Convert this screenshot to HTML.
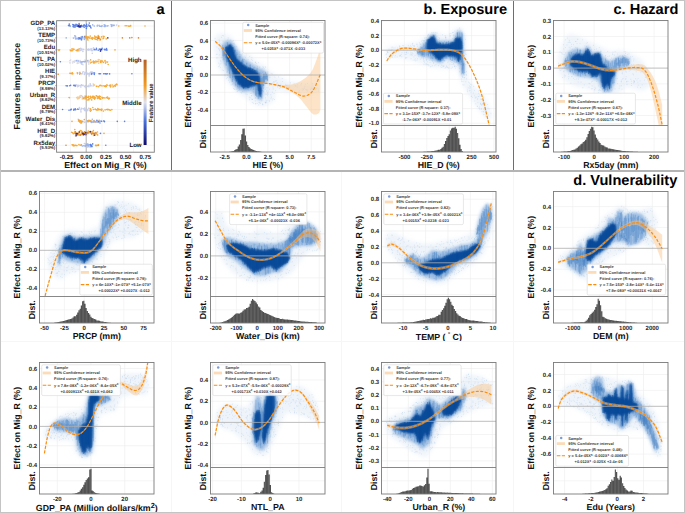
<!DOCTYPE html>
<html><head><meta charset="utf-8"><style>
html,body{margin:0;padding:0;background:#fff;width:685px;height:513px;overflow:hidden}
svg{display:block;font-family:"Liberation Sans", sans-serif;text-rendering:geometricPrecision}
</style></head><body>
<svg width="685" height="513" viewBox="0 0 685 513">
<defs>
<pattern id="hpat" patternUnits="userSpaceOnUse" width="1.4" height="10"><rect width="1.4" height="10" fill="#646464"/><rect width="0.45" height="10" fill="#404040"/></pattern>
<filter id="bl0" x="-20%" y="-20%" width="140%" height="140%"><feGaussianBlur stdDeviation="1.0"/></filter>
<filter id="bl1" x="-20%" y="-20%" width="140%" height="140%"><feGaussianBlur stdDeviation="1.6"/></filter>
<filter id="bl2" x="-20%" y="-20%" width="140%" height="140%"><feGaussianBlur stdDeviation="2.5"/></filter>
<clipPath id="c_HIE"><rect x="210.5" y="20.5" width="114.5" height="105"/></clipPath>
<clipPath id="c_HIE_D"><rect x="381.5" y="20.5" width="114.5" height="105"/></clipPath>
<clipPath id="c_Rx5day"><rect x="553.5" y="20.5" width="114.5" height="105"/></clipPath>
<clipPath id="c_PRCP"><rect x="39.5" y="191.5" width="114.5" height="105"/></clipPath>
<clipPath id="c_Water_Dis"><rect x="210.5" y="191.5" width="114.5" height="105"/></clipPath>
<clipPath id="c_TEMP"><rect x="381.5" y="191.5" width="114.5" height="105"/></clipPath>
<clipPath id="c_DEM"><rect x="553.5" y="191.5" width="114.5" height="105"/></clipPath>
<clipPath id="c_GDP_PA"><rect x="39.5" y="362.5" width="114.5" height="105"/></clipPath>
<clipPath id="c_NTL_PA"><rect x="210.5" y="362.5" width="114.5" height="105"/></clipPath>
<clipPath id="c_Urban_R"><rect x="381.5" y="362.5" width="114.5" height="105"/></clipPath>
<clipPath id="c_Edu"><rect x="553.5" y="362.5" width="114.5" height="105"/></clipPath>
</defs>
<rect x="0" y="0" width="685" height="513" fill="#fff"/>
<path d="M224.7 20.5V152M246.3 20.5V152M267.9 20.5V152M289.6 20.5V152M311.2 20.5V152M210.5 23.1H325M210.5 40.4H325M210.5 57.7H325M210.5 92.3H325M210.5 109.6H325M210.5 138.8H325" stroke="#ececec" stroke-width="0.6" fill="none"/>
<g clip-path="url(#c_HIE)">
<path d="M214.3 36.2 L221.4 33.1 L230.7 36.2 L238.5 48.7 L247.9 53.3 L255.7 61.2 L265.0 66.0 L272.8 74.0 L290.0 82.0 L318.0 84.0 L320.0 92.0 L290.0 93.0 L275.9 89.3 L274.4 100.2 L265.0 106.4 L255.7 104.9 L244.7 97.1 L235.4 90.8 L226.0 79.9 L218.2 65.9 L214.3 50.3Z" fill="#dde9f6" fill-opacity="0.5" filter="url(#bl2)"/>
<path d="M245.9 72.7h0M218.8 48.4h0M272.4 92.2h0M220.5 43.9h0M281.0 84.2h0M259.7 102.8h0M222.3 70.0h0M236.8 63.0h0M259.8 96.0h0M220.3 60.8h0M307.7 83.4h0M229.0 59.4h0M274.1 93.5h0M263.6 91.7h0M305.3 84.2h0M242.5 78.5h0M220.9 63.7h0M230.5 74.9h0M259.8 66.3h0M269.5 101.3h0M219.6 65.9h0M239.4 52.1h0M261.2 73.6h0M265.4 97.9h0M233.5 88.5h0M243.6 51.9h0M294.1 83.7h0M267.5 93.3h0M273.1 98.7h0M259.1 85.5h0M252.3 74.5h0M246.0 94.0h0M257.5 96.2h0M274.4 99.5h0M269.9 77.3h0M226.3 78.6h0M256.1 75.4h0M258.0 66.2h0M252.3 66.3h0M266.2 93.9h0M312.9 88.3h0M237.2 50.3h0M253.6 103.3h0M264.9 87.2h0M218.7 49.0h0M242.4 53.7h0M269.3 89.2h0M243.1 76.5h0M255.7 68.0h0M267.7 79.5h0M219.4 50.6h0M261.1 99.1h0M232.2 45.6h0M243.7 88.6h0M255.8 103.7h0M227.4 72.1h0M297.3 87.1h0M229.4 65.5h0M219.9 64.2h0M301.0 84.8h0M238.6 73.1h0M312.9 86.0h0M234.7 68.4h0M261.3 74.0h0M267.4 95.6h0M235.7 84.5h0M316.4 88.8h0M243.1 80.5h0M299.8 92.5h0M257.3 87.1h0M244.0 71.0h0M262.4 103.8h0M248.2 79.9h0M236.8 46.7h0M246.2 81.6h0M258.0 73.9h0M221.4 37.3h0M260.8 94.0h0M302.2 90.1h0M258.9 93.2h0M230.5 69.3h0M221.0 61.8h0M318.5 91.0h0M227.6 51.6h0M241.5 74.8h0M259.7 67.5h0M256.8 89.7h0M219.7 54.9h0M246.6 63.3h0M230.5 40.1h0M261.1 75.1h0M234.6 89.2h0M268.0 90.3h0M286.1 85.8h0M238.1 80.6h0M263.6 77.0h0M219.4 44.4h0M223.6 48.5h0M247.4 79.7h0M252.3 102.5h0M224.3 63.1h0M244.9 56.3h0M232.4 79.7h0M252.2 63.1h0M271.2 73.6h0M295.2 85.8h0M217.8 57.9h0M245.4 76.3h0M272.3 100.0h0M248.1 85.9h0M250.4 85.4h0M220.6 67.3h0M261.7 78.4h0M254.4 80.4h0M237.2 54.2h0M251.1 77.5h0M229.1 71.1h0M267.6 92.4h0M310.4 89.4h0M224.3 51.0h0M306.9 90.2h0M249.7 56.4h0M217.0 47.0h0M239.4 89.4h0M253.8 92.2h0M231.3 62.4h0M275.7 90.7h0M312.3 91.2h0M241.6 66.7h0M266.5 87.9h0M229.1 76.3h0M248.0 73.9h0M231.6 58.2h0M217.2 54.4h0M234.5 80.6h0M250.6 65.8h0M234.9 71.9h0M274.8 77.1h0M243.0 75.0h0M258.2 93.6h0M260.6 94.9h0M235.5 68.4h0M261.8 100.7h0M246.4 63.8h0M273.8 81.9h0M264.3 68.8h0M251.5 93.3h0M229.3 72.6h0M226.1 56.9h0M276.1 80.5h0M234.7 46.6h0M256.7 63.5h0M269.7 85.6h0M260.3 103.4h0M222.0 47.5h0M266.0 102.8h0M255.7 95.5h0M280.5 87.5h0M266.7 76.2h0M245.8 68.3h0M224.6 61.6h0M222.3 35.5h0M254.4 67.8h0M260.4 88.3h0M227.8 39.9h0M274.0 82.8h0M239.2 67.0h0M261.9 87.2h0M244.0 79.7h0M265.8 75.1h0M279.8 88.4h0M237.5 87.2h0M228.2 38.0h0M287.1 85.1h0M245.3 65.3h0M255.7 62.3h0M265.9 100.1h0M257.2 103.5h0M224.0 48.3h0M252.8 84.5h0M240.9 92.4h0M228.2 43.2h0M226.7 42.3h0M237.8 91.0h0M226.0 74.2h0M282.5 81.5h0M269.2 100.4h0M245.2 67.4h0M250.0 97.9h0M262.0 86.3h0M241.5 67.1h0M245.4 57.5h0M242.4 91.6h0M252.7 60.4h0M216.5 54.3h0M252.4 99.5h0M226.4 43.6h0M296.0 86.0h0M255.1 64.8h0M227.4 60.0h0M237.8 74.9h0M299.6 90.8h0M257.1 98.1h0M228.4 80.2h0M235.0 89.3h0M270.8 94.7h0M263.9 85.2h0M224.1 46.2h0M305.8 89.3h0M244.2 68.4h0M288.4 87.6h0M266.3 102.0h0M219.1 40.1h0M301.6 83.4h0M271.0 98.7h0M241.1 55.0h0M258.8 104.9h0M222.4 57.2h0M280.9 86.4h0M273.2 88.9h0M218.7 66.7h0M265.4 102.9h0M267.8 72.1h0M233.7 55.6h0M233.9 71.8h0M257.2 66.6h0M255.2 80.2h0M237.7 60.3h0M223.0 41.3h0M261.4 77.0h0M236.3 89.3h0M298.8 92.2h0M227.3 77.5h0M225.2 46.0h0M236.0 46.2h0M250.7 89.2h0M267.0 79.2h0M248.8 90.4h0M266.5 90.3h0M266.3 75.0h0M222.0 44.7h0M223.7 61.0h0M225.2 47.0h0M245.1 82.1h0M225.5 52.8h0M256.9 65.3h0M253.4 80.6h0M279.8 86.2h0M258.5 62.7h0M286.0 85.1h0M223.4 35.8h0M224.3 49.2h0M243.3 79.4h0M255.3 62.9h0M237.4 73.0h0M272.3 74.0h0M317.1 88.1h0M219.1 42.9h0M253.5 83.0h0M236.5 77.2h0M272.6 83.1h0M231.7 46.9h0M258.6 88.4h0M261.0 76.3h0M271.5 97.2h0M221.2 57.4h0M282.3 78.6h0M267.5 83.5h0M294.3 92.0h0M248.6 79.1h0M230.4 77.3h0M252.2 86.0h0M231.1 84.9h0M232.0 41.1h0M223.5 70.5h0M256.5 85.0h0M257.4 67.3h0M232.4 71.0h0M259.0 102.4h0M251.6 95.6h0M250.6 74.4h0M256.2 72.5h0M219.4 49.4h0M236.2 56.0h0M250.3 93.5h0M260.0 82.8h0M227.6 75.1h0M242.8 69.3h0M268.5 92.0h0M227.3 58.6h0M215.1 38.4h0M263.4 67.3h0M304.9 86.2h0M255.2 98.2h0M260.0 83.8h0M232.6 84.2h0M261.0 96.4h0M307.0 89.7h0M233.8 63.8h0M244.1 59.5h0M243.6 72.0h0M245.4 67.7h0M252.9 74.3h0M236.1 64.4h0M262.0 76.3h0M312.5 89.4h0M255.6 100.9h0M262.9 66.4h0M268.0 93.9h0M251.8 95.8h0M239.6 56.8h0M277.4 86.9h0M249.7 97.1h0M252.0 86.4h0M262.9 90.8h0M225.7 75.8h0M250.1 62.9h0M253.1 91.8h0M261.4 87.7h0M287.7 88.3h0M278.6 76.9h0M304.6 88.1h0M241.7 93.0h0M238.5 76.2h0M227.8 51.3h0M255.1 89.1h0M247.7 73.1h0M264.0 71.7h0M303.5 89.6h0M236.7 67.7h0M228.1 53.3h0M273.0 86.9h0M259.8 76.8h0M237.2 91.6h0M265.1 67.1h0M255.4 97.6h0M257.7 80.6h0M231.3 73.7h0M265.1 93.9h0M297.7 84.8h0M241.6 65.8h0M230.3 44.4h0M229.0 63.7h0M251.9 98.9h0M266.2 74.2h0M245.0 81.4h0M252.0 77.0h0M229.3 55.7h0M255.3 62.2h0M226.5 64.3h0M225.1 63.5h0M262.3 72.5h0M236.6 63.3h0M265.4 102.4h0M224.8 75.6h0M277.7 83.0h0M311.2 88.3h0M233.1 73.7h0M303.0 88.6h0M256.8 83.1h0M292.9 89.9h0M233.5 78.3h0M252.1 78.0h0M233.7 43.4h0M234.6 44.1h0M256.3 72.3h0M241.1 84.3h0M268.0 94.5h0M242.6 60.1h0M285.4 84.3h0M232.1 73.2h0M237.0 79.1h0M232.4 64.7h0M276.8 83.2h0M239.3 69.2h0M265.1 102.4h0M258.8 99.0h0M307.8 91.2h0M235.9 50.9h0M219.5 41.1h0M232.0 73.2h0M263.0 104.6h0M242.7 82.9h0M262.5 104.7h0M247.5 66.8h0M229.9 73.2h0M256.8 89.0h0M232.8 49.0h0M232.4 61.6h0M236.6 66.4h0M234.9 57.3h0M256.6 95.7h0M248.1 59.7h0M239.8 54.5h0M265.3 89.1h0M247.5 80.3h0M257.6 71.6h0M249.8 79.2h0M251.7 59.6h0M237.9 88.8h0M242.9 85.1h0M265.7 67.0h0M225.0 64.7h0M297.8 92.6h0M266.8 91.6h0M237.8 54.2h0M267.2 76.3h0M263.0 91.0h0M235.9 66.4h0M228.2 56.5h0M257.2 89.1h0M226.6 72.2h0M229.4 82.1h0M312.6 83.8h0M244.0 73.6h0M252.1 99.5h0M249.3 81.9h0M229.4 57.7h0M262.9 68.3h0M267.9 87.8h0M234.9 51.0h0M274.0 81.7h0M227.3 71.4h0M262.7 90.5h0M262.0 98.4h0M286.3 88.0h0M255.4 103.7h0M290.5 82.8h0M233.4 40.7h0M229.2 51.3h0M244.6 59.5h0M280.1 85.1h0M225.3 45.3h0M256.1 69.8h0M233.3 59.0h0M246.6 74.9h0M248.1 89.4h0M247.7 74.4h0M249.2 68.4h0M217.3 44.0h0M216.6 57.9h0M265.9 102.0h0M289.7 87.2h0M249.7 99.7h0M238.9 90.4h0M266.9 100.5h0M248.4 77.2h0M313.3 89.8h0M232.2 46.8h0M261.1 96.9h0M240.7 66.0h0M243.4 61.6h0M251.9 57.8h0M224.9 74.5h0M254.2 66.9h0M235.2 71.6h0M230.7 56.3h0M256.2 77.2h0M247.2 94.4h0M318.5 89.0h0M275.8 81.3h0M270.4 83.9h0M266.2 94.6h0M218.7 63.1h0" stroke="#a3c2e6" stroke-opacity="0.35" stroke-width="1" stroke-linecap="round"/>
<path d="M221.5 46.0 L225.0 41.0 L231.0 40.5 L236.0 47.0 L243.0 58.0 L252.0 64.0 L259.0 68.0 L264.0 70.0 L268.0 74.0 L267.5 82.0 L264.0 84.0 L263.0 95.0 L261.0 101.0 L257.0 98.0 L252.0 91.0 L244.0 92.0 L238.0 90.0 L233.0 84.0 L228.0 74.0 L223.0 60.0Z" fill="#4d8acb" fill-opacity="0.5" filter="url(#bl1)"/>
<path d="M221.6 46.0V46.6M222.0 47.3V48.4M222.7 45.0V56.2M223.3 47.6V60.2M223.7 47.0V56.3M224.5 49.1V55.9M224.8 50.1V60.4M225.5 51.2V58.0M226.2 49.9V65.9M226.6 51.7V62.6M227.1 49.8V62.0M227.5 42.1V59.2M228.2 48.2V70.8M229.0 52.4V61.0M229.5 45.1V74.4M230.1 53.9V78.1M230.7 43.4V67.4M231.2 44.2V65.0M231.8 59.4V65.2M232.3 52.0V82.0M232.7 61.0V77.9M233.3 54.7V76.5M234.0 56.6V80.1M234.6 62.4V77.5M235.3 49.5V80.9M235.9 54.2V86.1M236.2 63.6V82.2M236.8 51.9V72.0M237.6 64.9V87.1M238.1 56.2V77.7M238.5 60.4V74.9M239.1 59.9V88.4M239.9 55.9V77.7M240.6 63.8V81.0M241.2 70.6V79.6M241.6 59.8V80.7M242.2 70.9V81.0M242.6 58.7V76.5M243.0 59.4V82.7M243.7 65.1V85.8M244.2 69.9V82.8M244.9 72.8V78.9M245.7 69.9V79.1M246.3 66.0V81.4M246.8 62.7V78.9M247.5 69.9V87.7M248.0 67.8V89.3M248.3 74.9V80.8M248.9 73.1V86.2M249.3 64.7V79.8M249.8 68.5V80.0M250.5 64.4V81.5M251.0 71.5V84.2M251.6 69.4V88.4M252.3 68.9V87.4M252.8 69.2V87.1M253.3 77.3V83.6M253.8 67.3V89.9M254.2 74.0V86.6M254.8 74.5V87.2M255.6 75.6V95.6M256.0 69.6V94.9M256.7 70.0V96.8M257.1 68.1V87.4M257.8 79.5V89.9M258.3 76.8V98.9M259.1 76.9V86.4M259.8 72.5V96.2M260.3 77.8V90.1M261.0 74.9V91.2M261.7 78.5V97.8M262.1 77.4V87.4M262.8 76.5V85.9M263.2 74.0V89.1M263.7 73.9V86.0M264.1 73.7V83.8M264.6 74.2V82.7M265.1 75.9V79.4M265.6 71.8V80.0M266.1 74.2V78.9M266.5 74.0V79.7M267.2 73.6V81.2M267.6 75.2V80.6" stroke="#2f71bb" stroke-opacity="0.3" stroke-width="0.9" fill="none"/>
<path d="M225.5 47.0 L230.5 44.5 L233.5 48.0 L236.0 58.0 L242.7 64.0 L247.0 67.0 L252.3 69.5 L257.7 72.2 L259.5 75.0 L260.0 84.0 L261.5 90.0 L260.5 98.0 L258.5 93.0 L257.7 84.5 L252.3 86.0 L245.0 88.5 L240.0 86.0 L237.0 81.5 L233.0 73.0 L228.0 61.0 L225.5 52.0Z" fill="#0b4e9d" filter="url(#bl0)"/>
<path d="M225.6 47.1V52.0M226.0 46.7V52.9M226.5 46.9V56.2M227.1 46.4V58.4M227.8 47.9V59.1M228.2 47.8V62.0M228.8 45.3V61.5M229.2 44.2V61.8M229.8 45.0V64.1M230.4 44.8V66.4M231.2 46.3V68.9M231.6 47.3V66.6M232.2 47.3V70.6M232.9 47.0V72.1M233.6 51.9V74.8M234.1 49.9V72.2M234.7 55.1V75.3M235.2 57.5V77.3M235.7 56.7V79.1M236.1 58.8V79.0M236.6 60.8V81.4M237.2 59.2V80.5M237.9 60.5V84.4M238.5 62.3V83.4M239.0 61.1V85.0M239.4 62.8V84.3M240.0 62.7V84.8M240.4 61.9V83.3M241.2 62.7V83.0M241.8 61.7V86.7M242.4 65.0V86.7M243.0 65.6V87.9M243.4 65.9V88.9M244.1 64.4V88.1M244.6 66.9V86.1M245.2 65.3V86.9M245.7 66.4V86.0M246.2 67.4V87.1M246.9 66.8V87.1M247.4 69.4V87.7M248.0 68.4V87.9M248.7 67.4V88.1M249.0 67.6V87.4M249.8 68.1V87.6M250.3 67.5V85.0M250.9 67.8V86.9M251.4 70.9V85.5M251.9 68.4V83.8M252.3 68.7V85.2M252.7 72.1V84.6M253.1 68.8V85.3M253.9 70.4V86.2M254.3 69.7V83.3M254.8 69.9V85.4M255.5 70.4V85.0M256.3 72.7V83.2M256.9 73.2V84.1M257.7 72.7V83.5M258.3 75.3V90.9M259.0 74.5V91.4M259.6 77.3V94.7M260.3 84.8V96.7M260.9 87.7V94.2" stroke="#0a4a98" stroke-opacity="0.55" stroke-width="0.8" fill="none"/>
<path d="M215.2 40.7 L215.7 41.2 L216.2 41.8 L216.7 42.3 L217.2 42.8 L217.7 43.3 L218.2 43.8 L218.7 44.4 L219.2 44.9 L219.7 45.4 L220.2 45.9 L220.7 46.4 L221.2 47 L221.7 47.5 L222.2 48 L222.7 48.6 L223.2 49.2 L223.7 49.8 L224.2 50.4 L224.7 51 L225.2 51.6 L225.7 52.3 L226.2 52.9 L226.7 53.6 L227.2 54.4 L227.7 55.1 L228.2 55.8 L228.7 56.6 L229.2 57.3 L229.7 58.1 L230.2 58.8 L230.7 59.6 L231.2 60.3 L231.7 61 L232.2 61.7 L232.7 62.4 L233.1 63.1 L233.6 63.8 L234.1 64.4 L234.6 65 L235.1 65.7 L235.6 66.3 L236.1 66.9 L236.6 67.6 L237.1 68.2 L237.6 68.8 L238.1 69.4 L238.6 69.9 L239.1 70.5 L239.6 71.1 L240.1 71.6 L240.6 72.1 L241.1 72.6 L241.6 73.1 L242.1 73.6 L242.6 74.1 L243.1 74.5 L243.6 75 L244.1 75.4 L244.6 75.8 L245.1 76.2 L245.6 76.6 L246.1 76.9 L246.6 77.3 L247.1 77.7 L247.6 78 L248.1 78.3 L248.6 78.6 L249.1 78.9 L249.6 79.2 L250.1 79.4 L250.6 79.7 L251.1 79.9 L251.6 80.2 L252.1 80.4 L252.6 80.5 L253.1 80.7 L253.6 80.9 L254.1 81 L254.6 81.2 L255.1 81.3 L255.6 81.4 L256.1 81.5 L256.6 81.6 L257.1 81.7 L257.6 81.8 L258.1 81.9 L258.6 82 L259.1 82.1 L259.6 82.1 L260.1 82.2 L260.6 82.3 L261.1 82.3 L261.6 82.4 L262.1 82.4 L262.6 82.5 L263.1 82.5 L263.6 82.5 L264.1 82.6 L264.6 82.6 L265.1 82.6 L265.6 82.6 L266.1 82.7 L266.6 82.7 L267.1 82.7 L267.6 82.8 L268 82.8 L268.5 82.9 L269 82.9 L269.5 83 L270 83.1 L270.5 83.1 L271 83.2 L271.5 83.3 L272 83.4 L272.5 83.5 L273 83.6 L273.5 83.7 L274 83.8 L274.5 83.9 L275 84 L275.5 84.1 L276 84.2 L276.5 84.4 L277 84.5 L277.5 84.6 L278 84.7 L278.5 84.8 L279 84.9 L279.5 84.9 L280 85 L280.5 85.1 L281 85.1 L281.5 85.1 L282 85.1 L282.5 85.1 L283 85.1 L283.5 85.1 L284 85.1 L284.5 85 L285 85 L285.5 85 L286 84.9 L286.5 84.9 L287 84.9 L287.5 84.8 L288 84.8 L288.5 84.8 L289 84.7 L289.5 84.7 L290 84.6 L290.5 84.6 L291 84.5 L291.5 84.5 L292 84.4 L292.5 84.3 L293 84.2 L293.5 84.1 L294 83.9 L294.5 83.8 L295 83.6 L295.5 83.4 L296 83.3 L296.5 83.1 L297 82.9 L297.5 82.6 L298 82.4 L298.5 82.2 L299 81.9 L299.5 81.7 L300 81.4 L300.5 81.2 L301 80.9 L301.5 80.6 L302 80.3 L302.5 79.9 L302.9 79.6 L303.4 79.3 L303.9 78.9 L304.4 78.5 L304.9 78.2 L305.4 77.8 L305.9 77.4 L306.4 77 L306.9 76.6 L307.4 76.1 L307.9 75.7 L308.4 75.2 L308.9 74.7 L309.4 74.1 L309.9 73.5 L310.4 72.9 L310.9 72.3 L311.4 71.6 L311.9 70.8 L312.4 69.9 L312.9 68.9 L313.4 67.8 L313.9 66.6 L314.4 65.3 L314.9 64 L315.4 62.7 L315.9 61.3 L316.4 60 L316.9 58.6 L317.4 57.2 L317.9 55.7 L318.4 54.2 L318.9 52.6 L319.4 51.1 L319.9 49.5 L320.4 48 L320.4 110 L319.9 111.1 L319.4 112.2 L318.9 113.1 L318.4 113.5 L317.9 113.8 L317.4 114 L316.9 114.2 L316.4 114.4 L315.9 114.5 L315.4 114.6 L314.9 114.7 L314.4 114.6 L313.9 114.5 L313.4 114.4 L312.9 114.1 L312.4 113.8 L311.9 113.3 L311.4 112.9 L310.9 112.3 L310.4 111.7 L309.9 111.1 L309.4 110.5 L308.9 109.8 L308.4 109.2 L307.9 108.5 L307.4 107.9 L306.9 107.2 L306.4 106.6 L305.9 106 L305.4 105.4 L304.9 104.8 L304.4 104.1 L303.9 103.5 L303.4 102.8 L302.9 102.2 L302.5 101.5 L302 100.9 L301.5 100.3 L301 99.8 L300.5 99.2 L300 98.7 L299.5 98.2 L299 97.8 L298.5 97.3 L298 96.8 L297.5 96.4 L297 96 L296.5 95.6 L296 95.2 L295.5 94.8 L295 94.4 L294.5 94.1 L294 93.7 L293.5 93.4 L293 93 L292.5 92.7 L292 92.4 L291.5 92.1 L291 91.8 L290.5 91.5 L290 91.2 L289.5 90.9 L289 90.6 L288.5 90.3 L288 90 L287.5 89.8 L287 89.5 L286.5 89.2 L286 89 L285.5 88.7 L285 88.5 L284.5 88.3 L284 88.1 L283.5 87.9 L283 87.8 L282.5 87.6 L282 87.5 L281.5 87.4 L281 87.3 L280.5 87.1 L280 87 L279.5 86.9 L279 86.7 L278.5 86.6 L278 86.5 L277.5 86.3 L277 86.2 L276.5 86.1 L276 85.9 L275.5 85.8 L275 85.7 L274.5 85.6 L274 85.4 L273.5 85.3 L273 85.2 L272.5 85.1 L272 85 L271.5 84.8 L271 84.7 L270.5 84.6 L270 84.5 L269.5 84.4 L269 84.4 L268.5 84.3 L268 84.2 L267.6 84.2 L267.1 84.1 L266.6 84.1 L266.1 84 L265.6 84 L265.1 84 L264.6 84 L264.1 83.9 L263.6 83.9 L263.1 83.9 L262.6 83.9 L262.1 83.8 L261.6 83.8 L261.1 83.7 L260.6 83.7 L260.1 83.6 L259.6 83.5 L259.1 83.5 L258.6 83.4 L258.1 83.3 L257.6 83.2 L257.1 83.1 L256.6 83 L256.1 82.9 L255.6 82.8 L255.1 82.7 L254.6 82.6 L254.1 82.4 L253.6 82.3 L253.1 82.1 L252.6 81.9 L252.1 81.8 L251.6 81.6 L251.1 81.3 L250.6 81.1 L250.1 80.8 L249.6 80.6 L249.1 80.3 L248.6 80 L248.1 79.7 L247.6 79.4 L247.1 79.1 L246.6 78.7 L246.1 78.3 L245.6 78 L245.1 77.6 L244.6 77.2 L244.1 76.8 L243.6 76.4 L243.1 75.9 L242.6 75.5 L242.1 75 L241.6 74.5 L241.1 74 L240.6 73.5 L240.1 73 L239.6 72.5 L239.1 71.9 L238.6 71.3 L238.1 70.8 L237.6 70.2 L237.1 69.6 L236.6 69 L236.1 68.3 L235.6 67.7 L235.1 67.1 L234.6 66.4 L234.1 65.8 L233.6 65.2 L233.1 64.5 L232.7 63.8 L232.2 63.1 L231.7 62.4 L231.2 61.7 L230.7 61 L230.2 60.2 L229.7 59.5 L229.2 58.7 L228.7 58 L228.2 57.2 L227.7 56.5 L227.2 55.8 L226.7 55 L226.2 54.3 L225.7 53.7 L225.2 53 L224.7 52.4 L224.2 51.8 L223.7 51.2 L223.2 50.6 L222.7 50 L222.2 49.4 L221.7 48.9 L221.2 48.4 L220.7 47.8 L220.2 47.3 L219.7 46.8 L219.2 46.3 L218.7 45.8 L218.2 45.2 L217.7 44.7 L217.2 44.2 L216.7 43.7 L216.2 43.2 L215.7 42.6 L215.2 42.1 Z" fill="#fbc386" fill-opacity="0.45"/>
<path d="M210.5 75H325" stroke="#adadad" stroke-width="0.8"/>
<path d="M215.2 41.4 L215.7 41.8 L216.2 42.3 L216.7 42.7 L217.2 43.1 L217.7 43.5 L218.2 44 L218.7 44.4 L219.2 44.9 L219.7 45.4 L220.2 45.9 L220.7 46.4 L221.2 47 L221.7 47.6 L222.2 48.3 L222.7 48.9 L223.2 49.6 L223.7 50.3 L224.2 51 L224.7 51.7 L225.2 52.4 L225.7 53.1 L226.2 53.8 L226.7 54.5 L227.2 55.2 L227.7 56 L228.2 56.7 L228.7 57.4 L229.2 58.1 L229.7 58.8 L230.2 59.6 L230.7 60.3 L231.2 61 L231.7 61.7 L232.2 62.4 L232.7 63.1 L233.1 63.8 L233.6 64.5 L234.1 65.1 L234.6 65.8 L235.1 66.4 L235.6 67.1 L236.1 67.7 L236.6 68.3 L237.1 68.9 L237.6 69.5 L238.1 70.1 L238.6 70.7 L239.1 71.2 L239.6 71.8 L240.1 72.3 L240.6 72.8 L241.1 73.3 L241.6 73.8 L242.1 74.3 L242.6 74.8 L243.1 75.3 L243.6 75.7 L244.1 76.2 L244.6 76.6 L245.1 77 L245.6 77.4 L246.1 77.8 L246.6 78.1 L247.1 78.5 L247.6 78.8 L248.1 79.1 L248.6 79.4 L249.1 79.6 L249.6 79.9 L250.1 80.2 L250.6 80.4 L251.1 80.6 L251.6 80.8 L252.1 81 L252.6 81.2 L253.1 81.4 L253.6 81.6 L254.1 81.7 L254.6 81.9 L255.1 82 L255.6 82.2 L256.1 82.3 L256.6 82.4 L257.1 82.5 L257.6 82.5 L258.1 82.6 L258.6 82.7 L259.1 82.8 L259.6 82.8 L260.1 82.9 L260.6 83 L261.1 83 L261.6 83 L262.1 83.1 L262.6 83.1 L263.1 83.2 L263.6 83.2 L264.1 83.2 L264.6 83.3 L265.1 83.3 L265.6 83.3 L266.1 83.3 L266.6 83.4 L267.1 83.4 L267.6 83.5 L268 83.5 L268.5 83.6 L269 83.6 L269.5 83.7 L270 83.8 L270.5 83.9 L271 84 L271.5 84.1 L272 84.2 L272.5 84.3 L273 84.4 L273.5 84.5 L274 84.6 L274.5 84.6 L275 84.7 L275.5 84.8 L276 84.9 L276.5 85 L277 85.1 L277.5 85.2 L278 85.3 L278.5 85.4 L279 85.5 L279.5 85.6 L280 85.7 L280.5 85.8 L281 86 L281.5 86.1 L282 86.2 L282.5 86.4 L283 86.6 L283.5 86.7 L284 86.9 L284.5 87.1 L285 87.3 L285.5 87.6 L286 87.8 L286.5 88 L287 88.3 L287.5 88.6 L288 88.8 L288.5 89.1 L289 89.3 L289.5 89.6 L290 89.9 L290.5 90.2 L291 90.4 L291.5 90.7 L292 91 L292.5 91.2 L293 91.5 L293.5 91.8 L294 92 L294.5 92.2 L295 92.5 L295.5 92.7 L296 93 L296.5 93.3 L297 93.6 L297.5 93.9 L298 94.2 L298.5 94.4 L299 94.7 L299.5 95 L300 95.2 L300.5 95.4 L301 95.6 L301.5 95.8 L302 95.9 L302.5 96 L302.9 96.1 L303.4 96.1 L303.9 96.1 L304.4 96 L304.9 96 L305.4 95.9 L305.9 95.8 L306.4 95.6 L306.9 95.5 L307.4 95.3 L307.9 95.1 L308.4 94.8 L308.9 94.5 L309.4 94.2 L309.9 93.8 L310.4 93.4 L310.9 93 L311.4 92.5 L311.9 91.9 L312.4 91.3 L312.9 90.6 L313.4 89.8 L313.9 89 L314.4 88 L314.9 87 L315.4 86 L315.9 84.9 L316.4 83.7 L316.9 82.5 L317.4 81.3 L317.9 80.2 L318.4 79 L318.9 77.8 L319.4 76.6 L319.9 75.5 L320.4 74.4" fill="none" stroke="#fb8c0c" stroke-width="1.2" stroke-dasharray="3 1.5"/>
</g>
<rect x="242.8" y="22.3" width="80.7" height="30.8" rx="1.5" fill="#fff" fill-opacity="0.85" stroke="#d6d6d6" stroke-width="0.6"/>
<circle cx="248.2" cy="25" r="1.25" fill="#7b9bd8"/>
<rect x="243.8" y="29.1" width="8.2" height="2.8" fill="#fcdcb8"/>
<path d="M243.8 42.7h8.2" stroke="#fb8c0c" stroke-width="1.1" stroke-dasharray="3.6 1.4"/>
<text transform="translate(255.2 26.5) scale(0.1)" font-size="39.5" font-weight="bold" fill="#3a3a3a">Sample</text>
<text transform="translate(255.2 31.9) scale(0.1)" font-size="39.5" font-weight="bold" fill="#3a3a3a">95% Confidence interval</text>
<text transform="translate(255.2 37.7) scale(0.1)" font-size="39.5" font-weight="bold" fill="#3a3a3a">Fitted curve (R-square: 0.74):</text>
<text transform="translate(255.2 44.1) scale(0.1)" font-size="39.5" font-weight="bold" fill="#3a3a3a">y = 5.0e-05X<tspan dy="-14" font-size="27.7">5</tspan><tspan dy="14"> </tspan> -0.00096X<tspan dy="-14" font-size="27.7">4</tspan><tspan dy="14"> </tspan> -0.00072X<tspan dy="-14" font-size="27.7">3</tspan><tspan dy="14"> </tspan></text>
<text transform="translate(261.6 50.2) scale(0.1)" font-size="39.5" font-weight="bold" fill="#3a3a3a">+0.025X<tspan dy="-14" font-size="27.7">2</tspan><tspan dy="14"> </tspan> -0.071X -0.033</text>
<path d="M228 152 L228 151.9 L229.2 151.9 L229.2 151.7 L230.4 151.7 L230.4 151.5 L231.6 151.5 L231.6 151.3 L232.8 151.3 L232.8 151 L234 151 L234 150.3 L235.2 150.3 L235.2 149.5 L236.4 149.5 L236.4 149.1 L237.6 149.1 L237.6 146.6 L238.8 146.6 L238.8 144.6 L240 144.6 L240 140.1 L241.2 140.1 L241.2 134.2 L242.4 134.2 L242.4 128.7 L243.6 128.7 L243.6 128.4 L244.8 128.4 L244.8 135.4 L246 135.4 L246 141.6 L247.2 141.6 L247.2 144.9 L248.4 144.9 L248.4 147 L249.6 147 L249.6 148.3 L250.8 148.3 L250.8 149 L252 149 L252 149.5 L253.2 149.5 L253.2 150.1 L254.4 150.1 L254.4 150.6 L255.6 150.6 L255.6 151 L256.8 151 L256.8 151.2 L258 151.2 L258 151.3 L259.2 151.3 L259.2 151.5 L260.4 151.5 L260.4 151.7 L261.6 151.7 L261.6 151.9 L262.8 151.9 L262.8 152 L264 152 L263 152 Z" fill="url(#hpat)"/>
<rect x="210.5" y="20.5" width="114.5" height="131.5" fill="none" stroke="#7a7a7a" stroke-width="0.9"/>
<path d="M210.5 125.5H325" stroke="#7a7a7a" stroke-width="0.9"/>
<text x="208.2" y="25.2" font-size="6" text-anchor="end" font-weight="bold" fill="#2a2a2a">0.6</text>
<text x="208.2" y="42.5" font-size="6" text-anchor="end" font-weight="bold" fill="#2a2a2a">0.4</text>
<text x="208.2" y="59.8" font-size="6" text-anchor="end" font-weight="bold" fill="#2a2a2a">0.2</text>
<text x="208.2" y="77.1" font-size="6" text-anchor="end" font-weight="bold" fill="#2a2a2a">0.0</text>
<text x="208.2" y="94.4" font-size="6" text-anchor="end" font-weight="bold" fill="#2a2a2a">-0.2</text>
<text x="208.2" y="111.7" font-size="6" text-anchor="end" font-weight="bold" fill="#2a2a2a">-0.4</text>
<text x="224.7" y="159" font-size="6" text-anchor="middle" font-weight="bold" fill="#2a2a2a">-2.5</text>
<text x="246.3" y="159" font-size="6" text-anchor="middle" font-weight="bold" fill="#2a2a2a">0.0</text>
<text x="267.9" y="159" font-size="6" text-anchor="middle" font-weight="bold" fill="#2a2a2a">2.5</text>
<text x="289.6" y="159" font-size="6" text-anchor="middle" font-weight="bold" fill="#2a2a2a">5.0</text>
<text x="311.2" y="159" font-size="6" text-anchor="middle" font-weight="bold" fill="#2a2a2a">7.5</text>
<text x="267.8" y="168.2" font-size="8.8" text-anchor="middle" font-weight="bold" fill="#111">HIE (%)</text>
<text x="191" y="86.2" font-size="8.8" text-anchor="middle" font-weight="bold" fill="#111" transform="rotate(-90 191 86.2)">Effect on Mig_R (%)</text>
<text x="206.3" y="138.8" font-size="8.8" text-anchor="middle" font-weight="bold" fill="#111" transform="rotate(-90 206.3 138.8)">Dist.</text>
<path d="M404.4 20.5V152M426.8 20.5V152M449.2 20.5V152M471.6 20.5V152M494 20.5V152M381.5 21H496M381.5 35.6H496M381.5 64.8H496M381.5 79.4H496M381.5 94H496M381.5 108.6H496M381.5 123.2H496M381.5 138.8H496" stroke="#ececec" stroke-width="0.6" fill="none"/>
<g clip-path="url(#c_HIE_D)">
<path d="M386.0 48.0 L400.0 45.4 L409.4 43.8 L418.7 42.3 L426.5 34.5 L434.3 31.4 L446.8 36.0 L456.1 28.2 L461.6 27.5 L465.5 36.0 L467.1 62.5 L468.6 81.3 L476.0 88.0 L486.0 100.0 L493.0 118.0 L487.0 120.0 L473.3 101.5 L462.4 84.4 L457.7 68.8 L446.8 68.8 L431.2 67.2 L415.6 61.0 L400.0 58.0 L386.0 58.0Z" fill="#dde9f6" fill-opacity="0.5" filter="url(#bl2)"/>
<path d="M475.3 97.2h0M437.3 58.9h0M420.1 44.4h0M461.5 81.2h0M392.0 54.8h0M396.3 51.0h0M443.6 66.7h0M443.9 57.8h0M470.7 87.0h0M441.0 56.7h0M421.9 58.0h0M462.1 68.7h0M466.4 74.9h0M444.8 60.6h0M457.3 36.5h0M439.5 38.4h0M453.9 47.4h0M438.9 45.0h0M483.7 102.8h0M462.5 32.3h0M429.1 35.3h0M390.7 50.3h0M457.9 65.1h0M456.9 33.0h0M392.2 47.0h0M415.3 50.5h0M485.1 107.2h0M454.7 61.9h0M435.3 37.7h0M464.3 57.3h0M445.8 37.3h0M449.4 57.1h0M432.7 58.5h0M435.7 52.8h0M462.9 81.5h0M453.5 57.1h0M485.7 116.2h0M430.4 66.8h0M478.1 96.4h0M400.6 55.8h0M427.7 52.2h0M456.4 50.8h0M455.4 51.7h0M410.3 54.1h0M412.3 55.2h0M468.5 82.1h0M483.4 114.6h0M450.2 56.2h0M470.9 92.2h0M486.2 115.1h0M432.5 49.6h0M443.3 43.0h0M457.7 63.0h0M413.9 57.0h0M432.8 35.1h0M444.9 58.2h0M444.0 61.1h0M465.2 53.8h0M477.7 98.4h0M427.3 36.3h0M438.4 65.7h0M483.2 97.3h0M392.2 56.0h0M473.7 86.3h0M448.9 67.9h0M470.2 90.4h0M434.0 56.3h0M387.5 52.6h0M435.1 52.5h0M455.4 36.1h0M481.3 99.5h0M477.9 102.7h0M393.8 48.0h0M424.9 53.5h0M438.5 59.3h0M481.8 105.1h0M428.2 64.6h0M455.9 48.4h0M461.0 36.2h0M399.4 47.0h0M454.0 61.8h0M420.0 51.0h0M461.7 43.9h0M437.7 48.6h0M431.8 57.3h0M432.5 51.4h0M489.1 108.9h0M427.5 35.4h0M485.0 114.6h0M447.9 62.7h0M435.4 32.7h0M392.2 49.5h0M482.5 103.4h0M449.7 34.0h0M457.9 50.0h0M457.1 33.2h0M467.4 91.7h0M416.4 51.2h0M460.0 46.4h0M434.5 48.4h0M432.4 61.1h0M423.1 56.7h0M426.2 59.3h0M391.3 50.1h0M482.9 98.4h0M432.8 36.0h0M459.8 62.3h0M428.4 46.6h0M433.4 62.8h0M443.0 65.8h0M448.3 53.1h0M465.4 39.3h0M478.3 91.1h0M478.4 96.6h0M455.6 36.7h0M411.1 46.8h0M431.1 66.3h0M430.0 37.0h0M406.2 58.0h0M461.7 39.8h0M422.9 54.9h0M442.2 54.2h0M452.9 44.4h0M419.2 49.1h0M481.0 96.4h0M484.8 110.2h0M460.7 42.2h0M461.6 64.6h0M450.0 64.2h0M463.8 60.9h0M396.3 52.3h0M462.1 70.6h0M446.8 49.9h0M433.4 45.7h0M393.7 55.0h0M428.9 65.7h0M450.2 36.7h0M405.4 58.6h0M441.9 67.5h0M481.6 108.6h0M402.0 52.7h0M450.8 52.2h0M420.8 59.1h0M412.4 52.9h0M418.4 54.8h0M471.8 84.9h0M461.1 61.6h0M435.3 35.1h0M425.6 47.1h0M423.0 40.7h0M424.6 38.0h0M458.8 46.2h0M462.0 59.1h0M455.6 42.4h0M421.7 51.1h0M483.6 111.5h0M423.5 59.2h0M461.1 37.4h0M427.7 61.8h0M451.4 60.6h0M441.3 61.0h0M481.7 104.8h0M462.9 43.6h0M447.6 50.0h0M474.5 90.5h0M433.1 38.4h0M462.3 56.0h0M459.6 28.0h0M438.3 51.2h0M424.3 61.0h0M417.6 58.7h0M451.9 62.5h0M470.0 87.2h0M457.1 31.2h0M403.8 49.0h0M424.7 52.1h0M451.7 60.5h0M476.6 97.2h0M459.7 48.9h0M406.3 52.5h0M417.4 46.2h0M445.1 68.1h0M470.4 84.4h0M462.2 45.7h0M452.4 32.6h0M459.4 68.3h0M406.8 57.5h0M480.5 103.7h0M453.8 35.6h0M454.5 48.6h0M414.0 45.8h0M434.8 65.7h0M438.9 58.3h0M457.0 40.5h0M450.8 33.5h0M428.6 45.9h0M428.3 54.6h0M466.6 71.5h0M424.0 41.2h0M438.9 39.6h0M424.5 47.7h0M432.0 57.3h0M487.7 104.5h0M415.3 58.9h0M441.1 41.4h0M436.2 39.3h0M424.7 62.3h0M415.7 60.9h0M460.2 56.9h0M436.1 58.4h0M417.0 60.2h0M387.4 52.7h0M477.5 99.5h0M462.5 45.9h0M458.1 60.4h0M437.0 33.0h0M424.6 40.5h0M428.6 34.4h0M429.3 39.7h0M439.7 40.5h0M461.4 79.0h0M483.8 112.0h0M450.6 52.9h0M434.3 57.5h0M430.3 51.9h0M490.9 113.2h0M442.3 42.7h0M426.5 48.5h0M422.8 43.0h0M441.5 65.2h0M433.2 46.8h0M428.2 55.0h0M485.6 108.7h0M426.1 53.8h0M428.0 55.9h0M456.8 59.9h0M444.5 41.9h0M455.8 62.6h0M453.8 64.4h0M428.8 42.8h0M401.2 54.5h0M428.2 45.3h0M431.0 60.0h0M430.1 62.6h0M453.7 58.8h0M428.4 39.3h0M454.9 31.0h0M399.9 46.5h0M455.0 65.8h0M445.8 67.3h0M480.0 109.3h0M450.1 42.6h0M436.1 54.5h0M423.9 64.2h0M485.0 108.3h0M387.1 51.5h0M464.0 52.7h0M429.2 60.3h0M463.7 64.3h0M425.9 53.7h0M431.0 36.4h0M386.3 53.8h0M393.8 52.9h0M462.5 76.9h0M463.9 58.4h0M391.9 47.9h0M453.7 34.8h0M401.6 47.7h0M460.7 62.4h0M457.6 50.3h0M484.2 102.8h0M440.8 50.9h0M411.1 55.3h0M451.3 49.9h0M460.1 50.7h0M437.0 36.3h0M464.3 55.6h0M457.2 37.5h0M427.6 64.7h0M461.3 37.7h0M459.9 51.5h0M477.3 106.2h0M419.4 42.9h0M433.3 43.9h0M461.4 51.5h0M462.8 47.5h0M465.5 64.8h0M391.3 50.3h0M405.4 57.4h0M440.6 46.6h0M426.9 52.3h0M465.6 60.0h0M475.8 103.8h0M432.9 57.0h0M458.9 60.3h0M418.4 54.0h0M423.6 61.1h0M463.1 54.1h0M415.0 55.4h0M463.9 70.2h0M431.4 48.3h0M426.3 63.8h0M461.4 54.9h0M430.9 47.5h0M414.2 51.3h0M469.7 85.9h0M455.3 68.1h0M481.6 98.9h0M437.8 51.1h0M395.1 47.8h0M474.8 101.0h0M445.6 38.0h0M423.5 58.2h0M457.8 34.6h0M444.4 41.2h0M456.1 66.6h0M428.0 53.8h0M454.5 56.9h0M410.8 52.1h0M450.6 52.2h0M408.3 45.4h0M465.1 58.3h0M457.1 57.9h0M442.9 62.9h0M412.4 49.3h0M421.6 50.9h0M463.1 43.1h0M453.2 32.5h0M411.5 54.5h0M466.5 78.8h0M461.4 69.1h0M386.1 54.7h0M440.6 55.6h0M386.6 57.4h0M477.3 106.4h0M455.9 56.3h0M455.3 52.2h0M453.9 52.9h0M456.5 59.0h0M464.6 72.3h0M395.3 55.6h0M463.3 51.7h0M419.7 54.1h0M387.4 51.3h0M436.0 38.2h0M391.4 55.2h0M459.1 48.2h0M479.6 108.8h0M420.6 54.3h0M440.4 60.0h0M474.3 95.8h0M483.9 102.4h0M426.3 39.9h0M400.2 47.8h0M436.0 39.6h0M469.4 83.0h0M420.4 46.9h0M472.7 97.6h0M478.7 93.2h0M448.2 68.0h0M485.0 103.4h0M437.8 44.8h0M463.5 52.2h0M399.7 55.9h0M406.2 52.2h0M399.7 55.9h0M431.5 50.0h0M444.6 60.5h0M446.0 39.1h0M430.3 35.0h0M446.6 58.1h0M469.5 90.9h0M479.5 107.0h0M479.7 96.0h0M425.2 64.0h0M434.3 36.9h0M422.9 46.6h0M454.4 66.4h0M449.2 49.5h0M464.1 74.9h0M431.9 32.6h0M426.3 55.2h0M428.0 54.0h0M418.9 54.3h0M437.8 61.4h0M402.8 45.5h0M448.1 61.6h0M427.6 54.9h0M446.9 52.0h0M466.2 74.9h0M458.6 58.7h0M468.2 87.9h0M432.4 53.4h0M436.3 53.8h0M447.6 58.2h0M454.0 50.3h0M392.7 57.5h0M435.8 51.3h0M442.9 66.3h0M464.6 55.6h0M459.2 45.7h0M461.6 39.2h0M446.6 65.8h0M449.7 56.9h0M467.4 90.0h0M458.3 35.7h0M439.8 53.7h0M418.6 48.9h0M394.9 57.0h0M465.3 51.9h0M486.6 110.8h0M451.0 57.9h0M432.0 60.2h0M390.6 56.0h0M445.8 37.5h0M391.9 56.2h0M461.7 74.2h0M412.3 43.9h0M438.1 41.6h0M480.6 99.1h0M390.0 57.9h0M466.7 61.0h0M442.6 57.8h0M460.3 44.0h0M464.3 77.6h0M404.8 52.7h0M403.7 50.0h0M456.8 46.6h0M431.8 50.0h0M422.9 51.6h0M423.2 40.6h0M462.9 84.8h0M450.7 50.8h0M465.9 81.7h0M413.1 60.1h0M433.8 32.5h0M456.1 38.6h0M453.5 43.7h0M480.9 104.5h0M440.6 48.2h0M464.3 44.9h0M482.0 111.7h0M454.3 45.0h0M400.4 55.7h0M470.0 88.5h0M454.7 46.7h0M416.8 51.1h0M390.9 57.1h0M413.0 53.8h0M454.3 66.3h0M388.1 52.3h0M452.0 48.3h0M397.2 56.9h0M430.7 41.0h0M412.7 43.4h0M443.2 43.8h0M459.6 71.7h0M447.6 67.0h0M443.0 52.7h0M444.2 66.0h0M395.9 52.7h0M456.1 50.1h0M447.7 46.5h0M478.8 108.1h0M440.9 48.7h0M439.6 55.1h0M458.5 50.7h0M449.4 35.9h0M408.1 53.0h0M398.8 51.4h0M488.5 115.1h0M434.8 53.9h0M452.2 41.4h0M411.3 49.9h0M464.3 77.8h0M449.3 48.0h0M452.3 38.7h0M438.0 54.5h0M428.2 35.1h0M459.5 55.0h0M450.6 35.5h0M483.6 97.2h0M450.4 61.2h0M432.6 58.7h0M427.3 50.8h0M452.0 64.4h0M418.7 56.3h0M422.1 47.6h0M453.4 63.5h0M445.7 36.9h0M434.9 52.4h0M471.8 96.4h0M462.1 76.2h0M480.8 95.1h0M451.8 47.9h0M406.7 52.9h0M446.4 66.7h0M452.6 67.1h0M452.2 42.5h0M407.0 50.9h0M397.4 48.1h0M389.0 49.3h0M403.3 45.8h0M447.1 48.4h0M401.8 56.7h0M480.7 103.3h0M426.3 64.7h0M461.5 52.0h0M433.5 55.1h0M421.8 56.7h0M426.3 60.6h0M445.2 35.7h0M434.4 54.0h0M449.6 53.2h0M475.2 98.1h0M426.9 42.5h0M429.2 53.7h0M462.4 53.5h0M430.6 42.7h0M436.8 44.2h0M413.9 46.1h0M420.7 44.1h0M461.6 40.8h0M389.1 50.8h0M429.5 45.1h0M410.7 45.7h0M456.4 62.4h0M442.0 50.6h0M414.5 46.2h0M483.6 109.2h0M434.4 54.7h0M451.4 59.6h0M447.7 49.2h0M462.8 77.6h0M432.4 65.8h0M464.6 51.1h0M416.9 44.1h0M443.7 46.1h0M459.5 35.6h0M439.0 37.6h0M399.4 45.8h0M479.2 94.2h0M447.1 67.4h0M426.8 59.6h0M436.0 47.8h0M487.9 108.3h0M440.9 66.8h0M433.7 63.2h0M451.1 39.9h0M464.0 84.9h0M458.6 60.8h0M407.3 48.3h0M460.7 51.0h0M464.1 43.1h0M436.5 42.9h0M433.8 41.6h0M421.6 41.0h0M411.5 53.0h0M458.1 45.5h0M457.3 30.3h0M408.9 47.1h0M458.4 42.9h0M485.5 107.8h0M441.3 43.8h0M451.1 68.3h0M459.9 48.1h0M430.1 49.0h0M446.9 57.9h0M412.4 45.0h0M426.1 37.5h0M464.9 48.2h0M463.0 35.9h0M432.9 60.8h0M465.9 72.3h0M442.6 34.8h0M440.0 53.0h0M435.9 64.7h0M430.3 41.0h0M481.4 109.3h0M473.5 93.1h0M406.1 54.5h0M405.2 54.6h0M414.7 60.0h0M430.8 50.0h0M411.1 58.7h0M482.4 104.3h0M455.4 42.8h0M433.5 41.8h0M423.5 57.0h0M417.0 44.4h0M466.0 54.4h0M471.2 96.3h0M434.1 43.8h0" stroke="#a3c2e6" stroke-opacity="0.35" stroke-width="1" stroke-linecap="round"/>
<path d="M417.2 50.8 L421.8 45.4 L427.3 38.4 L431.2 34.5 L435.1 33.7 L437.4 40.7 L453.0 40.7 L456.1 32.9 L460.0 29.8 L463.2 34.5 L463.2 53.2 L464.7 67.2 L463.9 75.0 L461.6 75.8 L460.0 67.2 L458.5 63.3 L446.8 58.6 L440.5 63.3 L434.3 61.0 L428.1 57.9 L420.3 56.3 L417.2 54.0Z" fill="#4d8acb" fill-opacity="0.5" filter="url(#bl1)"/>
<path d="M417.5 51.3V54.2M417.9 50.0V52.9M418.4 51.8V53.3M419.1 51.0V54.3M419.5 49.1V52.9M420.1 48.2V53.0M420.7 49.0V53.9M421.2 46.9V56.1M421.8 49.5V55.2M422.3 47.2V54.7M422.7 49.0V56.4M423.1 48.6V55.4M423.8 43.6V54.7M424.3 48.0V56.9M425.0 44.8V52.4M425.4 42.4V51.5M425.8 46.7V50.4M426.3 42.3V55.4M426.7 39.6V51.4M427.4 44.0V49.7M427.9 39.1V54.8M428.5 41.8V56.4M429.2 39.7V52.0M429.6 43.5V54.0M430.0 39.5V53.0M430.5 44.7V56.2M431.0 36.7V59.0M431.4 37.4V50.6M432.0 40.0V53.3M432.4 44.4V52.5M432.9 38.5V59.2M433.5 42.3V53.5M434.2 40.0V49.6M434.6 42.4V57.0M435.2 44.4V54.1M435.6 38.4V53.3M436.0 43.3V58.3M436.6 43.4V53.7M437.0 39.6V54.1M437.4 49.3V57.5M438.2 49.9V58.3M438.6 49.5V55.6M439.0 49.8V56.0M439.4 41.5V53.6M440.0 42.0V62.0M440.6 49.1V61.3M441.3 44.0V57.8M441.8 46.6V60.9M442.5 46.2V56.7M443.1 42.1V60.7M443.7 47.0V55.0M444.2 46.1V53.5M444.6 44.7V52.3M445.1 48.4V57.1M445.6 46.6V54.8M446.0 41.9V58.7M446.7 41.7V53.8M447.0 42.2V57.2M447.6 44.6V51.5M448.0 44.2V52.9M448.5 40.9V57.0M449.2 48.5V52.7M449.7 48.1V54.7M450.4 45.4V60.0M451.1 41.3V56.6M451.7 49.6V56.8M452.1 46.2V57.3M452.6 42.8V60.9M453.1 47.3V54.0M453.4 47.7V51.7M454.1 41.5V58.7M454.7 39.1V60.1M455.2 46.0V60.3M455.6 45.7V59.2M456.3 39.9V58.8M456.7 45.2V61.8M457.3 32.6V51.2M457.7 32.0V55.4M458.4 43.3V53.2M459.1 39.4V64.3M459.8 32.4V51.8M460.4 39.5V56.5M461.0 36.6V65.1M461.6 32.3V62.5M462.0 47.3V73.8M462.5 33.4V73.1M462.9 44.7V69.6M463.2 63.3V65.9M463.7 61.3V74.3M464.1 62.8V73.1" stroke="#2f71bb" stroke-opacity="0.3" stroke-width="0.9" fill="none"/>
<path d="M427.3 40.7 L431.2 36.8 L434.3 36.0 L435.9 42.3 L440.5 43.8 L446.8 44.6 L453.8 42.3 L455.4 38.4 L459.3 36.8 L461.6 39.2 L462.1 47.0 L461.1 53.2 L460.0 61.0 L458.5 61.8 L456.9 57.1 L451.5 56.3 L446.8 55.5 L442.1 57.9 L439.0 61.0 L435.9 57.9 L433.5 54.7 L429.6 52.4 L426.5 48.5Z" fill="#0b4e9d" filter="url(#bl0)"/>
<path d="M426.5 48.4V48.5M427.2 43.2V49.2M427.9 39.5V49.6M428.3 39.3V50.8M428.9 39.5V51.4M429.4 38.9V51.1M429.8 39.0V52.1M430.4 38.1V51.0M431.3 38.5V52.0M431.7 37.4V51.6M432.4 36.8V53.5M433.2 38.5V55.8M433.8 34.8V53.2M434.4 39.2V55.1M434.7 38.1V54.8M435.6 40.4V56.4M435.9 43.8V58.7M436.3 43.8V56.4M437.0 44.6V58.0M437.4 44.9V57.5M437.8 43.6V57.8M438.5 44.8V59.6M438.9 43.5V59.5M439.7 46.0V59.7M440.5 42.8V60.1M441.0 45.3V57.2M441.8 46.0V58.6M442.2 44.4V58.4M442.8 45.2V56.5M443.2 43.6V55.6M443.6 44.9V57.1M444.4 44.3V56.7M444.8 45.8V56.1M445.5 43.8V54.9M445.9 45.6V55.2M446.4 43.9V54.9M447.1 45.9V54.7M447.6 43.9V55.3M448.4 43.9V54.8M448.9 43.4V56.1M449.3 45.4V56.2M449.8 45.3V56.4M450.2 42.7V55.5M450.8 43.5V55.4M451.4 42.4V54.7M452.2 42.3V54.8M452.6 41.9V55.9M453.5 42.2V54.6M454.2 42.3V56.3M454.8 42.2V56.7M455.6 38.0V54.8M456.4 37.7V57.6M456.9 38.9V54.4M457.7 38.5V60.5M458.2 40.6V61.7M458.6 39.0V61.8M459.4 37.9V58.5M460.2 37.5V59.8M460.7 40.8V56.0M461.3 40.8V52.0M461.8 41.7V48.7" stroke="#0a4a98" stroke-opacity="0.55" stroke-width="0.8" fill="none"/>
<path d="M386.8 59.9 L387.2 59.2 L387.7 58.5 L388.2 57.7 L388.7 57 L389.2 56.3 L389.7 55.6 L390.2 54.9 L390.7 54.2 L391.2 53.7 L391.7 53.1 L392.2 52.7 L392.7 52.3 L393.2 51.8 L393.7 51.5 L394.2 51.1 L394.7 50.8 L395.2 50.5 L395.7 50.2 L396.2 49.9 L396.7 49.6 L397.2 49.3 L397.7 49 L398.2 48.8 L398.7 48.5 L399.2 48.3 L399.7 48 L400.2 47.8 L400.7 47.6 L401.2 47.5 L401.7 47.4 L402.2 47.3 L402.7 47.2 L403.2 47.1 L403.7 47.1 L404.2 47.1 L404.7 47.1 L405.2 47.1 L405.7 47.1 L406.2 47.1 L406.7 47.1 L407.2 47.2 L407.7 47.2 L408.2 47.2 L408.7 47.3 L409.2 47.3 L409.7 47.3 L410.2 47.4 L410.7 47.4 L411.2 47.5 L411.7 47.5 L412.2 47.6 L412.7 47.6 L413.2 47.7 L413.7 47.8 L414.2 47.8 L414.7 47.9 L415.2 48 L415.7 48.1 L416.2 48.1 L416.7 48.2 L417.2 48.3 L417.7 48.4 L418.2 48.5 L418.7 48.6 L419.2 48.6 L419.7 48.7 L420.2 48.8 L420.7 48.9 L421.2 48.9 L421.7 49 L422.2 49.1 L422.7 49.1 L423.2 49.2 L423.7 49.2 L424.2 49.3 L424.7 49.3 L425.2 49.3 L425.7 49.3 L426.2 49.3 L426.7 49.3 L427.2 49.3 L427.7 49.3 L428.2 49.3 L428.7 49.3 L429.2 49.3 L429.7 49.3 L430.2 49.2 L430.7 49.2 L431.2 49.1 L431.7 49.1 L432.2 49.1 L432.7 49 L433.2 49 L433.7 48.9 L434.2 48.9 L434.7 48.9 L435.2 48.8 L435.7 48.8 L436.2 48.7 L436.7 48.7 L437.2 48.7 L437.7 48.6 L438.2 48.6 L438.7 48.6 L439.2 48.6 L439.7 48.6 L440.2 48.5 L440.7 48.5 L441.2 48.5 L441.7 48.5 L442.2 48.5 L442.7 48.5 L443.2 48.4 L443.7 48.4 L444.2 48.4 L444.7 48.4 L445.2 48.4 L445.7 48.5 L446.2 48.5 L446.7 48.5 L447.2 48.5 L447.7 48.6 L448.2 48.6 L448.7 48.7 L449.2 48.7 L449.7 48.8 L450.2 48.8 L450.7 48.9 L451.2 49 L451.7 49 L452.2 49.1 L452.7 49.2 L453.2 49.3 L453.7 49.4 L454.2 49.5 L454.7 49.7 L455.1 49.8 L455.6 50 L456.1 50.2 L456.6 50.4 L457.1 50.6 L457.6 50.8 L458.1 51.1 L458.6 51.3 L459.1 51.6 L459.6 51.9 L460.1 52.2 L460.6 52.6 L461.1 53 L461.6 53.4 L462.1 53.9 L462.6 54.4 L463.1 54.9 L463.6 55.5 L464.1 56.2 L464.6 56.8 L465.1 57.5 L465.6 58.2 L466.1 59 L466.6 59.7 L467.1 60.5 L467.6 61.3 L468.1 62.1 L468.6 62.9 L469.1 63.8 L469.6 64.7 L470.1 65.6 L470.6 66.5 L471.1 67.5 L471.6 68.5 L472.1 69.5 L472.6 70.5 L473.1 71.5 L473.6 72.6 L474.1 73.7 L474.6 74.7 L475.1 75.9 L475.6 77 L476.1 78.1 L476.6 79.3 L477.1 80.5 L477.6 81.8 L478.1 83 L478.6 84.4 L479.1 85.7 L479.6 87.1 L480.1 88.6 L480.6 90.1 L481.1 91.6 L481.6 93.2 L482.1 94.9 L482.6 96.7 L483.1 98.6 L483.6 100.6 L484.1 102.6 L484.6 104.6 L485.1 106.7 L485.6 108.8 L486.1 111 L486.6 113.1 L487.1 115.3 L487.6 117.4 L488.1 119.5 L488.6 121.6 L489.1 123.6 L489.1 126 L488.6 124 L488.1 121.9 L487.6 119.8 L487.1 117.6 L486.6 115.5 L486.1 113.4 L485.6 111.2 L485.1 109.1 L484.6 107 L484.1 104.9 L483.6 102.9 L483.1 101 L482.6 99.1 L482.1 97.3 L481.6 95.6 L481.1 94 L480.6 92.4 L480.1 90.9 L479.6 89.5 L479.1 88.1 L478.6 86.7 L478.1 85.4 L477.6 84.1 L477.1 82.9 L476.6 81.7 L476.1 80.5 L475.6 79.3 L475.1 78.2 L474.6 77.1 L474.1 76 L473.6 74.9 L473.1 73.9 L472.6 72.8 L472.1 71.8 L471.6 70.8 L471.1 69.8 L470.6 68.8 L470.1 67.9 L469.6 67 L469.1 66.1 L468.6 65.2 L468.1 64.4 L467.6 63.6 L467.1 62.8 L466.6 62 L466.1 61.3 L465.6 60.5 L465.1 59.8 L464.6 59.2 L464.1 58.5 L463.6 57.8 L463.1 57.2 L462.6 56.7 L462.1 56.1 L461.6 55.7 L461.1 55.2 L460.6 54.9 L460.1 54.5 L459.6 54.2 L459.1 53.9 L458.6 53.6 L458.1 53.3 L457.6 53.1 L457.1 52.9 L456.6 52.7 L456.1 52.5 L455.6 52.3 L455.1 52.1 L454.7 51.9 L454.2 51.8 L453.7 51.7 L453.2 51.6 L452.7 51.5 L452.2 51.4 L451.7 51.3 L451.2 51.2 L450.7 51.1 L450.2 51.1 L449.7 51 L449.2 51 L448.7 50.9 L448.2 50.9 L447.7 50.8 L447.2 50.8 L446.7 50.7 L446.2 50.7 L445.7 50.7 L445.2 50.7 L444.7 50.7 L444.2 50.7 L443.7 50.7 L443.2 50.7 L442.7 50.7 L442.2 50.7 L441.7 50.7 L441.2 50.7 L440.7 50.7 L440.2 50.8 L439.7 50.8 L439.2 50.8 L438.7 50.8 L438.2 50.8 L437.7 50.8 L437.2 50.9 L436.7 50.9 L436.2 50.9 L435.7 51 L435.2 51 L434.7 51 L434.2 51.1 L433.7 51.1 L433.2 51.2 L432.7 51.2 L432.2 51.2 L431.7 51.3 L431.2 51.3 L430.7 51.4 L430.2 51.4 L429.7 51.4 L429.2 51.4 L428.7 51.5 L428.2 51.5 L427.7 51.5 L427.2 51.5 L426.7 51.5 L426.2 51.5 L425.7 51.5 L425.2 51.5 L424.7 51.4 L424.2 51.4 L423.7 51.4 L423.2 51.3 L422.7 51.3 L422.2 51.2 L421.7 51.1 L421.2 51.1 L420.7 51 L420.2 50.9 L419.7 50.8 L419.2 50.8 L418.7 50.7 L418.2 50.6 L417.7 50.5 L417.2 50.4 L416.7 50.3 L416.2 50.3 L415.7 50.2 L415.2 50.1 L414.7 50 L414.2 50 L413.7 49.9 L413.2 49.8 L412.7 49.8 L412.2 49.7 L411.7 49.6 L411.2 49.6 L410.7 49.5 L410.2 49.5 L409.7 49.4 L409.2 49.4 L408.7 49.3 L408.2 49.3 L407.7 49.3 L407.2 49.2 L406.7 49.2 L406.2 49.2 L405.7 49.2 L405.2 49.2 L404.7 49.2 L404.2 49.2 L403.7 49.2 L403.2 49.2 L402.7 49.2 L402.2 49.3 L401.7 49.4 L401.2 49.5 L400.7 49.7 L400.2 49.9 L399.7 50.1 L399.2 50.3 L398.7 50.6 L398.2 50.8 L397.7 51.1 L397.2 51.3 L396.7 51.6 L396.2 51.9 L395.7 52.2 L395.2 52.5 L394.7 52.8 L394.2 53.1 L393.7 53.5 L393.2 53.9 L392.7 54.3 L392.2 54.7 L391.7 55.2 L391.2 55.7 L390.7 56.3 L390.2 56.9 L389.7 57.6 L389.2 58.3 L388.7 59 L388.2 59.8 L387.7 60.5 L387.2 61.2 L386.8 61.9 Z" fill="#fbc386" fill-opacity="0.45"/>
<path d="M381.5 50.2H496" stroke="#adadad" stroke-width="0.8"/>
<path d="M386.8 60.9 L387.2 60.2 L387.7 59.5 L388.2 58.7 L388.7 58 L389.2 57.3 L389.7 56.6 L390.2 55.9 L390.7 55.2 L391.2 54.7 L391.7 54.2 L392.2 53.7 L392.7 53.3 L393.2 52.9 L393.7 52.5 L394.2 52.1 L394.7 51.8 L395.2 51.5 L395.7 51.2 L396.2 50.9 L396.7 50.6 L397.2 50.3 L397.7 50.1 L398.2 49.8 L398.7 49.5 L399.2 49.3 L399.7 49.1 L400.2 48.8 L400.7 48.7 L401.2 48.5 L401.7 48.4 L402.2 48.3 L402.7 48.2 L403.2 48.2 L403.7 48.1 L404.2 48.1 L404.7 48.1 L405.2 48.1 L405.7 48.1 L406.2 48.1 L406.7 48.2 L407.2 48.2 L407.7 48.2 L408.2 48.3 L408.7 48.3 L409.2 48.3 L409.7 48.4 L410.2 48.4 L410.7 48.5 L411.2 48.5 L411.7 48.6 L412.2 48.6 L412.7 48.7 L413.2 48.8 L413.7 48.8 L414.2 48.9 L414.7 49 L415.2 49 L415.7 49.1 L416.2 49.2 L416.7 49.3 L417.2 49.4 L417.7 49.5 L418.2 49.5 L418.7 49.6 L419.2 49.7 L419.7 49.8 L420.2 49.9 L420.7 49.9 L421.2 50 L421.7 50.1 L422.2 50.1 L422.7 50.2 L423.2 50.2 L423.7 50.3 L424.2 50.3 L424.7 50.4 L425.2 50.4 L425.7 50.4 L426.2 50.4 L426.7 50.4 L427.2 50.4 L427.7 50.4 L428.2 50.4 L428.7 50.4 L429.2 50.4 L429.7 50.3 L430.2 50.3 L430.7 50.3 L431.2 50.2 L431.7 50.2 L432.2 50.2 L432.7 50.1 L433.2 50.1 L433.7 50 L434.2 50 L434.7 49.9 L435.2 49.9 L435.7 49.9 L436.2 49.8 L436.7 49.8 L437.2 49.8 L437.7 49.7 L438.2 49.7 L438.7 49.7 L439.2 49.7 L439.7 49.7 L440.2 49.6 L440.7 49.6 L441.2 49.6 L441.7 49.6 L442.2 49.6 L442.7 49.6 L443.2 49.6 L443.7 49.5 L444.2 49.5 L444.7 49.5 L445.2 49.6 L445.7 49.6 L446.2 49.6 L446.7 49.6 L447.2 49.7 L447.7 49.7 L448.2 49.7 L448.7 49.8 L449.2 49.8 L449.7 49.9 L450.2 50 L450.7 50 L451.2 50.1 L451.7 50.2 L452.2 50.2 L452.7 50.3 L453.2 50.4 L453.7 50.5 L454.2 50.7 L454.7 50.8 L455.1 51 L455.6 51.1 L456.1 51.3 L456.6 51.5 L457.1 51.7 L457.6 52 L458.1 52.2 L458.6 52.5 L459.1 52.7 L459.6 53 L460.1 53.4 L460.6 53.7 L461.1 54.1 L461.6 54.5 L462.1 55 L462.6 55.5 L463.1 56.1 L463.6 56.7 L464.1 57.3 L464.6 58 L465.1 58.7 L465.6 59.4 L466.1 60.1 L466.6 60.9 L467.1 61.6 L467.6 62.4 L468.1 63.2 L468.6 64.1 L469.1 64.9 L469.6 65.8 L470.1 66.7 L470.6 67.7 L471.1 68.6 L471.6 69.6 L472.1 70.6 L472.6 71.7 L473.1 72.7 L473.6 73.8 L474.1 74.8 L474.6 75.9 L475.1 77 L475.6 78.2 L476.1 79.3 L476.6 80.5 L477.1 81.7 L477.6 82.9 L478.1 84.2 L478.6 85.5 L479.1 86.9 L479.6 88.3 L480.1 89.8 L480.6 91.2 L481.1 92.8 L481.6 94.4 L482.1 96.1 L482.6 97.9 L483.1 99.8 L483.6 101.7 L484.1 103.8 L484.6 105.8 L485.1 107.9 L485.6 110 L486.1 112.2 L486.6 114.3 L487.1 116.4 L487.6 118.6 L488.1 120.7 L488.6 122.8 L489.1 124.8" fill="none" stroke="#fb8c0c" stroke-width="1.2" stroke-dasharray="3 1.5"/>
</g>
<rect x="383.4" y="93.2" width="79.2" height="30.8" rx="1.5" fill="#fff" fill-opacity="0.85" stroke="#d6d6d6" stroke-width="0.6"/>
<circle cx="388.8" cy="95.9" r="1.25" fill="#7b9bd8"/>
<rect x="384.4" y="100" width="8.2" height="2.8" fill="#fcdcb8"/>
<path d="M384.4 113.6h8.2" stroke="#fb8c0c" stroke-width="1.1" stroke-dasharray="3.6 1.4"/>
<text transform="translate(395.8 97.4) scale(0.1)" font-size="39.5" font-weight="bold" fill="#3a3a3a">Sample</text>
<text transform="translate(395.8 102.8) scale(0.1)" font-size="39.5" font-weight="bold" fill="#3a3a3a">95% Confidence interval</text>
<text transform="translate(395.8 108.6) scale(0.1)" font-size="39.5" font-weight="bold" fill="#3a3a3a">Fitted curve (R-square: 0.37):</text>
<text transform="translate(395.8 115) scale(0.1)" font-size="39.5" font-weight="bold" fill="#3a3a3a">y = 3.1e-15X<tspan dy="-14" font-size="27.7">5</tspan><tspan dy="14"> </tspan> -3.7e-12X<tspan dy="-14" font-size="27.7">4</tspan><tspan dy="14"> </tspan> -5.9e-09X<tspan dy="-14" font-size="27.7">3</tspan><tspan dy="14"> </tspan></text>
<text transform="translate(402.2 121.1) scale(0.1)" font-size="39.5" font-weight="bold" fill="#3a3a3a">-1.7e-06X<tspan dy="-14" font-size="27.7">2</tspan><tspan dy="14"> </tspan> -0.00091X +0.01</text>
<path d="M421 152 L421 152 L422.2 152 L422.2 151.9 L423.4 151.9 L423.4 151.8 L424.6 151.8 L424.6 151.8 L425.8 151.8 L425.8 151.7 L427 151.7 L427 151.6 L428.2 151.6 L428.2 151.6 L429.4 151.6 L429.4 151.5 L430.6 151.5 L430.6 151.3 L431.8 151.3 L431.8 151.1 L433 151.1 L433 150.9 L434.2 150.9 L434.2 150.8 L435.4 150.8 L435.4 150.4 L436.6 150.4 L436.6 150.2 L437.8 150.2 L437.8 149.8 L439 149.8 L439 149.7 L440.2 149.7 L440.2 148.9 L441.4 148.9 L441.4 147.8 L442.6 147.8 L442.6 146.7 L443.8 146.7 L443.8 144.1 L445 144.1 L445 141 L446.2 141 L446.2 138.1 L447.4 138.1 L447.4 136 L448.6 136 L448.6 134.3 L449.8 134.3 L449.8 130.6 L451 130.6 L451 128.6 L452.2 128.6 L452.2 127.8 L453.4 127.8 L453.4 127.7 L454.6 127.7 L454.6 126.8 L455.8 126.8 L455.8 128.8 L457 128.8 L457 133.1 L458.2 133.1 L458.2 138.2 L459.4 138.2 L459.4 144.7 L460.6 144.7 L460.6 149 L461.8 149 L461.8 151.2 L463 151.2 L463 152 L464.2 152 L463 152 Z" fill="url(#hpat)"/>
<rect x="381.5" y="20.5" width="114.5" height="131.5" fill="none" stroke="#7a7a7a" stroke-width="0.9"/>
<path d="M381.5 125.5H496" stroke="#7a7a7a" stroke-width="0.9"/>
<text x="379.2" y="23.1" font-size="6" text-anchor="end" font-weight="bold" fill="#2a2a2a">0.4</text>
<text x="379.2" y="37.7" font-size="6" text-anchor="end" font-weight="bold" fill="#2a2a2a">0.2</text>
<text x="379.2" y="52.3" font-size="6" text-anchor="end" font-weight="bold" fill="#2a2a2a">0.0</text>
<text x="379.2" y="66.9" font-size="6" text-anchor="end" font-weight="bold" fill="#2a2a2a">-0.2</text>
<text x="379.2" y="81.5" font-size="6" text-anchor="end" font-weight="bold" fill="#2a2a2a">-0.4</text>
<text x="379.2" y="96.1" font-size="6" text-anchor="end" font-weight="bold" fill="#2a2a2a">-0.6</text>
<text x="379.2" y="110.7" font-size="6" text-anchor="end" font-weight="bold" fill="#2a2a2a">-0.8</text>
<text x="379.2" y="125.3" font-size="6" text-anchor="end" font-weight="bold" fill="#2a2a2a">-1.0</text>
<text x="404.4" y="159" font-size="6" text-anchor="middle" font-weight="bold" fill="#2a2a2a">-500</text>
<text x="426.8" y="159" font-size="6" text-anchor="middle" font-weight="bold" fill="#2a2a2a">-250</text>
<text x="449.2" y="159" font-size="6" text-anchor="middle" font-weight="bold" fill="#2a2a2a">0</text>
<text x="471.6" y="159" font-size="6" text-anchor="middle" font-weight="bold" fill="#2a2a2a">250</text>
<text x="494" y="159" font-size="6" text-anchor="middle" font-weight="bold" fill="#2a2a2a">500</text>
<text x="438.8" y="168.2" font-size="8.8" text-anchor="middle" font-weight="bold" fill="#111">HIE_D (%)</text>
<text x="362" y="86.2" font-size="8.8" text-anchor="middle" font-weight="bold" fill="#111" transform="rotate(-90 362 86.2)">Effect on Mig_R (%)</text>
<text x="377.3" y="138.8" font-size="8.8" text-anchor="middle" font-weight="bold" fill="#111" transform="rotate(-90 377.3 138.8)">Dist.</text>
<path d="M564.1 20.5V152M594.1 20.5V152M624.1 20.5V152M654.1 20.5V152M553.5 20.7H668M553.5 36.5H668M553.5 52.3H668M553.5 83.9H668M553.5 99.7H668M553.5 115.5H668M553.5 138.8H668" stroke="#ececec" stroke-width="0.6" fill="none"/>
<g clip-path="url(#c_Rx5day)">
<path d="M558.4 57.2 L562.8 42.6 L568.6 34.0 L577.4 36.0 L587.6 41.1 L597.8 45.5 L609.5 51.4 L619.7 49.9 L629.9 52.8 L641.6 60.1 L648.9 71.8 L650.4 86.4 L641.6 90.8 L627.0 86.4 L615.3 95.2 L602.2 95.2 L590.5 89.3 L575.9 86.4 L562.8 79.1 L558.4 71.8Z" fill="#dde9f6" fill-opacity="0.5" filter="url(#bl2)"/>
<path d="M622.4 73.8h0M564.4 67.6h0M604.7 91.9h0M601.8 78.4h0M593.9 56.5h0M622.4 55.5h0M615.0 61.2h0M600.1 55.0h0M628.0 81.3h0M622.0 89.2h0M621.4 85.7h0M606.8 80.2h0M581.0 56.1h0M629.9 69.6h0M601.0 51.5h0M572.5 60.5h0M587.6 42.6h0M575.4 47.3h0M609.9 73.0h0M601.0 54.0h0M575.4 71.2h0M619.1 56.5h0M621.3 81.9h0M615.1 51.7h0M591.6 81.9h0M612.9 54.6h0M600.3 87.6h0M568.2 42.5h0M612.1 84.1h0M570.5 67.4h0M563.6 71.6h0M569.2 47.2h0M569.5 42.1h0M610.3 59.4h0M602.1 82.4h0M603.0 92.7h0M622.4 72.2h0M618.8 62.7h0M609.5 61.4h0M629.2 71.1h0M623.1 78.6h0M589.1 61.0h0M609.2 67.1h0M568.9 76.6h0M631.3 81.2h0M630.8 70.2h0M624.6 67.3h0M589.9 83.7h0M612.6 53.9h0M615.9 78.5h0M604.9 62.2h0M575.4 41.5h0M563.7 49.0h0M571.9 76.5h0M615.9 72.9h0M603.5 73.6h0M613.6 67.5h0M584.4 55.1h0M607.7 51.4h0M599.3 89.8h0M577.8 39.1h0M602.6 54.8h0M631.6 85.5h0M632.3 56.6h0M600.6 70.3h0M603.5 80.0h0M596.7 54.7h0M609.3 56.1h0M584.8 46.0h0M614.9 60.5h0M565.5 65.8h0M581.0 76.5h0M634.0 82.1h0M587.7 67.6h0M590.3 77.6h0M606.7 61.8h0M578.2 82.0h0M646.1 77.0h0M582.6 64.2h0M597.0 60.2h0M570.2 42.6h0M591.6 49.3h0M596.4 78.0h0M574.4 65.3h0M617.4 62.7h0M637.9 82.2h0M589.2 59.9h0M637.2 64.6h0M625.0 55.5h0M617.7 54.0h0M563.5 44.7h0M592.7 88.7h0M601.1 56.5h0M597.9 74.6h0M577.1 47.8h0M597.3 63.7h0M607.8 56.5h0M626.3 72.1h0M622.0 73.2h0M572.5 55.1h0M637.0 80.2h0M619.8 65.6h0M561.2 69.8h0M621.0 61.8h0M617.4 83.6h0M581.4 60.3h0M572.3 49.2h0M629.0 53.9h0M631.6 83.5h0M575.4 62.0h0M580.0 43.7h0M640.1 80.9h0M582.6 69.8h0M617.6 58.4h0M605.5 89.3h0M624.2 51.7h0M559.8 69.8h0M638.1 78.6h0M599.4 72.4h0M608.5 77.7h0M573.4 73.4h0M595.6 65.5h0M570.0 62.2h0M581.2 50.8h0M577.0 43.7h0M625.8 71.4h0M605.6 55.4h0M611.0 87.7h0M623.2 63.1h0M612.8 73.8h0M580.2 49.3h0M633.7 60.9h0M575.4 73.3h0M608.8 92.2h0M596.7 81.5h0M605.9 67.8h0M632.9 73.9h0M570.8 83.2h0M598.1 76.5h0M644.4 80.1h0M626.0 78.9h0M630.8 79.3h0M602.7 88.7h0M600.2 78.5h0M573.5 44.7h0M591.1 72.8h0M564.8 54.6h0M638.5 64.7h0M613.7 77.5h0M585.1 51.5h0M620.0 60.6h0M613.9 85.1h0M560.0 51.9h0M642.2 84.8h0M585.1 68.2h0M615.0 63.7h0M586.0 69.0h0M601.0 86.3h0M605.8 94.2h0M594.7 89.8h0M561.2 52.6h0M626.8 81.9h0M582.7 62.9h0M564.1 71.0h0M600.9 50.2h0M602.7 89.3h0M627.0 84.4h0M576.8 79.0h0M599.5 75.3h0M602.7 94.1h0M584.6 77.8h0M602.7 69.8h0M569.1 61.1h0M575.2 67.2h0M587.6 48.5h0M625.6 79.0h0M591.3 51.3h0M595.8 70.0h0M582.9 87.7h0M602.8 75.6h0M565.4 75.9h0M571.3 46.4h0M594.8 89.8h0M568.5 78.7h0M607.1 62.3h0M604.8 89.1h0M623.5 69.8h0M634.4 81.3h0M612.2 89.9h0M565.4 53.0h0M617.5 78.6h0M611.6 58.0h0M612.9 82.7h0M606.6 91.8h0M562.8 68.9h0M564.3 77.0h0M622.6 79.0h0M626.7 81.5h0M607.6 84.4h0M625.5 53.5h0M570.2 47.9h0M569.3 40.4h0M611.5 66.0h0M611.9 80.4h0M578.6 79.1h0M579.8 68.1h0M598.5 92.7h0M567.4 38.0h0M621.2 81.6h0M633.9 59.1h0M598.6 85.9h0M589.2 68.0h0M618.3 59.3h0M591.5 88.8h0M620.4 59.2h0M589.0 57.2h0M565.5 47.5h0M625.4 64.6h0M602.1 84.0h0M568.2 67.2h0M638.2 85.2h0M573.5 78.4h0M637.7 87.2h0M572.8 56.4h0M615.2 70.4h0M626.4 65.0h0M598.7 90.4h0M600.7 82.1h0M610.7 80.2h0M628.3 64.0h0M564.4 75.1h0M601.1 80.6h0M602.4 80.9h0M580.9 63.4h0M589.0 83.4h0M608.9 71.1h0M603.3 82.4h0M571.8 76.7h0M573.6 74.4h0M586.4 46.6h0M611.4 90.8h0M573.3 66.2h0M568.6 74.1h0M600.2 90.4h0M581.0 82.1h0M598.1 53.4h0M640.9 72.7h0M627.4 54.3h0M625.1 69.9h0M615.0 88.9h0M576.8 67.8h0M558.6 63.3h0M605.6 56.1h0M634.6 81.9h0M587.5 60.6h0M603.5 93.5h0M642.3 71.4h0M590.7 50.5h0M614.2 76.8h0M620.0 85.9h0M586.3 43.2h0M589.0 87.3h0M605.2 63.6h0M642.7 66.6h0M595.1 87.3h0M585.5 56.7h0M621.3 80.1h0M594.7 49.5h0M568.0 67.5h0M582.6 39.8h0M618.8 69.2h0M604.5 78.2h0M570.4 72.0h0M586.6 63.1h0M645.3 77.5h0M583.4 63.4h0M585.9 51.3h0M596.5 49.0h0M619.9 61.9h0M562.1 53.7h0M633.7 83.0h0M567.0 45.0h0M575.1 62.5h0M563.1 54.4h0M631.5 64.7h0M605.0 77.7h0M587.8 63.7h0M576.0 41.5h0M566.4 58.0h0M636.2 71.8h0M584.3 84.9h0M593.5 45.4h0M614.6 55.0h0M565.5 39.9h0M605.4 92.9h0M562.5 77.6h0M626.1 76.7h0M609.2 62.9h0M595.7 88.6h0M614.7 82.6h0M636.4 69.1h0M633.2 64.3h0M625.7 51.7h0M605.8 57.9h0M566.3 67.2h0M599.3 47.6h0M590.2 47.3h0M639.2 64.9h0M571.7 61.9h0M635.4 78.7h0M613.0 52.2h0M577.8 39.4h0M640.5 87.6h0M634.3 81.1h0M607.4 61.3h0M600.4 51.9h0M597.0 79.0h0M633.5 74.9h0M612.1 70.2h0M586.9 64.3h0M574.7 62.4h0M619.3 88.1h0M603.1 84.1h0M571.4 44.3h0M592.7 81.3h0M630.5 56.9h0M567.2 69.4h0M576.9 48.0h0M620.0 55.4h0M571.0 69.0h0M633.6 80.8h0M592.2 85.9h0M560.3 70.6h0M585.7 62.4h0M582.0 62.3h0M574.9 79.4h0M608.0 75.8h0" stroke="#a3c2e6" stroke-opacity="0.35" stroke-width="1" stroke-linecap="round"/>
<path d="M564.2 60.1 L568.6 51.4 L575.9 48.4 L583.2 49.9 L587.6 45.5 L592.7 52.8 L597.8 51.4 L602.2 55.7 L609.5 61.6 L616.8 57.2 L624.1 55.7 L629.9 58.7 L629.2 66.0 L616.8 70.3 L615.3 80.6 L610.9 92.2 L603.6 92.2 L597.8 80.6 L589.0 77.6 L577.4 76.2 L568.6 71.8 L564.2 67.4Z" fill="#4d8acb" fill-opacity="0.5" filter="url(#bl1)"/>
<path d="M564.2 61.7V64.8M564.8 59.8V65.1M565.5 58.1V64.3M565.8 60.4V66.9M566.4 60.4V64.7M566.8 59.8V66.0M567.6 56.5V63.2M568.3 60.0V63.1M569.0 52.2V68.1M569.3 60.2V63.8M569.9 54.0V72.0M570.4 54.9V72.1M570.9 59.9V65.9M571.3 52.0V69.2M571.9 60.2V70.7M572.4 53.5V72.5M573.1 55.6V70.1M573.5 53.1V66.9M574.0 60.2V69.0M574.4 53.3V73.1M574.8 59.2V70.4M575.3 53.2V69.9M576.0 52.5V73.6M576.6 52.2V66.8M577.0 60.5V64.2M577.5 48.7V67.0M578.0 58.8V76.1M578.4 53.4V73.5M578.7 59.7V71.3M579.2 52.7V71.8M579.8 49.8V72.7M580.4 49.7V76.5M580.8 56.2V65.6M581.3 54.3V66.9M581.7 53.2V73.9M582.2 57.1V67.4M582.7 54.4V74.7M583.1 53.5V65.6M583.7 54.9V68.8M584.5 53.4V74.3M584.9 55.5V74.0M585.4 51.7V75.9M585.9 48.4V70.2M586.4 59.3V66.8M586.8 54.7V66.2M587.1 57.5V72.5M587.6 51.1V66.9M588.1 54.1V69.9M588.8 59.5V74.2M589.1 51.0V68.8M589.9 51.3V66.9M590.6 60.6V71.4M591.4 55.2V77.9M591.9 62.2V67.0M592.6 56.2V75.2M593.0 59.9V71.6M593.7 57.6V69.2M594.1 61.1V71.4M594.5 58.7V69.6M594.8 53.1V67.4M595.4 60.1V71.2M596.1 55.6V68.3M596.8 60.4V72.0M597.2 56.9V70.1M597.7 61.0V76.8M598.1 57.2V74.8M598.7 57.1V74.5M599.1 61.2V71.5M599.5 63.9V76.4M599.9 59.0V78.1M600.7 59.1V81.5M601.1 61.8V74.5M601.7 62.9V73.5M602.1 62.5V82.6M602.8 63.4V76.9M603.5 68.8V87.9M604.0 69.6V76.6M604.4 61.7V92.2M604.9 65.4V90.8M605.5 58.6V80.5M605.9 64.5V89.9M606.4 64.2V87.3M606.8 59.9V88.2M607.3 65.8V90.2M607.9 62.5V91.2M608.4 60.7V79.2M608.9 64.7V88.2M609.5 66.9V88.5M610.3 62.8V82.9M611.0 72.3V87.8M611.5 67.0V79.3M612.2 60.6V83.5M613.0 71.5V84.1M613.5 65.5V73.9M614.0 68.6V83.3M614.6 61.6V73.5M615.0 59.9V76.4M615.8 57.8V73.5M616.4 58.4V70.1M616.8 63.0V65.4M617.6 62.6V65.8M618.3 56.9V64.6M618.6 58.0V66.1M619.0 60.2V68.2M619.7 60.2V69.2M620.3 58.3V66.0M620.9 61.5V63.9M621.6 58.7V63.3M622.1 58.8V63.0M622.5 58.0V63.3M623.0 56.0V65.8M623.7 57.4V62.7M624.2 57.3V67.2M625.0 57.2V64.5M625.3 58.8V63.2M626.1 58.4V62.9M626.8 58.3V66.7M627.4 58.9V63.7M628.0 61.2V65.7M628.6 58.9V65.3M629.3 61.1V64.1M629.9 58.7V59.1" stroke="#2f71bb" stroke-opacity="0.3" stroke-width="0.9" fill="none"/>
<path d="M571.5 57.2 L577.4 53.5 L583.2 55.0 L587.6 48.4 L591.2 55.7 L596.3 53.5 L600.0 52.8 L602.2 63.0 L608.0 68.9 L613.9 70.3 L614.6 74.7 L610.9 79.1 L609.5 89.3 L607.3 83.5 L604.4 89.3 L602.2 84.9 L600.7 73.3 L596.3 76.2 L592.0 76.2 L587.6 71.8 L580.3 71.8 L574.4 68.9 L570.1 64.5Z" fill="#0b4e9d" filter="url(#bl0)"/>
<path d="M570.6 61.8V65.2M571.4 58.1V66.0M572.1 57.6V66.6M572.6 56.8V66.5M573.2 57.8V67.9M573.7 56.1V68.3M574.4 54.7V68.6M575.1 56.1V67.9M575.7 54.0V68.1M576.4 55.7V67.9M577.0 55.9V68.3M577.5 54.4V70.2M577.9 55.9V68.6M578.4 53.8V70.4M579.0 54.0V72.1M579.7 53.5V69.6M580.3 56.3V70.2M581.1 56.0V70.9M581.9 56.5V72.0M582.6 56.2V72.6M583.4 54.9V71.4M583.9 53.7V70.5M584.7 52.9V71.6M585.5 50.8V70.7M586.2 50.6V72.9M587.0 50.3V70.5M587.5 48.6V68.8M588.1 52.0V70.4M588.6 49.0V74.0M589.4 50.7V72.6M589.8 52.2V71.8M590.2 53.2V72.8M591.0 55.6V72.5M591.6 55.7V73.8M592.1 55.8V76.6M592.6 54.7V77.3M593.1 58.0V74.9M593.6 56.9V76.8M594.3 53.9V74.7M594.8 56.9V75.9M595.3 53.0V77.2M596.0 53.9V74.2M596.6 54.8V77.3M597.2 52.9V76.7M598.1 55.2V75.6M598.6 52.9V73.5M599.3 55.2V72.8M599.9 54.2V71.0M600.7 56.8V71.9M601.1 58.2V75.3M601.9 61.2V82.8M602.6 65.0V87.0M603.2 64.3V83.9M604.0 63.7V89.0M604.7 64.3V87.6M605.4 66.4V85.7M606.0 66.0V85.0M606.6 67.3V84.0M607.3 68.4V82.2M607.9 67.9V83.2M608.4 70.6V86.0M608.9 69.8V84.9M609.5 69.8V89.3M609.9 69.8V85.4M610.7 69.2V81.3M611.1 69.6V78.5M612.0 69.5V76.8M612.5 70.0V77.0M613.1 70.9V75.8M613.9 70.8V75.7M614.3 72.7V74.8" stroke="#0a4a98" stroke-opacity="0.55" stroke-width="0.8" fill="none"/>
<path d="M558.1 64.6 L558.6 64.4 L559.1 64.2 L559.6 64 L560.1 63.8 L560.6 63.6 L561.1 63.5 L561.6 63.3 L562.1 63.1 L562.6 62.9 L563.1 62.7 L563.6 62.5 L564.1 62.3 L564.6 62.1 L565.1 62 L565.6 61.8 L566.1 61.6 L566.6 61.5 L567.1 61.3 L567.6 61.1 L568.1 61 L568.6 60.8 L569.1 60.6 L569.6 60.5 L570.1 60.3 L570.6 60.2 L571.1 60.1 L571.5 60 L572 59.9 L572.5 59.9 L573 59.9 L573.5 59.9 L574 59.9 L574.5 59.9 L575 59.9 L575.5 60 L576 60 L576.5 60.1 L577 60.1 L577.5 60.2 L578 60.3 L578.5 60.4 L579 60.5 L579.5 60.5 L580 60.6 L580.5 60.8 L581 60.9 L581.5 61 L582 61.1 L582.5 61.2 L583 61.4 L583.5 61.5 L584 61.6 L584.5 61.8 L585 61.9 L585.5 62.1 L586 62.3 L586.5 62.4 L587 62.6 L587.5 62.8 L588 62.9 L588.5 63.1 L589 63.3 L589.5 63.5 L590 63.6 L590.5 63.8 L591 64 L591.5 64.2 L592 64.3 L592.5 64.5 L593 64.7 L593.5 64.8 L594 65 L594.5 65.2 L595 65.4 L595.5 65.6 L596 65.7 L596.5 65.9 L597 66.1 L597.4 66.3 L597.9 66.5 L598.4 66.7 L598.9 66.9 L599.4 67 L599.9 67.2 L600.4 67.3 L600.9 67.5 L601.4 67.6 L601.9 67.7 L602.4 67.8 L602.9 67.9 L603.4 68 L603.9 68.1 L604.4 68.2 L604.9 68.3 L605.4 68.4 L605.9 68.5 L606.4 68.5 L606.9 68.6 L607.4 68.6 L607.9 68.7 L608.4 68.7 L608.9 68.7 L609.4 68.8 L609.9 68.8 L610.4 68.8 L610.9 68.8 L611.4 68.8 L611.9 68.8 L612.4 68.8 L612.9 68.7 L613.4 68.7 L613.9 68.7 L614.4 68.6 L614.9 68.6 L615.4 68.5 L615.9 68.4 L616.4 68.4 L616.9 68.3 L617.4 68.2 L617.9 68.2 L618.4 68.1 L618.9 68 L619.4 67.9 L619.9 67.9 L620.4 67.8 L620.9 67.7 L621.4 67.6 L621.9 67.6 L622.4 67.5 L622.9 67.4 L623.3 67.3 L623.8 67.2 L624.3 67.1 L624.8 67 L625.3 66.8 L625.8 66.7 L626.3 66.5 L626.8 66.4 L627.3 66.2 L627.8 66.1 L628.3 65.9 L628.8 65.8 L629.3 65.7 L629.8 65.6 L630.3 65.4 L630.8 65.3 L631.3 65.2 L631.8 65.1 L632.3 64.9 L632.8 64.8 L633.3 64.7 L633.8 64.6 L634.3 64.5 L634.8 64.5 L635.3 64.4 L635.8 64.4 L636.3 64.3 L636.8 64.3 L637.3 64.3 L637.8 64.3 L638.3 64.3 L638.8 64.3 L639.3 64.2 L639.8 64.2 L640.3 64.2 L640.8 64.2 L641.3 64.3 L641.8 64.4 L642.3 64.5 L642.8 64.6 L643.3 64.7 L643.8 64.9 L644.3 65.2 L644.8 65.6 L645.3 66.1 L645.8 66.6 L646.3 67.1 L646.8 67.7 L647.3 68.4 L647.8 69.1 L648.3 69.7 L648.8 70.2 L649.2 70.8 L649.7 71.4 L650.2 72.1 L650.7 72.8 L651.2 73.6 L651.7 74.4 L652.2 75.3 L652.7 76.1 L653.2 77 L653.7 78 L654.2 79 L654.7 80.1 L655.2 81.1 L655.7 82.3 L656.2 83.5 L656.7 85 L657.2 86.4 L657.7 87.9 L658.2 89.5 L658.7 91.2 L659.2 93 L659.7 94.9 L660.2 96.9 L660.7 98.9 L661.2 100.9 L661.7 102.9 L662.2 104.8 L662.2 144.8 L661.7 142.1 L661.2 139.3 L660.7 136.5 L660.2 133.7 L659.7 130.9 L659.2 128.2 L658.7 125.5 L658.2 123 L657.7 120.7 L657.2 118.4 L656.7 116.1 L656.2 113.9 L655.7 111.6 L655.2 109.2 L654.7 106.9 L654.2 104.6 L653.7 102.3 L653.2 100.1 L652.7 98 L652.2 95.9 L651.7 93.9 L651.2 92.1 L650.7 90.3 L650.2 88.6 L649.7 86.9 L649.2 85.3 L648.8 83.7 L648.3 82.2 L647.8 80.9 L647.3 79.8 L646.8 78.8 L646.3 77.8 L645.8 76.9 L645.3 76.1 L644.8 75.2 L644.3 74.5 L643.8 73.8 L643.3 73.2 L642.8 72.7 L642.3 72.3 L641.8 71.9 L641.3 71.7 L640.8 71.6 L640.3 71.4 L639.8 71.3 L639.3 71.2 L638.8 71.1 L638.3 71 L637.8 70.9 L637.3 70.8 L636.8 70.7 L636.3 70.6 L635.8 70.5 L635.3 70.5 L634.8 70.4 L634.3 70.3 L633.8 70.3 L633.3 70.2 L632.8 70.2 L632.3 70.1 L631.8 70.1 L631.3 70.1 L630.8 70 L630.3 70 L629.8 70 L629.3 70 L628.8 70 L628.3 69.9 L627.8 69.9 L627.3 69.9 L626.8 69.9 L626.3 69.9 L625.8 69.9 L625.3 69.9 L624.8 70 L624.3 70.1 L623.8 70.2 L623.3 70.3 L622.9 70.4 L622.4 70.5 L621.9 70.6 L621.4 70.6 L620.9 70.7 L620.4 70.8 L619.9 70.9 L619.4 70.9 L618.9 71 L618.4 71.1 L617.9 71.2 L617.4 71.2 L616.9 71.3 L616.4 71.4 L615.9 71.4 L615.4 71.5 L614.9 71.6 L614.4 71.6 L613.9 71.7 L613.4 71.7 L612.9 71.7 L612.4 71.8 L611.9 71.8 L611.4 71.8 L610.9 71.8 L610.4 71.8 L609.9 71.8 L609.4 71.8 L608.9 71.7 L608.4 71.7 L607.9 71.7 L607.4 71.6 L606.9 71.6 L606.4 71.5 L605.9 71.5 L605.4 71.4 L604.9 71.3 L604.4 71.2 L603.9 71.1 L603.4 71 L602.9 70.9 L602.4 70.8 L601.9 70.7 L601.4 70.6 L600.9 70.5 L600.4 70.3 L599.9 70.2 L599.4 70 L598.9 69.9 L598.4 69.7 L597.9 69.5 L597.4 69.3 L597 69.1 L596.5 68.9 L596 68.7 L595.5 68.6 L595 68.4 L594.5 68.2 L594 68 L593.5 67.8 L593 67.7 L592.5 67.5 L592 67.3 L591.5 67.2 L591 67 L590.5 66.8 L590 66.6 L589.5 66.5 L589 66.3 L588.5 66.1 L588 65.9 L587.5 65.8 L587 65.6 L586.5 65.4 L586 65.3 L585.5 65.1 L585 64.9 L584.5 64.8 L584 64.6 L583.5 64.5 L583 64.4 L582.5 64.2 L582 64.1 L581.5 64 L581 63.9 L580.5 63.8 L580 63.6 L579.5 63.5 L579 63.5 L578.5 63.4 L578 63.3 L577.5 63.2 L577 63.1 L576.5 63.1 L576 63 L575.5 63 L575 62.9 L574.5 62.9 L574 62.9 L573.5 62.9 L573 62.9 L572.5 62.9 L572 62.9 L571.5 63 L571.1 63.1 L570.6 63.2 L570.1 63.3 L569.6 63.5 L569.1 63.6 L568.6 63.8 L568.1 64 L567.6 64.1 L567.1 64.3 L566.6 64.5 L566.1 64.6 L565.6 64.8 L565.1 65 L564.6 65.1 L564.1 65.3 L563.6 65.5 L563.1 65.7 L562.6 65.9 L562.1 66.1 L561.6 66.3 L561.1 66.5 L560.6 66.6 L560.1 66.8 L559.6 67 L559.1 67.2 L558.6 67.4 L558.1 67.6 Z" fill="#fbc386" fill-opacity="0.45"/>
<path d="M553.5 68.1H668" stroke="#adadad" stroke-width="0.8"/>
<path d="M558.1 66.1 L558.6 65.9 L559.1 65.7 L559.6 65.5 L560.1 65.3 L560.6 65.1 L561.1 65 L561.6 64.8 L562.1 64.6 L562.6 64.4 L563.1 64.2 L563.6 64 L564.1 63.8 L564.6 63.6 L565.1 63.5 L565.6 63.3 L566.1 63.1 L566.6 63 L567.1 62.8 L567.6 62.6 L568.1 62.5 L568.6 62.3 L569.1 62.1 L569.6 62 L570.1 61.8 L570.6 61.7 L571.1 61.6 L571.5 61.5 L572 61.4 L572.5 61.4 L573 61.4 L573.5 61.4 L574 61.4 L574.5 61.4 L575 61.4 L575.5 61.5 L576 61.5 L576.5 61.6 L577 61.6 L577.5 61.7 L578 61.8 L578.5 61.9 L579 62 L579.5 62 L580 62.1 L580.5 62.3 L581 62.4 L581.5 62.5 L582 62.6 L582.5 62.7 L583 62.9 L583.5 63 L584 63.1 L584.5 63.3 L585 63.4 L585.5 63.6 L586 63.8 L586.5 63.9 L587 64.1 L587.5 64.3 L588 64.4 L588.5 64.6 L589 64.8 L589.5 65 L590 65.1 L590.5 65.3 L591 65.5 L591.5 65.7 L592 65.8 L592.5 66 L593 66.2 L593.5 66.3 L594 66.5 L594.5 66.7 L595 66.9 L595.5 67.1 L596 67.2 L596.5 67.4 L597 67.6 L597.4 67.8 L597.9 68 L598.4 68.2 L598.9 68.4 L599.4 68.5 L599.9 68.7 L600.4 68.8 L600.9 69 L601.4 69.1 L601.9 69.2 L602.4 69.3 L602.9 69.4 L603.4 69.5 L603.9 69.6 L604.4 69.7 L604.9 69.8 L605.4 69.9 L605.9 70 L606.4 70 L606.9 70.1 L607.4 70.1 L607.9 70.2 L608.4 70.2 L608.9 70.2 L609.4 70.3 L609.9 70.3 L610.4 70.3 L610.9 70.3 L611.4 70.3 L611.9 70.3 L612.4 70.3 L612.9 70.2 L613.4 70.2 L613.9 70.2 L614.4 70.1 L614.9 70.1 L615.4 70 L615.9 69.9 L616.4 69.9 L616.9 69.8 L617.4 69.7 L617.9 69.7 L618.4 69.6 L618.9 69.5 L619.4 69.4 L619.9 69.4 L620.4 69.3 L620.9 69.2 L621.4 69.1 L621.9 69.1 L622.4 69 L622.9 68.9 L623.3 68.8 L623.8 68.7 L624.3 68.6 L624.8 68.5 L625.3 68.4 L625.8 68.3 L626.3 68.2 L626.8 68.1 L627.3 68.1 L627.8 68 L628.3 67.9 L628.8 67.9 L629.3 67.8 L629.8 67.8 L630.3 67.7 L630.8 67.7 L631.3 67.6 L631.8 67.6 L632.3 67.5 L632.8 67.5 L633.3 67.5 L633.8 67.5 L634.3 67.4 L634.8 67.4 L635.3 67.4 L635.8 67.5 L636.3 67.5 L636.8 67.5 L637.3 67.6 L637.8 67.6 L638.3 67.7 L638.8 67.7 L639.3 67.7 L639.8 67.8 L640.3 67.8 L640.8 67.9 L641.3 68 L641.8 68.2 L642.3 68.4 L642.8 68.6 L643.3 69 L643.8 69.4 L644.3 69.9 L644.8 70.4 L645.3 71.1 L645.8 71.7 L646.3 72.5 L646.8 73.3 L647.3 74.1 L647.8 75 L648.3 76 L648.8 77 L649.2 78 L649.7 79.2 L650.2 80.3 L650.7 81.5 L651.2 82.8 L651.7 84.2 L652.2 85.6 L652.7 87.1 L653.2 88.6 L653.7 90.2 L654.2 91.8 L654.7 93.5 L655.2 95.2 L655.7 96.9 L656.2 98.7 L656.7 100.6 L657.2 102.4 L657.7 104.3 L658.2 106.2 L658.7 108.3 L659.2 110.6 L659.7 112.9 L660.2 115.3 L660.7 117.7 L661.2 120.1 L661.7 122.5 L662.2 124.8" fill="none" stroke="#fb8c0c" stroke-width="1.2" stroke-dasharray="3 1.5"/>
</g>
<rect x="555.8" y="93.2" width="79.6" height="30.8" rx="1.5" fill="#fff" fill-opacity="0.85" stroke="#d6d6d6" stroke-width="0.6"/>
<circle cx="561.2" cy="95.9" r="1.25" fill="#7b9bd8"/>
<rect x="556.8" y="100" width="8.2" height="2.8" fill="#fcdcb8"/>
<path d="M556.8 113.6h8.2" stroke="#fb8c0c" stroke-width="1.1" stroke-dasharray="3.6 1.4"/>
<text transform="translate(568.2 97.4) scale(0.1)" font-size="39.5" font-weight="bold" fill="#3a3a3a">Sample</text>
<text transform="translate(568.2 102.8) scale(0.1)" font-size="39.5" font-weight="bold" fill="#3a3a3a">95% Confidence interval</text>
<text transform="translate(568.2 108.6) scale(0.1)" font-size="39.5" font-weight="bold" fill="#3a3a3a">Fitted curve (R-square: 0.67):</text>
<text transform="translate(568.2 115) scale(0.1)" font-size="39.5" font-weight="bold" fill="#3a3a3a">y = -1.3e-12X<tspan dy="-14" font-size="27.7">5</tspan><tspan dy="14"> </tspan> -9.2e-11X<tspan dy="-14" font-size="27.7">4</tspan><tspan dy="14"> </tspan> +6.5e-08X<tspan dy="-14" font-size="27.7">3</tspan><tspan dy="14"> </tspan></text>
<text transform="translate(574.6 121.1) scale(0.1)" font-size="39.5" font-weight="bold" fill="#3a3a3a">+9.3e-07X<tspan dy="-14" font-size="27.7">2</tspan><tspan dy="14"> </tspan> -0.00017X +0.012</text>
<path d="M559.9 152 L559.9 151.9 L561.1 151.9 L561.1 151.8 L562.3 151.8 L562.3 151.7 L563.5 151.7 L563.5 151.6 L564.7 151.6 L564.7 151.5 L565.9 151.5 L565.9 151.4 L567.1 151.4 L567.1 151.2 L568.3 151.2 L568.3 151.1 L569.5 151.1 L569.5 151 L570.7 151 L570.7 150.6 L571.9 150.6 L571.9 150.1 L573.1 150.1 L573.1 149.8 L574.3 149.8 L574.3 149.4 L575.5 149.4 L575.5 148.4 L576.7 148.4 L576.7 147.8 L577.9 147.8 L577.9 146.6 L579.1 146.6 L579.1 145.4 L580.3 145.4 L580.3 144.2 L581.5 144.2 L581.5 143.5 L582.7 143.5 L582.7 142.1 L583.9 142.1 L583.9 141.2 L585.1 141.2 L585.1 139.7 L586.3 139.7 L586.3 137.2 L587.5 137.2 L587.5 134.1 L588.7 134.1 L588.7 130.9 L589.9 130.9 L589.9 128.7 L591.1 128.7 L591.1 126.8 L592.3 126.8 L592.3 127.2 L593.5 127.2 L593.5 130.6 L594.7 130.6 L594.7 134.6 L595.9 134.6 L595.9 137.7 L597.1 137.7 L597.1 139.6 L598.3 139.6 L598.3 141.6 L599.5 141.6 L599.5 142.9 L600.7 142.9 L600.7 144.8 L601.9 144.8 L601.9 145.3 L603.1 145.3 L603.1 145.6 L604.3 145.6 L604.3 146.6 L605.5 146.6 L605.5 147.2 L606.7 147.2 L606.7 147.6 L607.9 147.6 L607.9 148.4 L609.1 148.4 L609.1 148.4 L610.3 148.4 L610.3 148.8 L611.5 148.8 L611.5 148.9 L612.7 148.9 L612.7 149.3 L613.9 149.3 L613.9 149.6 L615.1 149.6 L615.1 149.8 L616.3 149.8 L616.3 150.1 L617.5 150.1 L617.5 150.1 L618.7 150.1 L618.7 150.3 L619.9 150.3 L619.9 150.6 L621.1 150.6 L621.1 150.7 L622.3 150.7 L622.3 150.9 L623.5 150.9 L623.5 150.9 L624.7 150.9 L624.7 151.1 L625.9 151.1 L625.9 151.2 L627.1 151.2 L627.1 151.2 L628.3 151.2 L628.3 151.3 L629.5 151.3 L629.5 151.4 L630.7 151.4 L630.7 151.5 L631.9 151.5 L631.9 151.6 L633.1 151.6 L633.1 151.7 L634.3 151.7 L634.3 151.8 L635.5 151.8 L635.5 151.8 L636.7 151.8 L636.7 151.8 L637.9 151.8 L637.9 151.9 L639.1 151.9 L639.1 151.9 L640.3 151.9 L640.3 151.9 L641.5 151.9 L641.5 152 L642.7 152 L642.7 152 L643.9 152 L642.9 152 Z" fill="url(#hpat)"/>
<rect x="553.5" y="20.5" width="114.5" height="131.5" fill="none" stroke="#7a7a7a" stroke-width="0.9"/>
<path d="M553.5 125.5H668" stroke="#7a7a7a" stroke-width="0.9"/>
<text x="551.2" y="22.8" font-size="6" text-anchor="end" font-weight="bold" fill="#2a2a2a">0.3</text>
<text x="551.2" y="38.6" font-size="6" text-anchor="end" font-weight="bold" fill="#2a2a2a">0.2</text>
<text x="551.2" y="54.4" font-size="6" text-anchor="end" font-weight="bold" fill="#2a2a2a">0.1</text>
<text x="551.2" y="70.2" font-size="6" text-anchor="end" font-weight="bold" fill="#2a2a2a">0.0</text>
<text x="551.2" y="86" font-size="6" text-anchor="end" font-weight="bold" fill="#2a2a2a">-0.1</text>
<text x="551.2" y="101.8" font-size="6" text-anchor="end" font-weight="bold" fill="#2a2a2a">-0.2</text>
<text x="551.2" y="117.6" font-size="6" text-anchor="end" font-weight="bold" fill="#2a2a2a">-0.3</text>
<text x="564.1" y="159" font-size="6" text-anchor="middle" font-weight="bold" fill="#2a2a2a">-100</text>
<text x="594.1" y="159" font-size="6" text-anchor="middle" font-weight="bold" fill="#2a2a2a">0</text>
<text x="624.1" y="159" font-size="6" text-anchor="middle" font-weight="bold" fill="#2a2a2a">100</text>
<text x="654.1" y="159" font-size="6" text-anchor="middle" font-weight="bold" fill="#2a2a2a">200</text>
<text x="610.8" y="168.2" font-size="8.8" text-anchor="middle" font-weight="bold" fill="#111">Rx5day (mm)</text>
<text x="534" y="86.2" font-size="8.8" text-anchor="middle" font-weight="bold" fill="#111" transform="rotate(-90 534 86.2)">Effect on Mig_R (%)</text>
<text x="549.3" y="138.8" font-size="8.8" text-anchor="middle" font-weight="bold" fill="#111" transform="rotate(-90 549.3 138.8)">Dist.</text>
<path d="M44.6 191.5V323M64.4 191.5V323M84.2 191.5V323M104 191.5V323M123.8 191.5V323M143.6 191.5V323M39.5 193.3H154M39.5 212.3H154M39.5 231.3H154M39.5 269.3H154M39.5 288.3H154M39.5 309.8H154" stroke="#ececec" stroke-width="0.6" fill="none"/>
<g clip-path="url(#c_PRCP)">
<path d="M47.3 257.9 L52.5 249.1 L59.5 235.1 L68.3 229.8 L85.9 231.6 L99.9 226.3 L101.6 210.5 L108.0 203.0 L118.0 200.5 L130.0 202.0 L140.0 207.0 L146.0 216.0 L144.0 230.0 L134.0 238.0 L126.2 238.0 L112.2 240.4 L105.2 252.6 L94.6 264.9 L82.4 270.2 L68.3 273.7 L61.3 279.0 L54.3 277.2 L49.0 270.2Z" fill="#dde9f6" fill-opacity="0.5" filter="url(#bl2)"/>
<path d="M66.8 270.8h0M67.4 257.7h0M65.2 263.8h0M49.7 260.8h0M106.3 207.3h0M92.7 262.1h0M90.6 241.9h0M139.0 215.1h0M124.2 215.1h0M95.9 243.8h0M103.2 244.2h0M112.4 224.7h0M73.3 246.3h0M128.3 225.1h0M81.6 263.0h0M105.2 239.3h0M125.4 210.7h0M109.1 239.7h0M91.5 256.1h0M55.5 251.4h0M71.3 257.9h0M66.3 253.0h0M137.5 215.5h0M53.0 253.9h0M131.7 220.7h0M95.2 248.9h0M56.8 260.8h0M94.8 231.8h0M58.4 261.6h0M107.9 234.7h0M67.0 270.7h0M130.8 219.4h0M118.6 224.2h0M89.4 253.9h0M96.9 249.4h0M98.9 248.5h0M85.1 251.5h0M56.1 273.4h0M129.1 215.4h0M109.5 209.6h0M64.0 236.3h0M81.6 238.0h0M145.5 215.7h0M122.9 238.3h0M136.1 227.4h0M84.2 238.0h0M64.1 261.4h0M81.2 231.8h0M121.4 238.6h0M129.0 219.4h0M115.2 221.8h0M70.2 239.8h0M71.8 245.8h0M56.8 273.4h0M139.8 210.3h0M70.2 251.4h0M124.6 208.8h0M75.3 251.4h0M53.7 267.5h0M109.9 216.2h0M78.8 248.4h0M107.7 234.7h0M120.1 217.2h0M138.0 209.4h0M84.4 245.3h0M104.0 227.8h0M134.7 222.8h0M76.2 242.2h0M104.1 241.6h0M112.8 217.9h0M102.1 243.8h0M135.9 221.5h0M51.1 256.7h0M93.2 251.0h0M114.7 209.7h0M62.2 277.4h0M136.0 208.6h0M117.2 220.9h0M133.1 206.4h0M54.9 260.7h0M95.9 246.5h0M125.5 210.1h0M127.8 228.0h0M71.6 267.4h0M77.1 265.3h0M124.0 228.9h0M125.7 225.1h0M111.8 232.9h0M131.6 207.7h0M102.0 245.0h0M71.4 238.1h0M68.4 247.9h0M114.5 209.8h0M67.9 267.2h0M81.8 259.3h0M52.4 267.3h0M110.9 232.5h0M130.6 219.7h0M119.9 231.0h0M89.4 233.4h0M117.3 203.9h0M81.5 241.0h0M69.3 244.2h0M137.4 231.4h0M79.6 247.0h0M108.9 241.4h0M102.5 231.8h0M129.4 233.8h0M53.4 256.7h0M78.5 243.0h0M72.4 242.9h0M119.3 205.7h0M92.0 261.7h0M125.0 230.6h0M79.2 265.7h0M83.5 250.6h0M141.9 223.4h0M95.1 230.5h0M58.0 262.3h0M111.6 215.6h0M130.7 234.4h0M48.4 259.8h0M51.3 266.5h0M62.0 274.1h0M107.0 244.4h0M124.2 236.1h0M120.7 213.5h0M53.1 261.5h0M129.0 225.4h0M75.9 239.6h0M132.1 216.4h0M70.7 233.7h0M135.8 224.9h0M128.4 203.7h0M116.0 225.7h0M59.2 271.5h0M90.1 249.4h0M118.7 224.7h0M105.9 249.7h0M109.9 239.8h0M134.0 235.2h0M141.2 214.2h0M71.8 238.8h0M124.3 206.1h0M102.0 248.9h0M81.7 254.1h0M60.7 276.6h0M127.0 209.3h0M136.4 206.9h0M129.0 212.9h0M70.6 232.8h0M124.3 212.0h0M82.1 239.9h0M93.5 248.1h0M113.4 232.2h0M115.6 207.9h0M79.0 245.3h0M124.4 223.0h0M139.7 209.1h0M73.9 268.6h0M72.5 245.5h0M68.0 245.2h0M119.6 225.1h0M65.3 235.4h0M141.2 225.6h0M68.1 247.4h0M71.6 255.9h0M75.6 238.9h0M111.5 210.8h0M112.1 225.0h0M57.2 275.8h0M135.1 230.0h0M68.7 250.8h0M112.5 228.2h0M67.2 267.8h0M89.2 231.9h0M116.3 237.1h0M59.5 248.2h0M105.1 235.9h0M145.4 216.9h0M111.4 206.9h0M124.8 237.4h0M135.4 206.3h0M87.8 245.2h0M73.8 267.0h0M86.9 260.6h0M125.5 222.7h0M54.5 255.6h0M133.9 217.4h0M105.7 242.0h0M107.4 223.2h0M57.2 272.6h0M96.9 237.6h0M117.1 221.7h0M85.0 242.7h0M82.3 269.3h0M72.0 251.2h0M55.9 244.9h0M60.1 245.4h0M80.1 238.1h0M69.7 272.9h0M57.4 273.3h0M60.6 262.4h0M97.0 259.1h0M49.9 263.3h0M111.1 213.2h0M66.8 263.1h0M74.1 243.3h0M82.9 244.7h0M107.9 246.9h0M118.3 217.4h0M108.4 237.9h0M48.1 262.8h0M55.1 244.1h0M63.4 262.9h0M51.6 262.7h0M98.8 237.1h0M101.0 223.1h0M52.0 264.6h0M126.6 211.9h0M125.0 222.5h0M107.4 230.5h0M137.7 224.9h0M60.1 268.0h0M100.6 245.9h0M67.9 248.9h0M112.8 228.0h0M76.5 244.3h0M87.0 260.4h0M122.8 217.4h0M143.1 225.3h0M62.1 245.4h0M95.1 252.3h0M91.6 248.2h0M115.4 234.8h0M55.9 245.0h0M65.5 240.3h0M101.0 254.6h0M58.1 251.3h0M141.5 211.6h0M77.3 262.2h0M108.2 227.2h0M90.5 253.5h0M100.3 248.7h0M126.4 221.7h0M72.7 271.4h0M112.1 237.1h0M78.7 243.7h0M71.9 259.8h0M71.3 237.0h0M102.3 234.5h0M55.4 269.6h0M116.9 239.4h0M105.9 213.0h0M128.3 221.1h0M133.9 216.6h0M112.8 206.9h0M75.8 271.6h0M53.2 257.8h0M97.0 254.7h0M76.1 264.5h0M86.5 254.8h0M127.9 227.7h0M112.4 227.9h0M66.7 248.3h0M103.1 220.5h0M113.8 230.3h0M59.3 245.9h0M69.5 233.6h0M109.2 225.9h0M107.1 242.2h0M68.8 255.4h0M104.0 229.0h0M142.0 230.8h0M142.3 229.4h0M60.0 248.2h0M91.5 248.4h0M114.9 204.8h0M131.7 209.6h0M80.4 248.4h0M107.4 247.3h0M89.6 236.4h0M54.3 253.6h0M129.6 232.7h0M55.2 256.6h0M118.7 236.5h0M114.1 222.7h0M74.8 236.0h0M55.5 267.7h0M118.1 215.7h0M72.0 245.1h0M106.2 245.2h0M77.9 261.9h0M107.1 222.5h0M122.3 202.0h0M135.4 224.4h0M62.7 236.4h0M80.5 266.2h0M66.5 259.1h0M129.2 212.8h0M55.3 244.8h0M107.3 207.0h0M138.3 221.0h0M52.1 256.1h0M135.4 234.4h0M72.1 269.3h0M115.0 233.3h0M116.9 214.6h0M78.8 246.0h0M58.6 271.2h0M124.6 229.0h0M123.1 207.0h0M64.4 274.6h0M113.4 214.2h0M133.4 208.6h0M116.0 229.1h0M64.9 237.2h0M106.0 207.2h0M81.4 269.6h0M128.4 227.7h0M83.6 234.1h0M120.6 207.3h0M118.4 202.5h0M65.1 257.2h0M63.4 260.7h0M101.0 256.6h0M121.6 206.6h0M82.6 265.4h0M78.0 246.4h0M120.7 216.6h0M93.9 239.2h0M126.7 218.2h0M65.0 254.9h0M113.4 237.8h0M88.4 241.0h0M53.5 259.7h0M50.1 257.3h0M64.1 267.1h0M83.9 251.0h0M107.1 212.9h0M71.9 233.3h0M73.1 236.8h0M90.7 245.0h0M62.1 251.0h0M74.9 243.4h0M140.9 232.2h0M92.0 265.0h0M72.3 267.6h0M91.0 234.6h0M122.2 208.3h0M145.0 218.2h0M101.7 233.3h0M69.3 239.1h0M106.2 225.8h0M78.0 251.5h0M66.2 267.7h0M101.7 238.0h0M118.3 202.0h0M122.9 232.3h0M102.7 240.2h0M133.6 207.4h0M76.3 245.8h0M74.9 272.0h0M77.5 261.8h0M128.3 233.8h0M79.6 234.9h0M52.8 250.8h0M124.0 215.1h0M56.9 266.9h0M134.8 212.7h0M109.3 243.1h0M141.6 224.3h0M65.8 237.7h0M79.0 269.3h0M137.2 234.0h0M68.8 266.0h0M72.5 233.0h0M59.4 249.2h0M71.2 242.6h0M132.1 231.1h0M74.0 261.6h0M61.1 265.7h0M139.2 229.8h0M110.5 206.5h0M141.8 222.1h0M140.6 213.1h0M102.8 228.4h0M97.1 259.0h0M106.7 215.1h0M123.9 235.3h0M124.9 233.3h0M83.1 242.6h0M108.8 244.6h0M91.6 232.0h0M132.4 234.9h0M124.9 218.2h0M97.7 251.7h0M82.2 232.6h0M117.5 201.7h0M86.2 234.9h0M64.1 270.8h0M53.7 265.0h0M71.4 244.5h0M118.5 227.7h0M70.6 237.7h0M70.7 258.0h0M133.3 230.8h0M110.2 210.9h0M124.2 220.9h0M112.9 210.7h0M66.9 250.7h0M109.9 241.6h0M100.7 221.1h0M79.1 243.1h0M68.1 239.0h0M63.4 263.1h0M74.8 233.1h0M57.2 262.3h0M89.3 265.3h0M79.6 261.0h0M138.2 234.3h0M104.2 232.5h0M50.9 252.9h0M123.7 217.9h0M105.4 211.3h0M114.2 223.6h0M56.6 248.5h0M137.6 214.0h0M134.8 222.3h0M132.9 231.0h0M115.9 205.1h0M101.9 241.9h0M115.1 215.4h0M126.2 205.2h0M138.9 222.5h0M114.1 229.4h0M76.9 254.6h0M97.9 249.6h0M97.4 243.7h0M63.9 251.8h0M62.5 262.2h0M114.4 215.9h0M50.8 263.1h0M49.2 264.7h0M127.4 216.6h0M137.0 227.5h0M110.6 225.2h0M57.5 260.9h0M109.0 212.1h0M116.7 237.4h0M69.0 245.2h0M84.1 235.3h0M105.6 233.1h0M115.7 226.0h0M48.0 258.6h0M121.2 204.8h0M88.5 246.4h0M84.2 238.0h0M82.6 253.5h0M86.1 253.6h0M55.2 246.8h0M105.6 210.0h0M117.3 227.9h0M114.3 226.6h0" stroke="#a3c2e6" stroke-opacity="0.35" stroke-width="1" stroke-linecap="round"/>
<path d="M58.7 249.1 L63.1 236.8 L68.3 234.2 L77.1 236.8 L85.9 236.0 L99.9 235.1 L101.0 226.0 L103.0 215.0 L107.0 208.0 L113.0 206.0 L118.0 209.0 L119.0 217.0 L113.0 226.0 L107.0 235.0 L103.4 245.6 L94.6 257.9 L85.9 264.9 L77.1 263.2 L68.3 261.4 L61.3 257.9 L59.5 266.7 L57.8 264.9Z" fill="#4d8acb" fill-opacity="0.5" filter="url(#bl1)"/>
<path d="M58.0 262.2V263.3M58.7 249.3V262.4M59.3 254.1V258.8M59.7 248.6V264.2M60.0 247.6V260.9M60.7 249.8V259.0M61.3 244.8V252.9M61.7 247.4V254.9M62.5 243.7V257.2M63.2 244.4V249.5M63.5 243.7V251.1M64.0 245.4V251.5M64.6 236.9V251.7M65.2 245.4V249.1M65.9 245.3V256.3M66.5 245.9V251.2M66.9 241.2V253.5M67.3 240.5V254.9M67.7 244.6V257.8M68.5 234.7V253.0M68.8 240.7V254.1M69.3 241.6V255.0M69.8 236.9V252.4M70.3 246.3V259.4M70.8 235.3V253.6M71.2 241.8V253.8M71.9 236.2V261.1M72.4 240.8V260.5M73.0 242.9V251.0M73.6 238.3V255.5M74.4 237.7V260.0M75.1 236.6V258.5M75.7 241.3V258.8M76.5 239.9V255.3M76.9 244.4V256.5M77.3 246.2V257.0M78.0 239.2V254.2M78.4 238.7V259.2M78.9 240.7V257.3M79.5 237.6V257.0M80.2 245.8V260.6M80.8 246.1V252.2M81.3 242.6V263.3M82.0 242.4V252.7M82.6 241.5V264.1M83.2 236.5V256.7M83.6 244.9V255.9M84.1 246.8V264.4M84.8 247.7V263.9M85.4 238.6V259.6M86.0 242.6V257.9M86.7 240.9V255.4M87.3 239.9V260.5M87.7 242.6V261.0M88.0 246.9V258.1M88.4 244.5V251.9M89.1 244.5V250.7M89.8 242.5V257.7M90.5 237.1V254.7M91.1 237.7V257.3M91.8 243.9V251.6M92.6 246.1V252.4M93.0 244.0V251.3M93.4 242.8V252.5M93.8 238.0V255.7M94.5 238.2V255.7M95.2 237.2V251.4M95.6 242.1V247.8M96.0 240.3V253.5M96.6 237.1V246.4M97.1 237.6V249.5M97.6 238.9V252.6M98.1 242.9V247.3M98.9 241.7V244.9M99.5 238.7V246.7M100.1 240.6V249.7M100.7 228.6V248.8M101.3 233.9V241.5M102.1 223.6V243.5M102.6 219.3V242.2M103.3 216.4V233.5M104.1 225.9V234.4M104.8 217.0V228.7M105.4 212.5V227.7M106.0 221.2V226.3M106.4 219.3V228.3M106.9 213.9V224.4M107.5 218.1V233.6M108.1 218.4V224.4M108.5 207.8V223.7M109.2 217.9V230.5M109.6 209.7V226.6M110.2 213.0V229.8M110.8 212.0V224.1M111.2 207.7V227.0M111.8 215.8V219.5M112.4 206.5V218.2M113.0 212.2V222.2M113.4 209.3V223.0M113.9 206.6V219.1M114.2 210.3V218.7M114.9 213.3V218.9M115.6 212.0V216.9M116.1 209.4V216.6M116.7 212.0V218.4M117.4 209.3V215.1M118.2 212.8V215.5M118.6 213.9V216.0" stroke="#2f71bb" stroke-opacity="0.3" stroke-width="0.9" fill="none"/>
<path d="M63.1 245.6 L64.8 237.7 L70.1 236.0 L75.3 240.4 L80.6 237.7 L85.9 239.5 L92.9 237.7 L99.9 237.7 L102.5 242.1 L101.6 246.5 L94.6 252.6 L89.4 257.9 L84.1 262.3 L78.8 257.9 L71.8 257.9 L66.6 256.1 L62.2 252.6Z" fill="#0b4e9d" filter="url(#bl0)"/>
<path d="M62.5 250.1V253.0M62.9 246.9V253.0M63.5 244.6V254.2M64.0 241.3V252.5M64.4 241.4V253.6M65.1 238.9V254.5M65.8 237.1V253.9M66.4 236.4V255.7M67.1 239.3V253.7M67.9 236.3V256.8M68.5 236.4V254.7M69.3 235.2V255.0M70.1 235.0V257.6M70.6 238.5V255.4M71.1 236.4V254.9M71.6 240.0V255.5M72.1 237.1V258.0M72.8 239.4V257.7M73.5 241.6V255.4M74.3 238.3V257.6M75.0 242.1V257.3M75.8 241.0V257.7M76.3 240.9V259.2M76.8 241.6V256.9M77.3 241.2V257.9M77.8 240.8V258.0M78.3 241.2V255.8M79.0 240.3V255.3M79.6 240.1V259.1M80.2 239.0V256.1M80.9 238.9V260.3M81.6 237.3V258.5M82.5 240.9V259.3M83.3 238.5V259.1M83.8 241.8V263.5M84.5 238.7V263.1M85.1 241.3V262.0M85.9 238.3V260.3M86.5 239.9V258.8M86.9 241.7V256.9M87.6 240.4V258.1M88.2 240.1V257.9M88.9 238.9V257.2M89.7 239.4V257.9M90.3 238.0V256.5M91.0 238.8V254.8M91.6 239.9V255.8M92.4 238.0V254.9M93.1 240.0V254.2M93.8 237.9V253.8M94.3 236.9V252.2M94.7 239.0V252.2M95.4 239.7V250.3M96.0 239.4V252.3M96.5 238.8V251.2M97.2 239.1V248.8M97.6 238.4V248.9M98.1 239.5V250.3M98.8 238.1V247.9M99.4 237.6V249.0M100.1 239.1V247.1M100.7 240.3V247.8M101.1 240.8V247.1M101.8 241.3V245.2M102.5 242.1V242.2" stroke="#0a4a98" stroke-opacity="0.55" stroke-width="0.8" fill="none"/>
<path d="M45.1 294.6 L45.6 292.8 L46.1 291 L46.6 289.1 L47.1 287.3 L47.6 285.5 L48.1 283.6 L48.6 281.8 L49.1 280 L49.6 278.3 L50.1 276.5 L50.6 274.8 L51.1 273.1 L51.6 271.3 L52.1 269.5 L52.6 267.8 L53.1 266 L53.6 264.3 L54.1 262.7 L54.6 261.1 L55.1 259.6 L55.6 258.2 L56.1 257 L56.6 255.9 L57.1 255 L57.6 254.1 L58.1 253.4 L58.6 252.7 L59.1 252.2 L59.6 251.7 L60.1 251.2 L60.6 250.8 L61.1 250.4 L61.6 250 L62.1 249.7 L62.6 249.4 L63.1 249.2 L63.6 249.1 L64.1 249 L64.6 249 L65.1 249 L65.6 249 L66.1 249.1 L66.6 249.1 L67.1 249.2 L67.6 249.2 L68.1 249.3 L68.6 249.4 L69.1 249.5 L69.6 249.5 L70.1 249.6 L70.6 249.7 L71 249.8 L71.5 250 L72 250.1 L72.5 250.2 L73 250.3 L73.5 250.4 L74 250.5 L74.5 250.6 L75 250.7 L75.5 250.8 L76 250.9 L76.5 251 L77 251 L77.5 251.1 L78 251.2 L78.5 251.2 L79 251.3 L79.5 251.3 L80 251.3 L80.5 251.3 L81 251.4 L81.5 251.4 L82 251.4 L82.5 251.5 L83 251.5 L83.5 251.5 L84 251.5 L84.5 251.5 L85 251.5 L85.5 251.5 L86 251.5 L86.5 251.4 L87 251.4 L87.5 251.3 L88 251.2 L88.5 251 L89 250.8 L89.5 250.6 L90 250.4 L90.5 250.1 L91 249.8 L91.5 249.4 L92 249 L92.5 248.6 L93 248.1 L93.5 247.6 L94 247 L94.5 246.5 L95 245.9 L95.5 245.3 L96 244.6 L96.5 244 L97 243.3 L97.5 242.6 L98 241.9 L98.5 241.2 L99 240.5 L99.5 239.9 L100 239.2 L100.5 238.5 L101 237.8 L101.5 237.2 L102 236.6 L102.5 235.9 L103 235.3 L103.5 234.7 L104 234.1 L104.5 233.4 L105 232.8 L105.5 232.2 L106 231.5 L106.5 230.9 L107 230.2 L107.5 229.6 L108 229 L108.5 228.4 L109 227.7 L109.5 227.1 L110 226.5 L110.5 225.9 L111 225.4 L111.5 224.8 L112 224.2 L112.5 223.6 L113 223 L113.5 222.4 L114 221.8 L114.5 221.2 L115 220.6 L115.5 220.1 L116 219.5 L116.5 219 L117 218.6 L117.5 218.2 L118 217.8 L118.5 217.4 L119 217 L119.5 216.7 L120 216.4 L120.5 216 L121 215.7 L121.5 215.3 L122 215 L122.5 214.7 L122.9 214.4 L123.4 214.1 L123.9 213.9 L124.4 213.7 L124.9 213.4 L125.4 213.2 L125.9 213 L126.4 212.8 L126.9 212.6 L127.4 212.5 L127.9 212.4 L128.4 212.3 L128.9 212.2 L129.4 212.2 L129.9 212.2 L130.4 212.2 L130.9 212.2 L131.4 212.3 L131.9 212.3 L132.4 212.3 L132.9 212.4 L133.4 212.4 L133.9 212.5 L134.4 212.5 L134.9 212.6 L135.4 212.5 L135.9 212.4 L136.4 212.4 L136.9 212.3 L137.4 212.2 L137.9 212.2 L138.4 212.1 L138.9 212 L139.4 212 L139.9 211.9 L140.4 211.8 L140.9 211.7 L141.4 211.6 L141.9 211.5 L142.4 211.3 L142.9 211.1 L143.4 210.9 L143.9 210.6 L144.4 210.3 L144.9 210 L145.4 209.7 L145.9 209.5 L146.4 209.2 L146.9 208.9 L147.4 208.6 L147.9 208.3 L148.4 208 L148.4 234 L147.9 233.7 L147.4 233.3 L146.9 233 L146.4 232.7 L145.9 232.3 L145.4 232 L144.9 231.7 L144.4 231.3 L143.9 231 L143.4 230.6 L142.9 230.2 L142.4 229.8 L141.9 229.5 L141.4 229.1 L140.9 228.8 L140.4 228.5 L139.9 228.1 L139.4 227.8 L138.9 227.4 L138.4 227 L137.9 226.7 L137.4 226.3 L136.9 225.9 L136.4 225.6 L135.9 225.2 L135.4 224.9 L134.9 224.5 L134.4 224.2 L133.9 223.8 L133.4 223.5 L132.9 223.2 L132.4 222.8 L131.9 222.5 L131.4 222.1 L130.9 221.8 L130.4 221.5 L129.9 221.1 L129.4 220.9 L128.9 220.6 L128.4 220.3 L127.9 220.1 L127.4 219.9 L126.9 219.8 L126.4 219.7 L125.9 219.6 L125.4 219.5 L124.9 219.4 L124.4 219.4 L123.9 219.5 L123.4 219.5 L122.9 219.6 L122.5 219.7 L122 219.8 L121.5 219.9 L121 220 L120.5 220.2 L120 220.4 L119.5 220.6 L119 220.8 L118.5 221.1 L118 221.4 L117.5 221.6 L117 222 L116.5 222.3 L116 222.7 L115.5 223.2 L115 223.6 L114.5 224.1 L114 224.6 L113.5 225.1 L113 225.6 L112.5 226.1 L112 226.6 L111.5 227.2 L111 227.8 L110.5 228.3 L110 228.9 L109.5 229.5 L109 230.1 L108.5 230.8 L108 231.4 L107.5 232 L107 232.6 L106.5 233.3 L106 233.9 L105.5 234.6 L105 235.2 L104.5 235.8 L104 236.5 L103.5 237.1 L103 237.7 L102.5 238.3 L102 239 L101.5 239.6 L101 240.2 L100.5 240.9 L100 241.6 L99.5 242.3 L99 242.9 L98.5 243.6 L98 244.3 L97.5 245 L97 245.7 L96.5 246.4 L96 247 L95.5 247.7 L95 248.3 L94.5 248.9 L94 249.4 L93.5 250 L93 250.5 L92.5 251 L92 251.4 L91.5 251.8 L91 252.2 L90.5 252.5 L90 252.8 L89.5 253 L89 253.2 L88.5 253.4 L88 253.6 L87.5 253.7 L87 253.8 L86.5 253.8 L86 253.9 L85.5 253.9 L85 253.9 L84.5 253.9 L84 253.9 L83.5 253.9 L83 253.9 L82.5 253.9 L82 253.8 L81.5 253.8 L81 253.8 L80.5 253.7 L80 253.7 L79.5 253.7 L79 253.7 L78.5 253.6 L78 253.6 L77.5 253.5 L77 253.4 L76.5 253.4 L76 253.3 L75.5 253.2 L75 253.1 L74.5 253 L74 252.9 L73.5 252.8 L73 252.7 L72.5 252.6 L72 252.5 L71.5 252.4 L71 252.2 L70.6 252.1 L70.1 252 L69.6 251.9 L69.1 251.9 L68.6 251.8 L68.1 251.7 L67.6 251.6 L67.1 251.6 L66.6 251.5 L66.1 251.5 L65.6 251.4 L65.1 251.4 L64.6 251.4 L64.1 251.4 L63.6 251.5 L63.1 251.6 L62.6 251.8 L62.1 252.1 L61.6 252.4 L61.1 252.8 L60.6 253.2 L60.1 253.6 L59.6 254.1 L59.1 254.6 L58.6 255.1 L58.1 255.8 L57.6 256.5 L57.1 257.4 L56.6 258.3 L56.1 259.4 L55.6 260.6 L55.1 262 L54.6 263.5 L54.1 265.1 L53.6 266.7 L53.1 268.4 L52.6 270.2 L52.1 271.9 L51.6 273.7 L51.1 275.5 L50.6 277.2 L50.1 278.9 L49.6 280.7 L49.1 282.4 L48.6 284.2 L48.1 286 L47.6 287.9 L47.1 289.7 L46.6 291.5 L46.1 293.4 L45.6 295.2 L45.1 297 Z" fill="#fbc386" fill-opacity="0.45"/>
<path d="M39.5 250.3H154" stroke="#adadad" stroke-width="0.8"/>
<path d="M45.1 295.8 L45.6 294 L46.1 292.2 L46.6 290.3 L47.1 288.5 L47.6 286.7 L48.1 284.8 L48.6 283 L49.1 281.2 L49.6 279.5 L50.1 277.7 L50.6 276 L51.1 274.3 L51.6 272.5 L52.1 270.7 L52.6 269 L53.1 267.2 L53.6 265.5 L54.1 263.9 L54.6 262.3 L55.1 260.8 L55.6 259.4 L56.1 258.2 L56.6 257.1 L57.1 256.2 L57.6 255.3 L58.1 254.6 L58.6 253.9 L59.1 253.4 L59.6 252.9 L60.1 252.4 L60.6 252 L61.1 251.6 L61.6 251.2 L62.1 250.9 L62.6 250.6 L63.1 250.4 L63.6 250.3 L64.1 250.2 L64.6 250.2 L65.1 250.2 L65.6 250.2 L66.1 250.3 L66.6 250.3 L67.1 250.4 L67.6 250.4 L68.1 250.5 L68.6 250.6 L69.1 250.7 L69.6 250.7 L70.1 250.8 L70.6 250.9 L71 251 L71.5 251.2 L72 251.3 L72.5 251.4 L73 251.5 L73.5 251.6 L74 251.7 L74.5 251.8 L75 251.9 L75.5 252 L76 252.1 L76.5 252.2 L77 252.2 L77.5 252.3 L78 252.4 L78.5 252.4 L79 252.5 L79.5 252.5 L80 252.5 L80.5 252.5 L81 252.6 L81.5 252.6 L82 252.6 L82.5 252.7 L83 252.7 L83.5 252.7 L84 252.7 L84.5 252.7 L85 252.7 L85.5 252.7 L86 252.7 L86.5 252.6 L87 252.6 L87.5 252.5 L88 252.4 L88.5 252.2 L89 252 L89.5 251.8 L90 251.6 L90.5 251.3 L91 251 L91.5 250.6 L92 250.2 L92.5 249.8 L93 249.3 L93.5 248.8 L94 248.2 L94.5 247.7 L95 247.1 L95.5 246.5 L96 245.8 L96.5 245.2 L97 244.5 L97.5 243.8 L98 243.1 L98.5 242.4 L99 241.7 L99.5 241.1 L100 240.4 L100.5 239.7 L101 239 L101.5 238.4 L102 237.8 L102.5 237.1 L103 236.5 L103.5 235.9 L104 235.3 L104.5 234.6 L105 234 L105.5 233.4 L106 232.7 L106.5 232.1 L107 231.4 L107.5 230.8 L108 230.2 L108.5 229.6 L109 228.9 L109.5 228.3 L110 227.7 L110.5 227.1 L111 226.6 L111.5 226 L112 225.4 L112.5 224.8 L113 224.3 L113.5 223.7 L114 223.2 L114.5 222.6 L115 222.1 L115.5 221.6 L116 221.1 L116.5 220.7 L117 220.3 L117.5 219.9 L118 219.6 L118.5 219.2 L119 218.9 L119.5 218.6 L120 218.4 L120.5 218.1 L121 217.9 L121.5 217.6 L122 217.4 L122.5 217.2 L122.9 217 L123.4 216.8 L123.9 216.7 L124.4 216.5 L124.9 216.4 L125.4 216.3 L125.9 216.3 L126.4 216.2 L126.9 216.2 L127.4 216.2 L127.9 216.2 L128.4 216.3 L128.9 216.4 L129.4 216.5 L129.9 216.7 L130.4 216.8 L130.9 217 L131.4 217.2 L131.9 217.4 L132.4 217.6 L132.9 217.8 L133.4 218 L133.9 218.2 L134.4 218.4 L134.9 218.5 L135.4 218.7 L135.9 218.8 L136.4 219 L136.9 219.1 L137.4 219.3 L137.9 219.4 L138.4 219.6 L138.9 219.7 L139.4 219.9 L139.9 220 L140.4 220.1 L140.9 220.3 L141.4 220.4 L141.9 220.5 L142.4 220.6 L142.9 220.7 L143.4 220.7 L143.9 220.8 L144.4 220.8 L144.9 220.9 L145.4 220.9 L145.9 220.9 L146.4 220.9 L146.9 220.9 L147.4 220.9 L147.9 221 L148.4 221" fill="none" stroke="#fb8c0c" stroke-width="1.2" stroke-dasharray="3 1.5"/>
</g>
<rect x="79.8" y="264.2" width="72.5" height="30.8" rx="1.5" fill="#fff" fill-opacity="0.85" stroke="#d6d6d6" stroke-width="0.6"/>
<circle cx="85.2" cy="266.9" r="1.25" fill="#7b9bd8"/>
<rect x="80.8" y="271" width="8.2" height="2.8" fill="#fcdcb8"/>
<path d="M80.8 284.6h8.2" stroke="#fb8c0c" stroke-width="1.1" stroke-dasharray="3.6 1.4"/>
<text transform="translate(92.2 268.4) scale(0.1)" font-size="39.5" font-weight="bold" fill="#3a3a3a">Sample</text>
<text transform="translate(92.2 273.8) scale(0.1)" font-size="39.5" font-weight="bold" fill="#3a3a3a">95% Confidence interval</text>
<text transform="translate(92.2 279.6) scale(0.1)" font-size="39.5" font-weight="bold" fill="#3a3a3a">Fitted curve (R-square: 0.79):</text>
<text transform="translate(92.2 286) scale(0.1)" font-size="39.5" font-weight="bold" fill="#3a3a3a">y = 6e-10X<tspan dy="-14" font-size="27.7">5</tspan><tspan dy="14"> </tspan> -1e-07X<tspan dy="-14" font-size="27.7">4</tspan><tspan dy="14"> </tspan> +5.1e-07X<tspan dy="-14" font-size="27.7">3</tspan><tspan dy="14"> </tspan></text>
<text transform="translate(98.6 292.1) scale(0.1)" font-size="39.5" font-weight="bold" fill="#3a3a3a">+0.00022X<tspan dy="-14" font-size="27.7">2</tspan><tspan dy="14"> </tspan> +0.0027X -0.012</text>
<path d="M53.2 323 L53.2 322.9 L54.4 322.9 L54.4 322.6 L55.6 322.6 L55.6 322.4 L56.8 322.4 L56.8 322.2 L58 322.2 L58 321.9 L59.2 321.9 L59.2 321.7 L60.4 321.7 L60.4 321.5 L61.6 321.5 L61.6 321.2 L62.8 321.2 L62.8 321 L64 321 L64 320.7 L65.2 320.7 L65.2 320.3 L66.4 320.3 L66.4 320 L67.6 320 L67.6 319.5 L68.8 319.5 L68.8 319.3 L70 319.3 L70 318.9 L71.2 318.9 L71.2 318.4 L72.4 318.4 L72.4 317.5 L73.6 317.5 L73.6 316.3 L74.8 316.3 L74.8 316.2 L76 316.2 L76 314.8 L77.2 314.8 L77.2 312.6 L78.4 312.6 L78.4 310.3 L79.6 310.3 L79.6 308.8 L80.8 308.8 L80.8 305.6 L82 305.6 L82 301.3 L83.2 301.3 L83.2 300.8 L84.4 300.8 L84.4 303.8 L85.6 303.8 L85.6 308 L86.8 308 L86.8 311 L88 311 L88 313 L89.2 313 L89.2 314.4 L90.4 314.4 L90.4 316.7 L91.6 316.7 L91.6 318.1 L92.8 318.1 L92.8 318.5 L94 318.5 L94 319 L95.2 319 L95.2 319.5 L96.4 319.5 L96.4 320.4 L97.6 320.4 L97.6 320.4 L98.8 320.4 L98.8 320.8 L100 320.8 L100 321.2 L101.2 321.2 L101.2 321.4 L102.4 321.4 L102.4 321.6 L103.6 321.6 L103.6 322 L104.8 322 L104.8 322.1 L106 322.1 L106 322.3 L107.2 322.3 L107.2 322.5 L108.4 322.5 L108.4 322.7 L109.6 322.7 L109.6 322.8 L110.8 322.8 L110.8 323 L112 323 L111.6 323 Z" fill="url(#hpat)"/>
<rect x="39.5" y="191.5" width="114.5" height="131.5" fill="none" stroke="#7a7a7a" stroke-width="0.9"/>
<path d="M39.5 296.5H154" stroke="#7a7a7a" stroke-width="0.9"/>
<text x="37.2" y="195.4" font-size="6" text-anchor="end" font-weight="bold" fill="#2a2a2a">0.6</text>
<text x="37.2" y="214.4" font-size="6" text-anchor="end" font-weight="bold" fill="#2a2a2a">0.4</text>
<text x="37.2" y="233.4" font-size="6" text-anchor="end" font-weight="bold" fill="#2a2a2a">0.2</text>
<text x="37.2" y="252.4" font-size="6" text-anchor="end" font-weight="bold" fill="#2a2a2a">0.0</text>
<text x="37.2" y="271.4" font-size="6" text-anchor="end" font-weight="bold" fill="#2a2a2a">-0.2</text>
<text x="37.2" y="290.4" font-size="6" text-anchor="end" font-weight="bold" fill="#2a2a2a">-0.4</text>
<text x="44.6" y="330" font-size="6" text-anchor="middle" font-weight="bold" fill="#2a2a2a">-50</text>
<text x="64.4" y="330" font-size="6" text-anchor="middle" font-weight="bold" fill="#2a2a2a">-25</text>
<text x="84.2" y="330" font-size="6" text-anchor="middle" font-weight="bold" fill="#2a2a2a">0</text>
<text x="104" y="330" font-size="6" text-anchor="middle" font-weight="bold" fill="#2a2a2a">25</text>
<text x="123.8" y="330" font-size="6" text-anchor="middle" font-weight="bold" fill="#2a2a2a">50</text>
<text x="143.6" y="330" font-size="6" text-anchor="middle" font-weight="bold" fill="#2a2a2a">75</text>
<text x="96.8" y="339.2" font-size="8.8" text-anchor="middle" font-weight="bold" fill="#111">PRCP (mm)</text>
<text x="20" y="257.2" font-size="8.8" text-anchor="middle" font-weight="bold" fill="#111" transform="rotate(-90 20 257.2)">Effect on Mig_R (%)</text>
<text x="35.3" y="309.8" font-size="8.8" text-anchor="middle" font-weight="bold" fill="#111" transform="rotate(-90 35.3 309.8)">Dist.</text>
<path d="M215.7 191.5V323M236.4 191.5V323M257.1 191.5V323M277.8 191.5V323M298.5 191.5V323M319.2 191.5V323M210.5 211.9H325M210.5 233.9H325M210.5 277.9H325M210.5 309.8H325" stroke="#ececec" stroke-width="0.6" fill="none"/>
<g clip-path="url(#c_Water_Dis)">
<path d="M215.2 211.4 L221.6 211.4 L226.5 225.9 L236.1 230.7 L248.9 233.9 L260.2 229.1 L276.2 233.9 L285.9 227.5 L297.1 219.5 L310.0 222.7 L321.2 230.7 L321.2 250.0 L308.4 251.6 L301.9 258.0 L292.3 272.4 L279.4 278.9 L263.4 282.1 L247.3 280.5 L232.9 272.4 L221.6 259.6 L215.2 241.9 L213.6 224.3Z" fill="#dde9f6" fill-opacity="0.5" filter="url(#bl2)"/>
<path d="M266.6 273.3h0M312.5 250.8h0M226.0 256.1h0M292.8 229.0h0M314.8 237.5h0M304.8 245.1h0M249.8 241.7h0M260.3 267.3h0M262.4 260.7h0M240.0 248.5h0M291.7 230.1h0M296.6 229.1h0M295.4 253.0h0M225.3 241.6h0M309.4 238.6h0M296.7 226.7h0M297.5 225.2h0M312.1 233.1h0M280.9 269.0h0M260.8 245.7h0M318.0 248.8h0M288.9 230.0h0M279.3 255.2h0M267.8 238.7h0M230.5 244.0h0M240.3 266.5h0M223.5 230.3h0M287.1 259.0h0M293.8 246.4h0M267.2 241.7h0M251.2 257.4h0M242.3 236.7h0M313.9 228.4h0M258.9 234.4h0M257.7 248.3h0M268.1 268.8h0M268.3 239.2h0M277.8 269.7h0M289.3 270.6h0M255.2 274.2h0M248.0 250.6h0M297.6 220.7h0M294.8 224.6h0M277.2 255.5h0M277.7 252.0h0M243.9 256.7h0M236.9 236.3h0M269.2 238.9h0M237.5 241.9h0M316.4 242.0h0M280.9 239.4h0M250.6 275.7h0M264.6 232.5h0M287.0 244.6h0M286.1 269.2h0M274.2 247.2h0M287.6 253.4h0M315.3 245.1h0M293.3 223.6h0M265.2 266.6h0M254.8 272.2h0M316.7 250.3h0M283.5 233.4h0M272.1 250.1h0M271.5 266.1h0M306.9 246.8h0M292.8 247.9h0M313.4 231.4h0M256.9 263.8h0M217.7 218.2h0M302.2 236.2h0M232.0 242.2h0M261.9 250.3h0M294.9 239.0h0M236.5 238.7h0M230.1 240.4h0M318.3 233.0h0M308.5 235.3h0M300.9 256.5h0M313.0 241.1h0M253.8 248.6h0M288.6 272.7h0M296.2 225.5h0M271.4 268.1h0M250.1 275.3h0M226.1 264.0h0M279.3 271.8h0M229.3 258.6h0M275.5 259.7h0M221.8 213.4h0M241.0 256.2h0M294.5 255.1h0M310.2 242.7h0M272.2 250.8h0M291.5 231.0h0M259.0 255.5h0M238.0 248.4h0M298.2 220.7h0M260.8 280.1h0M255.3 244.5h0M217.8 229.7h0M302.5 224.8h0M233.1 250.4h0M300.4 245.8h0M215.3 237.9h0M254.6 247.8h0M256.0 252.2h0M305.4 229.6h0M288.5 259.3h0M285.8 244.5h0M227.2 264.0h0M240.2 242.7h0M291.0 232.3h0M227.8 255.4h0M311.7 234.9h0M232.9 243.1h0M313.2 230.2h0M277.8 240.9h0M233.6 262.6h0M294.8 255.4h0M266.2 254.1h0M313.5 225.4h0M254.7 232.0h0M238.8 231.5h0M242.1 236.1h0M219.3 231.7h0M282.9 257.7h0M282.2 262.2h0M288.0 235.2h0M312.2 231.7h0M276.7 264.9h0M281.2 274.5h0M248.6 280.1h0M219.0 245.8h0M276.7 251.9h0M256.0 270.9h0M310.2 235.0h0M250.6 277.2h0M280.4 256.2h0M297.3 254.0h0M230.3 267.1h0M239.0 264.1h0M250.0 263.5h0M271.6 256.5h0M270.7 243.7h0M314.6 231.8h0M252.4 280.9h0M295.4 234.8h0M249.8 277.8h0M284.3 256.1h0M229.5 242.4h0M295.8 220.5h0M283.3 255.9h0M277.3 244.6h0M237.1 250.6h0M316.1 242.7h0M307.4 249.2h0M218.4 243.8h0M280.4 261.0h0M302.3 229.8h0M280.7 255.5h0M244.4 263.9h0M254.9 259.1h0M218.7 248.3h0M254.5 237.6h0M291.2 241.2h0M294.2 243.2h0M252.0 259.1h0M240.6 275.8h0M217.7 235.5h0M321.0 239.1h0M317.7 243.4h0M266.8 238.2h0M269.4 276.4h0M252.4 261.6h0M241.9 241.3h0M319.7 244.2h0M218.3 223.0h0M230.5 236.8h0M255.2 262.7h0M316.9 242.7h0M219.8 228.7h0M284.6 242.9h0M304.1 237.1h0M228.9 233.9h0M237.3 272.8h0M249.1 264.1h0M273.1 256.7h0M243.7 238.5h0M312.3 238.3h0M300.9 247.4h0M265.4 266.8h0M232.0 254.7h0M287.5 269.2h0M271.4 243.1h0M256.6 258.2h0M239.7 276.1h0M240.5 234.9h0M296.6 257.8h0M264.9 259.7h0M233.2 266.0h0M269.9 251.1h0M288.3 229.9h0M245.1 272.1h0M272.8 268.1h0M264.3 245.6h0M320.7 245.0h0M280.7 275.6h0M272.3 238.2h0M244.5 237.1h0M220.0 242.5h0M227.9 244.6h0M255.4 237.8h0M238.4 234.7h0M253.8 251.7h0M250.3 252.9h0M281.7 242.7h0M285.5 251.9h0M222.6 234.9h0M244.9 238.9h0M303.1 252.3h0M236.0 253.9h0M244.4 236.3h0M269.9 280.3h0M263.9 243.2h0M285.8 273.1h0M275.5 276.4h0M299.0 238.7h0M248.8 248.4h0M218.9 230.3h0M274.0 248.1h0M284.2 263.2h0M290.7 236.0h0M241.2 269.3h0M282.4 230.3h0M232.9 229.5h0M264.9 276.7h0M253.5 249.8h0M264.4 263.6h0M270.7 232.2h0M222.5 218.5h0M309.5 249.5h0M224.1 231.1h0M263.6 280.2h0M241.5 275.4h0M217.4 247.6h0M299.8 227.3h0M297.4 232.3h0M252.1 248.3h0M252.1 248.9h0M281.2 262.0h0M253.7 261.0h0M259.0 252.6h0M242.1 267.9h0M293.0 242.2h0M307.4 239.1h0M236.5 255.4h0M226.8 255.2h0M269.6 268.0h0M268.1 248.2h0M318.5 243.9h0M233.8 238.4h0M311.9 235.4h0M230.8 238.0h0M270.1 256.6h0M214.8 237.8h0M273.5 238.2h0M295.9 243.7h0M281.3 265.8h0M260.0 246.0h0M272.1 256.4h0M237.4 234.4h0M306.3 224.6h0M303.1 226.7h0M265.4 279.8h0M269.3 276.6h0M235.1 243.4h0M313.4 228.7h0M242.2 254.7h0M256.1 233.9h0M293.5 244.6h0M240.8 247.5h0M292.3 250.9h0M318.0 231.6h0M291.1 262.1h0M245.1 241.7h0M274.7 268.7h0M273.6 261.4h0M222.7 217.8h0M289.9 231.1h0M270.1 277.8h0M247.6 267.2h0M301.8 224.3h0M260.7 275.6h0M279.9 260.3h0M231.3 265.5h0M226.6 260.0h0M241.6 268.1h0M271.7 239.9h0M284.9 260.5h0M247.2 246.4h0M273.1 249.7h0M300.8 226.9h0M289.4 228.4h0M246.5 245.8h0M222.0 235.3h0M270.7 244.0h0M255.5 256.4h0M278.2 266.7h0M219.0 235.1h0M246.6 280.0h0M246.9 279.9h0M289.0 230.1h0M317.2 249.7h0M294.2 265.5h0M266.5 250.7h0M299.9 233.2h0M253.5 252.5h0M302.8 238.1h0M284.8 234.3h0M264.1 270.6h0M308.4 232.4h0M289.6 229.0h0M220.4 248.8h0M281.7 231.5h0M257.0 234.3h0M247.8 276.8h0M261.8 263.8h0M248.6 259.0h0M296.7 240.7h0M280.0 248.8h0M298.5 224.2h0M246.5 243.5h0M272.5 249.6h0M241.5 254.3h0M266.9 234.1h0M292.4 261.7h0M262.3 242.8h0M272.7 246.5h0M244.5 274.5h0M292.9 230.4h0M216.8 223.3h0M264.6 254.0h0M317.7 236.7h0M228.6 246.2h0M262.8 274.6h0M294.0 239.9h0M320.5 231.4h0M239.7 258.1h0M221.5 257.2h0M246.5 237.2h0M224.2 259.4h0M250.5 249.7h0M216.8 244.6h0M239.6 232.2h0M241.2 261.5h0M259.0 272.2h0M214.8 235.2h0M236.0 269.8h0M252.2 268.8h0M222.6 247.2h0M231.0 257.1h0M235.8 241.9h0M223.3 221.8h0M282.1 271.4h0M296.6 247.9h0M232.8 254.8h0M289.5 258.1h0M219.0 243.9h0M290.9 239.1h0M272.3 259.2h0M249.2 234.0h0M292.7 258.4h0M247.4 244.1h0M298.5 233.6h0M273.3 272.1h0M246.9 255.6h0M260.1 276.0h0M249.1 278.1h0M301.6 253.6h0M228.4 230.3h0M220.2 249.1h0M247.3 265.7h0M224.4 235.3h0M253.1 260.2h0M250.7 246.8h0M311.7 237.0h0M298.0 253.1h0M222.9 230.0h0M236.1 246.0h0M230.0 248.7h0M284.8 263.3h0M285.3 230.7h0M271.3 261.7h0M299.3 249.8h0M254.1 273.9h0M274.5 271.3h0M274.6 256.8h0M241.3 254.0h0M223.4 228.4h0M223.6 255.5h0M307.0 250.4h0M283.2 261.7h0M266.4 278.7h0M268.9 247.5h0M306.3 237.8h0M250.9 276.9h0M249.2 277.4h0M251.9 265.1h0M259.9 254.8h0M233.2 239.6h0M278.4 278.7h0M232.3 253.2h0M296.7 244.7h0M241.2 264.4h0M257.6 281.1h0M257.2 256.5h0M279.5 250.6h0M232.0 262.3h0M274.2 250.9h0M252.0 270.7h0M272.8 268.0h0M262.6 250.9h0M243.0 272.2h0M256.6 246.3h0M215.3 212.9h0M282.1 277.1h0M288.1 229.9h0M233.9 230.4h0M278.2 253.8h0M270.5 255.7h0M287.4 233.4h0M238.6 235.9h0M317.3 240.6h0M233.1 234.0h0M236.8 259.2h0M286.4 273.3h0M220.1 226.5h0M229.1 237.2h0M248.1 256.8h0M254.3 278.1h0M292.1 246.2h0M251.7 252.5h0M225.0 240.7h0M235.8 268.3h0M298.8 246.6h0M315.2 245.0h0M309.2 223.6h0M314.8 250.4h0M234.9 237.1h0M276.7 267.4h0M217.1 214.3h0M286.1 253.4h0M244.5 249.0h0M273.2 251.3h0M266.4 264.0h0" stroke="#a3c2e6" stroke-opacity="0.35" stroke-width="1" stroke-linecap="round"/>
<path d="M221.6 240.3 L226.5 237.1 L232.9 238.7 L244.1 241.9 L253.8 241.9 L265.0 243.5 L276.2 243.5 L285.9 240.3 L290.7 232.3 L298.7 225.9 L305.1 229.1 L301.9 237.1 L292.3 246.8 L290.7 256.4 L285.9 266.0 L279.4 272.4 L273.0 272.4 L265.0 275.7 L255.4 275.7 L245.7 269.2 L236.1 261.2 L228.1 256.4 L223.2 250.0ZM288.0 238.0 L294.0 228.0 L300.0 222.0 L308.0 222.0 L316.0 228.0 L319.0 240.0 L312.0 246.0 L300.0 246.0 L292.0 248.0Z" fill="#4d8acb" fill-opacity="0.5" filter="url(#bl1)"/>
<path d="M221.9 240.5V241.5M222.5 241.9V245.3M223.3 242.9V247.6M223.9 239.1V246.3M224.4 240.8V249.3M224.7 239.8V250.5M225.2 239.0V252.4M225.9 237.7V252.8M226.5 244.8V253.4M226.8 241.8V253.0M227.2 238.2V254.3M227.9 243.8V253.4M228.5 243.8V250.9M229.2 240.5V250.1M229.9 245.4V254.8M230.5 246.6V249.2M231.3 239.6V250.1M231.6 240.0V250.3M232.0 238.9V253.3M232.7 244.8V250.0M233.4 241.4V251.5M233.9 243.1V256.8M234.6 246.8V256.4M235.3 243.1V258.3M235.7 240.0V259.8M236.3 243.9V255.4M236.7 240.9V252.0M237.5 243.6V257.4M237.9 242.8V256.4M238.4 248.2V260.6M239.0 248.6V258.2M239.6 242.9V260.2M240.2 250.5V260.1M240.6 241.6V258.9M241.3 248.5V259.3M242.0 245.5V256.5M242.6 248.6V264.1M243.0 248.1V259.2M243.3 242.0V265.4M243.8 247.1V262.0M244.1 247.5V258.2M244.6 248.6V265.2M245.0 251.3V262.4M245.4 246.2V261.6M246.1 248.8V261.2M246.7 245.3V262.3M247.2 253.9V266.5M247.9 250.4V269.8M248.5 254.0V259.6M249.3 252.1V263.2M249.7 248.7V264.3M250.0 245.3V271.3M250.8 253.2V270.2M251.5 245.2V262.6M252.0 248.7V266.6M252.5 251.5V264.2M252.9 250.9V266.3M253.5 251.1V268.5M254.1 243.6V272.3M254.8 247.8V275.0M255.5 251.3V268.7M255.9 254.6V264.6M256.6 248.2V272.7M257.0 249.0V274.6M257.5 246.4V261.7M258.2 245.5V271.5M258.6 252.8V263.9M259.3 243.0V274.5M259.9 255.0V266.5M260.7 255.1V262.4M261.3 246.4V262.4M261.6 245.7V267.7M262.1 246.4V266.4M262.7 252.0V265.8M263.5 255.2V266.2M264.3 243.7V263.2M264.9 249.5V270.1M265.3 245.3V275.2M266.0 248.7V274.5M266.4 251.3V264.6M266.9 244.4V262.6M267.4 246.4V267.9M267.9 252.4V273.4M268.3 252.3V273.7M268.9 251.8V269.0M269.6 254.5V263.9M270.0 255.1V273.6M270.5 251.1V263.7M271.1 248.5V264.9M271.4 248.1V269.1M272.0 249.7V264.1M272.5 256.3V263.3M273.2 247.1V271.5M273.6 245.2V266.5M274.2 253.1V269.8M274.7 248.5V261.0M275.3 251.2V269.0M276.0 245.0V262.7M276.6 248.5V267.3M277.1 253.8V267.9M277.7 251.8V261.3M278.2 255.4V267.6M278.8 242.7V262.9M279.4 251.0V262.6M279.8 255.0V267.6M280.3 250.3V265.1M280.9 245.2V258.9M281.4 249.2V261.1M281.9 252.2V266.3M282.4 243.4V266.9M282.9 250.5V263.2M283.6 246.7V257.8M284.1 244.1V261.7M284.4 252.3V256.0M285.0 240.9V264.1M285.5 241.0V257.3M286.3 239.7V255.7M286.8 240.4V261.6M287.4 240.2V259.9M287.7 238.8V261.5M288.4 239.7V249.9M288.8 237.6V255.6M289.1 240.1V259.2M289.5 234.9V254.8M290.1 236.6V253.5M290.8 233.3V247.6M291.5 239.1V244.1M292.2 236.8V245.3M292.7 237.3V245.1M293.1 230.6V243.5M293.7 233.4V239.6M294.1 232.6V244.1M294.6 231.5V244.0M295.1 230.7V239.6M295.4 229.3V239.4M295.8 229.4V241.8M296.3 228.6V242.1M296.7 229.9V240.4M297.4 233.3V236.1M298.0 227.2V240.3M298.6 228.8V238.2M299.2 228.6V236.7M300.0 229.5V235.4M300.7 231.8V236.3M301.1 229.6V235.9M301.7 231.4V235.5M302.2 228.6V235.4M302.9 228.4V232.3M303.6 228.7V231.0M304.3 229.1V230.4M304.9 229.1V229.5M288.2 238.0V238.3M288.9 238.0V240.2M289.6 237.4V241.3M290.1 238.2V242.6M290.5 236.0V243.2M290.9 238.3V242.6M291.4 236.1V240.4M291.9 232.2V247.5M292.3 237.1V241.5M293.0 234.7V247.2M293.8 232.0V242.9M294.2 232.3V240.2M294.9 229.0V245.6M295.7 233.8V244.1M296.3 230.7V245.0M297.0 229.7V242.3M297.6 227.0V245.3M298.0 230.2V245.2M298.7 231.1V245.9M299.3 224.0V236.7M299.7 223.1V236.9M300.2 222.7V236.6M300.6 232.6V239.8M301.3 222.8V237.9M301.7 226.6V242.0M302.1 223.0V245.1M302.5 223.9V242.8M302.9 226.6V239.0M303.4 231.8V242.7M304.1 228.5V237.5M304.9 226.5V237.3M305.4 226.4V242.7M306.2 232.6V245.0M306.8 227.5V245.2M307.5 230.2V242.7M307.8 222.2V245.0M308.4 231.2V241.2M308.8 230.2V243.6M309.4 223.3V244.8M310.0 231.7V237.0M310.5 226.9V244.3M311.0 227.7V242.8M311.3 228.1V244.5M311.7 231.6V238.2M312.1 230.0V243.8M312.8 230.9V242.3M313.2 231.5V242.2M313.8 232.5V238.2M314.2 226.9V239.5M314.6 231.7V243.5M315.3 231.3V240.8M315.7 228.7V239.9M316.2 233.3V241.9M316.8 233.6V238.8M317.4 233.8V239.4M317.8 237.7V238.9M318.3 237.6V239.9" stroke="#2f71bb" stroke-opacity="0.3" stroke-width="0.9" fill="none"/>
<path d="M226.5 245.1 L232.9 242.7 L237.7 243.5 L244.1 245.1 L250.5 248.4 L258.6 250.0 L266.6 250.0 L273.0 248.4 L279.4 250.0 L287.5 253.2 L289.9 258.0 L287.5 262.8 L279.4 267.6 L276.2 270.8 L271.4 266.0 L265.0 267.6 L258.6 270.8 L253.8 272.4 L250.5 269.2 L245.7 264.4 L240.9 259.6 L232.9 254.8 L228.1 251.6Z" fill="#0b4e9d" filter="url(#bl0)"/>
<path d="M226.9 244.9V247.0M227.4 245.2V248.7M227.8 244.9V249.8M228.4 245.4V252.1M228.8 243.7V251.3M229.6 244.4V253.1M230.2 243.6V252.5M230.7 244.8V253.6M231.3 243.4V252.4M232.1 244.3V252.6M232.8 243.5V254.6M233.2 242.7V254.9M233.9 243.0V254.1M234.5 244.0V256.5M235.3 243.6V257.0M235.9 243.3V256.4M236.3 244.1V255.5M236.9 243.3V256.2M237.3 243.7V255.8M237.9 245.0V256.2M238.6 243.9V257.1M239.1 244.2V258.7M239.7 245.4V258.2M240.4 243.2V257.5M241.1 244.7V260.2M241.6 243.7V258.9M242.3 245.6V261.4M243.0 244.3V261.4M243.4 247.1V260.1M244.0 245.7V261.4M244.6 247.3V264.2M245.4 246.1V264.4M246.0 248.0V262.5M246.8 247.0V264.2M247.2 249.5V266.4M247.7 247.5V265.5M248.1 248.0V267.5M248.8 249.9V266.2M249.4 250.7V268.6M249.7 250.4V267.4M250.4 251.4V269.4M251.2 248.6V268.7M252.0 247.8V271.0M252.5 248.1V271.9M253.3 249.0V273.5M254.1 248.7V272.3M254.5 248.3V272.7M255.0 248.8V271.4M255.7 251.5V268.9M256.0 252.0V272.2M256.8 251.5V268.3M257.1 250.6V270.9M257.9 248.5V270.6M258.3 249.4V271.9M259.1 250.0V268.7M259.5 252.5V268.0M260.2 249.8V271.3M260.8 249.8V270.9M261.5 252.3V266.5M262.3 251.8V266.4M262.8 251.7V269.4M263.7 252.1V265.7M264.5 248.9V265.7M264.9 252.6V266.9M265.4 252.5V268.4M266.1 250.5V267.7M266.9 252.2V266.2M267.6 250.1V266.1M268.3 249.1V264.8M269.1 249.9V266.9M269.6 249.4V265.0M270.1 249.6V265.5M270.8 249.6V263.9M271.3 250.8V265.7M271.9 250.9V267.6M272.4 248.7V267.7M273.1 248.2V268.6M273.6 248.8V269.5M274.3 248.4V267.8M274.7 251.5V266.7M275.2 251.3V268.8M275.6 251.9V267.7M276.2 251.5V272.0M277.0 248.3V269.8M277.9 249.9V266.8M278.6 251.2V268.0M279.1 250.7V268.6M279.7 249.4V266.3M280.3 252.1V267.1M280.8 249.8V266.9M281.4 250.8V265.8M282.0 251.2V264.7M282.6 250.6V265.2M283.4 251.0V264.7M283.8 253.5V263.8M284.4 253.8V263.6M285.2 253.4V263.0M285.7 252.5V263.8M286.2 252.2V262.9M286.9 252.4V262.6M287.5 254.0V262.9M288.3 255.2V260.8M289.1 256.6V259.2M289.9 257.9V258.1" stroke="#0a4a98" stroke-opacity="0.55" stroke-width="0.8" fill="none"/>
<path d="M215.1 219.5 L215.6 220.4 L216.1 221.3 L216.6 222.2 L217.1 223.1 L217.6 224 L218.1 225 L218.6 225.9 L219.1 226.8 L219.6 227.7 L220.1 228.5 L220.6 229.4 L221.1 230.3 L221.6 231.2 L222.1 232.1 L222.6 233 L223.1 233.9 L223.6 234.9 L224.1 235.8 L224.6 236.6 L225.1 237.5 L225.6 238.3 L226.1 239.1 L226.6 239.8 L227.1 240.4 L227.6 241 L228.1 241.5 L228.6 242.1 L229.1 242.6 L229.6 243 L230.1 243.5 L230.6 243.9 L231.1 244.4 L231.6 244.8 L232.1 245.2 L232.6 245.6 L233.1 245.9 L233.6 246.3 L234.1 246.7 L234.6 247 L235.1 247.4 L235.6 247.7 L236.1 248.1 L236.6 248.4 L237.1 248.7 L237.6 249.1 L238.1 249.4 L238.6 249.8 L239.1 250.1 L239.6 250.5 L240.1 250.8 L240.6 251.2 L241.1 251.5 L241.5 251.8 L242 252.2 L242.5 252.5 L243 252.8 L243.5 253.2 L244 253.5 L244.5 253.8 L245 254.1 L245.5 254.4 L246 254.7 L246.5 254.9 L247 255.2 L247.5 255.5 L248 255.7 L248.5 256 L249 256.2 L249.5 256.4 L250 256.6 L250.5 256.8 L251 257 L251.5 257.1 L252 257.3 L252.5 257.4 L253 257.6 L253.5 257.7 L254 257.9 L254.5 258 L255 258.1 L255.5 258.2 L256 258.3 L256.5 258.4 L257 258.4 L257.5 258.5 L258 258.5 L258.5 258.6 L259 258.6 L259.5 258.7 L260 258.7 L260.5 258.7 L261 258.7 L261.5 258.7 L262 258.7 L262.5 258.7 L263 258.6 L263.5 258.6 L264 258.5 L264.5 258.5 L265 258.4 L265.5 258.3 L266 258.3 L266.5 258.2 L267 258.1 L267.5 258 L268 257.8 L268.5 257.7 L269 257.6 L269.5 257.4 L270 257.3 L270.5 257.1 L271 257 L271.5 256.8 L272 256.6 L272.5 256.4 L273 256.2 L273.5 255.9 L274 255.7 L274.5 255.5 L275 255.2 L275.5 254.9 L276 254.7 L276.5 254.4 L277 254.1 L277.5 253.8 L278 253.5 L278.5 253.1 L279 252.8 L279.5 252.5 L280 252.2 L280.5 251.8 L281 251.5 L281.5 251.1 L282 250.8 L282.5 250.4 L283 250.1 L283.5 249.8 L284 249.4 L284.5 249 L285 248.7 L285.5 248.3 L286 247.9 L286.5 247.5 L287 247.1 L287.5 246.7 L288 246.3 L288.5 245.9 L289 245.4 L289.5 244.9 L290 244.4 L290.5 244 L291 243.5 L291.5 243 L292 242.5 L292.5 242 L293 241.5 L293.5 241.1 L294 240.6 L294.4 240.1 L294.9 239.6 L295.4 239.1 L295.9 238.6 L296.4 238.1 L296.9 237.5 L297.4 237 L297.9 236.4 L298.4 235.8 L298.9 235.3 L299.4 234.7 L299.9 234.1 L300.4 233.6 L300.9 233 L301.4 232.5 L301.9 232 L302.4 231.5 L302.9 231.1 L303.4 230.6 L303.9 230.2 L304.4 229.9 L304.9 229.6 L305.4 229.3 L305.9 229.1 L306.4 228.9 L306.9 228.8 L307.4 228.7 L307.9 228.6 L308.4 228.5 L308.9 228.5 L309.4 228.4 L309.9 228.4 L310.4 228.4 L310.9 228.4 L311.4 228.4 L311.9 228.5 L312.4 228.6 L312.9 228.7 L313.4 228.9 L313.9 229.1 L314.4 229.3 L314.9 229.6 L315.4 229.7 L315.9 229.9 L316.4 230.1 L316.9 230.4 L317.4 230.7 L317.9 231.1 L318.4 231.5 L318.9 231.9 L319.4 232.3 L319.9 232.6 L320.4 233 L320.4 251 L319.9 250.1 L319.4 249.1 L318.9 248.2 L318.4 247.2 L317.9 246.3 L317.4 245.4 L316.9 244.5 L316.4 243.7 L315.9 242.9 L315.4 242.2 L314.9 241.5 L314.4 241 L313.9 240.4 L313.4 239.9 L312.9 239.5 L312.4 239 L311.9 238.6 L311.4 238.2 L310.9 237.9 L310.4 237.6 L309.9 237.4 L309.4 237.3 L308.9 237.2 L308.4 237.2 L307.9 237.1 L307.4 237.1 L306.9 237.2 L306.4 237.2 L305.9 237.3 L305.4 237.4 L304.9 237.5 L304.4 237.6 L303.9 237.8 L303.4 238 L302.9 238.2 L302.4 238.4 L301.9 238.7 L301.4 239 L300.9 239.3 L300.4 239.6 L299.9 239.9 L299.4 240.3 L298.9 240.7 L298.4 241 L297.9 241.4 L297.4 241.8 L296.9 242.2 L296.4 242.7 L295.9 243 L295.4 243.4 L294.9 243.8 L294.4 244.2 L294 244.5 L293.5 244.9 L293 245.2 L292.5 245.6 L292 245.9 L291.5 246.3 L291 246.6 L290.5 247 L290 247.3 L289.5 247.7 L289 248 L288.5 248.4 L288 248.7 L287.5 249.1 L287 249.5 L286.5 249.9 L286 250.3 L285.5 250.7 L285 251.1 L284.5 251.4 L284 251.8 L283.5 252.2 L283 252.5 L282.5 252.8 L282 253.2 L281.5 253.5 L281 253.9 L280.5 254.2 L280 254.6 L279.5 254.9 L279 255.2 L278.5 255.5 L278 255.9 L277.5 256.2 L277 256.5 L276.5 256.8 L276 257.1 L275.5 257.3 L275 257.6 L274.5 257.9 L274 258.1 L273.5 258.3 L273 258.6 L272.5 258.8 L272 259 L271.5 259.2 L271 259.4 L270.5 259.5 L270 259.7 L269.5 259.8 L269 260 L268.5 260.1 L268 260.2 L267.5 260.4 L267 260.5 L266.5 260.6 L266 260.7 L265.5 260.7 L265 260.8 L264.5 260.9 L264 260.9 L263.5 261 L263 261 L262.5 261.1 L262 261.1 L261.5 261.1 L261 261.1 L260.5 261.1 L260 261.1 L259.5 261.1 L259 261 L258.5 261 L258 260.9 L257.5 260.9 L257 260.8 L256.5 260.8 L256 260.7 L255.5 260.6 L255 260.5 L254.5 260.4 L254 260.3 L253.5 260.1 L253 260 L252.5 259.8 L252 259.7 L251.5 259.5 L251 259.4 L250.5 259.2 L250 259 L249.5 258.8 L249 258.6 L248.5 258.4 L248 258.1 L247.5 257.9 L247 257.6 L246.5 257.3 L246 257.1 L245.5 256.8 L245 256.5 L244.5 256.2 L244 255.9 L243.5 255.6 L243 255.2 L242.5 254.9 L242 254.6 L241.5 254.2 L241.1 253.9 L240.6 253.6 L240.1 253.2 L239.6 252.9 L239.1 252.5 L238.6 252.2 L238.1 251.8 L237.6 251.5 L237.1 251.1 L236.6 250.8 L236.1 250.5 L235.6 250.1 L235.1 249.8 L234.6 249.4 L234.1 249.1 L233.6 248.7 L233.1 248.3 L232.6 248 L232.1 247.6 L231.6 247.2 L231.1 246.8 L230.6 246.3 L230.1 245.9 L229.6 245.4 L229.1 245 L228.6 244.5 L228.1 243.9 L227.6 243.4 L227.1 242.8 L226.6 242.2 L226.1 241.5 L225.6 240.7 L225.1 239.9 L224.6 239 L224.1 238.2 L223.6 237.3 L223.1 236.3 L222.6 235.4 L222.1 234.5 L221.6 233.6 L221.1 232.7 L220.6 231.8 L220.1 230.9 L219.6 230.1 L219.1 229.2 L218.6 228.3 L218.1 227.4 L217.6 226.4 L217.1 225.5 L216.6 224.6 L216.1 223.7 L215.6 222.8 L215.1 221.9 Z" fill="#fbc386" fill-opacity="0.45"/>
<path d="M210.5 255.9H325" stroke="#adadad" stroke-width="0.8"/>
<path d="M215.1 220.7 L215.6 221.6 L216.1 222.5 L216.6 223.4 L217.1 224.3 L217.6 225.2 L218.1 226.2 L218.6 227.1 L219.1 228 L219.6 228.9 L220.1 229.7 L220.6 230.6 L221.1 231.5 L221.6 232.4 L222.1 233.3 L222.6 234.2 L223.1 235.1 L223.6 236.1 L224.1 237 L224.6 237.8 L225.1 238.7 L225.6 239.5 L226.1 240.3 L226.6 241 L227.1 241.6 L227.6 242.2 L228.1 242.7 L228.6 243.3 L229.1 243.8 L229.6 244.2 L230.1 244.7 L230.6 245.1 L231.1 245.6 L231.6 246 L232.1 246.4 L232.6 246.8 L233.1 247.1 L233.6 247.5 L234.1 247.9 L234.6 248.2 L235.1 248.6 L235.6 248.9 L236.1 249.3 L236.6 249.6 L237.1 249.9 L237.6 250.3 L238.1 250.6 L238.6 251 L239.1 251.3 L239.6 251.7 L240.1 252 L240.6 252.4 L241.1 252.7 L241.5 253 L242 253.4 L242.5 253.7 L243 254 L243.5 254.4 L244 254.7 L244.5 255 L245 255.3 L245.5 255.6 L246 255.9 L246.5 256.1 L247 256.4 L247.5 256.7 L248 256.9 L248.5 257.2 L249 257.4 L249.5 257.6 L250 257.8 L250.5 258 L251 258.2 L251.5 258.3 L252 258.5 L252.5 258.6 L253 258.8 L253.5 258.9 L254 259.1 L254.5 259.2 L255 259.3 L255.5 259.4 L256 259.5 L256.5 259.6 L257 259.6 L257.5 259.7 L258 259.7 L258.5 259.8 L259 259.8 L259.5 259.9 L260 259.9 L260.5 259.9 L261 259.9 L261.5 259.9 L262 259.9 L262.5 259.9 L263 259.8 L263.5 259.8 L264 259.7 L264.5 259.7 L265 259.6 L265.5 259.5 L266 259.5 L266.5 259.4 L267 259.3 L267.5 259.2 L268 259 L268.5 258.9 L269 258.8 L269.5 258.6 L270 258.5 L270.5 258.3 L271 258.2 L271.5 258 L272 257.8 L272.5 257.6 L273 257.4 L273.5 257.1 L274 256.9 L274.5 256.7 L275 256.4 L275.5 256.1 L276 255.9 L276.5 255.6 L277 255.3 L277.5 255 L278 254.7 L278.5 254.3 L279 254 L279.5 253.7 L280 253.4 L280.5 253 L281 252.7 L281.5 252.3 L282 252 L282.5 251.6 L283 251.3 L283.5 251 L284 250.6 L284.5 250.2 L285 249.9 L285.5 249.5 L286 249.1 L286.5 248.7 L287 248.3 L287.5 247.9 L288 247.5 L288.5 247.1 L289 246.7 L289.5 246.3 L290 245.9 L290.5 245.5 L291 245.1 L291.5 244.6 L292 244.2 L292.5 243.8 L293 243.4 L293.5 243 L294 242.5 L294.4 242.1 L294.9 241.7 L295.4 241.3 L295.9 240.8 L296.4 240.4 L296.9 239.9 L297.4 239.4 L297.9 238.9 L298.4 238.4 L298.9 238 L299.4 237.5 L299.9 237 L300.4 236.6 L300.9 236.1 L301.4 235.7 L301.9 235.3 L302.4 235 L302.9 234.6 L303.4 234.3 L303.9 234 L304.4 233.8 L304.9 233.5 L305.4 233.4 L305.9 233.2 L306.4 233.1 L306.9 233 L307.4 232.9 L307.9 232.9 L308.4 232.8 L308.9 232.8 L309.4 232.9 L309.9 232.9 L310.4 233 L310.9 233.1 L311.4 233.3 L311.9 233.5 L312.4 233.8 L312.9 234.1 L313.4 234.4 L313.9 234.8 L314.4 235.1 L314.9 235.5 L315.4 236 L315.9 236.4 L316.4 236.9 L316.9 237.4 L317.4 238 L317.9 238.7 L318.4 239.3 L318.9 240 L319.4 240.7 L319.9 241.4 L320.4 242" fill="none" stroke="#fb8c0c" stroke-width="1.2" stroke-dasharray="3 1.5"/>
</g>
<rect x="229.6" y="193.8" width="77.3" height="30.8" rx="1.5" fill="#fff" fill-opacity="0.85" stroke="#d6d6d6" stroke-width="0.6"/>
<circle cx="235" cy="196.5" r="1.25" fill="#7b9bd8"/>
<rect x="230.6" y="200.6" width="8.2" height="2.8" fill="#fcdcb8"/>
<path d="M230.6 214.2h8.2" stroke="#fb8c0c" stroke-width="1.1" stroke-dasharray="3.6 1.4"/>
<text transform="translate(242 198) scale(0.1)" font-size="39.5" font-weight="bold" fill="#3a3a3a">Sample</text>
<text transform="translate(242 203.4) scale(0.1)" font-size="39.5" font-weight="bold" fill="#3a3a3a">95% Confidence interval</text>
<text transform="translate(242 209.2) scale(0.1)" font-size="39.5" font-weight="bold" fill="#3a3a3a">Fitted curve (R-square: 0.73):</text>
<text transform="translate(242 215.6) scale(0.1)" font-size="39.5" font-weight="bold" fill="#3a3a3a">y = -3.1e-13X<tspan dy="-14" font-size="27.7">5</tspan><tspan dy="14"> </tspan> +4e-11X<tspan dy="-14" font-size="27.7">4</tspan><tspan dy="14"> </tspan> +8.0e-09X<tspan dy="-14" font-size="27.7">3</tspan><tspan dy="14"> </tspan></text>
<text transform="translate(248.4 221.7) scale(0.1)" font-size="39.5" font-weight="bold" fill="#3a3a3a">+5.1e-06X<tspan dy="-14" font-size="27.7">2</tspan><tspan dy="14"> </tspan> -0.00023X -0.036</text>
<path d="M219.6 323 L219.6 322.8 L220.8 322.8 L220.8 322.4 L222 322.4 L222 322.1 L223.2 322.1 L223.2 321.6 L224.4 321.6 L224.4 321.3 L225.6 321.3 L225.6 320.8 L226.8 320.8 L226.8 319.9 L228 319.9 L228 319.4 L229.2 319.4 L229.2 318.8 L230.4 318.8 L230.4 318.1 L231.6 318.1 L231.6 317 L232.8 317 L232.8 315.8 L234 315.8 L234 314.8 L235.2 314.8 L235.2 313.8 L236.4 313.8 L236.4 313.2 L237.6 313.2 L237.6 313.6 L238.8 313.6 L238.8 313.4 L240 313.4 L240 312.8 L241.2 312.8 L241.2 312.3 L242.4 312.3 L242.4 310.8 L243.6 310.8 L243.6 309.5 L244.8 309.5 L244.8 309.3 L246 309.3 L246 308 L247.2 308 L247.2 307.8 L248.4 307.8 L248.4 306.7 L249.6 306.7 L249.6 303.7 L250.8 303.7 L250.8 300.7 L252 300.7 L252 298.9 L253.2 298.9 L253.2 300.3 L254.4 300.3 L254.4 300.9 L255.6 300.9 L255.6 302.6 L256.8 302.6 L256.8 304.3 L258 304.3 L258 306.5 L259.2 306.5 L259.2 307.4 L260.4 307.4 L260.4 310.1 L261.6 310.1 L261.6 311 L262.8 311 L262.8 312.1 L264 312.1 L264 312.8 L265.2 312.8 L265.2 312.9 L266.4 312.9 L266.4 313.7 L267.6 313.7 L267.6 314 L268.8 314 L268.8 314.7 L270 314.7 L270 315.3 L271.2 315.3 L271.2 315.8 L272.4 315.8 L272.4 316.3 L273.6 316.3 L273.6 317 L274.8 317 L274.8 317.4 L276 317.4 L276 317.8 L277.2 317.8 L277.2 318.1 L278.4 318.1 L278.4 318.1 L279.6 318.1 L279.6 318.9 L280.8 318.9 L280.8 319 L282 319 L282 318.8 L283.2 318.8 L283.2 319.3 L284.4 319.3 L284.4 319.5 L285.6 319.5 L285.6 319.6 L286.8 319.6 L286.8 319.4 L288 319.4 L288 319.7 L289.2 319.7 L289.2 319.8 L290.4 319.8 L290.4 319.9 L291.6 319.9 L291.6 320 L292.8 320 L292.8 320.2 L294 320.2 L294 320.6 L295.2 320.6 L295.2 320.6 L296.4 320.6 L296.4 320.8 L297.6 320.8 L297.6 320.9 L298.8 320.9 L298.8 321.1 L300 321.1 L300 321.3 L301.2 321.3 L301.2 321.4 L302.4 321.4 L302.4 321.5 L303.6 321.5 L303.6 321.6 L304.8 321.6 L304.8 321.8 L306 321.8 L306 321.8 L307.2 321.8 L307.2 321.8 L308.4 321.8 L308.4 321.9 L309.6 321.9 L309.6 322 L310.8 322 L310.8 322 L312 322 L312 322.2 L313.2 322.2 L313.2 322.2 L314.4 322.2 L314.4 322.3 L315.6 322.3 L315.6 322.6 L316.8 322.6 L316.8 322.9 L318 322.9 L318 323 L319.2 323 L318 323 Z" fill="url(#hpat)"/>
<rect x="210.5" y="191.5" width="114.5" height="131.5" fill="none" stroke="#7a7a7a" stroke-width="0.9"/>
<path d="M210.5 296.5H325" stroke="#7a7a7a" stroke-width="0.9"/>
<text x="208.2" y="214" font-size="6" text-anchor="end" font-weight="bold" fill="#2a2a2a">0.4</text>
<text x="208.2" y="236" font-size="6" text-anchor="end" font-weight="bold" fill="#2a2a2a">0.2</text>
<text x="208.2" y="258" font-size="6" text-anchor="end" font-weight="bold" fill="#2a2a2a">0.0</text>
<text x="208.2" y="280" font-size="6" text-anchor="end" font-weight="bold" fill="#2a2a2a">-0.2</text>
<text x="215.7" y="330" font-size="6" text-anchor="middle" font-weight="bold" fill="#2a2a2a">-200</text>
<text x="236.4" y="330" font-size="6" text-anchor="middle" font-weight="bold" fill="#2a2a2a">-100</text>
<text x="257.1" y="330" font-size="6" text-anchor="middle" font-weight="bold" fill="#2a2a2a">0</text>
<text x="277.8" y="330" font-size="6" text-anchor="middle" font-weight="bold" fill="#2a2a2a">100</text>
<text x="298.5" y="330" font-size="6" text-anchor="middle" font-weight="bold" fill="#2a2a2a">200</text>
<text x="319.2" y="330" font-size="6" text-anchor="middle" font-weight="bold" fill="#2a2a2a">300</text>
<text x="267.8" y="339.2" font-size="8.8" text-anchor="middle" font-weight="bold" fill="#111">Water_Dis (km)</text>
<text x="191" y="257.2" font-size="8.8" text-anchor="middle" font-weight="bold" fill="#111" transform="rotate(-90 191 257.2)">Effect on Mig_R (%)</text>
<text x="206.3" y="309.8" font-size="8.8" text-anchor="middle" font-weight="bold" fill="#111" transform="rotate(-90 206.3 309.8)">Dist.</text>
<path d="M403.1 191.5V323M425.6 191.5V323M448 191.5V323M470.4 191.5V323M492.9 191.5V323M381.5 199.2H496M381.5 215.1H496M381.5 231H496M381.5 246.9H496M381.5 278.7H496M381.5 294.6H496M381.5 309.8H496" stroke="#ececec" stroke-width="0.6" fill="none"/>
<g clip-path="url(#c_TEMP)">
<path d="M385.6 237.1 L388.8 232.3 L396.8 233.9 L408.1 240.3 L420.9 243.5 L432.2 243.5 L448.2 240.3 L459.5 238.7 L473.9 232.3 L478.7 221.1 L483.6 206.6 L493.2 206.6 L493.2 224.3 L488.4 241.9 L483.6 253.2 L472.3 264.4 L456.3 274.0 L445.0 283.7 L432.2 283.7 L416.1 278.9 L404.9 269.2 L393.6 256.4 L385.6 246.8Z" fill="#dde9f6" fill-opacity="0.5" filter="url(#bl2)"/>
<path d="M448.9 273.5h0M442.2 267.5h0M461.6 270.4h0M416.7 242.9h0M484.8 243.4h0M466.9 262.7h0M429.8 268.2h0M415.5 252.4h0M439.3 244.7h0M435.8 256.7h0M401.2 260.1h0M438.2 281.2h0M472.3 262.7h0M483.1 248.6h0M469.4 254.2h0M423.7 252.1h0M437.2 255.3h0M455.6 270.4h0M409.1 263.3h0M408.1 245.8h0M411.4 264.2h0M462.0 238.0h0M419.1 256.9h0M433.2 276.1h0M440.8 280.8h0M414.5 245.2h0M453.5 245.9h0M479.4 223.8h0M444.3 269.0h0M483.4 242.5h0M392.2 253.2h0M418.1 276.2h0M420.4 266.5h0M405.4 267.1h0M429.5 271.7h0M433.7 266.1h0M433.2 267.0h0M459.1 265.9h0M463.3 268.8h0M445.9 248.0h0M436.5 246.6h0M425.1 277.0h0M424.8 261.0h0M442.3 273.9h0M468.9 237.1h0M481.2 253.7h0M483.1 224.9h0M456.8 240.4h0M484.6 210.3h0M437.1 243.7h0M400.3 247.4h0M490.8 212.9h0M474.8 259.5h0M423.0 265.8h0M443.8 243.7h0M449.3 256.9h0M401.9 257.6h0M474.4 238.6h0M460.3 249.9h0M486.2 237.8h0M418.7 279.4h0M444.5 251.2h0M450.4 248.4h0M471.0 253.6h0M489.7 220.1h0M407.6 253.3h0M429.3 259.8h0M489.3 238.2h0M423.5 270.3h0M433.5 262.9h0M482.8 246.1h0M453.0 267.5h0M417.2 267.0h0M478.1 252.1h0M388.9 238.2h0M417.8 245.9h0M492.9 219.7h0M440.4 267.5h0M458.4 266.0h0M464.9 251.0h0M402.6 265.2h0M409.1 267.2h0M450.5 240.7h0M430.1 266.7h0M453.8 259.5h0M481.3 239.8h0M429.4 263.8h0M387.6 235.1h0M455.4 241.1h0M482.7 247.5h0M488.8 228.8h0M442.7 275.4h0M414.0 269.5h0M386.8 239.1h0M482.4 234.9h0M417.4 253.3h0M418.4 255.0h0M392.8 243.8h0M438.7 262.8h0M416.5 251.3h0M443.9 262.3h0M400.0 254.4h0M478.7 248.8h0M430.3 266.6h0M468.4 265.4h0M465.0 264.9h0M406.6 249.6h0M429.4 268.8h0M469.0 239.1h0M441.0 276.9h0M407.3 245.9h0M462.7 264.1h0M488.3 211.3h0M480.4 252.1h0M454.7 240.1h0M420.7 276.8h0M414.0 256.3h0M482.0 253.6h0M419.4 256.0h0M461.2 238.1h0M443.9 249.8h0M391.6 249.7h0M491.8 213.9h0M444.6 254.1h0M419.3 247.2h0M484.3 209.7h0M479.1 246.2h0M414.7 259.0h0M478.1 251.1h0M397.3 254.5h0M404.0 254.2h0M399.9 254.8h0M484.4 241.7h0M414.1 250.8h0M461.4 252.7h0M487.9 240.7h0M448.4 251.6h0M418.2 278.2h0M438.4 249.1h0M472.9 237.2h0M423.2 277.8h0M401.6 239.8h0M437.5 274.8h0M421.7 275.2h0M426.6 277.6h0M484.5 217.6h0M430.8 273.1h0M450.6 275.4h0M446.9 260.2h0M397.9 250.8h0M439.6 272.4h0M392.6 235.3h0M471.0 260.8h0M473.9 260.8h0M483.8 245.4h0M445.0 256.3h0M491.6 207.7h0M401.9 255.8h0M424.0 274.7h0M470.4 260.9h0M490.4 208.7h0M419.6 275.5h0M447.8 280.1h0M476.2 232.0h0M425.0 255.8h0M419.5 256.6h0M392.7 252.5h0M485.9 231.0h0M389.2 249.4h0M421.3 252.0h0M440.4 276.8h0M447.9 257.4h0M444.5 271.6h0M427.7 261.8h0M414.7 247.1h0M471.9 242.1h0M395.4 258.0h0M405.0 264.7h0M458.2 264.7h0M399.7 259.8h0M415.3 276.3h0M477.8 228.2h0M413.1 253.3h0M491.5 212.7h0M407.0 256.9h0M413.8 272.4h0M461.6 245.1h0M420.2 255.2h0M397.9 252.3h0M449.8 277.4h0M483.4 208.2h0M390.3 247.6h0M420.1 274.5h0M487.4 213.7h0M390.0 245.1h0M404.7 265.3h0M407.2 256.5h0M467.0 240.5h0M420.0 269.1h0M479.3 229.6h0M402.6 255.2h0M477.7 237.1h0M447.6 276.0h0M400.3 243.6h0M404.2 250.3h0M479.2 244.5h0M406.4 254.5h0M446.6 248.7h0M446.6 247.4h0M484.2 222.2h0M409.1 258.8h0M455.8 247.8h0M429.6 265.1h0M411.3 272.2h0M424.4 254.1h0M476.3 255.6h0M457.6 242.6h0M404.3 253.7h0M404.6 256.6h0M435.1 267.4h0M405.9 248.1h0M475.5 237.3h0M440.2 276.8h0M452.7 245.1h0M485.0 215.4h0M437.9 265.5h0M441.5 264.4h0M476.6 236.5h0M392.7 250.7h0M397.8 239.4h0M489.7 230.7h0M421.7 246.2h0M458.3 270.4h0M444.6 280.2h0M402.7 239.0h0M486.9 218.5h0M450.0 250.3h0M479.6 252.6h0M419.6 259.3h0M403.9 249.1h0M448.1 267.1h0M460.1 247.1h0M417.8 245.8h0M405.8 261.8h0M486.8 214.2h0M435.8 246.4h0M481.9 226.3h0M471.6 245.1h0M482.0 220.5h0M457.3 254.9h0M403.5 266.1h0M463.2 246.6h0M449.9 258.8h0M399.2 238.4h0M484.3 218.7h0M466.9 259.8h0M398.6 239.8h0M483.3 211.5h0M387.5 245.3h0M492.4 206.7h0M423.2 275.5h0M436.3 249.5h0M482.8 233.6h0M429.2 279.8h0M436.9 276.8h0M483.0 209.0h0M426.6 281.1h0M480.0 223.3h0M481.2 252.5h0M478.8 233.3h0M461.8 251.2h0M410.3 247.2h0M404.2 242.0h0M417.1 250.0h0M471.6 238.3h0M484.3 229.8h0M414.9 248.0h0M450.4 242.2h0M420.4 254.1h0M418.7 256.1h0M484.8 244.2h0M456.1 266.4h0M454.7 272.2h0M463.8 258.5h0M420.5 254.7h0M440.9 277.0h0M446.8 262.9h0M452.5 272.2h0M488.5 215.1h0M402.4 237.8h0M418.5 273.8h0M451.5 271.7h0M399.1 245.0h0M391.8 249.2h0M457.3 252.4h0M441.7 241.6h0M416.7 252.0h0M415.3 255.8h0M454.3 274.2h0M473.2 246.7h0M439.6 274.7h0M425.8 270.2h0M477.6 251.2h0M450.5 254.8h0M391.7 235.1h0M465.8 264.2h0M462.6 267.6h0M414.0 255.2h0M407.0 262.8h0M481.0 242.3h0M412.3 249.6h0M473.2 241.8h0M454.3 263.1h0M425.7 262.8h0M453.0 253.2h0M406.7 246.3h0M460.0 241.6h0M439.8 251.2h0M411.1 266.0h0M400.3 240.6h0M412.3 248.0h0M416.8 274.9h0M454.6 269.4h0M492.4 216.2h0M449.5 256.1h0M461.0 243.8h0M478.8 245.0h0M447.3 257.2h0M410.6 272.2h0M445.8 258.3h0M485.2 241.8h0M466.6 258.5h0M473.9 247.0h0M461.9 268.6h0M399.6 253.2h0M492.0 220.8h0M463.6 268.1h0M391.1 241.1h0M442.9 262.4h0M445.6 272.6h0M433.6 269.8h0M441.8 244.1h0M424.3 268.7h0M443.0 263.0h0M404.3 260.1h0M418.0 268.5h0M394.1 244.6h0M438.5 270.6h0M413.0 268.7h0M438.6 256.3h0M476.8 256.3h0M445.4 256.2h0M438.9 267.6h0M480.7 232.8h0M440.7 264.3h0M447.8 242.6h0M490.5 227.9h0M483.4 231.8h0M424.0 251.5h0M443.7 247.5h0M399.1 238.2h0M467.0 246.0h0M439.2 263.4h0M444.6 263.1h0M483.5 222.1h0M444.0 259.9h0M483.6 245.0h0M420.1 273.8h0M449.4 244.7h0M436.0 264.7h0M423.2 263.9h0M466.2 264.4h0M433.6 253.3h0M483.6 214.8h0M403.0 262.4h0M476.8 229.1h0M443.7 254.4h0M395.6 244.0h0M408.9 240.7h0M461.5 246.4h0M394.0 242.2h0M485.1 243.1h0M417.0 273.4h0M430.9 245.1h0M437.5 276.7h0M408.3 241.2h0M441.6 268.0h0M459.4 271.4h0M482.2 239.9h0M459.9 245.1h0M475.4 228.9h0M433.0 247.8h0M416.1 263.0h0M422.5 261.5h0M432.3 257.7h0M465.4 257.6h0M419.4 247.2h0M484.0 209.7h0M460.0 247.0h0M447.5 264.6h0M452.5 258.6h0M442.9 277.9h0M436.8 282.8h0M484.8 224.3h0M417.3 263.8h0M444.4 271.3h0M440.5 245.1h0M464.7 237.0h0M413.9 267.2h0M474.7 239.6h0M431.8 263.9h0M413.4 254.1h0M478.5 240.7h0M404.6 265.3h0M433.3 256.1h0M473.8 242.8h0M470.6 245.7h0M397.2 250.8h0M474.1 248.6h0M465.1 256.6h0M432.2 265.5h0M477.7 225.2h0M447.6 269.3h0M428.6 247.2h0M473.8 248.2h0M407.2 262.4h0M462.2 264.0h0M428.8 277.2h0M484.8 221.5h0M448.9 252.8h0M485.7 221.0h0M456.6 273.7h0M428.8 270.0h0M428.4 261.8h0M412.0 272.4h0M416.1 256.2h0M434.2 278.5h0M458.7 239.3h0M487.7 225.3h0M489.5 213.4h0M451.0 242.7h0M460.4 266.9h0M477.0 239.2h0M449.8 261.5h0M467.5 266.7h0M464.9 265.9h0M439.2 278.1h0M489.8 214.3h0M456.2 263.2h0M430.9 264.4h0M453.2 263.3h0M460.0 266.1h0M445.6 249.0h0M406.1 266.0h0M426.9 254.2h0M420.8 267.1h0M452.2 243.1h0M419.7 256.6h0M388.3 249.8h0M461.2 264.3h0M427.9 267.5h0M391.9 241.8h0M446.9 242.1h0M482.0 223.1h0M485.1 210.0h0M490.8 219.7h0M458.8 260.9h0M423.7 280.6h0M406.7 254.6h0M434.3 278.4h0M394.9 242.1h0M398.6 258.9h0M449.7 266.7h0M476.7 229.7h0M458.9 248.0h0M474.6 238.6h0M454.7 261.6h0M397.7 261.1h0M437.8 252.7h0M465.0 259.6h0M462.6 256.8h0M404.4 258.4h0M458.3 272.5h0M449.6 278.3h0M477.0 230.8h0M419.8 244.0h0M492.1 209.4h0M438.7 265.0h0M463.0 240.4h0M413.2 263.1h0M421.3 262.5h0M464.0 261.1h0M480.4 243.2h0M439.8 258.0h0M446.2 247.9h0M476.9 259.0h0M489.4 232.1h0" stroke="#a3c2e6" stroke-opacity="0.35" stroke-width="1" stroke-linecap="round"/>
<path d="M404.9 258.0 L412.9 253.2 L419.3 258.0 L425.8 256.4 L432.2 250.0 L440.2 251.6 L451.4 248.4 L461.1 245.1 L470.7 243.5 L477.1 238.7 L480.4 230.7 L483.6 233.9 L482.0 246.8 L477.1 254.8 L467.5 261.2 L457.9 264.4 L451.4 272.4 L443.4 278.9 L435.4 280.5 L425.8 277.3 L417.7 274.0 L411.3 267.6 L404.9 262.8ZM476.0 236.0 L478.0 222.0 L482.0 210.0 L487.0 203.0 L491.0 206.0 L492.0 218.0 L488.0 232.0 L483.0 240.0Z" fill="#4d8acb" fill-opacity="0.5" filter="url(#bl1)"/>
<path d="M405.0 258.8V261.5M405.8 259.1V261.5M406.5 258.6V263.3M406.9 257.9V262.1M407.2 259.4V264.5M407.7 256.9V263.0M408.5 260.0V263.1M409.1 259.6V263.8M409.8 256.6V264.2M410.4 257.0V263.5M410.7 255.1V264.4M411.2 256.3V261.9M411.8 256.5V263.7M412.2 255.2V265.0M412.8 258.5V264.8M413.2 253.5V265.1M413.6 260.1V265.1M414.3 258.9V269.7M414.6 261.5V266.8M415.3 258.2V267.1M415.8 261.1V271.2M416.3 261.3V267.5M416.9 257.8V268.9M417.2 260.8V268.8M417.7 257.6V266.8M418.0 262.4V266.9M418.5 259.4V267.5M419.2 265.4V273.3M419.8 262.5V273.3M420.4 259.4V274.4M420.8 264.9V269.3M421.4 264.9V269.9M422.1 263.8V272.4M422.7 264.5V268.5M423.2 263.0V271.5M423.7 263.5V274.8M424.3 257.6V269.0M424.7 259.1V275.7M425.2 264.3V270.2M425.6 259.5V273.3M426.0 261.6V273.1M426.5 259.5V271.1M427.1 259.3V271.9M427.5 264.3V270.9M428.3 258.1V274.0M429.0 254.1V268.4M429.5 262.1V278.1M430.2 258.4V270.3M430.8 262.7V272.9M431.5 263.5V267.9M432.1 255.4V273.0M432.7 252.7V267.2M433.4 255.1V273.7M434.1 252.2V268.6M434.5 251.7V271.7M435.1 252.6V270.1M435.7 258.7V273.6M436.1 251.2V280.3M436.5 252.1V270.8M437.0 253.9V267.8M437.5 261.3V268.5M437.9 261.2V269.8M438.5 254.8V274.1M438.9 255.8V277.5M439.4 255.5V270.2M440.2 260.7V267.7M440.7 253.9V274.2M441.3 259.8V278.9M441.6 258.6V269.2M442.2 261.8V273.4M443.0 251.0V266.9M443.7 260.4V266.5M444.0 261.7V269.8M444.8 258.9V272.6M445.1 256.3V276.5M445.6 257.0V273.1M446.1 251.6V276.3M446.5 258.0V269.1M447.1 255.9V274.7M447.7 252.5V264.3M448.2 256.5V273.1M448.8 249.3V266.7M449.2 260.3V268.6M449.6 255.9V268.6M450.1 258.2V263.8M450.5 257.8V264.2M451.2 256.0V265.4M451.6 255.1V263.2M452.4 257.2V266.8M453.0 254.9V260.4M453.5 250.4V260.6M454.1 252.4V260.0M454.7 253.9V266.2M455.1 250.3V261.6M455.5 255.2V260.0M455.9 251.7V261.6M456.6 249.0V262.7M457.3 250.1V257.7M457.7 252.1V262.9M458.2 251.6V261.0M458.6 251.9V263.5M459.3 252.2V257.0M459.9 246.6V255.8M460.3 249.7V262.3M460.9 250.6V256.2M461.3 252.9V262.4M461.7 245.4V255.3M462.1 246.3V259.4M462.6 250.3V256.1M463.3 252.1V256.2M463.8 252.2V254.6M464.2 245.1V260.5M464.8 245.5V258.5M465.2 247.9V254.2M465.6 251.6V257.5M466.2 245.0V255.7M466.7 251.5V258.9M467.4 245.0V257.5M468.0 250.9V258.9M468.5 249.2V256.5M469.1 250.7V256.2M469.7 246.0V255.8M470.1 247.2V252.7M470.6 244.2V258.3M471.3 247.2V254.0M472.1 243.1V252.5M472.6 242.9V251.6M473.0 247.5V250.8M473.7 244.6V253.2M474.1 244.0V253.4M474.4 243.4V251.8M474.9 242.7V252.1M475.5 243.0V249.7M476.1 244.5V249.3M476.8 244.6V251.3M477.4 238.7V248.9M478.1 236.3V250.5M478.6 238.3V244.7M479.1 239.4V245.0M479.4 233.3V246.1M480.2 233.3V246.4M480.7 237.0V242.5M481.2 238.9V244.6M481.6 237.6V245.1M482.3 236.7V242.2M482.8 235.8V238.0M483.5 234.0V234.5M476.5 233.3V234.8M476.9 232.3V233.9M477.3 227.5V234.1M477.7 226.6V233.3M478.1 224.8V235.1M478.7 225.0V230.8M479.2 226.4V231.5M479.6 218.7V233.7M480.2 218.7V230.2M480.8 222.2V233.7M481.4 215.5V229.9M481.8 213.1V237.3M482.3 217.3V235.6M483.0 211.0V226.5M483.8 212.2V236.3M484.3 211.2V230.1M485.0 209.2V223.6M485.6 216.4V224.5M486.2 204.5V223.1M486.7 209.1V223.4M487.5 214.3V231.6M488.1 209.8V222.4M488.7 206.7V221.7M489.1 210.8V225.0M489.7 210.4V218.8M490.3 210.6V222.8M490.7 208.7V220.0M491.1 212.3V219.2M491.5 212.9V219.6" stroke="#2f71bb" stroke-opacity="0.3" stroke-width="0.9" fill="none"/>
<path d="M419.3 264.4 L425.8 262.8 L432.2 259.6 L441.8 258.0 L451.4 253.2 L459.5 251.6 L467.5 250.0 L473.9 245.1 L478.7 243.5 L480.4 246.8 L475.5 253.2 L467.5 258.0 L457.9 261.2 L451.4 266.0 L443.4 272.4 L438.6 275.7 L432.2 272.4 L425.8 274.0 L420.9 270.8 L418.5 267.6Z" fill="#0b4e9d" filter="url(#bl0)"/>
<path d="M418.7 267.0V267.8M419.3 264.5V268.6M420.1 264.0V270.0M420.5 265.0V269.9M421.1 264.3V270.8M421.6 263.3V270.9M422.4 263.5V271.8M423.2 264.2V272.4M423.6 264.6V272.4M424.3 263.8V273.0M425.1 263.7V273.3M425.6 262.6V272.3M426.2 263.1V272.4M426.6 263.0V272.6M427.3 261.7V274.1M427.7 262.3V272.5M428.4 262.9V272.4M429.2 260.4V271.5M429.5 262.0V271.4M430.3 260.2V273.5M430.7 261.3V272.9M431.1 260.4V272.4M431.6 261.1V271.0M432.1 260.7V271.7M432.6 258.6V271.3M433.0 260.3V273.1M433.8 260.8V272.1M434.2 260.8V273.9M435.0 259.9V274.8M435.8 261.0V274.9M436.5 260.5V275.6M437.3 258.4V275.4M438.0 260.3V273.7M438.4 259.5V274.5M439.0 260.3V274.3M439.8 260.0V275.6M440.5 259.0V272.1M441.0 259.7V273.9M441.7 258.7V272.1M442.4 259.0V273.2M442.9 257.9V271.2M443.7 258.2V271.2M444.3 255.9V271.7M444.7 258.1V272.3M445.5 258.0V271.3M446.3 255.4V270.9M446.7 255.8V267.8M447.2 256.5V269.9M447.9 255.4V268.5M448.3 255.2V267.7M449.1 256.1V267.4M449.5 255.2V267.7M449.9 254.9V268.0M450.5 253.8V265.2M451.2 252.6V266.8M451.7 254.9V265.3M452.5 253.2V264.7M453.0 252.1V264.9M453.8 252.5V263.8M454.5 254.2V262.2M455.0 252.6V263.1M455.6 253.9V262.2M456.3 251.6V262.6M456.9 251.5V262.3M457.4 253.3V261.3M457.8 251.5V261.5M458.4 252.6V260.2M459.0 252.4V259.9M459.3 251.9V259.5M459.9 252.2V259.3M460.8 252.3V260.8M461.5 252.4V260.5M462.2 251.7V259.7M463.0 251.2V258.2M463.8 250.6V258.4M464.4 250.8V259.2M465.1 251.0V258.3M465.6 250.6V257.9M466.2 249.9V258.9M466.6 251.2V258.0M467.3 251.1V258.5M467.7 249.4V257.2M468.3 249.7V256.8M469.1 248.8V256.2M469.6 248.1V256.4M470.1 248.8V255.6M470.9 247.0V256.6M471.6 246.6V254.4M472.3 246.2V253.8M472.9 246.1V254.1M473.5 246.1V253.7M474.3 246.1V253.8M474.9 245.8V253.9M475.3 245.2V252.6M476.0 244.6V251.5M476.4 243.9V252.6M477.1 244.5V251.4M477.6 244.5V250.7M478.1 243.9V249.3M478.6 243.4V248.8M479.1 244.2V248.1M479.8 245.7V247.7M480.2 246.5V247.0" stroke="#0a4a98" stroke-opacity="0.55" stroke-width="0.8" fill="none"/>
<path d="M387.2 244 L387.7 243.8 L388.2 243.6 L388.7 243.3 L389.2 243 L389.7 242.8 L390.2 242.6 L390.7 242.4 L391.2 242.3 L391.7 242.4 L392.2 242.5 L392.7 242.6 L393.2 242.8 L393.7 243 L394.2 243.2 L394.7 243.5 L395.2 243.8 L395.7 244.1 L396.2 244.4 L396.7 244.7 L397.2 245.1 L397.7 245.5 L398.2 245.9 L398.7 246.3 L399.2 246.7 L399.7 247.1 L400.2 247.5 L400.7 248 L401.2 248.4 L401.7 248.9 L402.2 249.3 L402.7 249.8 L403.2 250.3 L403.7 250.8 L404.2 251.2 L404.6 251.7 L405.1 252.2 L405.6 252.7 L406.1 253.1 L406.6 253.6 L407.1 254.1 L407.6 254.5 L408.1 255 L408.6 255.4 L409.1 255.8 L409.6 256.2 L410.1 256.6 L410.6 257 L411.1 257.4 L411.6 257.8 L412.1 258.2 L412.6 258.6 L413.1 259 L413.6 259.4 L414.1 259.8 L414.6 260.1 L415.1 260.5 L415.6 260.9 L416.1 261.2 L416.6 261.5 L417.1 261.9 L417.6 262.2 L418.1 262.5 L418.6 262.8 L419.1 263.1 L419.6 263.4 L420.1 263.7 L420.6 263.9 L421.1 264.1 L421.6 264.4 L422.1 264.6 L422.6 264.8 L423.1 265 L423.6 265.1 L424.1 265.3 L424.6 265.5 L425.1 265.6 L425.6 265.8 L426.1 265.9 L426.6 266 L427.1 266.1 L427.6 266.2 L428.1 266.3 L428.6 266.4 L429.1 266.5 L429.6 266.6 L430.1 266.7 L430.6 266.7 L431.1 266.8 L431.6 266.9 L432.1 266.9 L432.6 267 L433.1 267 L433.6 267 L434.1 267 L434.6 267.1 L435.1 267.1 L435.6 267.1 L436.1 267.1 L436.6 267 L437.1 267 L437.6 267 L438.1 267 L438.6 266.9 L439.1 266.9 L439.5 266.8 L440 266.8 L440.5 266.7 L441 266.6 L441.5 266.6 L442 266.5 L442.5 266.4 L443 266.3 L443.5 266.2 L444 266.1 L444.5 266 L445 265.9 L445.5 265.8 L446 265.7 L446.5 265.6 L447 265.4 L447.5 265.3 L448 265.1 L448.5 265 L449 264.8 L449.5 264.7 L450 264.5 L450.5 264.4 L451 264.2 L451.5 264 L452 263.8 L452.5 263.6 L453 263.4 L453.5 263.3 L454 263.1 L454.5 262.9 L455 262.7 L455.5 262.5 L456 262.2 L456.5 262 L457 261.8 L457.5 261.6 L458 261.4 L458.5 261.2 L459 260.9 L459.5 260.7 L460 260.5 L460.5 260.2 L461 260 L461.5 259.7 L462 259.5 L462.5 259.2 L463 258.9 L463.5 258.6 L464 258.3 L464.5 258 L465 257.7 L465.5 257.4 L466 257.1 L466.5 256.7 L467 256.4 L467.5 256 L468 255.7 L468.5 255.3 L469 254.9 L469.5 254.5 L470 254.1 L470.5 253.7 L471 253.3 L471.5 252.8 L472 252.4 L472.5 251.9 L473 251.4 L473.5 250.8 L474 250.3 L474.4 249.7 L474.9 249.1 L475.4 248.4 L475.9 247.8 L476.4 247.1 L476.9 246.4 L477.4 245.7 L477.9 244.9 L478.4 244.1 L478.9 243.2 L479.4 242.3 L479.9 241.3 L480.4 240.2 L480.9 239.1 L481.4 237.9 L481.9 236.6 L482.4 235.1 L482.9 233.7 L483.4 232.1 L483.9 230.4 L484.4 228.7 L484.9 227 L485.4 225.2 L485.9 223.3 L486.4 221.5 L486.9 219.6 L487.4 217.7 L487.9 215.7 L488.4 213.5 L488.9 211.4 L489.4 209.1 L489.9 206.9 L490.4 204.7 L490.9 202.4 L491.4 200.3 L491.4 205.3 L490.9 207.4 L490.4 209.6 L489.9 211.7 L489.4 213.9 L488.9 216 L488.4 218.1 L487.9 220.1 L487.4 222 L486.9 223.9 L486.4 225.7 L485.9 227.4 L485.4 229.2 L484.9 230.9 L484.4 232.5 L483.9 234.1 L483.4 235.7 L482.9 237.2 L482.4 238.6 L481.9 239.9 L481.4 241.1 L480.9 242.2 L480.4 243.3 L479.9 244.3 L479.4 245.3 L478.9 246.2 L478.4 247.1 L477.9 247.9 L477.4 248.7 L476.9 249.4 L476.4 250.1 L475.9 250.8 L475.4 251.4 L474.9 252.1 L474.4 252.7 L474 253.3 L473.5 253.8 L473 254.4 L472.5 254.9 L472 255.4 L471.5 255.8 L471 256.3 L470.5 256.7 L470 257.1 L469.5 257.5 L469 257.9 L468.5 258.3 L468 258.7 L467.5 259 L467 259.4 L466.5 259.7 L466 260.1 L465.5 260.4 L465 260.7 L464.5 261 L464 261.3 L463.5 261.6 L463 261.9 L462.5 262.2 L462 262.5 L461.5 262.7 L461 263 L460.5 263.2 L460 263.5 L459.5 263.7 L459 263.9 L458.5 264.2 L458 264.4 L457.5 264.6 L457 264.8 L456.5 265 L456 265.2 L455.5 265.5 L455 265.7 L454.5 265.9 L454 266.1 L453.5 266.3 L453 266.4 L452.5 266.6 L452 266.8 L451.5 267 L451 267.2 L450.5 267.4 L450 267.5 L449.5 267.7 L449 267.8 L448.5 268 L448 268.1 L447.5 268.3 L447 268.4 L446.5 268.6 L446 268.7 L445.5 268.8 L445 268.9 L444.5 269 L444 269.1 L443.5 269.2 L443 269.3 L442.5 269.4 L442 269.5 L441.5 269.6 L441 269.6 L440.5 269.7 L440 269.8 L439.5 269.8 L439.1 269.9 L438.6 269.9 L438.1 270 L437.6 270 L437.1 270 L436.6 270 L436.1 270.1 L435.6 270.1 L435.1 270.1 L434.6 270.1 L434.1 270 L433.6 270 L433.1 270 L432.6 270 L432.1 269.9 L431.6 269.9 L431.1 269.8 L430.6 269.7 L430.1 269.7 L429.6 269.6 L429.1 269.5 L428.6 269.4 L428.1 269.3 L427.6 269.2 L427.1 269.1 L426.6 269 L426.1 268.9 L425.6 268.8 L425.1 268.6 L424.6 268.5 L424.1 268.3 L423.6 268.1 L423.1 268 L422.6 267.8 L422.1 267.6 L421.6 267.4 L421.1 267.1 L420.6 266.9 L420.1 266.7 L419.6 266.4 L419.1 266.1 L418.6 265.8 L418.1 265.5 L417.6 265.2 L417.1 264.9 L416.6 264.5 L416.1 264.2 L415.6 263.9 L415.1 263.5 L414.6 263.1 L414.1 262.8 L413.6 262.4 L413.1 262 L412.6 261.6 L412.1 261.2 L411.6 260.8 L411.1 260.4 L410.6 260 L410.1 259.6 L409.6 259.2 L409.1 258.8 L408.6 258.4 L408.1 258 L407.6 257.5 L407.1 257.1 L406.6 256.6 L406.1 256.1 L405.6 255.7 L405.1 255.2 L404.6 254.7 L404.2 254.2 L403.7 253.8 L403.2 253.3 L402.7 252.8 L402.2 252.3 L401.7 251.9 L401.2 251.4 L400.7 251 L400.2 250.5 L399.7 250.1 L399.2 249.7 L398.7 249.4 L398.2 249 L397.7 248.7 L397.2 248.3 L396.7 248 L396.2 247.7 L395.7 247.4 L395.2 247.1 L394.7 246.9 L394.2 246.7 L393.7 246.5 L393.2 246.3 L392.7 246.2 L392.2 246.1 L391.7 246 L391.2 246 L390.7 246.1 L390.2 246.3 L389.7 246.6 L389.2 246.9 L388.7 247.2 L388.2 247.5 L387.7 247.7 L387.2 248 Z" fill="#fbc386" fill-opacity="0.45"/>
<path d="M381.5 262.8H496" stroke="#adadad" stroke-width="0.8"/>
<path d="M387.2 246 L387.7 245.8 L388.2 245.5 L388.7 245.2 L389.2 244.9 L389.7 244.7 L390.2 244.4 L390.7 244.3 L391.2 244.2 L391.7 244.2 L392.2 244.3 L392.7 244.4 L393.2 244.6 L393.7 244.7 L394.2 245 L394.7 245.2 L395.2 245.5 L395.7 245.7 L396.2 246 L396.7 246.4 L397.2 246.7 L397.7 247.1 L398.2 247.4 L398.7 247.8 L399.2 248.2 L399.7 248.6 L400.2 249 L400.7 249.5 L401.2 249.9 L401.7 250.4 L402.2 250.8 L402.7 251.3 L403.2 251.8 L403.7 252.3 L404.2 252.7 L404.6 253.2 L405.1 253.7 L405.6 254.2 L406.1 254.6 L406.6 255.1 L407.1 255.6 L407.6 256 L408.1 256.5 L408.6 256.9 L409.1 257.3 L409.6 257.7 L410.1 258.1 L410.6 258.5 L411.1 258.9 L411.6 259.3 L412.1 259.7 L412.6 260.1 L413.1 260.5 L413.6 260.9 L414.1 261.3 L414.6 261.6 L415.1 262 L415.6 262.4 L416.1 262.7 L416.6 263 L417.1 263.4 L417.6 263.7 L418.1 264 L418.6 264.3 L419.1 264.6 L419.6 264.9 L420.1 265.2 L420.6 265.4 L421.1 265.6 L421.6 265.9 L422.1 266.1 L422.6 266.3 L423.1 266.5 L423.6 266.6 L424.1 266.8 L424.6 267 L425.1 267.1 L425.6 267.3 L426.1 267.4 L426.6 267.5 L427.1 267.6 L427.6 267.7 L428.1 267.8 L428.6 267.9 L429.1 268 L429.6 268.1 L430.1 268.2 L430.6 268.2 L431.1 268.3 L431.6 268.4 L432.1 268.4 L432.6 268.5 L433.1 268.5 L433.6 268.5 L434.1 268.5 L434.6 268.6 L435.1 268.6 L435.6 268.6 L436.1 268.6 L436.6 268.5 L437.1 268.5 L437.6 268.5 L438.1 268.5 L438.6 268.4 L439.1 268.4 L439.5 268.3 L440 268.3 L440.5 268.2 L441 268.1 L441.5 268.1 L442 268 L442.5 267.9 L443 267.8 L443.5 267.7 L444 267.6 L444.5 267.5 L445 267.4 L445.5 267.3 L446 267.2 L446.5 267.1 L447 266.9 L447.5 266.8 L448 266.6 L448.5 266.5 L449 266.3 L449.5 266.2 L450 266 L450.5 265.9 L451 265.7 L451.5 265.5 L452 265.3 L452.5 265.1 L453 264.9 L453.5 264.8 L454 264.6 L454.5 264.4 L455 264.2 L455.5 264 L456 263.7 L456.5 263.5 L457 263.3 L457.5 263.1 L458 262.9 L458.5 262.7 L459 262.4 L459.5 262.2 L460 262 L460.5 261.7 L461 261.5 L461.5 261.2 L462 261 L462.5 260.7 L463 260.4 L463.5 260.1 L464 259.8 L464.5 259.5 L465 259.2 L465.5 258.9 L466 258.6 L466.5 258.2 L467 257.9 L467.5 257.5 L468 257.2 L468.5 256.8 L469 256.4 L469.5 256 L470 255.6 L470.5 255.2 L471 254.8 L471.5 254.3 L472 253.9 L472.5 253.4 L473 252.9 L473.5 252.3 L474 251.8 L474.4 251.2 L474.9 250.6 L475.4 249.9 L475.9 249.3 L476.4 248.6 L476.9 247.9 L477.4 247.2 L477.9 246.4 L478.4 245.6 L478.9 244.7 L479.4 243.8 L479.9 242.8 L480.4 241.8 L480.9 240.7 L481.4 239.5 L481.9 238.2 L482.4 236.9 L482.9 235.4 L483.4 233.9 L483.9 232.3 L484.4 230.6 L484.9 228.9 L485.4 227.2 L485.9 225.4 L486.4 223.6 L486.9 221.8 L487.4 219.9 L487.9 217.9 L488.4 215.8 L488.9 213.7 L489.4 211.5 L489.9 209.3 L490.4 207.1 L490.9 204.9 L491.4 202.8" fill="none" stroke="#fb8c0c" stroke-width="1.2" stroke-dasharray="3 1.5"/>
</g>
<rect x="383.8" y="193.8" width="79.6" height="30.8" rx="1.5" fill="#fff" fill-opacity="0.85" stroke="#d6d6d6" stroke-width="0.6"/>
<circle cx="389.2" cy="196.5" r="1.25" fill="#7b9bd8"/>
<rect x="384.8" y="200.6" width="8.2" height="2.8" fill="#fcdcb8"/>
<path d="M384.8 214.2h8.2" stroke="#fb8c0c" stroke-width="1.1" stroke-dasharray="3.6 1.4"/>
<text transform="translate(396.2 198) scale(0.1)" font-size="39.5" font-weight="bold" fill="#3a3a3a">Sample</text>
<text transform="translate(396.2 203.4) scale(0.1)" font-size="39.5" font-weight="bold" fill="#3a3a3a">95% Confidence interval</text>
<text transform="translate(396.2 209.2) scale(0.1)" font-size="39.5" font-weight="bold" fill="#3a3a3a">Fitted curve (R-square: 0.82):</text>
<text transform="translate(396.2 215.6) scale(0.1)" font-size="39.5" font-weight="bold" fill="#3a3a3a">y = 3.4e-06X<tspan dy="-14" font-size="27.7">5</tspan><tspan dy="14"> </tspan> +3.9e-05X<tspan dy="-14" font-size="27.7">4</tspan><tspan dy="14"> </tspan> -0.00021X<tspan dy="-14" font-size="27.7">3</tspan><tspan dy="14"> </tspan></text>
<text transform="translate(402.6 221.7) scale(0.1)" font-size="39.5" font-weight="bold" fill="#3a3a3a">+0.0015X<tspan dy="-14" font-size="27.7">2</tspan><tspan dy="14"> </tspan> +0.0238 -0.023</text>
<path d="M395 323 L395 323 L396.2 323 L396.2 322.9 L397.4 322.9 L397.4 322.8 L398.6 322.8 L398.6 322.8 L399.8 322.8 L399.8 322.7 L401 322.7 L401 322.7 L402.2 322.7 L402.2 322.6 L403.4 322.6 L403.4 322.6 L404.6 322.6 L404.6 322.5 L405.8 322.5 L405.8 322.5 L407 322.5 L407 322.4 L408.2 322.4 L408.2 322.4 L409.4 322.4 L409.4 322.4 L410.6 322.4 L410.6 322.3 L411.8 322.3 L411.8 322.3 L413 322.3 L413 322 L414.2 322 L414.2 321.8 L415.4 321.8 L415.4 321.6 L416.6 321.6 L416.6 321.2 L417.8 321.2 L417.8 321 L419 321 L419 320.8 L420.2 320.8 L420.2 320.4 L421.4 320.4 L421.4 320.3 L422.6 320.3 L422.6 319.8 L423.8 319.8 L423.8 319.9 L425 319.9 L425 319.6 L426.2 319.6 L426.2 319.2 L427.4 319.2 L427.4 319.1 L428.6 319.1 L428.6 318.9 L429.8 318.9 L429.8 318.3 L431 318.3 L431 318.4 L432.2 318.4 L432.2 317.8 L433.4 317.8 L433.4 317.8 L434.6 317.8 L434.6 317.3 L435.8 317.3 L435.8 316.3 L437 316.3 L437 316 L438.2 316 L438.2 314.7 L439.4 314.7 L439.4 314.7 L440.6 314.7 L440.6 311.8 L441.8 311.8 L441.8 309.9 L443 309.9 L443 308.3 L444.2 308.3 L444.2 305.7 L445.4 305.7 L445.4 302.7 L446.6 302.7 L446.6 299.2 L447.8 299.2 L447.8 297.8 L449 297.8 L449 299.2 L450.2 299.2 L450.2 301.8 L451.4 301.8 L451.4 304.8 L452.6 304.8 L452.6 306.1 L453.8 306.1 L453.8 309.1 L455 309.1 L455 311.1 L456.2 311.1 L456.2 313.2 L457.4 313.2 L457.4 314.5 L458.6 314.5 L458.6 315.7 L459.8 315.7 L459.8 316.3 L461 316.3 L461 317.2 L462.2 317.2 L462.2 317.9 L463.4 317.9 L463.4 318.2 L464.6 318.2 L464.6 318.9 L465.8 318.9 L465.8 318.9 L467 318.9 L467 319.5 L468.2 319.5 L468.2 320 L469.4 320 L469.4 320.2 L470.6 320.2 L470.6 320.4 L471.8 320.4 L471.8 320.5 L473 320.5 L473 320.5 L474.2 320.5 L474.2 320.7 L475.4 320.7 L475.4 321 L476.6 321 L476.6 321 L477.8 321 L477.8 321.2 L479 321.2 L479 321.4 L480.2 321.4 L480.2 321.6 L481.4 321.6 L481.4 321.6 L482.6 321.6 L482.6 321.9 L483.8 321.9 L483.8 322 L485 322 L485 322.2 L486.2 322.2 L486.2 322.3 L487.4 322.3 L487.4 322.5 L488.6 322.5 L488.6 322.6 L489.8 322.6 L489.8 322.7 L491 322.7 L491 322.9 L492.2 322.9 L492.2 323 L493.4 323 L492.8 323 Z" fill="url(#hpat)"/>
<rect x="381.5" y="191.5" width="114.5" height="131.5" fill="none" stroke="#7a7a7a" stroke-width="0.9"/>
<path d="M381.5 296.5H496" stroke="#7a7a7a" stroke-width="0.9"/>
<text x="379.2" y="201.3" font-size="6" text-anchor="end" font-weight="bold" fill="#2a2a2a">0.8</text>
<text x="379.2" y="217.2" font-size="6" text-anchor="end" font-weight="bold" fill="#2a2a2a">0.6</text>
<text x="379.2" y="233.1" font-size="6" text-anchor="end" font-weight="bold" fill="#2a2a2a">0.4</text>
<text x="379.2" y="249" font-size="6" text-anchor="end" font-weight="bold" fill="#2a2a2a">0.2</text>
<text x="379.2" y="264.9" font-size="6" text-anchor="end" font-weight="bold" fill="#2a2a2a">0.0</text>
<text x="379.2" y="280.8" font-size="6" text-anchor="end" font-weight="bold" fill="#2a2a2a">-0.2</text>
<text x="379.2" y="296.7" font-size="6" text-anchor="end" font-weight="bold" fill="#2a2a2a">-0.4</text>
<text x="403.1" y="330" font-size="6" text-anchor="middle" font-weight="bold" fill="#2a2a2a">-10</text>
<text x="425.6" y="330" font-size="6" text-anchor="middle" font-weight="bold" fill="#2a2a2a">-5</text>
<text x="448" y="330" font-size="6" text-anchor="middle" font-weight="bold" fill="#2a2a2a">0</text>
<text x="470.4" y="330" font-size="6" text-anchor="middle" font-weight="bold" fill="#2a2a2a">5</text>
<text x="492.9" y="330" font-size="6" text-anchor="middle" font-weight="bold" fill="#2a2a2a">10</text>
<text x="438.8" y="339.6" font-size="8.8" text-anchor="middle" font-weight="bold" fill="#111">TEMP ( <tspan font-size="5.5" dy="-3.2">°</tspan><tspan dy="3.2"> C)</tspan></text>
<text x="362" y="257.2" font-size="8.8" text-anchor="middle" font-weight="bold" fill="#111" transform="rotate(-90 362 257.2)">Effect on Mig_R (%)</text>
<text x="377.3" y="309.8" font-size="8.8" text-anchor="middle" font-weight="bold" fill="#111" transform="rotate(-90 377.3 309.8)">Dist.</text>
<path d="M572.8 191.5V323M599.3 191.5V323M625.8 191.5V323M652.3 191.5V323M553.5 206.6H668M553.5 227.4H668M553.5 269.2H668M553.5 290H668M553.5 309.8H668" stroke="#ececec" stroke-width="0.6" fill="none"/>
<g clip-path="url(#c_DEM)">
<path d="M557.8 257.9 L564.8 252.6 L573.5 247.4 L578.8 240.4 L585.8 235.1 L596.4 228.1 L605.1 215.8 L613.9 210.5 L620.9 205.3 L629.7 210.5 L640.2 210.5 L650.7 207.0 L657.8 221.1 L654.2 233.3 L654.2 249.1 L643.7 243.9 L631.4 245.6 L622.7 252.6 L608.6 257.9 L596.4 270.2 L587.6 280.7 L578.8 277.2 L570.0 270.2 L561.3 266.7Z" fill="#dde9f6" fill-opacity="0.5" filter="url(#bl2)"/>
<path d="M609.5 232.1h0M587.7 246.0h0M601.9 221.9h0M625.6 225.9h0M624.9 231.2h0M645.5 220.2h0M620.6 250.6h0M647.5 240.1h0M571.4 259.7h0M625.5 233.2h0M650.3 230.6h0M636.5 220.9h0M596.0 228.5h0M584.5 252.0h0M653.9 220.9h0M635.0 220.1h0M573.2 248.3h0M608.3 228.1h0M621.7 230.3h0M600.8 239.5h0M622.0 230.8h0M625.9 241.2h0M637.0 219.1h0M597.0 233.2h0M602.2 247.0h0M576.0 262.2h0M657.3 222.2h0M646.4 237.5h0M645.7 239.3h0M600.2 259.2h0M609.0 225.7h0M593.8 247.9h0M615.6 232.7h0M587.8 267.9h0M648.3 221.3h0M610.4 250.8h0M569.2 252.1h0M597.4 248.8h0M627.5 210.0h0M599.1 239.4h0M636.0 223.0h0M629.7 224.2h0M593.8 239.4h0M651.1 226.2h0M644.9 213.3h0M632.5 244.1h0M637.0 228.6h0M639.1 216.5h0M639.7 231.0h0M616.4 247.2h0M598.5 225.3h0M572.1 267.7h0M640.4 217.6h0M585.1 250.0h0M596.9 241.2h0M608.4 253.1h0M623.1 232.3h0M619.9 213.3h0M622.9 244.3h0M623.0 242.8h0M581.5 274.9h0M630.3 210.7h0M620.9 236.7h0M647.8 221.7h0M644.2 210.0h0M585.6 262.3h0M639.7 234.9h0M616.4 212.3h0M584.0 275.8h0M558.4 259.3h0M610.1 243.6h0M645.8 217.1h0M612.1 213.6h0M574.4 272.3h0M580.8 246.5h0M602.2 247.4h0M562.7 263.0h0M578.0 258.2h0M579.1 271.9h0M585.0 254.0h0M625.8 242.4h0M598.4 260.9h0M585.9 244.2h0M589.9 253.5h0M620.3 218.5h0M647.1 222.5h0M641.9 219.5h0M588.0 255.2h0M599.1 247.3h0M602.9 232.1h0M618.4 228.4h0M638.3 224.7h0M643.8 225.1h0M631.5 215.0h0M622.3 211.2h0M635.0 237.3h0M607.6 238.2h0M598.3 227.8h0M644.8 227.5h0M571.4 259.1h0M583.6 248.2h0M608.5 238.2h0M600.8 240.7h0M598.0 263.6h0M560.6 261.5h0M588.4 236.4h0M586.8 274.5h0M602.1 248.5h0M577.0 263.0h0M650.8 234.0h0M651.0 220.8h0M639.1 225.8h0M634.1 216.3h0M614.4 241.4h0M580.3 254.2h0M604.5 250.5h0M605.8 219.3h0M644.5 211.5h0M603.8 228.6h0M627.0 222.8h0M621.2 213.9h0M654.5 224.8h0M589.1 253.2h0M636.5 218.3h0M588.0 273.6h0M642.7 211.9h0M647.5 211.8h0M634.8 218.6h0M574.0 268.1h0M638.4 211.3h0M574.9 253.3h0M624.0 207.8h0M593.6 236.2h0M655.9 219.5h0M648.1 238.8h0M611.6 246.9h0M651.1 208.6h0M636.1 228.9h0M579.1 267.8h0M587.2 249.8h0M589.8 259.6h0M592.0 259.1h0M641.7 223.8h0M602.7 251.9h0M595.7 253.9h0M592.6 250.9h0M581.0 270.4h0M650.5 220.6h0M645.9 237.5h0M643.5 220.8h0M597.5 227.8h0M625.0 229.3h0M617.5 217.8h0M609.1 227.1h0M628.6 243.9h0M640.7 223.9h0M621.6 228.0h0M564.7 259.5h0M621.7 221.9h0M634.9 233.9h0M581.5 263.2h0M595.2 266.1h0M614.9 215.0h0M638.8 241.8h0M640.0 221.3h0M632.9 221.7h0M610.0 241.9h0M583.6 239.9h0M571.8 249.8h0M589.7 247.3h0M623.4 221.5h0M624.2 240.8h0M576.9 254.2h0M563.6 257.2h0M612.2 231.7h0M643.7 240.2h0M592.1 238.9h0M577.3 245.2h0M615.1 250.6h0M584.9 248.4h0M577.9 241.6h0M626.1 209.0h0M652.1 211.4h0M629.5 212.4h0M588.1 236.9h0M614.1 255.5h0M605.1 242.1h0M593.0 267.3h0M616.1 228.4h0M636.5 212.8h0M570.4 270.2h0M644.7 237.3h0M632.5 232.9h0M560.6 260.8h0M630.1 230.8h0M616.3 254.1h0M617.2 216.4h0M623.6 251.3h0M597.9 236.5h0M647.3 218.7h0M597.0 269.4h0M607.4 249.6h0M587.6 241.5h0M638.7 235.6h0M595.7 241.0h0M616.1 215.5h0M601.4 262.1h0M626.9 220.6h0M627.4 223.9h0M631.0 228.6h0M637.7 219.8h0M604.6 231.5h0M581.3 240.1h0M602.9 261.0h0M585.9 253.3h0M606.5 248.5h0M653.1 242.4h0M579.7 260.9h0M583.3 275.8h0M617.3 232.7h0M628.7 246.1h0M635.3 222.4h0M587.1 238.5h0M620.2 244.1h0M630.4 237.2h0M562.4 256.4h0M596.9 235.3h0M642.4 222.8h0M630.6 218.5h0M619.7 223.4h0M636.8 222.0h0M594.3 258.2h0M582.9 266.3h0M580.0 264.9h0M623.1 230.0h0M650.2 236.6h0M634.2 217.9h0M651.8 230.4h0M588.8 273.6h0M651.1 240.8h0M629.9 224.3h0M628.7 220.7h0M561.2 258.3h0M642.2 228.2h0M587.1 240.6h0M603.0 228.9h0M591.6 272.0h0M602.9 260.0h0M611.8 236.1h0M583.5 240.2h0M605.8 229.2h0M630.3 217.8h0M562.1 259.0h0M611.3 240.0h0M584.4 265.4h0M628.0 213.8h0M594.2 233.3h0M649.3 235.5h0M603.4 235.9h0M617.1 224.6h0M648.6 244.2h0M628.1 218.6h0M596.4 237.9h0M636.1 232.3h0M627.5 214.3h0M580.0 248.3h0M619.6 213.2h0M577.3 264.3h0M640.3 230.6h0M571.2 253.7h0M577.4 263.1h0M579.5 275.8h0M604.7 258.9h0M586.1 241.6h0M624.2 236.4h0M620.3 235.0h0M653.6 243.6h0M622.0 240.7h0M609.8 223.5h0M608.4 245.4h0M617.5 240.9h0M643.0 228.7h0M576.4 245.1h0M598.4 239.8h0M626.5 220.3h0M592.0 275.4h0M596.5 253.8h0M645.9 233.1h0M602.3 250.4h0M578.6 263.1h0M606.1 217.8h0M584.7 276.4h0M570.1 250.9h0M625.4 249.0h0M634.5 218.8h0M630.4 234.5h0M619.2 248.9h0M592.2 263.0h0M607.7 252.7h0M590.4 264.2h0M623.9 250.7h0M607.0 248.4h0M620.4 227.3h0M646.2 242.1h0M626.9 229.1h0M645.6 217.7h0M628.0 211.7h0M586.9 255.7h0M643.1 218.0h0M611.2 240.1h0M612.6 237.5h0M600.1 231.5h0M598.1 238.5h0M641.6 219.9h0M623.7 247.5h0M594.8 254.1h0M608.4 221.8h0M608.5 222.8h0M599.6 235.8h0M612.9 242.1h0M647.8 212.3h0M643.6 240.5h0M621.9 233.8h0M613.4 219.9h0M585.2 253.0h0M620.3 250.0h0M596.6 236.0h0M622.1 236.1h0M579.7 246.3h0M612.6 247.4h0M633.7 224.8h0M629.0 213.6h0M594.9 256.6h0M567.1 261.2h0M578.8 250.6h0M640.4 224.4h0M599.7 262.2h0M607.5 215.8h0M601.9 249.8h0M602.8 227.7h0M644.5 236.5h0M604.0 230.7h0M622.1 252.2h0M608.1 257.1h0M603.8 237.6h0M590.2 252.6h0M621.7 206.3h0M624.3 238.6h0M573.0 250.7h0M593.6 259.7h0M643.3 235.1h0M573.7 258.6h0M569.7 265.2h0M604.2 221.5h0M614.1 241.6h0M624.9 213.3h0M597.7 258.7h0M598.5 240.5h0M574.6 266.3h0M647.1 230.9h0M625.6 244.3h0M567.0 267.1h0M650.1 222.0h0M593.1 269.6h0M592.1 247.8h0M597.4 245.8h0M629.1 225.9h0M591.9 267.4h0M601.0 256.4h0M584.8 242.6h0M604.3 240.5h0M619.0 209.1h0M628.4 219.3h0M648.5 234.0h0M601.0 257.5h0M575.1 257.8h0M617.3 220.6h0M618.1 213.4h0M653.7 217.3h0M619.3 210.3h0M655.2 228.4h0M585.5 245.4h0M587.2 240.9h0M613.3 242.6h0M594.3 247.7h0M603.0 249.7h0M616.0 222.1h0M603.8 239.6h0M652.9 237.8h0M593.3 269.8h0M637.9 234.0h0M647.7 238.4h0M641.5 233.6h0M591.3 271.1h0M593.4 260.1h0M645.4 239.6h0M617.8 243.4h0M591.7 236.0h0M617.3 220.4h0M560.4 255.9h0M604.5 235.7h0M578.1 267.7h0M606.3 239.3h0M594.5 265.7h0M632.3 212.5h0M647.0 211.9h0M603.6 235.7h0M602.3 261.5h0M633.7 231.4h0M612.3 218.8h0M618.7 250.4h0M583.7 266.9h0M617.1 211.2h0M652.8 247.5h0M632.5 218.8h0M580.7 249.7h0M618.1 245.8h0M640.4 233.2h0M596.4 262.9h0M632.8 240.3h0M589.4 246.4h0M604.8 245.0h0M626.2 241.3h0M607.1 220.8h0M587.6 278.1h0M652.0 241.7h0M579.0 240.9h0M652.6 232.5h0M600.8 250.2h0M607.9 228.3h0M650.4 210.4h0M579.5 265.5h0M605.9 240.3h0M598.9 254.2h0M573.9 247.1h0M621.9 235.5h0M629.7 223.8h0M605.2 226.4h0M583.7 238.9h0M593.4 273.0h0M617.3 234.2h0M606.9 247.6h0M623.2 210.3h0M586.9 255.0h0M615.9 244.2h0M593.5 250.4h0M596.5 235.3h0M572.0 261.9h0M604.9 217.2h0M652.0 225.5h0M586.5 271.1h0M608.7 218.3h0" stroke="#a3c2e6" stroke-opacity="0.35" stroke-width="1" stroke-linecap="round"/>
<path d="M578.8 245.6 L580.6 242.1 L584.1 250.9 L586.7 238.6 L591.1 236.8 L599.9 231.6 L606.9 224.6 L608.6 217.5 L613.9 219.3 L618.3 210.5 L622.7 210.5 L622.7 224.6 L619.2 229.8 L624.4 233.3 L627.9 242.1 L622.7 242.1 L613.9 242.1 L605.1 250.9 L594.6 259.6 L589.3 264.9 L584.9 273.7 L582.3 261.4 L575.3 264.9 L571.8 259.6 L573.5 256.1ZM566.0 258.0 L572.0 252.0 L580.0 249.0 L586.0 252.0 L586.0 266.0 L582.0 276.0 L576.0 272.0 L568.0 266.0ZM620.0 222.0 L626.0 214.0 L634.0 212.0 L642.0 214.0 L648.0 222.0 L646.0 236.0 L638.0 244.0 L628.0 246.0 L621.0 238.0Z" fill="#4d8acb" fill-opacity="0.5" filter="url(#bl1)"/>
<path d="M572.3 258.9V259.8M572.8 259.1V260.3M573.3 257.8V261.4M573.8 257.0V259.6M574.2 257.0V260.9M574.8 257.4V259.9M575.5 256.4V260.0M576.3 250.7V260.4M576.9 251.3V260.5M577.3 253.7V260.9M578.0 247.9V262.2M578.6 252.4V258.6M579.3 248.1V255.9M579.7 252.1V259.4M580.4 249.3V258.8M581.0 251.3V261.6M581.8 247.1V254.9M582.5 252.1V257.1M582.9 252.5V261.8M583.5 250.9V266.1M584.0 251.8V265.9M584.5 249.6V265.8M584.9 247.1V262.6M585.7 251.1V259.3M586.4 242.6V264.2M586.9 247.6V269.6M587.6 244.3V264.9M588.2 244.6V256.1M588.9 245.2V253.3M589.6 240.7V260.1M590.0 248.1V258.7M590.5 240.0V263.7M591.0 240.2V255.2M591.7 239.4V262.2M592.1 242.6V259.1M592.8 238.3V254.2M593.3 237.9V256.0M593.7 237.2V255.6M594.2 246.0V255.9M594.6 241.8V254.6M595.2 238.1V252.5M595.8 236.6V253.1M596.5 236.4V252.7M597.3 235.4V248.1M597.8 242.6V250.2M598.2 242.2V248.1M598.6 235.0V248.8M599.2 232.4V246.0M599.9 240.9V254.7M600.2 236.4V252.4M600.7 231.2V252.8M601.3 235.2V243.6M601.7 230.5V250.8M602.4 230.1V246.7M602.9 239.2V250.6M603.2 231.7V247.4M604.0 236.9V250.2M604.6 231.4V243.0M605.0 235.6V249.1M605.4 228.0V246.3M606.1 235.5V249.8M606.7 231.6V245.3M607.3 226.4V246.2M607.9 223.0V244.0M608.6 223.2V242.1M609.3 222.8V242.0M610.0 225.3V235.0M610.5 226.4V245.2M611.1 227.6V241.1M611.5 224.2V242.0M612.1 221.0V234.3M612.8 221.6V240.0M613.3 219.8V237.6M613.9 225.9V238.1M614.4 225.2V237.7M615.0 220.9V235.0M615.7 217.2V234.5M616.2 224.3V230.8M616.8 216.6V237.3M617.5 224.3V239.8M618.0 211.3V229.8M618.5 222.1V232.8M619.0 215.6V241.7M619.6 217.7V225.8M619.6 230.3V236.8M620.1 213.4V221.8M620.1 235.1V240.9M620.7 212.6V222.1M620.7 233.3V239.8M621.5 212.2V226.1M621.5 234.7V238.5M622.1 214.4V224.6M622.1 232.1V237.7M622.7 236.6V238.0M623.3 233.0V240.2M624.0 233.1V238.9M624.7 235.7V240.6M625.3 237.9V239.5M626.0 237.7V242.1M626.5 239.1V240.7M627.2 240.6V241.9M566.1 258.0V258.2M566.6 258.5V259.4M567.1 257.7V260.0M567.8 256.6V264.3M568.3 258.1V264.2M568.7 256.9V264.5M569.4 257.0V266.4M569.7 259.0V266.6M570.3 254.6V263.5M571.0 253.3V264.2M571.5 259.2V263.6M571.9 256.3V264.5M572.7 253.5V262.1M573.0 257.8V266.9M573.8 253.4V262.2M574.5 257.2V263.6M575.1 253.9V265.2M575.5 258.3V270.3M576.0 254.9V267.3M576.5 254.3V264.0M577.1 250.4V263.4M577.6 257.7V264.5M578.2 250.5V263.0M578.7 259.8V271.7M579.2 255.6V266.7M579.6 255.1V273.7M580.2 253.5V274.1M580.7 250.1V265.9M581.1 260.3V269.2M581.7 252.8V270.5M582.4 255.2V265.1M582.7 250.6V266.9M583.4 259.8V269.7M583.9 259.8V264.7M584.5 259.5V264.9M585.2 253.1V266.7M585.6 256.7V267.0M620.1 222.3V223.4M620.8 224.1V231.5M621.2 221.6V236.2M621.6 222.9V231.1M622.0 225.2V238.4M622.6 225.3V232.1M623.0 221.4V231.0M623.7 227.4V230.3M624.0 227.7V230.3M624.4 218.0V237.3M625.0 216.6V233.8M625.7 215.7V241.0M626.2 218.1V236.2M626.7 224.4V240.1M627.2 223.3V245.0M627.9 226.0V241.1M628.4 213.8V243.7M628.8 218.3V238.7M629.5 226.9V242.4M630.2 225.9V235.8M631.0 216.5V245.1M631.4 213.2V234.8M632.1 217.4V231.8M632.5 223.9V236.0M633.2 214.5V232.1M633.7 225.6V236.1M634.1 216.9V243.8M634.6 221.0V231.0M635.3 214.8V241.8M635.8 225.0V244.0M636.5 222.2V242.3M637.2 217.1V240.1M638.0 216.5V237.7M638.4 215.8V238.0M638.9 226.3V229.7M639.6 222.2V234.4M640.3 223.7V230.3M640.8 218.5V239.7M641.6 224.1V233.3M642.0 218.0V238.8M642.6 219.0V234.3M643.0 221.0V231.1M643.5 224.6V231.7M643.9 219.6V232.9M644.3 220.8V232.1M645.1 226.0V231.6M645.4 226.1V235.9M646.1 225.6V228.1M646.9 224.0V228.2M647.3 223.2V224.4M647.7 222.0V223.9" stroke="#2f71bb" stroke-opacity="0.3" stroke-width="0.9" fill="none"/>
<path d="M585.8 252.6 L587.6 240.4 L591.1 238.6 L596.4 242.1 L599.9 235.1 L605.1 229.8 L608.6 226.3 L612.1 222.8 L615.6 224.6 L616.5 233.3 L612.1 240.4 L608.6 245.6 L601.6 250.9 L594.6 256.1 L589.3 261.4 L586.7 259.6Z" fill="#0b4e9d" filter="url(#bl0)"/>
<path d="M586.3 249.9V255.7M586.7 247.5V258.7M587.4 244.3V260.9M587.9 239.8V258.4M588.3 241.8V260.6M589.0 240.5V260.4M589.8 240.5V259.9M590.2 239.5V261.3M590.7 239.5V260.6M591.4 241.5V256.7M591.9 238.6V257.9M592.5 238.5V258.4M593.1 241.3V255.3M593.8 242.2V257.9M594.5 241.3V254.9M595.3 242.8V253.7M596.0 241.6V255.2M596.8 242.1V254.5M597.4 241.1V254.1M597.9 241.2V252.2M598.4 237.7V251.2M599.2 238.8V252.4M599.7 235.0V250.8M600.4 233.4V250.9M600.8 235.6V251.5M601.3 235.8V250.0M602.1 235.1V250.2M602.7 231.1V250.5M603.6 231.3V248.1M604.2 231.1V246.8M604.9 229.8V247.1M605.7 229.8V246.3M606.2 228.7V246.2M606.7 227.2V247.9M607.5 227.4V245.2M608.0 229.5V243.7M608.7 225.4V245.2M609.3 227.2V244.5M609.9 227.3V242.5M610.5 223.6V240.5M610.9 225.8V239.7M611.5 224.5V240.3M612.4 224.4V240.5M612.8 224.4V237.8M613.6 224.7V238.4M614.0 225.8V237.9M614.4 224.8V235.4M615.0 224.5V235.2M615.7 226.4V233.6" stroke="#0a4a98" stroke-opacity="0.55" stroke-width="0.8" fill="none"/>
<path d="M558.1 261 L558.6 260.9 L559.1 260.7 L559.6 260.6 L560.1 260.4 L560.6 260.3 L561.1 260.1 L561.6 260 L562.1 259.8 L562.6 259.7 L563.1 259.6 L563.6 259.4 L564.1 259.3 L564.6 259.1 L565.1 259 L565.6 258.8 L566.1 258.7 L566.6 258.6 L567.1 258.4 L567.6 258.3 L568.1 258.1 L568.6 258 L569.1 257.9 L569.6 257.8 L570.1 257.6 L570.6 257.5 L571.1 257.4 L571.5 257.3 L572 257.2 L572.5 257.1 L573 257 L573.5 256.9 L574 256.8 L574.5 256.7 L575 256.7 L575.5 256.6 L576 256.5 L576.5 256.4 L577 256.3 L577.5 256.2 L578 256.2 L578.5 256.1 L579 256 L579.5 255.8 L580 255.7 L580.5 255.6 L581 255.5 L581.5 255.3 L582 255.2 L582.5 255 L583 254.9 L583.5 254.7 L584 254.6 L584.5 254.4 L585 254.2 L585.5 254.1 L586 253.9 L586.5 253.7 L587 253.5 L587.5 253.3 L588 253.1 L588.5 252.9 L589 252.7 L589.5 252.5 L590 252.3 L590.5 252 L591 251.8 L591.5 251.5 L592 251.2 L592.5 250.9 L593 250.6 L593.5 250.3 L594 250 L594.5 249.7 L595 249.3 L595.5 248.9 L596 248.6 L596.5 248.2 L597 247.8 L597.4 247.4 L597.9 247 L598.4 246.5 L598.9 246.1 L599.4 245.7 L599.9 245.2 L600.4 244.8 L600.9 244.4 L601.4 243.9 L601.9 243.5 L602.4 243.1 L602.9 242.6 L603.4 242.2 L603.9 241.8 L604.4 241.3 L604.9 240.9 L605.4 240.5 L605.9 240 L606.4 239.6 L606.9 239.1 L607.4 238.6 L607.9 238.2 L608.4 237.7 L608.9 237.2 L609.4 236.8 L609.9 236.3 L610.4 235.8 L610.9 235.4 L611.4 234.9 L611.9 234.5 L612.4 234 L612.9 233.6 L613.4 233.1 L613.9 232.7 L614.4 232.2 L614.9 231.8 L615.4 231.4 L615.9 231 L616.4 230.6 L616.9 230.1 L617.4 229.7 L617.9 229.3 L618.4 228.9 L618.9 228.5 L619.4 228.1 L619.9 227.7 L620.4 227.4 L620.9 227 L621.4 226.6 L621.9 226.3 L622.4 225.9 L622.9 225.6 L623.3 225.3 L623.8 225 L624.3 224.7 L624.8 224.5 L625.3 224.2 L625.8 223.9 L626.3 223.6 L626.8 223.4 L627.3 223.1 L627.8 222.9 L628.3 222.6 L628.8 222.4 L629.3 222.2 L629.8 222 L630.3 221.8 L630.8 221.6 L631.3 221.5 L631.8 221.3 L632.3 221.2 L632.8 221 L633.3 220.9 L633.8 220.8 L634.3 220.7 L634.8 220.6 L635.3 220.5 L635.8 220.5 L636.3 220.4 L636.8 220.4 L637.3 220.4 L637.8 220.4 L638.3 220.4 L638.8 220.4 L639.3 220.5 L639.8 220.6 L640.3 220.7 L640.8 220.8 L641.3 221 L641.8 221.2 L642.3 221.4 L642.8 221.6 L643.3 221.8 L643.8 222 L644.3 222.3 L644.8 222.6 L645.3 222.8 L645.8 223.1 L646.3 223.4 L646.8 223.7 L647.3 224.1 L647.8 224.4 L648.3 224.7 L648.8 225.1 L649.2 225.4 L649.7 225.8 L650.2 226.2 L650.7 226.7 L651.2 227 L651.7 227.2 L652.2 227.4 L652.7 227.7 L653.2 228 L653.7 228.3 L654.2 228.6 L654.7 228.9 L655.2 229.3 L655.7 229.7 L656.2 230.1 L656.7 230.5 L657.2 230.9 L657.7 231.3 L658.2 231.6 L658.7 232 L659.2 232.4 L659.7 232.8 L660.2 233.2 L660.7 233.6 L661.2 234 L661.7 234.3 L662.2 234.7 L662.2 262.7 L661.7 261.4 L661.2 260 L660.7 258.7 L660.2 257.3 L659.7 256 L659.2 254.6 L658.7 253.3 L658.2 252 L657.7 250.6 L657.2 249.3 L656.7 248.1 L656.2 247 L655.7 246 L655.2 244.9 L654.7 243.9 L654.2 242.9 L653.7 241.9 L653.2 241 L652.7 240 L652.2 239.1 L651.7 238.2 L651.2 237.3 L650.7 236.6 L650.2 235.9 L649.7 235.3 L649.2 234.8 L648.8 234.2 L648.3 233.7 L647.8 233.2 L647.3 232.6 L646.8 232.1 L646.3 231.6 L645.8 231.1 L645.3 230.6 L644.8 230.2 L644.3 229.7 L643.8 229.3 L643.3 228.8 L642.8 228.4 L642.3 228 L641.8 227.6 L641.3 227.2 L640.8 226.9 L640.3 226.5 L639.8 226.2 L639.3 225.9 L638.8 225.7 L638.3 225.5 L637.8 225.3 L637.3 225.1 L636.8 225 L636.3 224.9 L635.8 224.9 L635.3 224.9 L634.8 224.9 L634.3 224.9 L633.8 225 L633.3 225 L632.8 225.1 L632.3 225.1 L631.8 225.2 L631.3 225.3 L630.8 225.4 L630.3 225.5 L629.8 225.7 L629.3 225.8 L628.8 225.9 L628.3 226.1 L627.8 226.2 L627.3 226.4 L626.8 226.6 L626.3 226.8 L625.8 227 L625.3 227.2 L624.8 227.4 L624.3 227.7 L623.8 228 L623.3 228.3 L622.9 228.6 L622.4 228.9 L621.9 229.3 L621.4 229.6 L620.9 230 L620.4 230.3 L619.9 230.7 L619.4 231.1 L618.9 231.5 L618.4 231.9 L617.9 232.3 L617.4 232.7 L616.9 233.1 L616.4 233.5 L615.9 233.9 L615.4 234.3 L614.9 234.7 L614.4 235.1 L613.9 235.6 L613.4 236 L612.9 236.4 L612.4 236.9 L611.9 237.3 L611.4 237.8 L610.9 238.3 L610.4 238.7 L609.9 239.2 L609.4 239.6 L608.9 240.1 L608.4 240.6 L607.9 241 L607.4 241.5 L606.9 241.9 L606.4 242.4 L605.9 242.8 L605.4 243.3 L604.9 243.7 L604.4 244.1 L603.9 244.6 L603.4 245 L602.9 245.4 L602.4 245.9 L601.9 246.3 L601.4 246.7 L600.9 247.2 L600.4 247.6 L599.9 248 L599.4 248.4 L598.9 248.9 L598.4 249.3 L597.9 249.7 L597.4 250.1 L597 250.5 L596.5 250.9 L596 251.3 L595.5 251.7 L595 252 L594.5 252.4 L594 252.7 L593.5 253 L593 253.4 L592.5 253.7 L592 253.9 L591.5 254.2 L591 254.5 L590.5 254.7 L590 254.9 L589.5 255.2 L589 255.4 L588.5 255.6 L588 255.8 L587.5 256 L587 256.2 L586.5 256.4 L586 256.5 L585.5 256.7 L585 256.9 L584.5 257 L584 257.2 L583.5 257.3 L583 257.5 L582.5 257.6 L582 257.8 L581.5 257.9 L581 258.1 L580.5 258.2 L580 258.3 L579.5 258.4 L579 258.5 L578.5 258.6 L578 258.7 L577.5 258.8 L577 258.9 L576.5 259 L576 259.1 L575.5 259.1 L575 259.2 L574.5 259.3 L574 259.4 L573.5 259.4 L573 259.5 L572.5 259.6 L572 259.7 L571.5 259.8 L571.1 259.9 L570.6 260 L570.1 260.1 L569.6 260.3 L569.1 260.4 L568.6 260.5 L568.1 260.6 L567.6 260.8 L567.1 260.9 L566.6 261 L566.1 261.2 L565.6 261.3 L565.1 261.4 L564.6 261.6 L564.1 261.7 L563.6 261.9 L563.1 262 L562.6 262.1 L562.1 262.3 L561.6 262.4 L561.1 262.6 L560.6 262.7 L560.1 262.8 L559.6 263 L559.1 263.1 L558.6 263.3 L558.1 263.4 Z" fill="#fbc386" fill-opacity="0.45"/>
<path d="M553.5 248.3H668" stroke="#adadad" stroke-width="0.8"/>
<path d="M558.1 262.2 L558.6 262.1 L559.1 261.9 L559.6 261.8 L560.1 261.6 L560.6 261.5 L561.1 261.4 L561.6 261.2 L562.1 261.1 L562.6 260.9 L563.1 260.8 L563.6 260.6 L564.1 260.5 L564.6 260.3 L565.1 260.2 L565.6 260.1 L566.1 259.9 L566.6 259.8 L567.1 259.7 L567.6 259.5 L568.1 259.4 L568.6 259.3 L569.1 259.1 L569.6 259 L570.1 258.9 L570.6 258.8 L571.1 258.7 L571.5 258.5 L572 258.4 L572.5 258.4 L573 258.3 L573.5 258.2 L574 258.1 L574.5 258 L575 257.9 L575.5 257.9 L576 257.8 L576.5 257.7 L577 257.6 L577.5 257.5 L578 257.4 L578.5 257.3 L579 257.2 L579.5 257.1 L580 257 L580.5 256.9 L581 256.8 L581.5 256.6 L582 256.5 L582.5 256.3 L583 256.2 L583.5 256 L584 255.9 L584.5 255.7 L585 255.5 L585.5 255.4 L586 255.2 L586.5 255 L587 254.9 L587.5 254.7 L588 254.5 L588.5 254.3 L589 254.1 L589.5 253.8 L590 253.6 L590.5 253.4 L591 253.1 L591.5 252.9 L592 252.6 L592.5 252.3 L593 252 L593.5 251.7 L594 251.4 L594.5 251 L595 250.7 L595.5 250.3 L596 249.9 L596.5 249.5 L597 249.1 L597.4 248.7 L597.9 248.3 L598.4 247.9 L598.9 247.5 L599.4 247.1 L599.9 246.6 L600.4 246.2 L600.9 245.8 L601.4 245.3 L601.9 244.9 L602.4 244.5 L602.9 244 L603.4 243.6 L603.9 243.2 L604.4 242.7 L604.9 242.3 L605.4 241.9 L605.9 241.4 L606.4 241 L606.9 240.5 L607.4 240.1 L607.9 239.6 L608.4 239.1 L608.9 238.7 L609.4 238.2 L609.9 237.7 L610.4 237.3 L610.9 236.8 L611.4 236.4 L611.9 235.9 L612.4 235.4 L612.9 235 L613.4 234.6 L613.9 234.1 L614.4 233.7 L614.9 233.3 L615.4 232.9 L615.9 232.4 L616.4 232 L616.9 231.6 L617.4 231.2 L617.9 230.8 L618.4 230.4 L618.9 230 L619.4 229.6 L619.9 229.2 L620.4 228.8 L620.9 228.5 L621.4 228.1 L621.9 227.8 L622.4 227.4 L622.9 227.1 L623.3 226.8 L623.8 226.5 L624.3 226.2 L624.8 225.9 L625.3 225.7 L625.8 225.4 L626.3 225.2 L626.8 225 L627.3 224.8 L627.8 224.6 L628.3 224.4 L628.8 224.2 L629.3 224 L629.8 223.8 L630.3 223.7 L630.8 223.5 L631.3 223.4 L631.8 223.3 L632.3 223.2 L632.8 223.1 L633.3 223 L633.8 222.9 L634.3 222.8 L634.8 222.8 L635.3 222.7 L635.8 222.7 L636.3 222.7 L636.8 222.7 L637.3 222.7 L637.8 222.8 L638.3 222.9 L638.8 223 L639.3 223.2 L639.8 223.4 L640.3 223.6 L640.8 223.9 L641.3 224.1 L641.8 224.4 L642.3 224.7 L642.8 225 L643.3 225.3 L643.8 225.6 L644.3 226 L644.8 226.4 L645.3 226.7 L645.8 227.1 L646.3 227.5 L646.8 227.9 L647.3 228.4 L647.8 228.8 L648.3 229.2 L648.8 229.7 L649.2 230.1 L649.7 230.6 L650.2 231.1 L650.7 231.6 L651.2 232.1 L651.7 232.7 L652.2 233.3 L652.7 233.9 L653.2 234.5 L653.7 235.1 L654.2 235.8 L654.7 236.4 L655.2 237.1 L655.7 237.8 L656.2 238.6 L656.7 239.3 L657.2 240.1 L657.7 241 L658.2 241.8 L658.7 242.7 L659.2 243.5 L659.7 244.4 L660.2 245.3 L660.7 246.1 L661.2 247 L661.7 247.9 L662.2 248.7" fill="none" stroke="#fb8c0c" stroke-width="1.2" stroke-dasharray="3 1.5"/>
</g>
<rect x="587.2" y="264.2" width="78.4" height="30.8" rx="1.5" fill="#fff" fill-opacity="0.85" stroke="#d6d6d6" stroke-width="0.6"/>
<circle cx="592.6" cy="266.9" r="1.25" fill="#7b9bd8"/>
<rect x="588.2" y="271" width="8.2" height="2.8" fill="#fcdcb8"/>
<path d="M588.2 284.6h8.2" stroke="#fb8c0c" stroke-width="1.1" stroke-dasharray="3.6 1.4"/>
<text transform="translate(599.6 268.4) scale(0.1)" font-size="39.5" font-weight="bold" fill="#3a3a3a">Sample</text>
<text transform="translate(599.6 273.8) scale(0.1)" font-size="39.5" font-weight="bold" fill="#3a3a3a">95% Confidence interval</text>
<text transform="translate(599.6 279.6) scale(0.1)" font-size="39.5" font-weight="bold" fill="#3a3a3a">Fitted curve (R-square: 0.76):</text>
<text transform="translate(599.6 286) scale(0.1)" font-size="39.5" font-weight="bold" fill="#3a3a3a">y = 7.5e-15X<tspan dy="-14" font-size="27.7">5</tspan><tspan dy="14"> </tspan> -2.8e-14X<tspan dy="-14" font-size="27.7">4</tspan><tspan dy="14"> </tspan> -5.4e-11X<tspan dy="-14" font-size="27.7">3</tspan><tspan dy="14"> </tspan></text>
<text transform="translate(606 292.1) scale(0.1)" font-size="39.5" font-weight="bold" fill="#3a3a3a">+7.9e-08X<tspan dy="-14" font-size="27.7">2</tspan><tspan dy="14"> </tspan> +0.00021X +0.0047</text>
<path d="M570 323 L570 322.9 L571.2 322.9 L571.2 322.8 L572.4 322.8 L572.4 322.7 L573.6 322.7 L573.6 322.6 L574.8 322.6 L574.8 322.5 L576 322.5 L576 322.5 L577.2 322.5 L577.2 322.4 L578.4 322.4 L578.4 322.4 L579.6 322.4 L579.6 322.3 L580.8 322.3 L580.8 322.3 L582 322.3 L582 322.3 L583.2 322.3 L583.2 322.3 L584.4 322.3 L584.4 321.8 L585.6 321.8 L585.6 320.8 L586.8 320.8 L586.8 319.6 L588 319.6 L588 317.7 L589.2 317.7 L589.2 315.2 L590.4 315.2 L590.4 314 L591.6 314 L591.6 312.7 L592.8 312.7 L592.8 311.5 L594 311.5 L594 309.7 L595.2 309.7 L595.2 307.1 L596.4 307.1 L596.4 304.3 L597.6 304.3 L597.6 298.7 L598.8 298.7 L598.8 300.7 L600 300.7 L600 305.3 L601.2 305.3 L601.2 311.3 L602.4 311.3 L602.4 316.7 L603.6 316.7 L603.6 317.3 L604.8 317.3 L604.8 318.2 L606 318.2 L606 318.8 L607.2 318.8 L607.2 319.2 L608.4 319.2 L608.4 319.6 L609.6 319.6 L609.6 319.9 L610.8 319.9 L610.8 320 L612 320 L612 320.2 L613.2 320.2 L613.2 320.5 L614.4 320.5 L614.4 320.7 L615.6 320.7 L615.6 320.8 L616.8 320.8 L616.8 320.9 L618 320.9 L618 321.1 L619.2 321.1 L619.2 321.3 L620.4 321.3 L620.4 321.3 L621.6 321.3 L621.6 321.5 L622.8 321.5 L622.8 321.6 L624 321.6 L624 321.8 L625.2 321.8 L625.2 321.8 L626.4 321.8 L626.4 321.9 L627.6 321.9 L627.6 322 L628.8 322 L628.8 322.2 L630 322.2 L630 322.3 L631.2 322.3 L631.2 322.4 L632.4 322.4 L632.4 322.5 L633.6 322.5 L633.6 322.6 L634.8 322.6 L634.8 322.7 L636 322.7 L636 322.8 L637.2 322.8 L637.2 322.9 L638.4 322.9 L638.4 323 L639.6 323 L639.2 323 Z" fill="url(#hpat)"/>
<rect x="553.5" y="191.5" width="114.5" height="131.5" fill="none" stroke="#7a7a7a" stroke-width="0.9"/>
<path d="M553.5 296.5H668" stroke="#7a7a7a" stroke-width="0.9"/>
<text x="551.2" y="208.7" font-size="6" text-anchor="end" font-weight="bold" fill="#2a2a2a">0.4</text>
<text x="551.2" y="229.5" font-size="6" text-anchor="end" font-weight="bold" fill="#2a2a2a">0.2</text>
<text x="551.2" y="250.4" font-size="6" text-anchor="end" font-weight="bold" fill="#2a2a2a">0.0</text>
<text x="551.2" y="271.3" font-size="6" text-anchor="end" font-weight="bold" fill="#2a2a2a">-0.2</text>
<text x="551.2" y="292.1" font-size="6" text-anchor="end" font-weight="bold" fill="#2a2a2a">-0.4</text>
<text x="572.8" y="330" font-size="6" text-anchor="middle" font-weight="bold" fill="#2a2a2a">-1000</text>
<text x="599.3" y="330" font-size="6" text-anchor="middle" font-weight="bold" fill="#2a2a2a">0</text>
<text x="625.8" y="330" font-size="6" text-anchor="middle" font-weight="bold" fill="#2a2a2a">1000</text>
<text x="652.3" y="330" font-size="6" text-anchor="middle" font-weight="bold" fill="#2a2a2a">2000</text>
<text x="610.8" y="339.2" font-size="8.8" text-anchor="middle" font-weight="bold" fill="#111">DEM (m)</text>
<text x="534" y="257.2" font-size="8.8" text-anchor="middle" font-weight="bold" fill="#111" transform="rotate(-90 534 257.2)">Effect on Mig_R (%)</text>
<text x="549.3" y="309.8" font-size="8.8" text-anchor="middle" font-weight="bold" fill="#111" transform="rotate(-90 549.3 309.8)">Dist.</text>
<path d="M57.3 362.5V494M91 362.5V494M124.7 362.5V494M39.5 368.5H154M39.5 387.8H154M39.5 407.1H154M39.5 445.7H154M39.5 465H154M39.5 480.8H154" stroke="#ececec" stroke-width="0.6" fill="none"/>
<g clip-path="url(#c_GDP_PA)">
<path d="M43.8 431.4 L47.3 426.1 L57.8 417.4 L68.3 412.1 L80.6 410.4 L87.6 394.6 L92.9 387.5 L105.2 387.5 L115.7 378.8 L124.5 373.5 L143.8 373.5 L149.0 380.5 L147.3 394.6 L133.2 394.6 L121.0 396.3 L115.7 410.4 L99.9 413.9 L96.4 431.4 L94.6 452.5 L84.1 459.5 L75.3 452.5 L71.8 440.2 L59.5 440.2 L49.0 438.4 L43.8 438.4Z" fill="#dde9f6" fill-opacity="0.5" filter="url(#bl2)"/>
<path d="M122.1 388.3h0M90.3 448.6h0M76.2 451.3h0M92.9 444.1h0M96.3 426.1h0M83.5 414.9h0M97.9 401.1h0M68.7 424.5h0M101.8 412.8h0M76.0 419.3h0M60.4 432.5h0M110.8 393.2h0M132.6 386.5h0M49.2 431.4h0M78.0 437.6h0M63.5 436.1h0M81.4 456.2h0M87.1 451.6h0M91.2 431.7h0M105.7 412.5h0M83.8 437.3h0M135.1 385.0h0M91.0 413.7h0M63.4 431.7h0M84.8 418.4h0M75.7 415.0h0M97.4 401.9h0M132.7 378.1h0M53.8 424.3h0M88.6 416.1h0M65.1 431.7h0M95.7 411.3h0M97.8 413.8h0M82.9 412.9h0M140.3 374.9h0M89.8 439.3h0M110.7 395.2h0M73.2 415.5h0M124.0 375.3h0M52.9 430.0h0M144.2 377.7h0M93.6 423.7h0M93.3 422.9h0M74.7 430.5h0M54.5 432.6h0M83.0 428.2h0M94.4 392.0h0M139.2 394.3h0M73.2 421.1h0M128.5 388.6h0M91.4 428.0h0M46.8 430.2h0M105.1 402.0h0M59.5 437.3h0M54.0 432.8h0M109.2 388.2h0M123.0 384.8h0M112.4 385.0h0M64.6 428.3h0M55.5 435.4h0M56.4 433.5h0M51.0 437.5h0M141.8 389.6h0M135.4 392.3h0M88.2 406.4h0M81.3 437.8h0M55.1 423.8h0M82.2 413.1h0M94.3 426.7h0M82.9 437.4h0M47.1 429.1h0M65.5 414.2h0M86.8 450.8h0M128.1 375.4h0M91.8 426.3h0M81.7 413.0h0M74.6 422.8h0M80.2 445.5h0M104.6 407.8h0M46.6 436.2h0M86.3 437.9h0M77.4 420.8h0M68.6 415.7h0M109.0 390.5h0M59.5 431.4h0M92.3 452.8h0M123.0 385.3h0M91.0 453.5h0M106.5 409.5h0M91.1 390.6h0M80.7 454.0h0M79.0 447.6h0M130.4 380.5h0M45.9 434.2h0M54.3 438.2h0M59.6 440.1h0M138.5 393.5h0M50.0 436.6h0M127.6 376.5h0M90.3 455.2h0M89.2 435.6h0M111.1 407.1h0M135.0 377.5h0M80.7 416.0h0M147.5 391.8h0M86.0 418.8h0M120.2 380.9h0M87.6 414.9h0M67.0 416.5h0M51.3 435.8h0M78.8 426.7h0M73.0 421.4h0M130.3 382.2h0M88.1 410.4h0M90.6 408.5h0M132.1 377.5h0M90.7 394.3h0M110.7 397.3h0M89.9 415.8h0M98.4 392.9h0M91.3 440.1h0M114.1 380.4h0M102.4 405.3h0M67.8 435.1h0M104.5 400.3h0M135.6 378.6h0M77.7 435.8h0M131.6 385.6h0M46.3 431.3h0M69.3 426.1h0M141.0 379.8h0M94.6 396.8h0M82.0 439.3h0M99.4 402.4h0M88.7 443.6h0M90.2 438.6h0M78.7 421.1h0M131.1 378.1h0M59.7 421.1h0M89.3 444.1h0M140.7 382.4h0M85.5 432.3h0M96.0 400.0h0M124.4 375.7h0M85.7 436.5h0M78.2 449.7h0M127.2 381.6h0M84.9 422.0h0M84.8 437.4h0M82.1 457.5h0M125.2 374.4h0M76.2 422.9h0M108.4 397.3h0M106.2 393.2h0M108.0 395.2h0M61.9 434.7h0M137.3 388.6h0M102.7 391.5h0M84.5 420.4h0M79.6 421.8h0M126.6 378.5h0M51.7 431.0h0M101.9 410.4h0M81.6 409.3h0M59.0 432.5h0M97.9 420.4h0M86.7 456.1h0M89.1 400.0h0M66.8 436.8h0M122.6 376.4h0M78.9 419.1h0M84.7 406.9h0M85.7 427.5h0M115.1 393.0h0M97.6 389.5h0M89.2 433.9h0M127.9 388.9h0M123.8 384.1h0M91.0 411.1h0M110.8 400.5h0M108.9 399.0h0M89.5 452.1h0M76.0 424.1h0M95.0 441.1h0M119.5 397.4h0M138.5 375.3h0M53.1 430.6h0M107.8 395.8h0M118.1 383.0h0M77.9 437.1h0M86.7 441.0h0M138.5 378.0h0M135.9 375.9h0M80.6 431.0h0M80.8 432.0h0M119.9 391.7h0M64.8 426.5h0M135.6 385.0h0M91.3 417.7h0M135.1 381.3h0M78.1 426.1h0M76.3 413.4h0M98.8 417.1h0M62.1 433.3h0M50.6 437.9h0M119.4 379.5h0M95.1 425.7h0M53.3 432.0h0M61.3 435.6h0M74.1 413.1h0M82.7 437.8h0M130.6 379.8h0M96.8 410.8h0M93.5 394.3h0M89.6 409.2h0M96.4 417.1h0M114.5 406.1h0M63.6 424.8h0M116.1 381.8h0M72.5 424.5h0M87.2 439.8h0M119.3 390.5h0M138.8 391.4h0M139.5 387.7h0M71.7 437.2h0M84.0 440.5h0M103.3 387.5h0M113.1 393.6h0M49.8 425.8h0M91.4 434.7h0M92.5 403.2h0M79.8 428.3h0M80.0 417.3h0M114.4 399.2h0M85.9 403.8h0M80.7 423.3h0M68.0 413.5h0M104.0 387.6h0M81.7 438.7h0M88.0 455.4h0M95.7 400.3h0M125.3 383.2h0M141.6 380.5h0M111.3 388.9h0M84.0 448.5h0M61.1 439.4h0M85.3 420.3h0M64.1 430.0h0M62.1 416.7h0M130.9 379.4h0M98.5 409.9h0M136.5 384.6h0M82.2 415.1h0M87.8 436.4h0M83.4 415.9h0M88.9 423.4h0M91.7 428.8h0M136.9 385.2h0M67.1 420.4h0M146.7 379.6h0M92.3 430.3h0M112.9 395.0h0M62.8 438.5h0M45.6 435.1h0M58.1 421.0h0M74.2 437.2h0M66.5 427.7h0M95.3 410.2h0M140.8 377.0h0M114.1 383.9h0M119.6 378.3h0M58.1 436.8h0M82.0 457.3h0M71.4 426.2h0M82.0 457.6h0M52.7 427.8h0M104.9 394.3h0M79.1 448.7h0M144.9 391.3h0M82.3 427.1h0M139.6 383.9h0M89.6 437.0h0M48.6 428.6h0M68.9 434.2h0M92.8 426.3h0M110.3 406.1h0M91.8 403.9h0M125.4 388.9h0M68.9 417.4h0M75.2 415.3h0M125.3 377.9h0M118.5 385.0h0M88.3 416.1h0M133.1 391.9h0M114.9 394.1h0M84.2 441.4h0M80.8 437.0h0M84.3 435.6h0M91.6 395.0h0M59.5 417.1h0M95.6 438.2h0M108.2 400.6h0M130.1 382.8h0M71.7 428.5h0M87.9 402.6h0M69.2 434.5h0M85.1 421.8h0M85.7 447.0h0M65.6 438.6h0M123.2 383.9h0M79.5 435.6h0M98.0 417.6h0M49.8 432.7h0M101.1 411.6h0M88.0 439.9h0M135.9 393.4h0M84.3 417.1h0M85.2 412.8h0M135.7 392.9h0M137.1 386.8h0M66.7 431.5h0M127.7 388.5h0M95.8 397.4h0M105.8 408.0h0M89.5 423.4h0M96.8 391.0h0M103.9 389.3h0M76.2 418.3h0M86.0 426.1h0M140.6 373.9h0M70.2 427.3h0M77.6 441.8h0M134.7 378.8h0M98.7 399.7h0M113.8 410.2h0M133.6 376.5h0M129.0 377.9h0M61.8 428.7h0M52.6 433.1h0M110.8 410.1h0M92.9 417.5h0M106.8 391.0h0M83.2 414.8h0M96.1 410.2h0M70.6 423.8h0M83.8 447.2h0M92.7 417.0h0M73.8 417.1h0M69.6 414.5h0M107.2 393.6h0M95.3 427.8h0M62.9 429.6h0M95.9 395.5h0M117.6 392.8h0M78.6 421.6h0M113.9 408.9h0M104.8 393.2h0M124.2 381.6h0M106.8 386.8h0M51.7 429.1h0M91.6 452.3h0M102.2 391.5h0M129.0 384.0h0M81.3 451.8h0M60.8 426.1h0M92.5 411.2h0M117.8 403.2h0M78.2 444.7h0M73.3 430.6h0M142.8 377.0h0M90.6 407.1h0M83.5 444.5h0M121.2 393.6h0M60.2 428.0h0M80.1 421.6h0M79.4 451.5h0M135.0 383.9h0M91.0 421.1h0M114.5 409.8h0M61.3 423.5h0M82.3 417.9h0M117.4 401.9h0M76.2 450.5h0M86.1 416.9h0M54.3 426.9h0M93.6 417.8h0M118.4 384.5h0M86.2 418.7h0M84.7 416.9h0M94.0 423.6h0M122.4 377.1h0M47.7 430.5h0M98.3 417.4h0M146.4 382.1h0M117.5 379.0h0M89.2 422.6h0M87.4 432.6h0M106.3 392.4h0M68.4 438.9h0M133.7 383.5h0M87.8 427.1h0M66.4 435.8h0M63.7 438.9h0M137.8 391.5h0M58.8 420.6h0M86.0 438.8h0M130.4 381.9h0M94.4 410.3h0M89.6 421.3h0M105.6 402.0h0M48.9 430.3h0M71.1 413.7h0M84.3 440.9h0M75.4 424.6h0M104.2 393.6h0M95.9 406.8h0M66.4 429.8h0M96.2 388.2h0M101.6 410.7h0M54.3 438.7h0M90.6 425.5h0M75.8 414.2h0M140.6 391.2h0M131.8 391.1h0M143.0 378.1h0M93.2 425.8h0M82.7 419.7h0M77.4 448.3h0M86.9 428.2h0M83.5 425.9h0M79.3 423.0h0M86.9 412.5h0M51.2 432.4h0M83.2 424.6h0M94.5 418.3h0M89.6 438.9h0M125.0 393.3h0M91.8 424.4h0M96.4 403.3h0M142.4 385.1h0M90.1 433.5h0M147.4 381.0h0M79.2 454.8h0M116.7 384.7h0M138.7 376.9h0M113.3 409.0h0M132.9 380.2h0M67.7 434.6h0M79.3 429.0h0M108.7 398.7h0M104.3 392.0h0M87.0 424.0h0M87.0 419.6h0M64.1 422.9h0M87.8 456.7h0M102.4 402.8h0M102.9 393.5h0M124.9 386.8h0M90.7 394.9h0M128.9 384.7h0M85.9 435.3h0M114.7 387.4h0M51.6 438.3h0M73.6 433.2h0M108.9 395.9h0M113.9 400.8h0M95.1 431.2h0M47.7 438.3h0M81.5 435.7h0M136.1 375.9h0M96.5 428.5h0M138.8 382.3h0M114.8 404.9h0M60.9 435.3h0M89.4 447.6h0M110.9 410.2h0M134.5 379.1h0M57.8 429.2h0M117.4 395.1h0M142.1 392.9h0M94.1 420.7h0M126.7 378.2h0M69.5 419.2h0M68.6 421.3h0M111.0 396.5h0M114.7 393.7h0M68.9 432.5h0M72.6 430.4h0M91.6 403.5h0M53.0 426.0h0M121.6 392.0h0M109.4 385.6h0M83.4 443.3h0M113.8 386.7h0M70.6 418.0h0M76.2 417.5h0M77.9 449.6h0M57.4 421.5h0M56.4 419.8h0M57.0 426.8h0M125.4 378.6h0M109.4 388.9h0M67.3 428.4h0M125.1 387.1h0M83.2 429.5h0M104.6 408.7h0M59.0 429.0h0M105.0 391.2h0M132.4 387.9h0M90.5 441.1h0M89.8 404.1h0M135.8 388.0h0M101.4 406.2h0M101.9 412.2h0M73.5 412.5h0M135.4 392.1h0M125.0 381.3h0M60.7 416.2h0M143.2 377.9h0M79.9 455.7h0M148.2 384.9h0M97.4 424.9h0M56.9 425.1h0M93.6 428.7h0M59.2 423.0h0M80.5 436.7h0M90.7 427.6h0M69.2 433.1h0M95.9 409.0h0M143.9 392.4h0M107.9 387.4h0M96.3 424.9h0M53.2 423.2h0M119.0 388.7h0M135.3 389.8h0M71.0 424.9h0M141.7 375.4h0M86.7 417.1h0M94.0 433.7h0M77.1 434.4h0M72.6 440.0h0M93.9 413.7h0" stroke="#a3c2e6" stroke-opacity="0.35" stroke-width="1" stroke-linecap="round"/>
<path d="M52.0 424.0 L58.0 420.0 L66.0 418.0 L74.0 420.0 L80.0 418.0 L85.0 412.0 L88.0 396.0 L91.0 389.0 L101.0 390.0 L108.0 393.0 L111.0 400.0 L104.0 404.0 L96.0 407.0 L94.0 420.0 L94.0 440.0 L92.0 452.0 L87.0 456.0 L81.0 455.0 L77.0 447.0 L75.0 434.0 L65.0 432.0 L55.0 431.0Z" fill="#4d8acb" fill-opacity="0.5" filter="url(#bl1)"/>
<path d="M52.1 424.0V424.2M52.7 423.9V425.3M53.4 424.9V427.0M53.7 424.5V426.5M54.1 422.8V427.3M54.5 424.2V429.4M55.0 423.8V427.3M55.6 425.1V428.2M56.2 421.5V427.2M56.5 422.3V428.5M57.1 425.4V428.9M57.5 420.9V430.6M58.2 424.6V428.5M58.7 423.5V429.3M59.1 420.8V427.4M59.7 422.1V427.3M60.1 424.6V429.8M60.6 422.4V427.0M61.2 420.6V428.3M61.5 423.5V427.6M62.0 423.2V429.9M62.5 420.8V429.8M63.0 423.8V428.7M63.6 420.3V431.3M64.4 422.9V429.1M65.1 423.9V428.9M65.6 420.3V430.9M66.3 424.1V427.9M66.7 419.2V431.7M67.0 419.9V429.5M67.4 420.0V430.8M68.0 423.6V426.7M68.4 420.9V432.6M69.2 421.6V432.2M69.6 424.8V430.8M70.1 424.1V431.9M70.6 424.1V430.8M71.2 425.3V430.7M71.7 419.9V433.3M72.1 422.1V431.8M72.7 424.4V432.0M73.2 425.5V428.1M73.5 423.8V432.8M74.1 424.2V431.5M74.7 421.8V430.3M75.5 422.0V433.2M76.2 424.1V440.0M76.7 419.5V439.6M77.3 426.8V445.9M77.7 420.9V439.7M78.4 431.3V440.9M79.0 425.9V438.2M79.4 424.3V442.9M80.1 422.0V439.2M80.9 424.4V447.8M81.6 423.8V440.1M82.0 421.0V451.7M82.7 418.7V441.3M83.4 417.6V444.9M83.9 414.4V444.3M84.5 424.7V451.3M85.1 419.1V455.0M85.6 416.2V434.6M86.4 419.0V438.1M87.0 407.3V453.0M87.7 423.0V432.8M88.3 401.8V445.3M88.6 417.3V438.4M89.3 402.9V449.0M90.0 402.5V439.1M90.6 411.8V432.0M91.4 405.5V426.2M91.8 392.8V424.4M92.4 400.7V424.0M92.9 408.6V438.0M93.4 412.5V441.3M94.1 398.0V410.8M94.5 397.8V413.6M95.0 390.7V406.2M95.5 395.6V406.4M96.2 390.2V403.5M96.6 394.6V401.6M97.4 393.2V402.4M98.0 389.8V400.6M98.7 395.0V405.6M99.4 390.0V399.3M99.8 392.3V400.5M100.1 390.1V403.5M100.5 393.7V398.9M101.1 393.7V402.0M101.5 396.3V404.4M102.0 392.9V403.8M102.7 393.1V400.4M103.1 394.3V400.9M103.6 394.5V402.4M104.3 395.9V403.2M105.1 394.2V398.5M105.5 393.8V402.9M105.9 396.3V401.5M106.3 396.0V398.1M106.9 396.6V398.5M107.4 394.6V399.2M108.1 395.2V401.4M108.8 396.7V399.5M109.4 396.5V400.5M109.9 398.0V399.9M110.3 399.3V399.8M110.8 399.7V400.1" stroke="#2f71bb" stroke-opacity="0.3" stroke-width="0.9" fill="none"/>
<path d="M78.5 430.0 L82.0 426.0 L86.0 423.0 L88.5 412.0 L89.0 398.0 L91.0 393.0 L95.0 393.0 L99.0 396.0 L99.0 400.0 L94.0 404.0 L92.5 415.0 L92.5 430.0 L92.0 444.0 L90.0 451.0 L87.5 446.0 L85.5 452.0 L83.0 453.0 L80.5 447.0 L79.0 440.0Z" fill="#0b4e9d" filter="url(#bl0)"/>
<path d="M78.8 429.9V435.2M79.4 430.4V440.1M79.8 429.8V443.1M80.5 428.4V446.1M81.1 425.6V445.8M81.6 429.1V446.6M82.3 426.3V452.1M82.7 424.0V448.6M83.4 423.3V453.9M84.0 427.0V450.2M84.7 422.4V453.3M85.3 425.6V451.8M85.9 423.8V451.6M86.5 423.0V448.0M87.1 417.3V448.3M87.7 419.2V448.5M88.3 415.2V443.6M88.9 399.5V450.9M89.3 402.5V447.5M90.0 396.0V452.1M90.5 393.1V447.9M91.3 389.7V448.1M91.8 394.9V447.2M92.5 392.0V416.0M93.1 393.5V408.3M93.7 394.4V406.3M94.2 393.4V403.9M94.8 393.5V403.0M95.4 394.6V403.1M96.1 393.6V401.8M96.5 395.1V401.1M96.9 395.0V401.2M97.6 395.0V401.3M98.1 395.1V400.9M98.8 396.1V400.3" stroke="#0a4a98" stroke-opacity="0.55" stroke-width="0.8" fill="none"/>
<path d="M44.4 450.9 L44.9 448.2 L45.4 445.5 L45.9 442.7 L46.4 440.1 L46.9 437.7 L47.4 435.5 L47.9 433.6 L48.4 431.8 L48.9 430.1 L49.4 428.5 L49.9 427.2 L50.4 426 L50.9 425.1 L51.4 424.3 L51.9 423.7 L52.4 423.2 L52.9 422.8 L53.4 422.5 L53.9 422.4 L54.4 422.3 L54.9 422.2 L55.4 422.2 L55.9 422.3 L56.4 422.4 L56.9 422.6 L57.4 422.8 L57.9 423 L58.4 423.3 L58.9 423.6 L59.4 423.9 L59.9 424.2 L60.4 424.6 L60.9 424.9 L61.4 425.2 L61.9 425.6 L62.4 425.9 L62.9 426.3 L63.4 426.7 L63.9 427.1 L64.4 427.5 L64.9 427.9 L65.4 428.3 L65.9 428.8 L66.4 429.2 L66.9 429.6 L67.4 430.1 L67.9 430.5 L68.4 430.9 L68.9 431.2 L69.4 431.6 L69.9 431.9 L70.3 432.2 L70.8 432.4 L71.3 432.7 L71.8 432.9 L72.3 433.1 L72.8 433.3 L73.3 433.4 L73.8 433.6 L74.3 433.7 L74.8 433.8 L75.3 433.9 L75.8 433.9 L76.3 433.9 L76.8 433.9 L77.3 433.8 L77.8 433.7 L78.3 433.6 L78.8 433.5 L79.3 433.2 L79.8 433 L80.3 432.7 L80.8 432.4 L81.3 432.1 L81.8 431.7 L82.3 431.3 L82.8 430.9 L83.3 430.4 L83.8 429.9 L84.3 429.4 L84.8 428.9 L85.3 428.3 L85.8 427.7 L86.3 427 L86.8 426.4 L87.3 425.6 L87.8 424.8 L88.3 424 L88.8 423.1 L89.3 422.1 L89.8 421.2 L90.3 420.2 L90.8 419.2 L91.3 418.2 L91.8 417.2 L92.3 416.1 L92.8 415.2 L93.3 414.2 L93.8 413.2 L94.3 412.2 L94.8 411.2 L95.3 410.2 L95.8 409.2 L96.3 408.2 L96.8 407.2 L97.3 406.1 L97.8 405.1 L98.3 404.2 L98.8 403.2 L99.3 402.3 L99.8 401.4 L100.3 400.5 L100.8 399.6 L101.3 398.8 L101.8 398 L102.3 397.2 L102.8 396.4 L103.3 395.6 L103.8 394.9 L104.3 394.1 L104.8 393.4 L105.3 392.7 L105.8 392 L106.3 391.4 L106.8 390.7 L107.3 390.1 L107.8 389.5 L108.3 389 L108.8 388.5 L109.3 388.1 L109.8 387.7 L110.3 387.3 L110.8 386.9 L111.3 386.5 L111.8 386.1 L112.3 385.7 L112.8 385.3 L113.3 385 L113.8 384.6 L114.3 384.3 L114.8 384 L115.3 383.7 L115.8 383.4 L116.3 383.1 L116.8 382.9 L117.3 382.7 L117.8 382.4 L118.3 382.2 L118.8 382.1 L119.3 382 L119.8 381.9 L120.3 381.8 L120.8 381.8 L121.3 381.8 L121.8 381.8 L122.2 382 L122.7 382.1 L123.2 382.3 L123.7 382.4 L124.2 382.6 L124.7 382.8 L125.2 383 L125.7 383.1 L126.2 383.3 L126.7 383.5 L127.2 383.7 L127.7 383.9 L128.2 384.1 L128.7 384.3 L129.2 384.5 L129.7 384.7 L130.2 384.9 L130.7 385.1 L131.2 385.3 L131.7 385.5 L132.2 385.6 L132.7 385.7 L133.2 385.8 L133.7 385.8 L134.2 385.8 L134.7 385.8 L135.2 385.7 L135.7 385.6 L136.2 385.5 L136.7 385.4 L137.2 385.3 L137.7 385.1 L138.2 384.9 L138.7 384.6 L139.2 384.1 L139.7 383.7 L140.2 383.1 L140.7 382.5 L141.2 381.9 L141.7 381.1 L142.2 380.2 L142.7 379.1 L143.2 377.8 L143.7 376.4 L144.2 374.9 L144.7 373.2 L145.2 371.3 L145.7 369.2 L146.2 366.7 L146.7 363.8 L147.2 360.4 L147.7 356.9 L147.7 368.9 L147.2 372 L146.7 375.1 L146.2 377.6 L145.7 379.7 L145.2 381.5 L144.7 383.1 L144.2 384.7 L143.7 386 L143.2 387.2 L142.7 388.3 L142.2 389.3 L141.7 390.2 L141.2 391 L140.7 391.8 L140.2 392.5 L139.7 393.1 L139.2 393.6 L138.7 394.2 L138.2 394.6 L137.7 394.9 L137.2 395.2 L136.7 395.3 L136.2 395.4 L135.7 395.4 L135.2 395.3 L134.7 395.2 L134.2 395 L133.7 394.9 L133.2 394.7 L132.7 394.4 L132.2 394.1 L131.7 393.8 L131.2 393.4 L130.7 393.1 L130.2 392.7 L129.7 392.3 L129.2 391.9 L128.7 391.6 L128.2 391.2 L127.7 390.7 L127.2 390.3 L126.7 389.8 L126.2 389.4 L125.7 389 L125.2 388.6 L124.7 388.2 L124.2 387.7 L123.7 387.3 L123.2 386.9 L122.7 386.5 L122.2 386.1 L121.8 385.7 L121.3 385.4 L120.8 385.1 L120.3 384.9 L119.8 384.8 L119.3 384.8 L118.8 384.9 L118.3 384.9 L117.8 385 L117.3 385.2 L116.8 385.3 L116.3 385.5 L115.8 385.7 L115.3 385.8 L114.8 386 L114.3 386.3 L113.8 386.5 L113.3 386.8 L112.8 387.1 L112.3 387.4 L111.8 387.7 L111.3 388.1 L110.8 388.5 L110.3 388.9 L109.8 389.3 L109.3 389.7 L108.8 390.1 L108.3 390.6 L107.8 391.1 L107.3 391.7 L106.8 392.3 L106.3 393 L105.8 393.6 L105.3 394.3 L104.8 395 L104.3 395.7 L103.8 396.5 L103.3 397.2 L102.8 398 L102.3 398.8 L101.8 399.6 L101.3 400.4 L100.8 401.2 L100.3 402.1 L99.8 403 L99.3 403.9 L98.8 404.8 L98.3 405.8 L97.8 406.7 L97.3 407.7 L96.8 408.8 L96.3 409.8 L95.8 410.8 L95.3 411.8 L94.8 412.8 L94.3 413.8 L93.8 414.8 L93.3 415.8 L92.8 416.8 L92.3 417.7 L91.8 418.8 L91.3 419.8 L90.8 420.8 L90.3 421.8 L89.8 422.8 L89.3 423.7 L88.8 424.7 L88.3 425.6 L87.8 426.4 L87.3 427.2 L86.8 428 L86.3 428.6 L85.8 429.3 L85.3 429.9 L84.8 430.5 L84.3 431 L83.8 431.5 L83.3 432 L82.8 432.5 L82.3 432.9 L81.8 433.3 L81.3 433.7 L80.8 434 L80.3 434.3 L79.8 434.6 L79.3 434.8 L78.8 435.1 L78.3 435.2 L77.8 435.3 L77.3 435.4 L76.8 435.5 L76.3 435.5 L75.8 435.5 L75.3 435.5 L74.8 435.4 L74.3 435.3 L73.8 435.2 L73.3 435 L72.8 434.9 L72.3 434.7 L71.8 434.5 L71.3 434.3 L70.8 434 L70.3 433.8 L69.9 433.5 L69.4 433.2 L68.9 432.8 L68.4 432.5 L67.9 432.1 L67.4 431.7 L66.9 431.2 L66.4 430.8 L65.9 430.4 L65.4 429.9 L64.9 429.5 L64.4 429.1 L63.9 428.7 L63.4 428.3 L62.9 427.9 L62.4 427.5 L61.9 427.2 L61.4 426.8 L60.9 426.5 L60.4 426.2 L59.9 425.8 L59.4 425.5 L58.9 425.2 L58.4 424.9 L57.9 424.7 L57.4 424.5 L56.9 424.3 L56.4 424.1 L55.9 424 L55.4 424 L54.9 424 L54.4 424.1 L53.9 424.2 L53.4 424.4 L52.9 424.7 L52.4 425.1 L51.9 425.6 L51.4 426.3 L50.9 427 L50.4 428 L49.9 429.3 L49.4 430.8 L48.9 432.6 L48.4 434.6 L47.9 436.7 L47.4 438.9 L46.9 441.2 L46.4 443.9 L45.9 446.8 L45.4 449.8 L44.9 452.8 L44.4 455.7 Z" fill="#fbc386" fill-opacity="0.45"/>
<path d="M39.5 426.4H154" stroke="#adadad" stroke-width="0.8"/>
<path d="M44.4 453.3 L44.9 450.5 L45.4 447.6 L45.9 444.8 L46.4 442 L46.9 439.4 L47.4 437.2 L47.9 435.1 L48.4 433.2 L48.9 431.3 L49.4 429.7 L49.9 428.2 L50.4 427 L50.9 426.1 L51.4 425.3 L51.9 424.7 L52.4 424.1 L52.9 423.8 L53.4 423.5 L53.9 423.3 L54.4 423.2 L54.9 423.1 L55.4 423.1 L55.9 423.2 L56.4 423.3 L56.9 423.4 L57.4 423.6 L57.9 423.8 L58.4 424.1 L58.9 424.4 L59.4 424.7 L59.9 425 L60.4 425.4 L60.9 425.7 L61.4 426 L61.9 426.4 L62.4 426.7 L62.9 427.1 L63.4 427.5 L63.9 427.9 L64.4 428.3 L64.9 428.7 L65.4 429.1 L65.9 429.6 L66.4 430 L66.9 430.4 L67.4 430.9 L67.9 431.3 L68.4 431.7 L68.9 432 L69.4 432.4 L69.9 432.7 L70.3 433 L70.8 433.2 L71.3 433.5 L71.8 433.7 L72.3 433.9 L72.8 434.1 L73.3 434.2 L73.8 434.4 L74.3 434.5 L74.8 434.6 L75.3 434.7 L75.8 434.7 L76.3 434.7 L76.8 434.7 L77.3 434.6 L77.8 434.5 L78.3 434.4 L78.8 434.3 L79.3 434 L79.8 433.8 L80.3 433.5 L80.8 433.2 L81.3 432.9 L81.8 432.5 L82.3 432.1 L82.8 431.7 L83.3 431.2 L83.8 430.7 L84.3 430.2 L84.8 429.7 L85.3 429.1 L85.8 428.5 L86.3 427.8 L86.8 427.2 L87.3 426.4 L87.8 425.6 L88.3 424.8 L88.8 423.9 L89.3 422.9 L89.8 422 L90.3 421 L90.8 420 L91.3 419 L91.8 418 L92.3 416.9 L92.8 416 L93.3 415 L93.8 414 L94.3 413 L94.8 412 L95.3 411 L95.8 410 L96.3 409 L96.8 408 L97.3 406.9 L97.8 405.9 L98.3 405 L98.8 404 L99.3 403.1 L99.8 402.2 L100.3 401.3 L100.8 400.4 L101.3 399.6 L101.8 398.8 L102.3 398 L102.8 397.2 L103.3 396.4 L103.8 395.7 L104.3 394.9 L104.8 394.2 L105.3 393.5 L105.8 392.8 L106.3 392.2 L106.8 391.5 L107.3 390.9 L107.8 390.3 L108.3 389.8 L108.8 389.3 L109.3 388.9 L109.8 388.5 L110.3 388.1 L110.8 387.7 L111.3 387.3 L111.8 386.9 L112.3 386.5 L112.8 386.2 L113.3 385.9 L113.8 385.6 L114.3 385.3 L114.8 385 L115.3 384.8 L115.8 384.5 L116.3 384.3 L116.8 384.1 L117.3 383.9 L117.8 383.7 L118.3 383.6 L118.8 383.5 L119.3 383.4 L119.8 383.4 L120.3 383.4 L120.8 383.5 L121.3 383.6 L121.8 383.8 L122.2 384 L122.7 384.3 L123.2 384.6 L123.7 384.9 L124.2 385.2 L124.7 385.5 L125.2 385.8 L125.7 386.1 L126.2 386.4 L126.7 386.7 L127.2 387 L127.7 387.3 L128.2 387.6 L128.7 387.9 L129.2 388.2 L129.7 388.5 L130.2 388.8 L130.7 389.1 L131.2 389.4 L131.7 389.6 L132.2 389.9 L132.7 390.1 L133.2 390.2 L133.7 390.4 L134.2 390.4 L134.7 390.5 L135.2 390.5 L135.7 390.5 L136.2 390.4 L136.7 390.4 L137.2 390.2 L137.7 390 L138.2 389.7 L138.7 389.4 L139.2 388.9 L139.7 388.4 L140.2 387.8 L140.7 387.2 L141.2 386.4 L141.7 385.6 L142.2 384.7 L142.7 383.7 L143.2 382.5 L143.7 381.2 L144.2 379.8 L144.7 378.2 L145.2 376.4 L145.7 374.4 L146.2 372.2 L146.7 369.5 L147.2 366.2 L147.7 362.9" fill="none" stroke="#fb8c0c" stroke-width="1.2" stroke-dasharray="3 1.5"/>
</g>
<rect x="41.7" y="364.8" width="78.7" height="30.8" rx="1.5" fill="#fff" fill-opacity="0.85" stroke="#d6d6d6" stroke-width="0.6"/>
<circle cx="47.1" cy="367.5" r="1.25" fill="#7b9bd8"/>
<rect x="42.7" y="371.6" width="8.2" height="2.8" fill="#fcdcb8"/>
<path d="M42.7 385.2h8.2" stroke="#fb8c0c" stroke-width="1.1" stroke-dasharray="3.6 1.4"/>
<text transform="translate(54.1 369) scale(0.1)" font-size="39.5" font-weight="bold" fill="#3a3a3a">Sample</text>
<text transform="translate(54.1 374.4) scale(0.1)" font-size="39.5" font-weight="bold" fill="#3a3a3a">95% Confidence interval</text>
<text transform="translate(54.1 380.2) scale(0.1)" font-size="39.5" font-weight="bold" fill="#3a3a3a">Fitted curve (R-square: 0.76):</text>
<text transform="translate(54.1 386.6) scale(0.1)" font-size="39.5" font-weight="bold" fill="#3a3a3a">y = 7.8e-08X<tspan dy="-14" font-size="27.7">5</tspan><tspan dy="14"> </tspan> -1.2e-06X<tspan dy="-14" font-size="27.7">4</tspan><tspan dy="14"> </tspan> -8.4e-05X<tspan dy="-14" font-size="27.7">3</tspan><tspan dy="14"> </tspan></text>
<text transform="translate(60.5 392.7) scale(0.1)" font-size="39.5" font-weight="bold" fill="#3a3a3a">+0.000913X<tspan dy="-14" font-size="27.7">2</tspan><tspan dy="14"> </tspan> +0.021X +0.062</text>
<path d="M70 494 L70 494 L71.2 494 L71.2 493.9 L72.4 493.9 L72.4 493.8 L73.6 493.8 L73.6 493.8 L74.8 493.8 L74.8 493.3 L76 493.3 L76 493 L77.2 493 L77.2 492.6 L78.4 492.6 L78.4 491.9 L79.6 491.9 L79.6 490.5 L80.8 490.5 L80.8 488.8 L82 488.8 L82 487.3 L83.2 487.3 L83.2 484.7 L84.4 484.7 L84.4 482.3 L85.6 482.3 L85.6 480.1 L86.8 480.1 L86.8 478.5 L88 478.5 L88 477.2 L89.2 477.2 L89.2 469.4 L90.4 469.4 L90.4 468.8 L91.6 468.8 L91.6 490.5 L92.8 490.5 L92.8 491.3 L94 491.3 L94 492.3 L95.2 492.3 L95.2 492.9 L96.4 492.9 L96.4 493.2 L97.6 493.2 L97.6 493.4 L98.8 493.4 L98.8 493.7 L100 493.7 L100 494 L101.2 494 L100.7 494 Z" fill="url(#hpat)"/>
<rect x="39.5" y="362.5" width="114.5" height="131.5" fill="none" stroke="#7a7a7a" stroke-width="0.9"/>
<path d="M39.5 467.5H154" stroke="#7a7a7a" stroke-width="0.9"/>
<text x="37.2" y="370.6" font-size="6" text-anchor="end" font-weight="bold" fill="#2a2a2a">0.6</text>
<text x="37.2" y="389.9" font-size="6" text-anchor="end" font-weight="bold" fill="#2a2a2a">0.4</text>
<text x="37.2" y="409.2" font-size="6" text-anchor="end" font-weight="bold" fill="#2a2a2a">0.2</text>
<text x="37.2" y="428.5" font-size="6" text-anchor="end" font-weight="bold" fill="#2a2a2a">0.0</text>
<text x="37.2" y="447.8" font-size="6" text-anchor="end" font-weight="bold" fill="#2a2a2a">-0.2</text>
<text x="37.2" y="467.1" font-size="6" text-anchor="end" font-weight="bold" fill="#2a2a2a">-0.4</text>
<text x="57.3" y="501" font-size="6" text-anchor="middle" font-weight="bold" fill="#2a2a2a">-20</text>
<text x="91" y="501" font-size="6" text-anchor="middle" font-weight="bold" fill="#2a2a2a">0</text>
<text x="124.7" y="501" font-size="6" text-anchor="middle" font-weight="bold" fill="#2a2a2a">20</text>
<text x="96.8" y="511.2" font-size="8.8" text-anchor="middle" font-weight="bold" fill="#111">GDP_PA (Million dollars/km<tspan font-size="7.4" dy="-3.4">2</tspan><tspan dy="3.4">)</tspan></text>
<text x="20" y="428.2" font-size="8.8" text-anchor="middle" font-weight="bold" fill="#111" transform="rotate(-90 20 428.2)">Effect on Mig_R (%)</text>
<text x="35.3" y="480.8" font-size="8.8" text-anchor="middle" font-weight="bold" fill="#111" transform="rotate(-90 35.3 480.8)">Dist.</text>
<path d="M212.6 362.5V494M241.4 362.5V494M270.2 362.5V494M299 362.5V494M210.5 380H325M210.5 401.2H325M210.5 443.6H325M210.5 464.8H325M210.5 480.8H325" stroke="#ececec" stroke-width="0.6" fill="none"/>
<g clip-path="url(#c_NTL_PA)">
<path d="M215.5 413.9 L222.5 405.1 L233.1 403.3 L247.1 408.6 L255.9 392.8 L269.9 387.5 L282.2 394.6 L291.0 387.5 L301.5 385.8 L312.0 394.6 L319.0 408.6 L317.3 422.6 L303.2 415.6 L285.7 412.1 L275.2 436.7 L266.4 456.0 L254.1 454.2 L247.1 443.7 L233.1 431.4 L222.5 427.9 L215.5 422.6Z" fill="#dde9f6" fill-opacity="0.5" filter="url(#bl2)"/>
<path d="M246.8 411.0h0M269.0 418.3h0M256.9 436.3h0M246.0 417.7h0M273.7 435.0h0M221.4 423.9h0M226.0 415.4h0M234.2 408.0h0M254.6 429.8h0M315.3 421.3h0M298.3 399.3h0M222.6 419.7h0M252.4 449.2h0M290.7 395.5h0M234.3 411.3h0M282.5 417.4h0M285.5 403.4h0M265.1 402.3h0M260.0 406.4h0M265.9 439.7h0M247.6 416.1h0M278.7 399.0h0M261.5 443.9h0M303.4 401.0h0M283.2 401.8h0M269.3 418.0h0M259.5 431.4h0M260.8 453.2h0M295.3 392.0h0M264.7 426.5h0M222.7 425.5h0M313.5 409.8h0M260.7 447.0h0M236.3 427.1h0M316.3 420.5h0M296.2 400.7h0M299.7 387.2h0M241.0 409.2h0M306.4 399.6h0M268.7 448.4h0M307.7 401.4h0M311.9 410.8h0M260.8 400.8h0M304.1 413.4h0M266.7 449.8h0M268.4 426.3h0M247.1 417.0h0M294.3 408.2h0M265.7 430.4h0M267.8 394.3h0M258.8 399.1h0M240.4 426.7h0M251.8 440.7h0M259.5 398.7h0M269.0 406.7h0M263.3 392.6h0M276.2 412.7h0M223.8 426.4h0M232.5 404.2h0M252.6 423.4h0M284.3 395.5h0M303.2 408.2h0M256.7 414.4h0M224.3 423.1h0M264.8 442.5h0M240.9 414.4h0M235.0 422.8h0M275.9 434.6h0M253.7 421.1h0M293.3 400.1h0M250.0 442.7h0M248.8 408.8h0M247.6 443.4h0M313.4 402.7h0M272.3 420.9h0M261.0 435.6h0M262.6 408.0h0M269.0 408.6h0M282.5 407.8h0M216.6 422.0h0M222.4 424.8h0M247.2 419.1h0M242.8 434.2h0M223.3 408.5h0M316.1 403.2h0M278.1 419.7h0M222.2 426.7h0M294.7 411.1h0M222.9 411.8h0M241.8 415.5h0M251.3 441.6h0M273.9 394.4h0M267.3 423.2h0M310.1 412.8h0M253.9 433.9h0M277.0 424.3h0M312.0 412.7h0M317.1 413.6h0M274.1 412.0h0M237.5 405.4h0M304.5 406.5h0M235.5 428.5h0M271.9 442.0h0M290.5 412.6h0M263.6 435.3h0M297.1 395.5h0M272.0 427.6h0M261.9 398.4h0M256.3 417.2h0M256.5 436.4h0M226.9 412.6h0M294.4 412.4h0M260.5 439.5h0M220.3 419.6h0M285.6 397.1h0M278.7 425.5h0M270.2 440.1h0M223.0 411.8h0M283.6 403.0h0M264.9 425.5h0M226.1 407.4h0M304.6 389.4h0M272.9 429.6h0M224.2 423.3h0M273.6 407.1h0M254.9 406.8h0M261.8 433.2h0M295.8 402.3h0M287.9 391.6h0M300.1 400.8h0M270.9 436.3h0M241.5 412.7h0M251.2 426.0h0M276.7 416.4h0M259.6 404.7h0M273.3 406.0h0M252.4 402.9h0M236.8 418.1h0M235.5 407.2h0M246.4 428.8h0M238.6 425.7h0M244.0 408.2h0M271.4 417.3h0M280.1 403.6h0M227.4 417.8h0M227.5 427.9h0M275.4 401.1h0M231.5 412.8h0M312.5 400.7h0M232.0 430.7h0M283.0 409.3h0M237.6 424.2h0M246.7 432.8h0M266.0 397.3h0M250.3 433.0h0M260.5 445.1h0M263.5 455.3h0M275.0 417.5h0M257.2 398.6h0M258.2 427.4h0M268.6 436.3h0M265.1 428.6h0M268.1 445.8h0M222.7 422.0h0M312.9 410.7h0M245.2 438.8h0M313.0 397.1h0M217.2 412.5h0M301.1 390.0h0M274.9 431.2h0M270.1 424.4h0M249.5 443.5h0M236.2 430.2h0M270.5 392.8h0M315.3 405.4h0M233.9 416.7h0M267.5 397.5h0M269.6 403.3h0M235.1 415.7h0M278.5 423.7h0M250.3 404.0h0M315.4 405.2h0M265.5 399.6h0M316.4 418.8h0M273.4 431.8h0M278.1 423.3h0M278.7 421.3h0M245.9 408.4h0M268.1 406.3h0M229.8 414.5h0M241.0 421.5h0M305.8 408.7h0M264.5 430.0h0M272.1 400.7h0M271.7 402.5h0M288.8 404.0h0M255.1 427.4h0M217.5 416.0h0M257.3 426.8h0M293.7 399.6h0M240.2 417.5h0M246.1 424.3h0M248.0 420.5h0M261.6 391.3h0M276.5 413.4h0M285.7 401.1h0M232.1 410.8h0M232.1 411.6h0M256.4 431.8h0M244.3 425.8h0M294.5 412.9h0M295.2 403.0h0M290.6 403.1h0M302.9 413.4h0M260.2 402.3h0M309.5 406.6h0M271.9 427.9h0M269.9 437.0h0M221.6 424.6h0M268.6 419.9h0M289.9 406.0h0M243.1 409.9h0M274.9 416.1h0M271.0 409.4h0M279.0 393.3h0M249.8 436.6h0M266.0 438.1h0M274.6 424.0h0M270.7 435.1h0M230.8 424.6h0M264.5 450.0h0M300.1 403.6h0M271.7 392.4h0M301.1 414.6h0M263.5 424.1h0M266.4 410.9h0M238.7 432.7h0M251.5 418.3h0M257.0 409.6h0M240.1 426.0h0M297.0 406.7h0M300.3 399.3h0M310.0 417.0h0M281.0 396.6h0M220.2 417.1h0M253.9 440.8h0M289.7 398.9h0M265.9 397.7h0M262.4 415.8h0M250.1 415.3h0M277.9 393.2h0M297.3 398.5h0M226.1 410.8h0M270.5 436.9h0M275.8 413.1h0M309.6 395.4h0M262.6 446.7h0M310.8 419.0h0M222.6 418.6h0M268.0 452.3h0M297.8 395.1h0M281.3 394.9h0M238.4 418.8h0M289.4 410.9h0M247.3 415.6h0M232.5 415.1h0M301.7 412.6h0M274.3 416.7h0M315.5 413.7h0M275.7 401.4h0M272.9 414.2h0M308.5 417.4h0M274.8 429.3h0M274.5 436.3h0M262.3 455.3h0M251.1 414.7h0M219.6 421.0h0M294.3 408.5h0M281.0 404.2h0M275.1 411.3h0M290.7 394.2h0M299.8 403.0h0M288.5 396.2h0M220.7 417.0h0M318.0 415.9h0M236.4 423.4h0M267.4 418.9h0M267.1 448.2h0M280.0 393.8h0M249.9 414.5h0M245.8 412.3h0M266.4 415.9h0M286.2 392.6h0M223.1 415.7h0M236.4 407.0h0M268.7 430.2h0M241.7 426.4h0M259.0 438.3h0M261.3 397.4h0M228.0 417.5h0M311.7 410.0h0M241.5 436.5h0M273.9 432.8h0M266.8 445.1h0M306.4 407.4h0M258.3 436.1h0M266.5 404.6h0M276.1 411.3h0M275.1 390.9h0M232.2 418.6h0M288.4 391.3h0M220.4 417.5h0M265.1 422.7h0M260.7 428.1h0M231.3 424.0h0M252.3 401.9h0M243.3 435.5h0M238.0 423.3h0M234.2 409.5h0M317.3 406.7h0M248.0 435.3h0M262.6 409.9h0M220.6 418.3h0M282.5 412.2h0M287.9 391.5h0M233.5 409.3h0M308.8 398.2h0M219.7 418.3h0M246.4 418.0h0M231.0 404.9h0M268.0 399.0h0M308.0 397.0h0M225.0 427.7h0M253.1 412.4h0M241.4 433.6h0M273.6 390.5h0M272.0 415.3h0M228.0 412.2h0M301.6 399.3h0M292.3 399.6h0M275.2 420.1h0M318.1 409.8h0M268.8 434.8h0M252.9 440.7h0M249.2 427.8h0M310.0 401.7h0M306.3 406.0h0M280.6 408.6h0M273.7 419.4h0M304.1 414.6h0M234.1 409.2h0M313.5 402.6h0M264.2 427.4h0M216.3 422.7h0M234.5 410.2h0M282.8 397.7h0M260.9 445.3h0M257.2 454.4h0M254.0 445.0h0M289.6 393.3h0M272.9 398.8h0M273.7 394.6h0M267.8 403.2h0M302.2 393.9h0M255.8 425.3h0M277.2 397.2h0M256.9 423.1h0M251.9 442.0h0M268.0 432.9h0M267.5 441.7h0M278.3 423.6h0M272.8 417.8h0M265.1 439.7h0M275.1 424.9h0M279.2 395.4h0M238.1 423.0h0M247.3 440.2h0M293.3 395.0h0M291.0 397.3h0M259.2 391.8h0M236.3 431.6h0M313.9 418.5h0M247.9 442.5h0M291.3 402.5h0M304.1 414.3h0M286.8 402.0h0M272.9 437.3h0M277.7 408.7h0M261.0 397.6h0M262.5 406.7h0M264.9 391.9h0M305.8 397.9h0M313.6 419.0h0M262.2 412.4h0M265.2 429.1h0M259.5 450.1h0M259.8 393.0h0M257.3 434.3h0M266.8 451.3h0M296.8 386.6h0M249.3 410.1h0M260.6 444.1h0M255.2 435.6h0M307.7 416.2h0M299.5 402.3h0M277.6 402.3h0M238.0 425.4h0M251.1 434.5h0M312.0 394.7h0M253.3 437.6h0M279.6 402.0h0M276.6 407.7h0M267.6 407.1h0M296.8 405.5h0M273.3 427.4h0M300.7 403.7h0M300.9 404.9h0M306.3 404.7h0M257.9 440.7h0M235.5 430.9h0M259.9 403.2h0M235.2 409.4h0M266.0 443.7h0M267.5 446.3h0M275.2 434.7h0M220.5 424.6h0M259.3 452.1h0M270.9 389.5h0M266.7 451.8h0M257.1 436.6h0M296.5 412.8h0M266.0 404.0h0M266.8 447.1h0M232.2 410.3h0M298.0 406.1h0" stroke="#a3c2e6" stroke-opacity="0.35" stroke-width="1" stroke-linecap="round"/>
<path d="M252.4 415.6 L256.7 394.6 L259.4 396.3 L262.9 406.8 L264.6 392.8 L269.9 389.3 L276.9 394.6 L277.8 408.6 L272.5 422.6 L268.1 443.7 L262.9 450.7 L257.6 448.9 L253.2 443.7 L251.5 429.6Z" fill="#4d8acb" fill-opacity="0.5" filter="url(#bl1)"/>
<path d="M252.0 426.7V429.9M252.4 417.8V433.3M252.9 416.3V433.8M253.5 412.2V435.1M254.0 421.5V436.8M254.7 422.7V442.8M255.2 414.2V444.9M255.9 399.6V442.8M256.3 412.8V439.9M256.8 410.4V447.0M257.5 409.8V425.0M257.9 417.6V433.4M258.3 402.2V439.7M258.8 413.6V446.2M259.5 407.0V432.2M260.1 403.4V445.3M260.8 417.8V447.8M261.6 407.8V432.3M262.2 411.1V436.1M262.8 409.8V442.6M263.1 412.1V435.1M263.6 411.4V432.5M264.1 399.7V445.3M264.8 399.3V440.5M265.2 411.1V443.8M265.7 408.1V424.9M266.4 393.2V430.1M266.9 395.9V424.6M267.6 408.1V443.5M268.2 411.3V434.9M268.9 407.0V419.2M269.6 389.9V433.8M270.3 393.1V424.0M270.8 404.2V429.8M271.3 403.7V420.1M271.6 405.0V421.5M272.1 405.2V413.1M272.7 404.6V413.5M273.3 395.5V417.7M273.9 394.9V414.3M274.6 398.9V408.5M275.0 400.7V406.7M275.5 394.8V405.6M276.2 398.6V411.8M276.7 401.7V404.0M277.3 400.9V406.6M277.6 406.9V407.8" stroke="#2f71bb" stroke-opacity="0.3" stroke-width="0.9" fill="none"/>
<path d="M255.0 413.9 L257.6 410.4 L260.2 412.1 L261.1 427.9 L258.5 440.2 L255.9 441.9 L254.1 431.4ZM266.4 396.3 L269.9 392.8 L274.3 396.3 L274.3 410.4 L269.9 422.6 L266.4 436.7 L263.8 443.7 L262.0 436.7 L263.8 419.1 L264.6 405.1Z" fill="#0b4e9d" filter="url(#bl0)"/>
<path d="M254.2 430.0V431.7M254.7 419.0V433.8M255.1 413.0V438.4M255.7 414.9V436.9M256.4 411.1V442.9M257.1 409.9V442.4M257.9 411.5V436.1M258.7 409.8V440.2M259.2 410.0V436.3M259.6 412.2V434.5M260.4 414.3V431.1M260.7 421.3V428.6M262.4 432.3V438.3M263.2 424.7V440.5M263.6 423.4V443.9M264.3 413.7V442.4M264.9 407.7V440.5M265.3 404.6V437.6M265.9 403.5V432.6M266.7 400.2V433.1M267.3 399.3V429.0M267.7 394.8V428.0M268.5 399.0V428.2M269.3 397.3V423.1M269.6 393.7V425.5M270.1 393.6V423.1M270.8 396.5V420.5M271.3 396.1V419.3M271.9 395.9V415.0M272.7 394.1V412.6M273.5 396.2V412.0M274.3 395.8V408.4" stroke="#0a4a98" stroke-opacity="0.55" stroke-width="0.8" fill="none"/>
<path d="M215.1 431.4 L215.6 429.2 L216.1 426.8 L216.6 424.4 L217.1 422.1 L217.6 420 L218.1 418.1 L218.6 416.5 L219.1 415.1 L219.6 413.8 L220.1 412.6 L220.6 411.5 L221.1 410.5 L221.6 409.6 L222.1 408.8 L222.6 407.9 L223.1 407 L223.6 406.3 L224.1 405.7 L224.6 405.2 L225.1 404.8 L225.6 404.4 L226.1 404.2 L226.6 404.1 L227.1 404 L227.6 404 L228.1 404.1 L228.5 404.3 L229 404.5 L229.5 404.7 L230 405 L230.5 405.3 L231 405.6 L231.5 406 L232 406.4 L232.5 406.9 L233 407.3 L233.5 407.8 L234 408.4 L234.5 408.9 L235 409.5 L235.5 410.1 L236 410.8 L236.5 411.5 L237 412.2 L237.5 413 L238 413.7 L238.5 414.5 L239 415.2 L239.5 416 L240 416.8 L240.5 417.5 L241 418.2 L241.5 418.9 L242 419.5 L242.5 420.2 L243 420.7 L243.5 421.3 L244 421.8 L244.5 422.3 L245 422.8 L245.5 423.3 L246 423.8 L246.5 424.2 L247 424.7 L247.5 425.1 L248 425.5 L248.5 425.9 L249 426.2 L249.5 426.6 L250 426.9 L250.5 427.2 L251 427.5 L251.5 427.7 L252 428 L252.5 428.2 L253 428.3 L253.5 428.4 L254 428.5 L254.4 428.5 L254.9 428.5 L255.4 428.5 L255.9 428.4 L256.4 428.3 L256.9 428.2 L257.4 428 L257.9 427.9 L258.4 427.7 L258.9 427.5 L259.4 427.4 L259.9 427.1 L260.4 426.9 L260.9 426.6 L261.4 426.3 L261.9 426 L262.4 425.7 L262.9 425.4 L263.4 425 L263.9 424.6 L264.4 424.1 L264.9 423.7 L265.4 423.2 L265.9 422.7 L266.4 422.1 L266.9 421.5 L267.4 420.9 L267.9 420.3 L268.4 419.6 L268.9 418.9 L269.4 418.2 L269.9 417.5 L270.4 416.8 L270.9 416 L271.4 415.3 L271.9 414.6 L272.4 413.9 L272.9 413.2 L273.4 412.4 L273.9 411.7 L274.4 410.9 L274.9 410.1 L275.4 409.4 L275.9 408.6 L276.4 407.8 L276.9 407.1 L277.4 406.3 L277.9 405.6 L278.4 404.9 L278.9 404.2 L279.4 403.5 L279.9 402.9 L280.3 402.2 L280.8 401.5 L281.3 400.8 L281.8 400.2 L282.3 399.5 L282.8 398.8 L283.3 398.2 L283.8 397.6 L284.3 396.9 L284.8 396.3 L285.3 395.7 L285.8 395.1 L286.3 394.6 L286.8 394.1 L287.3 393.5 L287.8 393 L288.3 392.6 L288.8 392.1 L289.3 391.7 L289.8 391.3 L290.3 391 L290.8 390.6 L291.3 390.3 L291.8 390 L292.3 389.8 L292.8 389.6 L293.3 389.4 L293.8 389.3 L294.3 389.2 L294.8 389.2 L295.3 389.2 L295.8 389.2 L296.3 389.2 L296.8 389.3 L297.3 389.5 L297.8 389.6 L298.3 389.8 L298.8 390.1 L299.3 390.3 L299.8 390.6 L300.3 390.9 L300.8 391.2 L301.3 391.6 L301.8 391.9 L302.3 392.4 L302.8 392.8 L303.3 393.4 L303.8 393.9 L304.3 394.5 L304.8 395.1 L305.3 395.8 L305.8 396.4 L306.2 397.1 L306.7 397.7 L307.2 398.2 L307.7 398.8 L308.2 399.4 L308.7 400 L309.2 400.6 L309.7 401.2 L310.2 401.8 L310.7 402.4 L311.2 403 L311.7 403.7 L312.2 404.3 L312.7 405 L313.2 405.6 L313.7 406.3 L314.2 407 L314.7 407.7 L315.2 408.5 L315.7 409.3 L316.2 410.2 L316.7 411.2 L317.2 412.2 L317.7 413.2 L318.2 414.2 L318.7 415.1 L319.2 416.1 L319.2 430.1 L318.7 428.7 L318.2 427.3 L317.7 425.9 L317.2 424.5 L316.7 423.1 L316.2 421.7 L315.7 420.4 L315.2 419.2 L314.7 418 L314.2 416.8 L313.7 415.7 L313.2 414.6 L312.7 413.6 L312.2 412.5 L311.7 411.5 L311.2 410.5 L310.7 409.6 L310.2 408.6 L309.7 407.7 L309.2 406.7 L308.7 405.8 L308.2 404.9 L307.7 404 L307.2 403.1 L306.7 402.1 L306.2 401.2 L305.8 400.3 L305.3 399.5 L304.8 398.7 L304.3 397.9 L303.8 397.2 L303.3 396.4 L302.8 395.8 L302.3 395.1 L301.8 394.5 L301.3 394 L300.8 393.5 L300.3 393 L299.8 392.6 L299.3 392.3 L298.8 392.1 L298.3 391.8 L297.8 391.6 L297.3 391.5 L296.8 391.4 L296.3 391.3 L295.8 391.2 L295.3 391.2 L294.8 391.2 L294.3 391.2 L293.8 391.3 L293.3 391.5 L292.8 391.6 L292.3 391.8 L291.8 392.1 L291.3 392.4 L290.8 392.7 L290.3 393 L289.8 393.4 L289.3 393.8 L288.8 394.2 L288.3 394.6 L287.8 395.1 L287.3 395.6 L286.8 396.1 L286.3 396.7 L285.8 397.2 L285.3 397.8 L284.8 398.4 L284.3 399 L283.8 399.6 L283.3 400.3 L282.8 400.9 L282.3 401.6 L281.8 402.3 L281.3 402.9 L280.8 403.6 L280.3 404.3 L279.9 405 L279.4 405.6 L278.9 406.3 L278.4 407 L277.9 407.7 L277.4 408.4 L276.9 409.2 L276.4 409.9 L275.9 410.7 L275.4 411.5 L274.9 412.3 L274.4 413 L273.9 413.8 L273.4 414.5 L272.9 415.3 L272.4 416 L271.9 416.7 L271.4 417.4 L270.9 418.2 L270.4 418.9 L269.9 419.6 L269.4 420.4 L268.9 421.1 L268.4 421.8 L267.9 422.4 L267.4 423.1 L266.9 423.7 L266.4 424.3 L265.9 424.9 L265.4 425.4 L264.9 425.9 L264.4 426.3 L263.9 426.8 L263.4 427.2 L262.9 427.5 L262.4 427.9 L261.9 428.2 L261.4 428.5 L260.9 428.8 L260.4 429.1 L259.9 429.3 L259.4 429.6 L258.9 429.8 L258.4 429.9 L257.9 430.1 L257.4 430.3 L256.9 430.4 L256.4 430.5 L255.9 430.6 L255.4 430.7 L254.9 430.7 L254.4 430.7 L254 430.7 L253.5 430.6 L253 430.5 L252.5 430.4 L252 430.2 L251.5 430 L251 429.7 L250.5 429.5 L250 429.2 L249.5 428.8 L249 428.5 L248.5 428.1 L248 427.8 L247.5 427.4 L247 426.9 L246.5 426.5 L246 426.1 L245.5 425.6 L245 425.1 L244.5 424.6 L244 424.1 L243.5 423.6 L243 423 L242.5 422.5 L242 421.8 L241.5 421.2 L241 420.5 L240.5 419.8 L240 419.1 L239.5 418.3 L239 417.6 L238.5 416.8 L238 416 L237.5 415.3 L237 414.6 L236.5 413.8 L236 413.1 L235.5 412.5 L235 411.8 L234.5 411.2 L234 410.7 L233.5 410.2 L233 409.7 L232.5 409.2 L232 408.8 L231.5 408.4 L231 408 L230.5 407.6 L230 407.3 L229.5 407 L229 406.8 L228.5 406.6 L228.1 406.5 L227.6 406.4 L227.1 406.4 L226.6 406.4 L226.1 406.6 L225.6 406.8 L225.1 407.1 L224.6 407.6 L224.1 408.1 L223.6 408.7 L223.1 409.4 L222.6 410.2 L222.1 411.2 L221.6 412.3 L221.1 413.6 L220.6 415 L220.1 416.5 L219.6 418.1 L219.1 419.8 L218.6 421.6 L218.1 423.6 L217.6 425.9 L217.1 428.5 L216.6 431.2 L216.1 433.9 L215.6 436.7 L215.1 439.4 Z" fill="#fbc386" fill-opacity="0.45"/>
<path d="M210.5 422.4H325" stroke="#adadad" stroke-width="0.8"/>
<path d="M215.1 435.4 L215.6 432.9 L216.1 430.4 L216.6 427.8 L217.1 425.3 L217.6 422.9 L218.1 420.8 L218.6 419.1 L219.1 417.4 L219.6 415.9 L220.1 414.5 L220.6 413.2 L221.1 412 L221.6 411 L222.1 410 L222.6 409 L223.1 408.2 L223.6 407.5 L224.1 406.9 L224.6 406.4 L225.1 406 L225.6 405.6 L226.1 405.4 L226.6 405.2 L227.1 405.2 L227.6 405.2 L228.1 405.3 L228.5 405.4 L229 405.6 L229.5 405.9 L230 406.1 L230.5 406.4 L231 406.8 L231.5 407.2 L232 407.6 L232.5 408 L233 408.5 L233.5 409 L234 409.5 L234.5 410.1 L235 410.7 L235.5 411.3 L236 412 L236.5 412.7 L237 413.4 L237.5 414.1 L238 414.9 L238.5 415.6 L239 416.4 L239.5 417.2 L240 417.9 L240.5 418.6 L241 419.3 L241.5 420 L242 420.7 L242.5 421.3 L243 421.9 L243.5 422.4 L244 422.9 L244.5 423.5 L245 424 L245.5 424.4 L246 424.9 L246.5 425.4 L247 425.8 L247.5 426.2 L248 426.6 L248.5 427 L249 427.4 L249.5 427.7 L250 428 L250.5 428.3 L251 428.6 L251.5 428.9 L252 429.1 L252.5 429.3 L253 429.4 L253.5 429.5 L254 429.6 L254.4 429.6 L254.9 429.6 L255.4 429.6 L255.9 429.5 L256.4 429.4 L256.9 429.3 L257.4 429.2 L257.9 429 L258.4 428.8 L258.9 428.7 L259.4 428.5 L259.9 428.2 L260.4 428 L260.9 427.7 L261.4 427.4 L261.9 427.1 L262.4 426.8 L262.9 426.5 L263.4 426.1 L263.9 425.7 L264.4 425.2 L264.9 424.8 L265.4 424.3 L265.9 423.8 L266.4 423.2 L266.9 422.6 L267.4 422 L267.9 421.4 L268.4 420.7 L268.9 420 L269.4 419.3 L269.9 418.6 L270.4 417.8 L270.9 417.1 L271.4 416.4 L271.9 415.7 L272.4 414.9 L272.9 414.2 L273.4 413.5 L273.9 412.7 L274.4 412 L274.9 411.2 L275.4 410.4 L275.9 409.7 L276.4 408.9 L276.9 408.1 L277.4 407.4 L277.9 406.7 L278.4 405.9 L278.9 405.3 L279.4 404.6 L279.9 403.9 L280.3 403.2 L280.8 402.6 L281.3 401.9 L281.8 401.2 L282.3 400.5 L282.8 399.9 L283.3 399.2 L283.8 398.6 L284.3 398 L284.8 397.4 L285.3 396.8 L285.8 396.2 L286.3 395.6 L286.8 395.1 L287.3 394.6 L287.8 394.1 L288.3 393.6 L288.8 393.2 L289.3 392.7 L289.8 392.3 L290.3 392 L290.8 391.6 L291.3 391.3 L291.8 391.1 L292.3 390.8 L292.8 390.6 L293.3 390.5 L293.8 390.3 L294.3 390.2 L294.8 390.2 L295.3 390.2 L295.8 390.2 L296.3 390.3 L296.8 390.3 L297.3 390.5 L297.8 390.6 L298.3 390.8 L298.8 391.1 L299.3 391.3 L299.8 391.6 L300.3 392 L300.8 392.4 L301.3 392.8 L301.8 393.2 L302.3 393.7 L302.8 394.3 L303.3 394.9 L303.8 395.5 L304.3 396.2 L304.8 396.9 L305.3 397.6 L305.8 398.4 L306.2 399.1 L306.7 399.9 L307.2 400.7 L307.7 401.4 L308.2 402.2 L308.7 402.9 L309.2 403.7 L309.7 404.4 L310.2 405.2 L310.7 406 L311.2 406.8 L311.7 407.6 L312.2 408.4 L312.7 409.3 L313.2 410.1 L313.7 411 L314.2 411.9 L314.7 412.8 L315.2 413.8 L315.7 414.9 L316.2 416 L316.7 417.1 L317.2 418.3 L317.7 419.5 L318.2 420.7 L318.7 421.9 L319.2 423.1" fill="none" stroke="#fb8c0c" stroke-width="1.2" stroke-dasharray="3 1.5"/>
</g>
<rect x="212.8" y="364.8" width="78.4" height="30.8" rx="1.5" fill="#fff" fill-opacity="0.85" stroke="#d6d6d6" stroke-width="0.6"/>
<circle cx="218.2" cy="367.5" r="1.25" fill="#7b9bd8"/>
<rect x="213.8" y="371.6" width="8.2" height="2.8" fill="#fcdcb8"/>
<path d="M213.8 385.2h8.2" stroke="#fb8c0c" stroke-width="1.1" stroke-dasharray="3.6 1.4"/>
<text transform="translate(225.2 369) scale(0.1)" font-size="39.5" font-weight="bold" fill="#3a3a3a">Sample</text>
<text transform="translate(225.2 374.4) scale(0.1)" font-size="39.5" font-weight="bold" fill="#3a3a3a">95% Confidence interval</text>
<text transform="translate(225.2 380.2) scale(0.1)" font-size="39.5" font-weight="bold" fill="#3a3a3a">Fitted curve (R-square: 0.87):</text>
<text transform="translate(225.2 386.6) scale(0.1)" font-size="39.5" font-weight="bold" fill="#3a3a3a">y = 5.2e-07X<tspan dy="-14" font-size="27.7">5</tspan><tspan dy="14"> </tspan> -5.5e-06X<tspan dy="-14" font-size="27.7">4</tspan><tspan dy="14"> </tspan> -0.00029X<tspan dy="-14" font-size="27.7">3</tspan><tspan dy="14"> </tspan></text>
<text transform="translate(231.6 392.7) scale(0.1)" font-size="39.5" font-weight="bold" fill="#3a3a3a">+0.00173X<tspan dy="-14" font-size="27.7">2</tspan><tspan dy="14"> </tspan> +0.030X +0.042</text>
<path d="M253 494 L253 493.6 L254.2 493.6 L254.2 493 L255.4 493 L255.4 492.3 L256.6 492.3 L256.6 492.5 L257.8 492.5 L257.8 492.8 L259 492.8 L259 493.2 L260.2 493.2 L260.2 491.8 L261.4 491.8 L261.4 490.4 L262.6 490.4 L262.6 487.8 L263.8 487.8 L263.8 481.8 L265 481.8 L265 475.1 L266.2 475.1 L266.2 470.6 L267.4 470.6 L267.4 469.9 L268.6 469.9 L268.6 474.4 L269.8 474.4 L269.8 484.9 L271 484.9 L271 492.3 L272.2 492.3 L272.2 493.1 L273.4 493.1 L273.4 493.8 L274.6 493.8 L274.3 494 Z" fill="url(#hpat)"/>
<rect x="210.5" y="362.5" width="114.5" height="131.5" fill="none" stroke="#7a7a7a" stroke-width="0.9"/>
<path d="M210.5 467.5H325" stroke="#7a7a7a" stroke-width="0.9"/>
<text x="208.2" y="382.1" font-size="6" text-anchor="end" font-weight="bold" fill="#2a2a2a">0.4</text>
<text x="208.2" y="403.3" font-size="6" text-anchor="end" font-weight="bold" fill="#2a2a2a">0.2</text>
<text x="208.2" y="424.5" font-size="6" text-anchor="end" font-weight="bold" fill="#2a2a2a">0.0</text>
<text x="208.2" y="445.7" font-size="6" text-anchor="end" font-weight="bold" fill="#2a2a2a">-0.2</text>
<text x="208.2" y="466.9" font-size="6" text-anchor="end" font-weight="bold" fill="#2a2a2a">-0.4</text>
<text x="212.6" y="501" font-size="6" text-anchor="middle" font-weight="bold" fill="#2a2a2a">-20</text>
<text x="241.4" y="501" font-size="6" text-anchor="middle" font-weight="bold" fill="#2a2a2a">-10</text>
<text x="270.2" y="501" font-size="6" text-anchor="middle" font-weight="bold" fill="#2a2a2a">0</text>
<text x="299" y="501" font-size="6" text-anchor="middle" font-weight="bold" fill="#2a2a2a">10</text>
<text x="267.8" y="510.2" font-size="8.8" text-anchor="middle" font-weight="bold" fill="#111">NTL_PA</text>
<text x="191" y="428.2" font-size="8.8" text-anchor="middle" font-weight="bold" fill="#111" transform="rotate(-90 191 428.2)">Effect on Mig_R (%)</text>
<text x="206.3" y="480.8" font-size="8.8" text-anchor="middle" font-weight="bold" fill="#111" transform="rotate(-90 206.3 480.8)">Dist.</text>
<path d="M387.3 362.5V494M408.3 362.5V494M429.3 362.5V494M450.3 362.5V494M471.3 362.5V494M492.3 362.5V494M381.5 368.5H496M381.5 381.7H496M381.5 394.9H496M381.5 408.1H496M381.5 434.5H496M381.5 447.7H496M381.5 460.9H496M381.5 480.8H496" stroke="#ececec" stroke-width="0.6" fill="none"/>
<g clip-path="url(#c_Urban_R)">
<path d="M385.8 419.1 L394.5 415.6 L406.8 410.4 L419.1 398.1 L429.6 391.1 L441.9 396.3 L452.4 391.1 L459.4 380.5 L466.5 373.5 L482.2 377.0 L492.8 384.0 L492.8 405.1 L482.2 406.8 L471.7 410.4 L457.7 419.1 L441.9 427.9 L434.9 443.7 L426.1 457.7 L413.8 452.5 L401.5 443.7 L391.0 436.7 L385.8 429.6Z" fill="#dde9f6" fill-opacity="0.5" filter="url(#bl2)"/>
<path d="M430.1 400.1h0M438.0 434.7h0M415.8 430.6h0M450.3 423.0h0M490.4 399.3h0M470.9 406.3h0M421.2 429.2h0M488.8 389.9h0M461.6 416.4h0M417.2 424.9h0M429.9 429.2h0M440.1 410.7h0M439.2 396.3h0M445.6 418.3h0M454.1 415.6h0M436.0 418.0h0M479.9 389.3h0M463.2 406.6h0M415.2 406.5h0M422.9 436.2h0M449.6 396.6h0M451.8 413.6h0M429.9 423.1h0M414.9 452.5h0M462.6 392.1h0M457.8 397.8h0M456.8 385.2h0M408.0 418.0h0M451.2 422.6h0M394.9 419.6h0M402.6 412.8h0M488.5 395.6h0M418.8 436.1h0M466.9 375.2h0M461.4 382.5h0M449.6 396.2h0M474.4 391.5h0M448.2 408.9h0M467.8 412.3h0M424.2 423.0h0M425.6 429.2h0M393.5 428.3h0M400.9 420.2h0M435.1 403.5h0M461.6 397.6h0M477.2 379.5h0M473.0 402.7h0M434.1 427.2h0M409.7 407.8h0M427.9 418.0h0M432.8 419.8h0M426.6 432.0h0M449.4 421.3h0M454.6 408.8h0M442.5 410.7h0M431.5 441.9h0M482.5 384.6h0M430.0 391.3h0M474.8 391.3h0M492.1 384.6h0M437.1 431.7h0M449.6 409.3h0M468.4 374.5h0M423.2 440.7h0M433.8 394.4h0M424.8 446.0h0M423.7 440.8h0M462.9 409.3h0M429.3 442.3h0M453.3 415.2h0M416.1 414.4h0M492.8 403.9h0M409.8 422.9h0M427.1 430.1h0M427.4 399.6h0M474.9 383.7h0M423.1 449.3h0M436.4 396.7h0M468.5 374.2h0M454.1 397.8h0M394.0 421.7h0M392.4 436.2h0M481.2 387.3h0M416.0 402.5h0M491.1 400.8h0M488.9 395.7h0M399.3 433.1h0M424.3 415.4h0M464.7 389.9h0M477.9 376.8h0M461.3 389.6h0M386.7 422.5h0M477.5 399.0h0M437.0 433.4h0M415.5 421.8h0M488.4 383.8h0M429.3 445.8h0M425.9 429.0h0M461.7 381.8h0M399.6 422.7h0M421.6 404.5h0M418.6 424.9h0M445.6 397.0h0M403.9 440.2h0M404.8 423.8h0M444.3 420.6h0M428.7 436.1h0M469.5 390.9h0M413.5 427.1h0M482.2 400.7h0M471.0 393.3h0M395.1 416.5h0M451.2 417.7h0M458.5 416.3h0M427.1 436.8h0M469.3 408.0h0M419.9 419.8h0M473.2 385.7h0M415.5 408.1h0M403.6 417.2h0M477.4 408.1h0M446.3 395.3h0M432.5 447.3h0M425.5 419.2h0M430.7 405.8h0M422.6 441.4h0M447.9 398.1h0M458.5 399.0h0M422.2 405.8h0M473.3 396.6h0M429.1 391.8h0M411.5 432.8h0M410.2 416.9h0M475.4 394.3h0M463.3 414.2h0M479.6 390.1h0M434.3 443.1h0M407.9 416.1h0M426.7 432.5h0M393.1 433.9h0M427.7 443.5h0M455.3 412.9h0M457.7 414.1h0M411.8 440.1h0M471.7 407.1h0M400.8 440.8h0M437.5 437.6h0M464.7 383.9h0M426.2 394.9h0M483.1 398.2h0M395.2 415.4h0M482.8 400.3h0M405.4 417.4h0M416.4 411.4h0M437.3 401.7h0M492.1 403.3h0M483.6 382.8h0M436.7 402.6h0M453.1 394.0h0M411.7 408.0h0M431.0 442.8h0M389.6 421.4h0M462.0 392.0h0M463.2 412.1h0M396.2 421.0h0M395.1 416.7h0M419.0 437.9h0M412.7 447.6h0M482.3 391.4h0M434.4 420.7h0M459.8 407.9h0M404.5 433.1h0M474.4 378.7h0M439.8 429.7h0M439.3 424.9h0M490.7 385.1h0M416.2 451.8h0M417.7 403.5h0M435.3 429.3h0M477.9 384.1h0M388.5 425.7h0M454.4 394.5h0M472.6 406.1h0M472.9 401.3h0M431.4 448.3h0M473.5 385.6h0M399.6 441.0h0M439.5 398.2h0M437.0 429.4h0M426.4 417.6h0M439.7 428.2h0M487.4 390.7h0M475.9 379.3h0M464.8 377.6h0M435.2 442.9h0M394.4 424.0h0M469.0 381.7h0M410.5 407.5h0M458.9 400.0h0M432.1 414.1h0M402.7 414.2h0M470.5 386.6h0M416.2 419.6h0M399.6 427.5h0M418.6 444.7h0M412.6 429.8h0M393.5 433.3h0M438.5 434.4h0M421.2 417.7h0M481.3 384.3h0M423.9 423.8h0M428.7 402.4h0M405.0 423.4h0M415.0 424.9h0M460.4 410.7h0M403.5 439.8h0M422.3 444.1h0M431.6 430.6h0M424.8 436.5h0M447.1 416.1h0M419.9 453.0h0M402.5 412.5h0M395.0 434.7h0M424.5 426.9h0M480.1 401.4h0M432.8 417.9h0M487.9 389.8h0M392.8 434.3h0M406.3 420.8h0M415.1 449.4h0M421.2 402.1h0M421.8 437.6h0M409.8 427.2h0M411.7 433.5h0M481.1 395.7h0M418.2 415.7h0M480.1 385.3h0M412.0 425.9h0M446.8 403.4h0M410.9 408.0h0M410.4 445.7h0M420.1 447.4h0M398.3 437.5h0M438.1 415.6h0M433.2 415.4h0M423.8 450.3h0M435.6 422.6h0M389.4 418.5h0M442.9 404.7h0M412.4 437.9h0M420.4 398.8h0M430.3 447.9h0M430.1 433.0h0M408.3 411.8h0M440.3 413.2h0M429.1 436.1h0M416.2 424.6h0M431.0 425.0h0M399.3 431.1h0M423.1 398.6h0M420.9 427.5h0M418.0 437.0h0M416.5 402.5h0M450.9 410.9h0M470.6 378.7h0M418.6 438.1h0M400.8 425.9h0M435.4 409.1h0M429.8 400.2h0M482.5 382.1h0M452.7 414.2h0M461.7 389.2h0M469.7 399.0h0M411.7 439.6h0M439.7 413.9h0M428.5 422.1h0M410.5 411.3h0M437.1 407.4h0M407.4 422.6h0M451.2 409.3h0M425.4 418.9h0M415.5 427.0h0M466.1 388.3h0M432.0 443.3h0M437.5 435.4h0M388.3 429.3h0M466.3 406.8h0M413.4 411.2h0M430.8 415.3h0M406.3 418.1h0M419.0 402.8h0M395.4 430.0h0M426.9 404.4h0M389.4 420.2h0M428.7 438.2h0M465.2 400.0h0M418.9 421.6h0M466.3 377.8h0M404.6 441.4h0M404.9 425.8h0M457.3 408.6h0M408.5 423.0h0M430.7 419.9h0M410.4 417.7h0M430.8 432.4h0M457.7 392.2h0M449.1 403.0h0M488.3 393.1h0M475.1 382.2h0M463.4 381.2h0M412.7 445.1h0M444.6 412.0h0M397.7 434.8h0M426.4 399.5h0M414.5 440.7h0M481.3 392.3h0M414.8 427.9h0M455.3 390.9h0M428.8 441.0h0M417.8 436.9h0M417.3 451.9h0M450.3 410.5h0M427.8 446.2h0M432.5 437.3h0M423.5 410.7h0M478.2 382.6h0M434.2 422.5h0M437.6 423.4h0M477.3 388.7h0M426.0 434.4h0M486.5 389.8h0M449.8 392.4h0M406.1 419.5h0M425.8 405.6h0M490.7 402.1h0M425.6 397.8h0M403.1 435.8h0M435.1 405.7h0M404.4 412.5h0M408.5 445.0h0M417.4 419.6h0M433.0 429.1h0M488.8 389.2h0M401.3 436.1h0M420.5 409.7h0M418.4 409.0h0M432.2 407.8h0M463.2 411.3h0M439.3 404.3h0M461.7 404.3h0M405.4 442.6h0M418.8 423.5h0M469.0 378.8h0M409.0 411.3h0M483.6 389.7h0M412.3 425.3h0M436.1 416.8h0M442.9 396.0h0M462.7 389.7h0M435.9 423.0h0M464.6 385.6h0M454.2 403.9h0M432.2 392.6h0M419.1 428.9h0M441.0 399.2h0M403.3 442.1h0M427.5 427.2h0M426.9 427.4h0M421.1 417.5h0M464.7 406.0h0M484.4 380.5h0M405.4 439.5h0M399.4 418.2h0M448.4 397.4h0M413.4 441.9h0M463.1 403.1h0M442.5 397.9h0M423.2 428.7h0M419.8 449.8h0M415.9 443.7h0M469.2 376.5h0M432.3 429.1h0M392.1 418.6h0M434.5 442.2h0M420.8 442.9h0M427.3 434.2h0M424.1 440.9h0M414.7 419.4h0M396.6 420.6h0M407.3 417.0h0M418.8 439.6h0M449.5 398.5h0M422.1 435.0h0M424.6 409.2h0M486.4 380.4h0M415.3 440.9h0M445.4 413.6h0M482.0 379.8h0M434.0 394.7h0M448.9 416.7h0M453.4 420.3h0M449.0 415.5h0M405.9 441.2h0M418.3 428.4h0M478.8 399.0h0M425.6 426.7h0M453.2 391.3h0M415.8 451.3h0M404.3 432.8h0M401.9 418.2h0M473.0 384.3h0M436.3 422.9h0M397.1 424.6h0M491.2 385.6h0M412.1 451.0h0M423.4 438.7h0M443.2 412.6h0M460.8 405.6h0M421.9 440.3h0M414.4 418.3h0M399.4 419.0h0M478.8 398.6h0M433.3 399.8h0M484.0 378.4h0M429.3 443.8h0M419.5 426.4h0M467.1 400.3h0M466.5 410.9h0M444.0 398.5h0M428.8 430.9h0M427.2 410.2h0M437.5 409.5h0M434.7 437.7h0M446.4 412.9h0M475.6 405.4h0M478.4 404.2h0M486.2 402.2h0M473.0 409.0h0M466.4 377.3h0M442.3 405.0h0M422.9 418.1h0M424.8 420.9h0M452.3 408.5h0M404.0 417.2h0M424.8 427.9h0M401.3 413.7h0M389.3 421.2h0M448.2 422.0h0M479.9 389.6h0M413.2 430.0h0M419.5 418.0h0M456.8 405.9h0M421.2 416.0h0M430.3 449.7h0M424.6 409.5h0M427.8 412.3h0M423.7 412.0h0M391.1 422.2h0M424.5 402.9h0M425.0 437.3h0M409.1 441.1h0M421.5 454.0h0M454.3 412.6h0M482.7 405.9h0M405.2 435.0h0M481.0 388.8h0M404.0 437.5h0M445.9 419.5h0M435.2 430.8h0M476.9 395.4h0M486.4 380.2h0M435.0 436.5h0M417.5 412.9h0M430.4 421.3h0M435.1 437.3h0M454.1 403.7h0M440.8 408.0h0M412.8 405.4h0M426.2 405.5h0M424.9 441.8h0M432.6 432.9h0M428.9 429.9h0M471.2 391.9h0M431.5 435.6h0M450.9 399.4h0M478.7 401.9h0M406.2 440.2h0M431.2 430.6h0M440.1 424.0h0M471.1 384.4h0M449.2 420.1h0M413.7 417.7h0M449.3 421.4h0M421.4 402.5h0M413.9 405.1h0M391.6 418.0h0M416.3 416.5h0M441.7 408.8h0M403.9 426.5h0M455.1 388.7h0M427.7 409.1h0M426.7 444.2h0M426.8 450.7h0M444.2 412.6h0M468.7 383.0h0M417.3 428.8h0M444.5 396.1h0M476.4 378.6h0M414.7 417.3h0M461.2 388.7h0M482.3 378.0h0M462.2 401.5h0M392.6 425.7h0M475.7 403.6h0M395.9 416.7h0M460.1 412.0h0M482.0 390.1h0M431.3 422.4h0M427.7 413.5h0M409.8 437.0h0M458.8 384.0h0M464.5 385.0h0M453.9 396.2h0M423.6 401.6h0M413.9 445.9h0M457.5 417.2h0M447.5 405.8h0M440.3 426.2h0M488.1 387.1h0M407.1 446.5h0M466.6 392.6h0M413.2 419.0h0M481.9 397.1h0M421.0 413.2h0M430.1 411.5h0M478.4 407.0h0M419.7 449.0h0M410.1 411.1h0M404.2 431.3h0M393.2 433.4h0" stroke="#a3c2e6" stroke-opacity="0.35" stroke-width="1" stroke-linecap="round"/>
<path d="M392.8 426.1 L398.0 420.9 L410.3 417.4 L415.6 406.8 L422.6 405.1 L427.9 398.1 L433.1 399.8 L440.1 405.1 L450.7 396.3 L461.2 392.8 L464.7 385.8 L466.5 396.3 L461.2 410.4 L448.9 419.1 L436.6 419.1 L433.1 431.4 L429.6 443.7 L422.6 448.9 L415.6 443.7 L405.1 438.4 L396.3 434.9 L392.8 431.4Z" fill="#4d8acb" fill-opacity="0.5" filter="url(#bl1)"/>
<path d="M393.1 428.4V431.1M393.5 425.8V429.9M394.2 426.0V429.8M394.8 425.9V431.8M395.4 427.8V434.0M395.9 424.6V431.0M396.3 423.2V430.5M396.9 422.6V429.7M397.5 425.6V430.8M398.0 423.8V430.7M398.8 425.7V434.2M399.4 423.5V430.0M399.7 427.0V430.9M400.2 426.6V429.7M400.6 427.1V434.5M401.0 424.6V433.7M401.4 424.2V430.3M402.0 426.4V432.2M402.7 423.4V431.7M403.3 424.4V436.5M403.7 421.9V433.0M404.1 424.9V437.5M404.7 421.9V430.0M405.1 419.4V436.1M405.6 423.4V435.4M406.3 423.6V430.3M406.9 423.8V434.2M407.5 421.3V431.0M407.9 418.2V433.4M408.3 423.0V438.5M408.9 420.1V433.5M409.5 421.8V436.3M410.2 421.6V436.2M410.6 420.1V438.2M411.3 422.0V437.6M412.0 417.3V433.1M412.7 417.4V437.1M413.2 421.3V432.9M413.6 422.1V437.3M414.1 423.0V429.0M414.7 417.8V442.7M415.4 409.6V433.8M415.8 414.0V432.6M416.3 410.0V439.1M416.6 410.1V432.8M417.0 409.0V442.6M417.6 410.0V442.7M418.3 421.5V429.6M418.6 411.0V437.3M419.2 415.2V443.8M419.8 408.6V438.8M420.3 421.5V432.5M421.0 406.8V439.4M421.8 408.7V438.4M422.4 410.8V444.8M423.0 413.8V437.6M423.8 414.3V446.2M424.5 417.9V441.3M425.1 414.6V443.4M425.9 418.2V441.5M426.5 418.7V439.0M427.1 412.6V431.6M427.5 410.4V426.9M428.1 406.3V434.1M428.5 414.9V429.1M429.1 406.0V431.2M429.7 405.0V436.6M430.0 399.8V436.3M430.4 413.0V430.6M430.9 404.4V422.2M431.6 414.3V436.3M432.3 407.6V422.8M432.7 403.1V427.8M433.2 401.0V421.7M433.7 406.1V426.6M434.1 400.6V421.0M434.4 410.6V419.5M435.2 407.5V421.9M435.9 409.3V419.4M436.6 406.8V416.4M437.2 403.2V413.0M437.5 410.1V412.3M438.2 405.2V413.1M438.7 408.1V418.2M439.4 404.9V418.9M439.7 408.8V417.6M440.5 410.3V413.9M441.0 409.8V417.7M441.6 407.9V417.0M442.4 410.0V414.6M442.7 409.1V418.0M443.3 406.0V418.1M443.7 406.5V416.5M444.2 404.0V415.5M444.7 406.1V416.2M445.4 402.1V411.0M445.8 401.5V415.8M446.4 405.7V418.2M447.1 407.9V412.4M447.8 403.6V419.0M448.1 403.9V411.7M448.7 401.7V414.0M449.4 401.4V412.9M450.1 404.4V411.7M450.7 405.2V409.1M451.0 403.6V413.8M451.5 397.7V412.6M452.1 403.4V414.5M452.6 404.8V413.3M453.2 396.1V411.4M453.7 403.9V410.3M454.3 403.6V410.4M455.0 401.4V406.6M455.6 400.8V414.2M456.0 395.2V411.5M456.8 395.9V412.3M457.6 400.7V405.5M458.1 395.0V406.8M458.8 398.2V410.8M459.2 401.2V405.0M459.8 395.2V407.8M460.2 394.8V410.8M460.9 396.8V409.4M461.2 398.0V405.4M461.9 395.5V407.6M462.6 393.3V400.0M463.2 388.8V397.9M463.6 391.6V400.1M464.0 393.4V402.9M464.5 392.8V397.8M464.9 390.2V396.1M465.2 392.2V399.6M465.7 394.7V396.2M466.1 395.4V397.1" stroke="#2f71bb" stroke-opacity="0.3" stroke-width="0.9" fill="none"/>
<path d="M393.0 427.5 L398.0 424.5 L403.3 422.6 L410.3 420.9 L415.6 413.9 L420.8 415.6 L426.1 405.1 L429.6 403.3 L433.1 410.4 L434.9 419.1 L431.4 426.1 L429.6 433.2 L427.9 440.2 L425.2 433.2 L422.6 440.2 L420.0 443.7 L417.3 440.2 L414.7 433.2 L408.6 433.2 L401.5 431.4 L398.0 429.6ZM441.9 410.4 L447.2 405.1 L452.4 399.8 L457.7 396.3 L461.2 399.8 L457.7 408.6 L450.7 415.6 L443.6 415.6Z" fill="#0b4e9d" filter="url(#bl0)"/>
<path d="M393.1 427.4V427.5M393.8 427.1V427.8M394.3 426.9V428.1M395.1 426.4V428.1M395.7 425.8V428.2M396.2 426.0V428.5M396.7 425.8V429.2M397.3 425.3V429.0M398.0 424.5V429.0M398.7 424.8V429.4M399.3 424.4V429.8M399.8 424.3V429.6M400.2 423.6V430.1M400.7 423.0V430.4M401.4 423.0V430.4M402.1 422.8V431.3M402.9 422.6V431.8M403.5 423.5V431.0M404.3 422.3V432.5M404.9 421.8V431.5M405.4 423.4V431.1M406.2 423.3V431.4M406.9 423.1V431.7M407.6 422.2V431.9M408.2 422.6V432.3M409.0 422.2V432.4M409.8 420.7V432.3M410.3 422.4V432.1M410.7 420.2V433.2M411.3 420.7V432.8M411.8 418.7V432.5M412.4 419.2V433.3M412.8 419.3V432.3M413.3 417.0V433.2M414.0 417.8V432.0M414.9 415.9V434.6M415.6 415.5V434.0M416.1 416.0V436.1M416.5 415.1V436.0M417.3 413.0V441.8M418.0 415.4V441.8M418.6 415.2V438.0M419.4 418.9V442.0M419.8 418.8V443.1M420.2 416.1V442.6M420.7 419.5V439.1M421.4 417.9V438.6M422.1 413.8V437.7M422.6 410.1V440.6M423.2 410.1V434.5M423.9 411.5V436.0M424.6 411.8V431.1M425.2 410.1V432.1M425.9 409.5V432.9M426.6 404.1V434.9M427.2 408.2V436.4M427.6 402.0V434.6M428.0 404.5V439.9M428.8 406.5V434.0M429.2 401.4V434.9M429.9 402.3V431.2M430.4 406.9V427.8M430.8 407.1V426.8M431.6 408.7V422.9M432.3 409.6V423.7M432.9 410.9V423.2M433.4 412.4V422.2M434.0 415.3V420.8M434.6 418.0V419.6M442.1 410.3V410.9M442.9 409.5V413.1M443.4 409.0V414.1M444.1 408.9V415.2M444.9 407.8V414.8M445.7 406.9V414.4M446.5 407.3V415.1M447.1 405.7V415.6M447.6 406.1V414.0M448.4 404.0V416.0M448.9 404.3V413.8M449.7 402.8V413.9M450.1 401.3V414.4M450.9 401.9V414.8M451.5 399.8V415.3M452.2 401.0V413.6M452.9 400.5V414.1M453.7 399.9V412.7M454.1 398.2V410.3M454.6 398.8V410.7M455.4 397.3V411.2M455.9 396.9V409.6M456.5 398.5V407.9M457.1 398.2V408.4M457.6 397.1V408.4M458.4 398.2V406.1M458.9 397.6V406.0M459.7 398.9V403.1M460.1 398.6V402.2M460.5 399.3V401.4" stroke="#0a4a98" stroke-opacity="0.55" stroke-width="0.8" fill="none"/>
<path d="M387.2 423.3 L387.7 423.5 L388.2 423.6 L388.7 423.8 L389.2 424 L389.7 424.1 L390.2 424.3 L390.7 424.5 L391.2 424.6 L391.7 424.8 L392.2 424.9 L392.7 425.1 L393.2 425.2 L393.7 425.3 L394.2 425.4 L394.7 425.5 L395.2 425.6 L395.7 425.7 L396.2 425.8 L396.7 425.9 L397.2 426 L397.7 426.1 L398.2 426.2 L398.7 426.2 L399.2 426.3 L399.7 426.4 L400.2 426.4 L400.7 426.4 L401.2 426.5 L401.7 426.5 L402.2 426.5 L402.7 426.5 L403.2 426.5 L403.7 426.5 L404.2 426.5 L404.6 426.4 L405.1 426.4 L405.6 426.4 L406.1 426.3 L406.6 426.3 L407.1 426.2 L407.6 426.2 L408.1 426.1 L408.6 426 L409.1 425.9 L409.6 425.8 L410.1 425.8 L410.6 425.7 L411.1 425.6 L411.6 425.4 L412.1 425.3 L412.6 425.2 L413.1 425.1 L413.6 424.9 L414.1 424.8 L414.6 424.6 L415.1 424.5 L415.6 424.3 L416.1 424.2 L416.6 424 L417.1 423.8 L417.6 423.6 L418.1 423.4 L418.6 423.2 L419.1 423 L419.6 422.8 L420.1 422.6 L420.6 422.4 L421.1 422.2 L421.6 421.9 L422.1 421.7 L422.6 421.4 L423.1 421.2 L423.6 420.9 L424.1 420.6 L424.6 420.3 L425.1 420.1 L425.6 419.8 L426.1 419.5 L426.6 419.2 L427.1 418.9 L427.6 418.5 L428.1 418.2 L428.6 417.9 L429.1 417.6 L429.6 417.2 L430.1 416.9 L430.6 416.6 L431.1 416.2 L431.6 415.9 L432.1 415.5 L432.6 415.1 L433.1 414.8 L433.6 414.4 L434.1 414 L434.6 413.6 L435.1 413.2 L435.6 412.8 L436.1 412.4 L436.6 412 L437.1 411.7 L437.6 411.3 L438.1 410.9 L438.6 410.5 L439.1 410.1 L439.5 409.8 L440 409.4 L440.5 409 L441 408.6 L441.5 408.2 L442 407.9 L442.5 407.5 L443 407.1 L443.5 406.7 L444 406.3 L444.5 406 L445 405.6 L445.5 405.2 L446 404.9 L446.5 404.5 L447 404.2 L447.5 403.8 L448 403.5 L448.5 403.1 L449 402.8 L449.5 402.5 L450 402.2 L450.5 401.8 L451 401.5 L451.5 401.2 L452 400.9 L452.5 400.6 L453 400.3 L453.5 400 L454 399.7 L454.5 399.4 L455 399 L455.5 398.7 L456 398.3 L456.5 397.9 L457 397.5 L457.5 397.1 L458 396.8 L458.5 396.4 L459 396 L459.5 395.6 L460 395.2 L460.5 394.9 L461 394.5 L461.5 394.1 L462 393.8 L462.5 393.4 L463 393.1 L463.5 392.7 L464 392.4 L464.5 392 L465 391.7 L465.5 391.4 L466 391.1 L466.5 390.8 L467 390.5 L467.5 390.2 L468 390 L468.5 389.7 L469 389.4 L469.5 389.1 L470 388.9 L470.5 388.6 L471 388.3 L471.5 388 L472 387.7 L472.5 387.4 L473 387.1 L473.5 386.9 L474 386.6 L474.4 386.4 L474.9 386.2 L475.4 385.9 L475.9 385.7 L476.4 385.5 L476.9 385.3 L477.4 385.1 L477.9 385 L478.4 384.8 L478.9 384.6 L479.4 384.5 L479.9 384.4 L480.4 384.2 L480.9 384.1 L481.4 384.1 L481.9 384 L482.4 383.9 L482.9 383.8 L483.4 383.8 L483.9 383.7 L484.4 383.7 L484.9 383.7 L485.4 383.8 L485.9 383.8 L486.4 383.9 L486.9 383.9 L487.4 384 L487.9 384.1 L488.4 384.2 L488.9 384.2 L489.4 384.3 L489.9 384.4 L490.4 384.5 L490.9 384.5 L491.4 384.6 L491.4 404.6 L490.9 404.3 L490.4 404 L489.9 403.6 L489.4 403.3 L488.9 402.9 L488.4 402.6 L487.9 402.2 L487.4 401.9 L486.9 401.6 L486.4 401.2 L485.9 400.9 L485.4 400.6 L484.9 400.3 L484.4 400.1 L483.9 399.8 L483.4 399.6 L482.9 399.4 L482.4 399.2 L481.9 399 L481.4 398.8 L480.9 398.6 L480.4 398.5 L479.9 398.3 L479.4 398.2 L478.9 398 L478.4 397.9 L477.9 397.7 L477.4 397.6 L476.9 397.5 L476.4 397.4 L475.9 397.3 L475.4 397.2 L474.9 397.1 L474.4 397.1 L474 397 L473.5 397 L473 396.9 L472.5 396.9 L472 396.9 L471.5 396.9 L471 396.9 L470.5 396.9 L470 396.9 L469.5 397 L469 397.1 L468.5 397.2 L468 397.3 L467.5 397.4 L467 397.5 L466.5 397.6 L466 397.8 L465.5 397.9 L465 398 L464.5 398.2 L464 398.4 L463.5 398.5 L463 398.7 L462.5 398.9 L462 399.1 L461.5 399.3 L461 399.5 L460.5 399.7 L460 399.9 L459.5 400.1 L459 400.3 L458.5 400.5 L458 400.8 L457.5 401 L457 401.2 L456.5 401.4 L456 401.6 L455.5 401.8 L455 402.1 L454.5 402.4 L454 402.7 L453.5 403 L453 403.3 L452.5 403.6 L452 403.9 L451.5 404.2 L451 404.5 L450.5 404.8 L450 405.2 L449.5 405.5 L449 405.8 L448.5 406.1 L448 406.5 L447.5 406.8 L447 407.2 L446.5 407.5 L446 407.9 L445.5 408.2 L445 408.6 L444.5 409 L444 409.3 L443.5 409.7 L443 410.1 L442.5 410.5 L442 410.9 L441.5 411.2 L441 411.6 L440.5 412 L440 412.4 L439.5 412.8 L439.1 413.1 L438.6 413.5 L438.1 413.9 L437.6 414.3 L437.1 414.7 L436.6 415 L436.1 415.4 L435.6 415.8 L435.1 416.2 L434.6 416.6 L434.1 417 L433.6 417.4 L433.1 417.8 L432.6 418.1 L432.1 418.5 L431.6 418.9 L431.1 419.2 L430.6 419.6 L430.1 419.9 L429.6 420.2 L429.1 420.6 L428.6 420.9 L428.1 421.2 L427.6 421.5 L427.1 421.9 L426.6 422.2 L426.1 422.5 L425.6 422.8 L425.1 423.1 L424.6 423.3 L424.1 423.6 L423.6 423.9 L423.1 424.2 L422.6 424.4 L422.1 424.7 L421.6 424.9 L421.1 425.2 L420.6 425.4 L420.1 425.6 L419.6 425.8 L419.1 426 L418.6 426.2 L418.1 426.4 L417.6 426.6 L417.1 426.8 L416.6 427 L416.1 427.2 L415.6 427.3 L415.1 427.5 L414.6 427.6 L414.1 427.8 L413.6 427.9 L413.1 428.1 L412.6 428.2 L412.1 428.3 L411.6 428.4 L411.1 428.6 L410.6 428.7 L410.1 428.8 L409.6 428.8 L409.1 428.9 L408.6 429 L408.1 429.1 L407.6 429.2 L407.1 429.2 L406.6 429.3 L406.1 429.3 L405.6 429.4 L405.1 429.4 L404.6 429.4 L404.2 429.5 L403.7 429.5 L403.2 429.5 L402.7 429.5 L402.2 429.5 L401.7 429.5 L401.2 429.5 L400.7 429.4 L400.2 429.4 L399.7 429.4 L399.2 429.4 L398.7 429.3 L398.2 429.3 L397.7 429.3 L397.2 429.2 L396.7 429.2 L396.2 429.1 L395.7 429.1 L395.2 429 L394.7 428.9 L394.2 428.9 L393.7 428.8 L393.2 428.7 L392.7 428.6 L392.2 428.5 L391.7 428.4 L391.2 428.3 L390.7 428.2 L390.2 428.1 L389.7 427.9 L389.2 427.8 L388.7 427.7 L388.2 427.5 L387.7 427.4 L387.2 427.3 Z" fill="#fbc386" fill-opacity="0.45"/>
<path d="M381.5 421.3H496" stroke="#adadad" stroke-width="0.8"/>
<path d="M387.2 425.3 L387.7 425.4 L388.2 425.6 L388.7 425.7 L389.2 425.9 L389.7 426 L390.2 426.2 L390.7 426.3 L391.2 426.5 L391.7 426.6 L392.2 426.7 L392.7 426.9 L393.2 427 L393.7 427.1 L394.2 427.1 L394.7 427.2 L395.2 427.3 L395.7 427.4 L396.2 427.5 L396.7 427.5 L397.2 427.6 L397.7 427.7 L398.2 427.7 L398.7 427.8 L399.2 427.8 L399.7 427.9 L400.2 427.9 L400.7 427.9 L401.2 428 L401.7 428 L402.2 428 L402.7 428 L403.2 428 L403.7 428 L404.2 428 L404.6 427.9 L405.1 427.9 L405.6 427.9 L406.1 427.8 L406.6 427.8 L407.1 427.7 L407.6 427.7 L408.1 427.6 L408.6 427.5 L409.1 427.4 L409.6 427.3 L410.1 427.3 L410.6 427.2 L411.1 427.1 L411.6 426.9 L412.1 426.8 L412.6 426.7 L413.1 426.6 L413.6 426.4 L414.1 426.3 L414.6 426.1 L415.1 426 L415.6 425.8 L416.1 425.7 L416.6 425.5 L417.1 425.3 L417.6 425.1 L418.1 424.9 L418.6 424.7 L419.1 424.5 L419.6 424.3 L420.1 424.1 L420.6 423.9 L421.1 423.7 L421.6 423.4 L422.1 423.2 L422.6 422.9 L423.1 422.7 L423.6 422.4 L424.1 422.1 L424.6 421.8 L425.1 421.6 L425.6 421.3 L426.1 421 L426.6 420.7 L427.1 420.4 L427.6 420 L428.1 419.7 L428.6 419.4 L429.1 419.1 L429.6 418.7 L430.1 418.4 L430.6 418.1 L431.1 417.7 L431.6 417.4 L432.1 417 L432.6 416.6 L433.1 416.3 L433.6 415.9 L434.1 415.5 L434.6 415.1 L435.1 414.7 L435.6 414.3 L436.1 413.9 L436.6 413.5 L437.1 413.2 L437.6 412.8 L438.1 412.4 L438.6 412 L439.1 411.6 L439.5 411.3 L440 410.9 L440.5 410.5 L441 410.1 L441.5 409.7 L442 409.4 L442.5 409 L443 408.6 L443.5 408.2 L444 407.8 L444.5 407.5 L445 407.1 L445.5 406.7 L446 406.4 L446.5 406 L447 405.7 L447.5 405.3 L448 405 L448.5 404.6 L449 404.3 L449.5 404 L450 403.7 L450.5 403.3 L451 403 L451.5 402.7 L452 402.4 L452.5 402.1 L453 401.8 L453.5 401.5 L454 401.2 L454.5 400.9 L455 400.6 L455.5 400.3 L456 400 L456.5 399.7 L457 399.4 L457.5 399.1 L458 398.8 L458.5 398.5 L459 398.2 L459.5 397.9 L460 397.6 L460.5 397.3 L461 397 L461.5 396.7 L462 396.4 L462.5 396.2 L463 395.9 L463.5 395.6 L464 395.4 L464.5 395.1 L465 394.9 L465.5 394.7 L466 394.4 L466.5 394.2 L467 394 L467.5 393.8 L468 393.6 L468.5 393.4 L469 393.2 L469.5 393.1 L470 392.9 L470.5 392.7 L471 392.6 L471.5 392.4 L472 392.3 L472.5 392.1 L473 392 L473.5 391.9 L474 391.8 L474.4 391.7 L474.9 391.6 L475.4 391.6 L475.9 391.5 L476.4 391.5 L476.9 391.4 L477.4 391.4 L477.9 391.4 L478.4 391.3 L478.9 391.3 L479.4 391.3 L479.9 391.3 L480.4 391.4 L480.9 391.4 L481.4 391.4 L481.9 391.5 L482.4 391.5 L482.9 391.6 L483.4 391.7 L483.9 391.8 L484.4 391.9 L484.9 392 L485.4 392.2 L485.9 392.4 L486.4 392.5 L486.9 392.7 L487.4 392.9 L487.9 393.2 L488.4 393.4 L488.9 393.6 L489.4 393.8 L489.9 394 L490.4 394.2 L490.9 394.4 L491.4 394.6" fill="none" stroke="#fb8c0c" stroke-width="1.2" stroke-dasharray="3 1.5"/>
</g>
<rect x="383.8" y="364.8" width="77.3" height="30.8" rx="1.5" fill="#fff" fill-opacity="0.85" stroke="#d6d6d6" stroke-width="0.6"/>
<circle cx="389.2" cy="367.5" r="1.25" fill="#7b9bd8"/>
<rect x="384.8" y="371.6" width="8.2" height="2.8" fill="#fcdcb8"/>
<path d="M384.8 385.2h8.2" stroke="#fb8c0c" stroke-width="1.1" stroke-dasharray="3.6 1.4"/>
<text transform="translate(396.2 369) scale(0.1)" font-size="39.5" font-weight="bold" fill="#3a3a3a">Sample</text>
<text transform="translate(396.2 374.4) scale(0.1)" font-size="39.5" font-weight="bold" fill="#3a3a3a">95% Confidence interval</text>
<text transform="translate(396.2 380.2) scale(0.1)" font-size="39.5" font-weight="bold" fill="#3a3a3a">Fitted curve (R-square: 0.77):</text>
<text transform="translate(396.2 386.6) scale(0.1)" font-size="39.5" font-weight="bold" fill="#3a3a3a">y = -2e-12X<tspan dy="-14" font-size="27.7">5</tspan><tspan dy="14"> </tspan> -6.7e-09X<tspan dy="-14" font-size="27.7">4</tspan><tspan dy="14"> </tspan> -6.8e-07X<tspan dy="-14" font-size="27.7">3</tspan><tspan dy="14"> </tspan></text>
<text transform="translate(402.6 392.7) scale(0.1)" font-size="39.5" font-weight="bold" fill="#3a3a3a">+3.9e-05X<tspan dy="-14" font-size="27.7">2</tspan><tspan dy="14"> </tspan> +0.0045X +0.011</text>
<path d="M395 494 L395 493.9 L396.2 493.9 L396.2 493.7 L397.4 493.7 L397.4 493.5 L398.6 493.5 L398.6 493.1 L399.8 493.1 L399.8 492.6 L401 492.6 L401 492.1 L402.2 492.1 L402.2 491.6 L403.4 491.6 L403.4 491.5 L404.6 491.5 L404.6 491.3 L405.8 491.3 L405.8 490.8 L407 490.8 L407 490.6 L408.2 490.6 L408.2 490.6 L409.4 490.6 L409.4 490.2 L410.6 490.2 L410.6 490 L411.8 490 L411.8 488.8 L413 488.8 L413 487.9 L414.2 487.9 L414.2 487.4 L415.4 487.4 L415.4 486.7 L416.6 486.7 L416.6 486.5 L417.8 486.5 L417.8 486.2 L419 486.2 L419 485.4 L420.2 485.4 L420.2 485.6 L421.4 485.6 L421.4 486.1 L422.6 486.1 L422.6 486.5 L423.8 486.5 L423.8 485.3 L425 485.3 L425 484 L426.2 484 L426.2 477.6 L427.4 477.6 L427.4 468.8 L428.6 468.8 L428.6 483.7 L429.8 483.7 L429.8 491.2 L431 491.2 L431 491.3 L432.2 491.3 L432.2 491.6 L433.4 491.6 L433.4 491.9 L434.6 491.9 L434.6 491.9 L435.8 491.9 L435.8 492.2 L437 492.2 L437 492.1 L438.2 492.1 L438.2 492.2 L439.4 492.2 L439.4 492.3 L440.6 492.3 L440.6 492.3 L441.8 492.3 L441.8 492.4 L443 492.4 L443 492.5 L444.2 492.5 L444.2 492.5 L445.4 492.5 L445.4 492.7 L446.6 492.7 L446.6 492.6 L447.8 492.6 L447.8 492.7 L449 492.7 L449 492.8 L450.2 492.8 L450.2 492.8 L451.4 492.8 L451.4 492.9 L452.6 492.9 L452.6 492.9 L453.8 492.9 L453.8 493 L455 493 L455 493 L456.2 493 L456.2 493.1 L457.4 493.1 L457.4 493.1 L458.6 493.1 L458.6 493.2 L459.8 493.2 L459.8 493.2 L461 493.2 L461 493.3 L462.2 493.3 L462.2 493.3 L463.4 493.3 L463.4 493.4 L464.6 493.4 L464.6 493.4 L465.8 493.4 L465.8 493.5 L467 493.5 L467 493.5 L468.2 493.5 L468.2 493.5 L469.4 493.5 L469.4 493.6 L470.6 493.6 L470.6 493.6 L471.8 493.6 L471.8 493.6 L473 493.6 L473 493.7 L474.2 493.7 L474.2 493.7 L475.4 493.7 L475.4 493.8 L476.6 493.8 L476.6 493.8 L477.8 493.8 L477.8 493.8 L479 493.8 L479 493.8 L480.2 493.8 L480.2 493.9 L481.4 493.9 L481.4 493.9 L482.6 493.9 L482.6 493.9 L483.8 493.9 L483.8 494 L485 494 L485 494 L486.2 494 L485.5 494 Z" fill="url(#hpat)"/>
<rect x="381.5" y="362.5" width="114.5" height="131.5" fill="none" stroke="#7a7a7a" stroke-width="0.9"/>
<path d="M381.5 467.5H496" stroke="#7a7a7a" stroke-width="0.9"/>
<text x="379.2" y="370.6" font-size="6" text-anchor="end" font-weight="bold" fill="#2a2a2a">0.4</text>
<text x="379.2" y="383.8" font-size="6" text-anchor="end" font-weight="bold" fill="#2a2a2a">0.3</text>
<text x="379.2" y="397" font-size="6" text-anchor="end" font-weight="bold" fill="#2a2a2a">0.2</text>
<text x="379.2" y="410.2" font-size="6" text-anchor="end" font-weight="bold" fill="#2a2a2a">0.1</text>
<text x="379.2" y="423.4" font-size="6" text-anchor="end" font-weight="bold" fill="#2a2a2a">0.0</text>
<text x="379.2" y="436.6" font-size="6" text-anchor="end" font-weight="bold" fill="#2a2a2a">-0.1</text>
<text x="379.2" y="449.8" font-size="6" text-anchor="end" font-weight="bold" fill="#2a2a2a">-0.2</text>
<text x="379.2" y="463" font-size="6" text-anchor="end" font-weight="bold" fill="#2a2a2a">-0.3</text>
<text x="387.3" y="501" font-size="6" text-anchor="middle" font-weight="bold" fill="#2a2a2a">-40</text>
<text x="408.3" y="501" font-size="6" text-anchor="middle" font-weight="bold" fill="#2a2a2a">-20</text>
<text x="429.3" y="501" font-size="6" text-anchor="middle" font-weight="bold" fill="#2a2a2a">0</text>
<text x="450.3" y="501" font-size="6" text-anchor="middle" font-weight="bold" fill="#2a2a2a">20</text>
<text x="471.3" y="501" font-size="6" text-anchor="middle" font-weight="bold" fill="#2a2a2a">40</text>
<text x="492.3" y="501" font-size="6" text-anchor="middle" font-weight="bold" fill="#2a2a2a">60</text>
<text x="438.8" y="510.2" font-size="8.8" text-anchor="middle" font-weight="bold" fill="#111">Urban_R (%)</text>
<text x="362" y="428.2" font-size="8.8" text-anchor="middle" font-weight="bold" fill="#111" transform="rotate(-90 362 428.2)">Effect on Mig_R (%)</text>
<text x="377.3" y="480.8" font-size="8.8" text-anchor="middle" font-weight="bold" fill="#111" transform="rotate(-90 377.3 480.8)">Dist.</text>
<path d="M564.6 362.5V494M590.9 362.5V494M617.2 362.5V494M643.5 362.5V494M553.5 374.5H668M553.5 390.4H668M553.5 422.2H668M553.5 438.1H668M553.5 454.1H668M553.5 480.8H668" stroke="#ececec" stroke-width="0.6" fill="none"/>
<g clip-path="url(#c_Edu)">
<path d="M557.8 396.3 L566.5 385.8 L578.8 382.3 L591.1 377.0 L599.9 375.3 L617.4 380.5 L629.7 380.5 L638.5 392.8 L650.7 405.1 L657.8 419.1 L661.3 440.2 L661.3 457.7 L654.2 454.2 L650.7 436.7 L642.0 429.6 L629.7 429.6 L619.2 431.4 L603.4 426.1 L587.6 413.9 L573.5 406.8 L561.3 405.1Z" fill="#dde9f6" fill-opacity="0.5" filter="url(#bl2)"/>
<path d="M608.7 401.4h0M612.9 406.1h0M573.9 395.5h0M636.2 410.0h0M625.3 425.5h0M609.3 409.6h0M589.0 412.6h0M591.5 379.4h0M628.6 381.2h0M648.5 406.9h0M610.5 387.5h0M603.1 394.5h0M588.8 383.3h0M652.8 441.4h0M566.1 393.9h0M579.7 402.7h0M567.7 402.0h0M657.7 455.9h0M580.8 403.6h0M603.2 378.3h0M609.2 396.9h0M631.8 407.6h0M617.2 389.8h0M624.0 420.6h0M580.7 393.7h0M628.2 389.8h0M611.8 419.1h0M587.8 398.3h0M610.9 407.6h0M595.4 418.0h0M652.0 438.6h0M647.3 428.5h0M595.0 388.7h0M597.9 398.9h0M574.1 407.0h0M603.6 406.7h0M598.3 404.2h0M607.8 401.4h0M600.1 421.3h0M627.8 425.3h0M592.8 407.1h0M616.3 404.8h0M594.7 409.2h0M586.6 412.3h0M595.8 377.5h0M628.7 404.2h0M630.2 381.3h0M623.4 404.0h0M599.0 393.5h0M620.7 410.4h0M608.1 389.4h0M629.6 422.2h0M608.3 378.8h0M583.6 408.4h0M613.5 410.1h0M623.6 400.1h0M597.5 396.5h0M627.1 411.1h0M602.5 389.3h0M602.6 376.9h0M599.4 377.2h0M607.9 422.8h0M630.0 423.9h0M612.9 394.0h0M636.2 427.9h0M635.4 421.9h0M622.5 425.8h0M657.0 422.3h0M627.3 427.3h0M654.2 443.5h0M590.8 381.0h0M602.8 403.8h0M611.5 420.8h0M621.6 423.7h0M633.6 407.8h0M656.8 438.0h0M608.4 425.5h0M598.8 401.0h0M654.5 447.5h0M615.8 402.0h0M609.9 397.1h0M654.9 426.1h0M658.7 427.4h0M587.2 393.3h0M623.4 412.1h0M600.8 415.7h0M584.9 383.3h0M638.9 410.0h0M602.2 420.5h0M630.3 410.7h0M603.1 422.0h0M619.5 427.5h0M585.0 396.5h0M601.3 409.0h0M649.8 405.2h0M644.9 428.7h0M650.7 424.4h0M651.6 431.2h0M591.1 411.9h0M623.2 428.3h0M654.6 416.9h0M624.8 427.0h0M637.3 429.4h0M607.8 396.2h0M656.4 451.8h0M633.8 406.5h0M610.1 389.7h0M641.3 413.5h0M585.9 403.4h0M613.0 386.6h0M650.0 429.7h0M634.8 409.6h0M606.4 410.4h0M607.3 420.8h0M627.5 407.9h0M658.9 452.0h0M625.7 428.6h0M616.2 406.1h0M596.2 389.9h0M649.4 415.3h0M647.1 410.9h0M599.8 390.0h0M592.9 405.8h0M614.9 388.6h0M607.3 384.8h0M616.9 401.4h0M600.5 383.3h0M625.2 422.2h0M617.7 428.9h0M569.4 399.9h0M575.4 393.6h0M583.3 383.4h0M577.2 402.9h0M656.7 438.8h0M598.9 384.4h0M661.2 449.0h0M594.1 404.0h0M591.0 379.1h0M637.7 408.6h0M611.0 383.7h0M636.6 409.3h0M648.9 430.9h0M609.4 384.5h0M585.3 385.7h0M560.3 400.3h0M641.0 419.5h0M643.5 414.8h0M625.1 380.6h0M618.8 431.1h0M595.4 413.8h0M645.8 408.5h0M578.7 385.3h0M598.7 410.0h0M609.1 400.3h0M628.5 380.9h0M639.4 425.6h0M622.1 419.1h0M601.8 388.3h0M581.2 404.6h0M629.6 425.9h0M570.9 393.4h0M640.4 427.2h0M573.2 400.2h0M622.8 410.4h0M627.0 400.5h0M602.9 397.9h0M567.4 402.4h0M579.1 409.2h0M604.1 394.6h0M628.9 408.2h0M599.6 413.3h0M654.4 420.5h0M574.2 393.4h0M596.9 388.8h0M634.8 393.2h0M568.7 392.0h0M635.8 392.1h0M617.0 416.0h0M586.7 381.1h0M577.2 400.3h0M578.6 405.6h0M599.0 402.5h0M658.6 438.6h0M587.6 411.7h0M622.7 381.8h0M624.0 423.9h0M628.6 408.9h0M582.5 396.7h0M635.5 403.2h0M597.5 421.5h0M581.2 392.8h0M590.8 402.4h0M591.0 407.3h0M627.5 391.9h0M625.6 421.9h0M576.9 389.3h0M635.9 399.9h0M632.4 392.7h0M639.0 413.0h0M599.2 397.6h0M604.1 398.2h0M656.7 430.3h0M565.7 392.2h0M617.1 408.7h0M593.9 390.1h0M654.7 437.5h0M619.5 418.4h0M607.6 425.6h0M616.9 421.4h0M567.8 392.4h0M661.0 451.1h0M606.2 378.1h0M630.9 408.0h0M603.0 395.7h0M584.2 400.7h0M589.6 402.1h0M607.5 399.6h0M561.2 404.4h0M570.7 405.5h0M641.2 401.5h0M569.3 403.3h0M654.7 416.3h0M617.0 404.7h0M635.2 402.5h0M658.4 452.8h0M596.6 387.3h0M634.9 423.9h0M610.4 387.6h0M588.5 389.5h0M614.3 382.8h0M619.3 426.2h0M603.7 415.2h0M575.1 386.4h0M660.3 449.6h0M626.0 400.6h0M576.1 402.6h0M590.9 403.4h0M582.0 404.1h0M590.5 383.7h0M602.2 423.8h0M562.8 391.3h0M615.4 423.6h0M623.2 418.7h0M577.7 383.7h0M622.3 417.2h0M620.6 425.3h0M606.1 389.1h0M592.7 415.5h0M589.7 401.1h0M623.2 420.9h0M599.5 377.4h0M592.9 408.2h0M624.4 382.5h0M562.8 391.3h0M631.3 392.6h0M630.6 419.8h0M622.7 381.3h0M611.7 392.5h0M637.8 421.3h0M579.9 404.5h0M603.4 391.0h0M594.5 404.1h0M639.0 410.9h0M649.4 423.4h0M631.3 415.1h0M603.1 414.1h0M651.9 417.2h0M628.0 417.5h0M652.4 423.1h0M658.3 439.3h0M633.8 403.5h0M596.1 402.4h0M593.1 380.7h0M576.6 385.6h0M640.9 402.8h0M593.9 386.6h0M611.6 384.6h0M620.7 388.7h0M604.9 404.6h0M633.4 397.8h0M592.7 413.1h0M659.2 438.1h0M603.4 408.7h0M619.7 412.2h0M602.3 382.2h0M612.8 406.2h0M649.6 426.1h0M608.1 402.3h0M601.7 390.9h0M648.5 421.0h0M628.7 386.1h0M585.1 379.7h0M614.9 423.7h0M604.4 410.7h0M651.4 416.2h0M630.9 426.0h0M647.0 412.5h0M645.2 409.6h0M583.0 408.7h0M595.7 403.4h0M639.4 422.3h0M578.8 397.8h0M593.9 404.6h0M602.2 377.7h0M593.1 408.1h0M629.1 402.7h0M648.0 424.0h0M600.0 417.2h0M586.3 388.3h0M581.6 403.3h0M620.6 410.6h0M640.3 409.6h0M627.1 407.5h0M596.3 419.2h0M597.8 399.3h0M623.0 410.1h0M624.8 419.6h0M567.5 402.4h0M593.7 403.8h0M608.9 425.6h0M653.6 434.8h0M589.7 387.0h0M605.3 400.8h0M571.6 401.2h0M627.3 395.3h0M648.3 410.0h0M609.3 391.7h0M586.0 379.6h0M577.4 398.0h0M591.7 382.8h0M600.3 385.1h0M636.0 404.9h0M637.5 400.5h0M608.5 420.8h0M589.8 383.3h0M647.2 421.5h0M652.3 414.0h0M589.3 402.7h0M567.0 387.7h0M626.2 383.3h0M622.8 412.7h0M604.7 406.9h0M620.5 392.9h0M611.8 406.0h0M616.9 407.0h0M574.3 401.3h0M600.9 384.8h0M660.5 442.8h0M655.8 434.7h0M657.5 427.9h0M580.5 384.8h0M652.3 436.9h0M560.5 398.0h0M649.5 423.0h0M651.9 421.0h0M580.3 397.5h0M648.2 423.9h0M619.1 425.0h0M656.3 447.0h0M641.2 422.9h0M638.4 397.5h0M602.0 395.3h0M599.3 422.4h0M656.9 430.6h0M590.7 402.0h0M603.8 422.1h0M570.0 400.9h0M608.4 414.2h0M637.2 428.0h0M612.8 419.2h0M586.9 382.4h0M562.6 393.9h0M606.1 392.3h0M601.9 424.8h0M624.8 405.7h0M565.6 394.2h0M569.8 404.5h0M625.2 383.7h0M635.8 410.0h0M623.4 389.8h0M642.3 426.0h0M631.8 418.0h0M656.0 440.5h0M636.0 421.8h0M629.4 391.4h0M617.4 394.6h0M583.0 393.0h0M602.7 404.3h0M595.5 417.6h0M607.5 386.6h0M589.9 388.7h0M589.8 394.4h0M600.2 415.2h0M640.8 409.2h0M647.3 419.2h0M658.6 435.0h0M606.1 420.4h0M575.6 393.2h0M591.1 379.8h0M661.2 446.2h0M621.5 390.7h0M617.8 384.9h0M635.2 417.7h0M624.2 409.7h0M621.7 400.4h0M565.9 392.0h0M654.2 441.9h0M644.3 404.5h0M629.2 426.6h0M627.9 412.4h0M623.0 413.9h0M588.4 399.7h0M625.8 423.9h0M594.7 418.5h0M656.1 452.5h0M582.6 394.6h0M621.8 398.1h0M607.8 424.2h0M593.7 417.9h0M632.0 393.6h0M626.1 389.4h0M594.2 415.0h0M648.3 433.0h0M609.8 390.4h0M622.5 396.4h0M653.3 440.0h0M568.2 386.6h0M660.4 441.4h0M583.4 387.8h0M579.1 406.9h0M619.4 400.2h0M575.7 384.2h0M601.9 379.0h0M629.7 396.3h0M635.6 417.0h0M616.3 399.3h0M635.1 389.2h0M645.2 408.0h0M633.7 399.9h0M570.4 386.1h0M558.9 396.0h0M600.2 382.4h0M564.4 394.7h0M640.6 398.2h0M569.3 403.9h0M633.9 401.3h0M614.2 429.3h0M643.9 398.7h0M578.3 397.6h0M656.5 443.7h0M653.5 413.7h0M619.6 399.3h0M584.9 410.9h0M617.0 416.2h0M602.8 403.0h0M569.2 398.3h0M652.4 432.7h0M595.0 399.1h0M583.1 405.0h0M626.5 384.6h0M610.0 420.6h0M601.2 404.2h0M592.7 395.2h0M632.7 388.4h0M593.0 377.5h0M606.6 380.2h0M654.7 446.3h0M647.1 404.1h0M660.9 446.2h0M659.0 440.3h0M563.4 398.2h0M658.8 448.5h0M577.5 404.4h0M611.3 408.4h0M634.3 396.0h0M574.4 397.1h0M566.7 404.9h0M563.8 401.4h0M659.2 438.3h0M587.8 406.2h0M589.9 414.4h0M585.2 381.7h0M609.1 393.1h0M623.8 394.6h0M577.4 407.7h0M617.3 414.6h0M656.5 445.8h0M615.2 411.0h0M593.0 398.8h0M641.4 408.1h0M604.2 380.2h0M633.8 427.1h0M600.2 382.8h0M632.1 399.7h0M625.3 415.3h0M628.0 427.0h0M587.6 405.6h0M623.1 397.2h0M616.0 381.5h0M599.9 402.2h0M579.3 386.9h0M637.6 429.3h0M660.1 454.8h0M636.6 408.4h0M573.4 406.3h0M612.1 395.1h0M643.9 405.7h0M631.1 383.7h0M635.9 416.5h0M651.0 412.0h0M654.0 412.2h0" stroke="#a3c2e6" stroke-opacity="0.35" stroke-width="1" stroke-linecap="round"/>
<path d="M592.0 381.0 L597.0 376.0 L602.0 378.0 L605.0 390.0 L604.0 400.0 L596.0 401.0 L591.0 393.0ZM594.5 384.0 L597.5 380.0 L601.0 382.0 L602.5 390.0 L601.0 397.0 L597.0 397.0 L594.5 391.0ZM640.0 412.0 L646.0 414.0 L652.0 424.0 L657.0 436.0 L659.0 448.0 L655.0 452.0 L650.0 440.0 L644.0 428.0 L639.0 420.0ZM600.0 400.0 L605.0 391.0 L612.0 392.0 L619.0 384.0 L625.0 387.0 L629.0 381.0 L633.0 383.0 L636.0 396.0 L642.0 404.0 L650.0 416.0 L652.0 428.0 L646.0 430.0 L640.0 423.0 L634.0 416.0 L628.0 424.0 L622.0 430.0 L616.0 424.0 L608.0 423.0 L602.0 414.0Z" fill="#4d8acb" fill-opacity="0.5" filter="url(#bl1)"/>
<path d="M591.2 391.9V393.0M591.9 384.0V393.3M592.6 386.7V390.6M593.0 382.9V393.8M593.6 386.9V396.2M594.3 380.7V390.4M595.0 378.3V393.2M595.7 386.2V391.0M596.3 380.8V396.7M596.8 381.7V393.8M597.2 379.2V391.3M597.8 386.1V399.6M598.4 386.0V389.9M598.9 382.4V392.5M599.3 385.7V394.5M599.9 383.0V390.2M600.5 383.6V391.5M600.9 387.7V399.3M601.6 383.4V390.4M602.2 385.7V398.7M602.8 387.8V392.8M603.4 388.2V395.9M603.9 387.4V393.6M604.5 388.7V392.2M594.7 386.2V388.2M595.5 383.7V390.8M595.8 384.8V391.8M596.5 386.2V393.6M597.1 383.5V392.1M597.8 382.1V393.0M598.4 385.4V395.8M598.9 386.6V396.5M599.2 381.6V390.3M599.6 388.3V395.6M600.3 384.9V395.5M600.9 387.3V395.8M601.3 387.0V391.4M601.6 387.7V390.4M602.0 388.6V392.0M602.3 389.7V390.1M639.3 418.8V420.4M639.9 414.4V420.3M640.6 414.4V419.1M641.0 414.2V419.9M641.6 417.3V423.6M642.3 413.9V421.9M642.8 418.2V421.3M643.4 415.6V425.6M643.9 416.7V424.3M644.4 415.0V426.0M645.0 415.4V427.4M645.4 414.1V423.9M646.1 419.3V431.3M646.7 415.3V428.5M647.3 420.3V429.6M647.6 423.3V434.0M648.1 425.2V428.4M648.8 424.9V429.6M649.2 427.0V435.5M649.8 425.6V432.1M650.4 424.3V434.6M650.7 427.9V434.3M651.5 425.1V437.8M652.1 433.4V440.8M652.7 427.7V444.6M653.2 434.8V442.6M653.6 430.8V448.3M654.3 433.4V449.2M654.7 437.7V445.6M655.2 439.5V446.1M655.7 439.0V445.5M656.5 439.9V448.4M657.0 441.9V449.9M657.4 443.2V448.2M658.1 444.6V448.7M658.7 446.6V447.5M600.5 400.2V402.9M600.8 399.7V403.5M601.4 397.6V404.4M602.1 400.4V409.2M602.6 400.5V413.0M603.0 395.9V406.3M603.5 399.1V408.9M604.2 402.7V416.5M604.9 398.1V413.3M605.4 396.4V418.9M605.9 398.6V417.9M606.6 403.4V420.9M607.1 403.6V416.2M607.8 402.9V413.6M608.5 394.0V409.3M609.2 400.6V421.3M609.6 398.1V422.2M610.0 401.3V417.1M610.5 404.6V411.8M611.0 399.3V422.7M611.4 401.1V410.1M611.9 399.5V418.0M612.5 397.5V422.7M612.9 399.2V418.2M613.5 400.2V416.0M614.0 396.8V414.5M614.5 402.9V423.6M614.9 396.6V410.4M615.6 401.3V412.8M616.4 387.3V414.6M616.7 393.6V412.6M617.3 402.8V410.0M617.7 394.1V415.1M618.2 403.1V421.0M618.8 401.0V410.1M619.3 398.7V419.0M619.9 392.7V415.2M620.5 389.5V411.9M620.8 400.1V415.0M621.6 396.9V416.0M622.3 390.0V423.1M622.8 394.7V420.4M623.5 402.1V417.1M624.0 400.9V422.8M624.6 404.2V422.9M625.1 395.2V411.5M625.8 392.9V425.5M626.3 401.6V413.4M626.8 385.2V410.1M627.5 384.0V413.4M628.0 398.7V412.1M628.4 389.9V408.7M629.0 383.8V412.4M629.7 397.7V417.9M630.3 382.9V408.1M630.9 390.4V409.1M631.5 382.4V407.2M631.9 398.7V405.5M632.6 390.3V408.8M633.0 383.0V414.2M633.5 397.0V410.5M634.1 400.4V416.0M634.8 397.4V410.4M635.5 398.1V415.5M635.9 404.0V413.4M636.6 401.0V417.4M637.1 401.1V411.6M637.6 408.0V415.4M638.0 401.1V411.9M638.6 403.8V421.3M639.3 408.8V414.9M639.8 402.5V421.9M640.3 410.8V418.5M640.7 403.6V421.2M641.5 404.4V416.1M642.0 410.9V424.1M642.7 412.9V419.3M643.4 414.3V423.8M643.8 410.7V425.9M644.3 407.6V425.9M644.6 412.1V421.7M645.0 410.2V425.5M645.7 417.3V424.5M646.1 416.6V424.3M646.7 413.4V425.4M647.1 419.5V422.5M647.8 414.6V428.7M648.5 417.6V428.8M649.3 416.9V424.4M649.6 415.6V427.0M650.3 419.6V426.2M651.1 424.1V428.2M651.7 426.7V427.8" stroke="#2f71bb" stroke-opacity="0.3" stroke-width="0.9" fill="none"/>
<path d="M603.0 397.0 L612.0 396.0 L620.0 398.0 L630.0 400.0 L637.0 404.0 L638.0 409.0 L630.0 413.0 L620.0 415.0 L610.0 415.0 L603.0 412.0ZM620.5 398.0 L621.5 386.0 L623.0 386.0 L624.0 398.0 L623.0 426.0 L621.5 427.0ZM614.0 398.0 L615.0 389.0 L616.5 389.0 L617.5 398.0 L617.0 420.0 L615.0 420.0ZM606.0 400.0 L608.0 394.0 L610.0 395.0 L611.0 404.0 L610.0 420.0 L607.0 419.0ZM629.0 400.0 L630.0 384.0 L631.5 384.0 L632.5 400.0 L632.0 412.0 L629.5 412.0ZM625.0 405.0 L626.0 391.0 L627.5 391.0 L628.0 405.0 L627.5 422.0 L625.5 421.0Z" fill="#0b4e9d" filter="url(#bl0)"/>
<path d="M603.1 397.3V413.0M603.8 398.9V412.9M604.5 397.0V413.3M605.2 398.8V412.1M605.6 398.4V411.9M606.3 397.0V414.2M607.1 397.6V414.0M607.8 397.8V412.3M608.5 398.9V414.1M609.2 395.6V413.4M609.9 395.1V413.5M610.5 395.7V412.5M611.1 397.0V416.0M611.6 397.1V413.5M612.4 395.0V412.2M613.1 395.4V412.7M613.6 399.1V414.6M614.4 398.5V414.5M614.9 396.9V412.5M615.8 399.4V414.8M616.2 396.6V412.8M616.8 397.2V416.2M617.2 398.0V412.5M617.7 399.1V412.4M618.1 397.1V412.9M618.4 398.7V413.4M618.9 396.7V414.3M619.4 397.8V414.1M620.0 398.2V415.7M620.9 398.8V415.0M621.4 400.7V413.2M622.0 399.1V414.3M622.6 399.6V412.8M623.1 397.8V412.6M623.7 400.4V414.4M624.2 400.6V414.3M625.0 398.2V412.8M625.9 400.3V413.0M626.4 398.4V412.0M627.0 399.9V412.2M627.7 401.1V412.1M628.2 399.8V413.4M628.8 400.6V412.0M629.5 401.3V413.9M630.1 401.2V412.6M630.7 399.8V410.9M631.5 401.1V411.4M632.1 402.8V411.2M632.9 401.2V411.0M633.7 403.0V409.9M634.3 403.0V410.7M635.0 403.6V409.4M635.4 403.5V409.9M636.0 403.2V409.5M636.6 403.8V409.2M637.0 404.3V409.1M637.4 406.4V408.9M637.8 408.1V409.0M620.5 397.7V398.6M621.3 391.7V416.4M621.8 385.3V421.2M622.5 387.3V425.8M623.3 388.1V416.0M623.8 396.6V403.1M614.1 396.9V400.2M614.5 393.0V408.0M615.1 390.1V416.2M615.6 391.6V418.1M616.1 388.3V419.7M616.7 394.3V415.7M617.4 397.0V403.0M606.2 399.9V403.2M606.5 398.9V409.8M607.0 398.7V418.7M607.5 397.9V418.9M608.3 395.9V420.5M608.9 394.2V421.1M609.4 398.2V418.3M610.1 398.9V418.0M610.7 401.7V407.8M629.1 399.0V401.7M629.5 393.9V409.5M630.0 385.5V408.7M630.9 384.3V410.0M631.5 385.8V408.5M632.0 393.3V410.4M632.5 399.5V400.8M625.5 398.9V420.1M625.9 394.4V418.5M626.6 395.0V417.2M627.1 389.9V423.3M627.5 394.0V416.3" stroke="#0a4a98" stroke-opacity="0.55" stroke-width="0.8" fill="none"/>
<path d="M558.1 406.5 L558.6 405.1 L559.1 403.6 L559.6 402.1 L560.1 400.6 L560.6 399.3 L561.1 398.3 L561.6 397.5 L562.1 396.8 L562.6 396.2 L563.1 395.6 L563.6 395.1 L564.1 394.6 L564.6 394.2 L565.1 393.8 L565.6 393.4 L566.1 393.1 L566.6 392.7 L567.1 392.4 L567.6 392.1 L568.1 391.8 L568.6 391.5 L569.1 391.2 L569.6 391 L570.1 390.8 L570.6 390.5 L571.1 390.3 L571.5 390.1 L572 390 L572.5 389.8 L573 389.7 L573.5 389.6 L574 389.5 L574.5 389.5 L575 389.5 L575.5 389.5 L576 389.6 L576.5 389.6 L577 389.7 L577.5 389.8 L578 389.9 L578.5 390 L579 390.2 L579.5 390.3 L580 390.5 L580.5 390.6 L581 390.8 L581.5 391 L582 391.2 L582.5 391.3 L583 391.5 L583.5 391.7 L584 391.9 L584.5 392.1 L585 392.2 L585.5 392.4 L586 392.6 L586.5 392.9 L587 393.1 L587.5 393.3 L588 393.5 L588.5 393.7 L589 394 L589.5 394.2 L590 394.4 L590.5 394.7 L591 394.9 L591.5 395.2 L592 395.4 L592.5 395.6 L593 395.9 L593.5 396.1 L594 396.4 L594.5 396.6 L595 396.9 L595.5 397.2 L596 397.4 L596.5 397.7 L597 398 L597.4 398.3 L597.9 398.5 L598.4 398.8 L598.9 399.1 L599.4 399.3 L599.9 399.6 L600.4 399.8 L600.9 400.1 L601.4 400.3 L601.9 400.6 L602.4 400.8 L602.9 401 L603.4 401.2 L603.9 401.4 L604.4 401.5 L604.9 401.7 L605.4 401.9 L605.9 402 L606.4 402.1 L606.9 402.3 L607.4 402.4 L607.9 402.5 L608.4 402.6 L608.9 402.7 L609.4 402.8 L609.9 402.9 L610.4 402.9 L610.9 403 L611.4 403.1 L611.9 403.2 L612.4 403.3 L612.9 403.3 L613.4 403.4 L613.9 403.5 L614.4 403.6 L614.9 403.6 L615.4 403.7 L615.9 403.8 L616.4 403.9 L616.9 403.9 L617.4 404 L617.9 404.1 L618.4 404.1 L618.9 404.2 L619.4 404.2 L619.9 404.2 L620.4 404.3 L620.9 404.3 L621.4 404.4 L621.9 404.4 L622.4 404.5 L622.9 404.6 L623.3 404.6 L623.8 404.7 L624.3 404.8 L624.8 404.9 L625.3 405 L625.8 405.1 L626.3 405.2 L626.8 405.3 L627.3 405.4 L627.8 405.6 L628.3 405.7 L628.8 405.9 L629.3 406 L629.8 406.2 L630.3 406.3 L630.8 406.5 L631.3 406.7 L631.8 406.9 L632.3 407 L632.8 407.2 L633.3 407.4 L633.8 407.6 L634.3 407.8 L634.8 408 L635.3 408.3 L635.8 408.5 L636.3 408.7 L636.8 408.9 L637.3 409.2 L637.8 409.4 L638.3 409.6 L638.8 409.9 L639.3 410.1 L639.8 410.4 L640.3 410.6 L640.8 410.9 L641.3 411.2 L641.8 411.5 L642.3 411.8 L642.8 412.1 L643.3 412.4 L643.8 412.7 L644.3 413.1 L644.8 413.4 L645.3 413.8 L645.8 414.2 L646.3 414.6 L646.8 415 L647.3 415.5 L647.8 415.9 L648.3 416.4 L648.8 416.8 L649.2 417.3 L649.7 417.7 L650.2 418.2 L650.7 418.7 L651.2 419.1 L651.7 419.6 L652.2 420.2 L652.7 420.7 L653.2 421.3 L653.7 421.9 L654.2 422.6 L654.7 423.3 L655.2 424 L655.7 424.8 L656.2 425.7 L656.7 426.6 L657.2 427.7 L657.7 428.8 L658.2 429.9 L658.7 431.1 L659.2 432.3 L659.7 433.6 L660.2 434.8 L660.7 436 L661.2 437.2 L661.7 438.4 L662.2 439.6 L662.2 444.6 L661.7 443.4 L661.2 442.1 L660.7 440.8 L660.2 439.5 L659.7 438.2 L659.2 436.9 L658.7 435.6 L658.2 434.3 L657.7 433 L657.2 431.9 L656.7 430.8 L656.2 429.7 L655.7 428.8 L655.2 427.9 L654.7 427.1 L654.2 426.3 L653.7 425.6 L653.2 424.9 L652.7 424.2 L652.2 423.5 L651.7 422.9 L651.2 422.3 L650.7 421.8 L650.2 421.2 L649.7 420.7 L649.2 420.3 L648.8 419.8 L648.3 419.4 L647.8 418.9 L647.3 418.5 L646.8 418 L646.3 417.6 L645.8 417.2 L645.3 416.8 L644.8 416.4 L644.3 416.1 L643.8 415.7 L643.3 415.4 L642.8 415.1 L642.3 414.8 L641.8 414.5 L641.3 414.2 L640.8 413.9 L640.3 413.6 L639.8 413.4 L639.3 413.1 L638.8 412.9 L638.3 412.6 L637.8 412.4 L637.3 412.2 L636.8 411.9 L636.3 411.7 L635.8 411.5 L635.3 411.3 L634.8 411 L634.3 410.8 L633.8 410.6 L633.3 410.4 L632.8 410.2 L632.3 410 L631.8 409.9 L631.3 409.7 L630.8 409.5 L630.3 409.3 L629.8 409.2 L629.3 409 L628.8 408.9 L628.3 408.7 L627.8 408.6 L627.3 408.4 L626.8 408.3 L626.3 408.2 L625.8 408.1 L625.3 408 L624.8 407.9 L624.3 407.8 L623.8 407.7 L623.3 407.6 L622.9 407.6 L622.4 407.5 L621.9 407.4 L621.4 407.4 L620.9 407.3 L620.4 407.3 L619.9 407.2 L619.4 407.2 L618.9 407.2 L618.4 407.1 L617.9 407.1 L617.4 407 L616.9 406.9 L616.4 406.9 L615.9 406.8 L615.4 406.7 L614.9 406.6 L614.4 406.6 L613.9 406.5 L613.4 406.4 L612.9 406.3 L612.4 406.3 L611.9 406.2 L611.4 406.1 L610.9 406 L610.4 405.9 L609.9 405.9 L609.4 405.8 L608.9 405.7 L608.4 405.6 L607.9 405.5 L607.4 405.4 L606.9 405.3 L606.4 405.1 L605.9 405 L605.4 404.9 L604.9 404.7 L604.4 404.5 L603.9 404.4 L603.4 404.2 L602.9 404 L602.4 403.8 L601.9 403.6 L601.4 403.3 L600.9 403.1 L600.4 402.8 L599.9 402.6 L599.4 402.3 L598.9 402.1 L598.4 401.8 L597.9 401.5 L597.4 401.3 L597 401 L596.5 400.7 L596 400.4 L595.5 400.2 L595 399.9 L594.5 399.6 L594 399.4 L593.5 399.1 L593 398.9 L592.5 398.6 L592 398.4 L591.5 398.2 L591 397.9 L590.5 397.7 L590 397.4 L589.5 397.2 L589 397 L588.5 396.7 L588 396.5 L587.5 396.3 L587 396.1 L586.5 395.9 L586 395.6 L585.5 395.4 L585 395.2 L584.5 395.1 L584 394.9 L583.5 394.7 L583 394.5 L582.5 394.3 L582 394.2 L581.5 394 L581 393.8 L580.5 393.6 L580 393.5 L579.5 393.3 L579 393.2 L578.5 393 L578 392.9 L577.5 392.8 L577 392.7 L576.5 392.6 L576 392.6 L575.5 392.5 L575 392.5 L574.5 392.5 L574 392.5 L573.5 392.6 L573 392.7 L572.5 392.8 L572 393 L571.5 393.1 L571.1 393.3 L570.6 393.5 L570.1 393.8 L569.6 394 L569.1 394.3 L568.6 394.6 L568.1 395 L567.6 395.3 L567.1 395.7 L566.6 396 L566.1 396.4 L565.6 396.8 L565.1 397.2 L564.6 397.6 L564.1 398.1 L563.6 398.6 L563.1 399.2 L562.6 399.8 L562.1 400.5 L561.6 401.2 L561.1 402 L560.6 403.1 L560.1 404.5 L559.6 406 L559.1 407.5 L558.6 409.1 L558.1 410.5 Z" fill="#fbc386" fill-opacity="0.45"/>
<path d="M553.5 406.3H668" stroke="#adadad" stroke-width="0.8"/>
<path d="M558.1 408.5 L558.6 407.1 L559.1 405.6 L559.6 404 L560.1 402.6 L560.6 401.2 L561.1 400.1 L561.6 399.3 L562.1 398.6 L562.6 398 L563.1 397.4 L563.6 396.9 L564.1 396.4 L564.6 395.9 L565.1 395.5 L565.6 395.1 L566.1 394.7 L566.6 394.4 L567.1 394 L567.6 393.7 L568.1 393.4 L568.6 393.1 L569.1 392.8 L569.6 392.5 L570.1 392.3 L570.6 392 L571.1 391.8 L571.5 391.6 L572 391.5 L572.5 391.3 L573 391.2 L573.5 391.1 L574 391 L574.5 391 L575 391 L575.5 391 L576 391.1 L576.5 391.1 L577 391.2 L577.5 391.3 L578 391.4 L578.5 391.5 L579 391.7 L579.5 391.8 L580 392 L580.5 392.1 L581 392.3 L581.5 392.5 L582 392.7 L582.5 392.8 L583 393 L583.5 393.2 L584 393.4 L584.5 393.6 L585 393.7 L585.5 393.9 L586 394.1 L586.5 394.4 L587 394.6 L587.5 394.8 L588 395 L588.5 395.2 L589 395.5 L589.5 395.7 L590 395.9 L590.5 396.2 L591 396.4 L591.5 396.7 L592 396.9 L592.5 397.1 L593 397.4 L593.5 397.6 L594 397.9 L594.5 398.1 L595 398.4 L595.5 398.7 L596 398.9 L596.5 399.2 L597 399.5 L597.4 399.8 L597.9 400 L598.4 400.3 L598.9 400.6 L599.4 400.8 L599.9 401.1 L600.4 401.3 L600.9 401.6 L601.4 401.8 L601.9 402.1 L602.4 402.3 L602.9 402.5 L603.4 402.7 L603.9 402.9 L604.4 403 L604.9 403.2 L605.4 403.4 L605.9 403.5 L606.4 403.6 L606.9 403.8 L607.4 403.9 L607.9 404 L608.4 404.1 L608.9 404.2 L609.4 404.3 L609.9 404.4 L610.4 404.4 L610.9 404.5 L611.4 404.6 L611.9 404.7 L612.4 404.8 L612.9 404.8 L613.4 404.9 L613.9 405 L614.4 405.1 L614.9 405.1 L615.4 405.2 L615.9 405.3 L616.4 405.4 L616.9 405.4 L617.4 405.5 L617.9 405.6 L618.4 405.6 L618.9 405.7 L619.4 405.7 L619.9 405.7 L620.4 405.8 L620.9 405.8 L621.4 405.9 L621.9 405.9 L622.4 406 L622.9 406.1 L623.3 406.1 L623.8 406.2 L624.3 406.3 L624.8 406.4 L625.3 406.5 L625.8 406.6 L626.3 406.7 L626.8 406.8 L627.3 406.9 L627.8 407.1 L628.3 407.2 L628.8 407.4 L629.3 407.5 L629.8 407.7 L630.3 407.8 L630.8 408 L631.3 408.2 L631.8 408.4 L632.3 408.5 L632.8 408.7 L633.3 408.9 L633.8 409.1 L634.3 409.3 L634.8 409.5 L635.3 409.8 L635.8 410 L636.3 410.2 L636.8 410.4 L637.3 410.7 L637.8 410.9 L638.3 411.1 L638.8 411.4 L639.3 411.6 L639.8 411.9 L640.3 412.1 L640.8 412.4 L641.3 412.7 L641.8 413 L642.3 413.3 L642.8 413.6 L643.3 413.9 L643.8 414.2 L644.3 414.6 L644.8 414.9 L645.3 415.3 L645.8 415.7 L646.3 416.1 L646.8 416.5 L647.3 417 L647.8 417.4 L648.3 417.9 L648.8 418.3 L649.2 418.8 L649.7 419.2 L650.2 419.7 L650.7 420.2 L651.2 420.7 L651.7 421.3 L652.2 421.9 L652.7 422.5 L653.2 423.1 L653.7 423.7 L654.2 424.4 L654.7 425.2 L655.2 426 L655.7 426.8 L656.2 427.7 L656.7 428.7 L657.2 429.8 L657.7 430.9 L658.2 432.1 L658.7 433.3 L659.2 434.6 L659.7 435.9 L660.2 437.1 L660.7 438.4 L661.2 439.7 L661.7 440.9 L662.2 442.1" fill="none" stroke="#fb8c0c" stroke-width="1.2" stroke-dasharray="3 1.5"/>
</g>
<rect x="555.8" y="435.4" width="72.8" height="30.8" rx="1.5" fill="#fff" fill-opacity="0.85" stroke="#d6d6d6" stroke-width="0.6"/>
<circle cx="561.2" cy="438.1" r="1.25" fill="#7b9bd8"/>
<rect x="556.8" y="442.2" width="8.2" height="2.8" fill="#fcdcb8"/>
<path d="M556.8 455.8h8.2" stroke="#fb8c0c" stroke-width="1.1" stroke-dasharray="3.6 1.4"/>
<text transform="translate(568.2 439.6) scale(0.1)" font-size="39.5" font-weight="bold" fill="#3a3a3a">Sample</text>
<text transform="translate(568.2 445) scale(0.1)" font-size="39.5" font-weight="bold" fill="#3a3a3a">95% Confidence interval</text>
<text transform="translate(568.2 450.8) scale(0.1)" font-size="39.5" font-weight="bold" fill="#3a3a3a">Fitted curve (R-square: 0.48):</text>
<text transform="translate(568.2 457.2) scale(0.1)" font-size="39.5" font-weight="bold" fill="#3a3a3a">y = 5.4e-05X<tspan dy="-14" font-size="27.7">5</tspan><tspan dy="14"> </tspan> -0.002X<tspan dy="-14" font-size="27.7">4</tspan><tspan dy="14"> </tspan> -0.0068X<tspan dy="-14" font-size="27.7">3</tspan><tspan dy="14"> </tspan></text>
<text transform="translate(574.6 463.3) scale(0.1)" font-size="39.5" font-weight="bold" fill="#3a3a3a">+0.012X<tspan dy="-14" font-size="27.7">2</tspan><tspan dy="14"> </tspan> -0.025X +2.4e-05</text>
<path d="M580 494 L580 494 L581.2 494 L581.2 493.9 L582.4 493.9 L582.4 493.8 L583.6 493.8 L583.6 493.7 L584.8 493.7 L584.8 493.5 L586 493.5 L586 493.5 L587.2 493.5 L587.2 493.4 L588.4 493.4 L588.4 493.2 L589.6 493.2 L589.6 493.2 L590.8 493.2 L590.8 493.1 L592 493.1 L592 493 L593.2 493 L593.2 492.9 L594.4 492.9 L594.4 492.7 L595.6 492.7 L595.6 492.6 L596.8 492.6 L596.8 492.2 L598 492.2 L598 492 L599.2 492 L599.2 491.6 L600.4 491.6 L600.4 491.3 L601.6 491.3 L601.6 491 L602.8 491 L602.8 490.4 L604 490.4 L604 489.9 L605.2 489.9 L605.2 489.3 L606.4 489.3 L606.4 488.2 L607.6 488.2 L607.6 485.8 L608.8 485.8 L608.8 484.3 L610 484.3 L610 481.9 L611.2 481.9 L611.2 479.4 L612.4 479.4 L612.4 480.8 L613.6 480.8 L613.6 477 L614.8 477 L614.8 469.4 L616 469.4 L616 472.1 L617.2 472.1 L617.2 478.3 L618.4 478.3 L618.4 479.7 L619.6 479.7 L619.6 475.8 L620.8 475.8 L620.8 477.5 L622 477.5 L622 483.2 L623.2 483.2 L623.2 486 L624.4 486 L624.4 488.1 L625.6 488.1 L625.6 489.5 L626.8 489.5 L626.8 490.4 L628 490.4 L628 491.6 L629.2 491.6 L629.2 491.6 L630.4 491.6 L630.4 490.4 L631.6 490.4 L631.6 490.7 L632.8 490.7 L632.8 491.9 L634 491.9 L634 492.3 L635.2 492.3 L635.2 492.5 L636.4 492.5 L636.4 492.6 L637.6 492.6 L637.6 492.7 L638.8 492.7 L638.8 492.9 L640 492.9 L640 493 L641.2 493 L641.2 493.1 L642.4 493.1 L642.4 493.2 L643.6 493.2 L643.6 493.4 L644.8 493.4 L644.8 493.5 L646 493.5 L646 493.6 L647.2 493.6 L647.2 493.8 L648.4 493.8 L648.4 493.9 L649.6 493.9 L649.6 494 L650.8 494 L650.2 494 Z" fill="url(#hpat)"/>
<rect x="553.5" y="362.5" width="114.5" height="131.5" fill="none" stroke="#7a7a7a" stroke-width="0.9"/>
<path d="M553.5 467.5H668" stroke="#7a7a7a" stroke-width="0.9"/>
<text x="551.2" y="376.6" font-size="6" text-anchor="end" font-weight="bold" fill="#2a2a2a">0.4</text>
<text x="551.2" y="392.5" font-size="6" text-anchor="end" font-weight="bold" fill="#2a2a2a">0.2</text>
<text x="551.2" y="408.4" font-size="6" text-anchor="end" font-weight="bold" fill="#2a2a2a">0.0</text>
<text x="551.2" y="424.3" font-size="6" text-anchor="end" font-weight="bold" fill="#2a2a2a">-0.2</text>
<text x="551.2" y="440.2" font-size="6" text-anchor="end" font-weight="bold" fill="#2a2a2a">-0.4</text>
<text x="551.2" y="456.2" font-size="6" text-anchor="end" font-weight="bold" fill="#2a2a2a">-0.6</text>
<text x="564.6" y="501" font-size="6" text-anchor="middle" font-weight="bold" fill="#2a2a2a">-4</text>
<text x="590.9" y="501" font-size="6" text-anchor="middle" font-weight="bold" fill="#2a2a2a">-2</text>
<text x="617.2" y="501" font-size="6" text-anchor="middle" font-weight="bold" fill="#2a2a2a">0</text>
<text x="643.5" y="501" font-size="6" text-anchor="middle" font-weight="bold" fill="#2a2a2a">2</text>
<text x="610.8" y="510.2" font-size="8.8" text-anchor="middle" font-weight="bold" fill="#111">Edu (Years)</text>
<text x="534" y="428.2" font-size="8.8" text-anchor="middle" font-weight="bold" fill="#111" transform="rotate(-90 534 428.2)">Effect on Mig_R (%)</text>
<text x="549.3" y="480.8" font-size="8.8" text-anchor="middle" font-weight="bold" fill="#111" transform="rotate(-90 549.3 480.8)">Dist.</text>
<path d="M70.4 20.7V152.2M102 20.7V152.2M117.7 20.7V152.2M133.5 20.7V152.2M56.6 26H154.3M56.6 37.9H154.3M56.6 49.9H154.3M56.6 61.8H154.3M56.6 73.7H154.3M56.6 85.7H154.3M56.6 97.6H154.3M56.6 109.5H154.3M56.6 121.4H154.3M56.6 133.4H154.3M56.6 145.3H154.3" stroke="#eeeeee" stroke-width="0.6" fill="none"/>
<path d="M86.2 20.7V152.2" stroke="#b0b0b0" stroke-width="1"/>
<path d="M85.1 59.9h0M77.5 61.7h0M76.2 61.3h0M78.8 62.9h0M82.4 61.9h0M82.1 62.1h0M83.0 64.7h0M76.1 61.0h0M80.2 60.5h0M77.2 63.5h0M83.7 61.8h0M85.0 62.0h0M81.9 61.8h0M84.5 61.7h0M70.1 63.0h0M73.1 61.4h0M74.3 62.2h0M88.0 60.4h0M89.3 61.3h0M80.9 63.5h0M86.0 61.7h0M70.6 60.1h0M69.9 60.6h0M88.5 62.5h0M72.6 62.9h0M79.4 61.5h0M88.9 61.5h0M77.8 60.2h0M76.7 61.5h0M75.0 60.9h0M75.0 60.5h0M84.0 61.7h0M74.1 62.0h0M69.9 62.9h0M77.2 63.5h0M87.8 61.8h0M89.8 61.4h0M88.8 64.1h0M78.0 63.0h0M79.0 62.7h0M80.0 61.6h0M88.7 61.6h0" stroke="#d6d6e6" stroke-width="1.6" stroke-linecap="round" stroke-opacity="0.9"/>
<path d="M114.2 25.2h0M116.6 25.1h0M82.1 49.8h0M88.5 49.1h0M91.8 48.9h0M88.2 50.3h0M90.1 49.3h0M91.2 50.6h0M83.7 49.4h0M92.8 50.6h0M92.3 53.3h0M81.0 50.0h0M82.9 51.4h0M80.5 50.4h0M90.8 49.0h0M80.9 48.6h0M79.3 50.7h0M82.0 49.0h0M93.5 47.9h0M80.7 48.2h0M86.5 49.8h0M89.3 50.0h0M80.6 50.2h0M79.6 48.7h0M87.5 49.5h0M81.2 50.1h0M91.6 50.5h0M84.4 74.4h0M84.9 73.2h0M87.5 74.1h0M91.0 71.9h0M87.4 73.3h0M81.6 73.8h0M83.2 71.7h0M79.3 72.5h0M87.5 73.6h0M93.5 72.7h0M80.0 72.3h0M87.2 73.8h0M80.2 73.3h0M90.1 74.1h0M88.5 73.5h0M81.2 73.7h0M82.7 72.3h0M82.3 73.8h0M90.5 72.5h0M84.9 72.4h0M89.1 75.9h0M86.4 72.2h0M89.6 73.4h0M92.7 72.2h0M89.0 74.7h0M91.8 74.4h0M92.3 72.0h0M93.4 73.0h0M93.1 86.0h0M90.4 84.8h0M85.3 86.4h0M80.9 87.1h0M80.3 85.6h0M76.2 84.7h0M90.3 85.8h0M88.8 85.2h0M78.8 85.3h0M81.8 85.5h0M85.3 87.6h0M87.5 86.4h0M85.6 85.6h0M78.7 85.7h0M90.8 85.6h0M91.2 85.8h0M80.9 85.3h0M88.9 86.6h0M84.4 86.3h0M93.2 84.0h0M81.5 84.7h0M90.2 83.8h0M77.6 86.7h0M90.9 86.0h0M85.5 86.8h0M78.8 86.1h0M81.6 84.9h0M77.4 85.3h0M88.9 86.7h0M82.5 85.5h0M83.1 85.2h0M85.2 97.5h0M82.3 96.5h0M80.1 97.2h0M85.3 99.2h0M82.8 97.5h0M79.0 97.9h0M85.2 96.9h0M79.9 96.1h0M87.3 109.5h0M85.0 110.4h0M81.0 112.0h0M79.4 107.6h0M84.1 109.5h0M89.2 108.5h0M84.5 110.1h0M86.1 110.7h0M83.0 108.5h0M84.7 108.0h0M84.6 110.4h0M84.7 108.2h0M89.5 110.4h0M80.8 111.1h0M85.7 109.6h0M87.5 110.6h0M87.7 109.7h0M84.4 108.8h0M81.4 108.4h0M79.4 108.9h0M85.6 109.2h0M88.6 108.2h0M81.0 109.6h0M84.5 109.7h0M83.8 108.7h0M87.2 121.1h0M78.2 119.3h0M81.9 121.1h0M88.6 121.7h0M81.9 121.6h0M78.7 120.3h0M82.7 121.5h0M79.8 121.7h0M85.1 122.3h0M83.1 121.6h0M84.5 122.4h0M88.5 133.4h0M80.3 135.3h0M86.9 133.5h0M84.4 134.3h0M87.9 133.7h0M87.7 132.6h0M84.2 133.0h0M83.9 135.3h0M87.9 147.3h0M89.6 146.2h0M87.1 143.7h0M90.0 147.2h0M88.3 146.1h0M85.5 145.7h0M87.2 144.2h0M89.2 145.6h0M87.9 146.1h0M84.4 143.6h0M86.9 144.7h0" stroke="#c3cbea" stroke-width="1.6" stroke-linecap="round" stroke-opacity="0.9"/>
<path d="M97.4 25.3h0M112.1 26.0h0M97.2 26.1h0M101.3 26.4h0M99.5 26.2h0M104.2 26.4h0M111.5 26.5h0M113.6 25.4h0M104.4 25.1h0M94.2 26.1h0M111.9 26.0h0M107.1 26.1h0M105.6 26.0h0M102.1 25.9h0M114.0 25.4h0M92.7 24.9h0M111.7 25.7h0M108.0 25.7h0M112.0 24.9h0M99.1 25.4h0M111.0 24.7h0M100.6 26.3h0M104.2 24.7h0M105.4 25.3h0M105.0 26.6h0M66.2 37.9h0M82.1 36.5h0M85.0 38.0h0M76.3 38.8h0M81.8 38.0h0M75.6 39.0h0M81.6 39.9h0M78.7 38.7h0M81.7 37.3h0M75.6 36.2h0M84.9 38.7h0M84.4 36.9h0M77.1 38.9h0M74.8 35.9h0M84.0 38.0h0M82.2 38.7h0M75.2 37.7h0M78.9 37.8h0M78.4 38.6h0M81.1 37.0h0M83.9 38.0h0M85.8 37.5h0M73.4 38.1h0M84.3 39.5h0M80.4 38.4h0M77.0 38.0h0M87.7 60.8h0M85.6 61.4h0M83.1 61.5h0M80.9 61.9h0M81.9 62.1h0M76.6 60.5h0M80.9 62.3h0M78.4 61.0h0M85.1 61.3h0M81.9 64.0h0M84.5 61.8h0M91.5 122.5h0M101.2 121.2h0M90.3 121.0h0M91.9 121.2h0M94.1 120.5h0M104.2 121.6h0M93.2 122.2h0M90.5 121.6h0M99.2 121.5h0M97.9 122.3h0M92.3 119.2h0M100.1 122.0h0M100.5 121.1h0M100.0 123.2h0M90.9 120.9h0M99.3 122.2h0M94.2 121.9h0M87.3 120.8h0M96.4 122.0h0M91.9 121.9h0M88.8 145.6h0M88.4 146.0h0M91.4 145.0h0M84.9 145.9h0M91.9 146.1h0M85.2 146.4h0M88.1 145.6h0M90.8 146.6h0M90.4 144.5h0M87.2 144.5h0M82.3 146.1h0M86.0 144.0h0M88.3 144.5h0M83.5 145.8h0M87.6 144.2h0M81.4 144.8h0M87.9 144.1h0M87.5 145.7h0M91.2 145.9h0M91.9 146.2h0M89.1 144.7h0M91.9 146.8h0M85.4 145.6h0M91.9 144.9h0M86.4 145.5h0" stroke="#93aeea" stroke-width="1.6" stroke-linecap="round" stroke-opacity="0.9"/>
<path d="M98.7 60.2h0M98.3 59.6h0M100.5 61.7h0M99.3 59.8h0M98.7 63.3h0M95.8 62.8h0M95.8 60.8h0M101.9 61.4h0M98.0 61.8h0M97.1 61.4h0M101.6 62.5h0M81.5 95.8h0M77.4 97.8h0M80.9 95.5h0M79.2 97.0h0M82.4 97.6h0M84.9 96.0h0M83.5 97.4h0M77.8 98.9h0M77.8 97.1h0M76.7 97.6h0M82.3 98.9h0M79.0 98.4h0M80.2 97.2h0M77.1 98.1h0" stroke="#f7c583" stroke-width="1.6" stroke-linecap="round" stroke-opacity="0.9"/>
<path d="M69.3 24.1h0M69.3 25.3h0M69.5 25.5h0M69.6 25.7h0M70.1 26.1h0M68.5 25.6h0M73.7 26.6h0M72.8 24.5h0M90.7 27.5h0M83.7 25.7h0M75.0 27.3h0M73.1 26.1h0M75.6 26.0h0M80.8 26.3h0M80.4 26.7h0M84.2 24.9h0M81.5 25.4h0M77.3 25.0h0M91.0 28.0h0M85.4 25.9h0M78.0 26.1h0M73.3 26.9h0M86.6 24.4h0M79.3 27.2h0M90.2 26.0h0M76.0 26.0h0M89.3 23.1h0M79.6 26.6h0M73.4 24.7h0M77.1 24.7h0M73.7 24.7h0M86.4 28.4h0M74.2 26.0h0M73.1 26.5h0M87.1 26.6h0M80.5 27.2h0M75.6 25.9h0M84.2 25.4h0M74.2 25.4h0M77.1 26.3h0M90.4 26.3h0M88.8 25.2h0M76.0 24.4h0M84.2 27.3h0M73.9 26.7h0M76.9 26.0h0M86.7 25.6h0M73.4 26.8h0M73.7 25.3h0M83.4 25.6h0M79.1 23.5h0M81.2 26.8h0M82.9 26.4h0M74.9 25.5h0M89.3 26.3h0M75.6 25.3h0M86.0 26.6h0M90.1 25.7h0M88.8 25.1h0M79.0 37.8h0M81.2 39.6h0M79.7 38.2h0M79.0 39.1h0M81.1 38.3h0M82.4 37.0h0M84.7 36.6h0M106.9 50.2h0M94.8 49.7h0M106.4 48.5h0M98.2 50.2h0M100.1 49.0h0M101.8 49.8h0M94.2 49.4h0M96.4 48.3h0M99.9 49.8h0M96.5 49.0h0M96.1 49.7h0M105.6 49.8h0M104.4 49.4h0M102.2 48.3h0M99.3 49.1h0M106.8 49.3h0M104.5 49.8h0M60.4 61.8h0M94.1 73.0h0M94.5 73.0h0M91.6 74.1h0M94.3 74.4h0M91.7 73.7h0M91.9 73.2h0M109.6 73.9h0M99.0 73.7h0M105.9 73.9h0M107.4 73.8h0M103.7 73.8h0M105.1 73.8h0M99.6 73.7h0M100.5 73.8h0M106.7 74.0h0M105.3 73.8h0M131.9 73.7h0M67.4 85.9h0M66.1 85.7h0M70.6 85.3h0M73.8 85.4h0M74.6 85.7h0M75.0 85.4h0M75.5 86.0h0M69.8 85.7h0M62.6 109.5h0M75.8 109.6h0M70.6 109.9h0M75.3 109.7h0M75.3 108.9h0M77.7 109.1h0M71.3 109.3h0M78.2 109.3h0M75.0 109.1h0M69.0 110.2h0M73.8 109.4h0M73.8 110.3h0M71.1 109.7h0M70.8 109.6h0M71.1 109.3h0M98.3 121.4h0M98.5 121.6h0M103.9 120.9h0M101.7 121.2h0M96.9 120.4h0M104.5 121.6h0M117.3 121.4h0M124.6 121.4h0M100.5 133.4h0M90.8 145.8h0M92.7 143.9h0M91.9 146.4h0M90.5 144.6h0M91.3 145.5h0M91.2 145.4h0M98.4 145.3h0M105.8 145.3h0" stroke="#4f78e2" stroke-width="1.6" stroke-linecap="round" stroke-opacity="0.9"/>
<path d="M118.8 26.0h0M130.5 25.6h0M129.4 26.3h0M128.3 26.1h0M130.7 25.9h0M125.2 25.7h0M126.7 25.8h0M145.0 26.0h0M94.6 38.3h0M87.5 39.0h0M85.2 36.4h0M87.5 38.2h0M88.8 37.1h0M92.3 39.2h0M93.6 38.0h0M96.1 37.0h0M97.7 39.9h0M95.1 39.1h0M86.8 36.6h0M97.7 38.3h0M90.3 36.1h0M96.2 37.1h0M98.2 36.6h0M87.9 38.2h0M95.1 38.5h0M95.0 36.7h0M88.0 40.1h0M98.7 36.3h0M92.5 38.1h0M97.7 37.1h0M97.0 37.7h0M91.2 38.3h0M92.7 38.1h0M85.4 36.8h0M96.3 39.5h0M87.4 38.6h0M89.7 38.1h0M87.1 37.4h0M92.2 37.6h0M94.7 36.1h0M98.2 35.6h0M86.2 38.0h0M88.1 37.1h0M95.2 37.8h0M104.1 36.5h0M103.5 37.7h0M101.5 36.9h0M106.2 38.9h0M100.7 39.1h0M103.2 36.3h0M103.6 38.2h0M103.0 38.8h0M59.6 49.8h0M59.0 50.5h0M58.2 49.7h0M59.3 50.1h0M78.2 50.7h0M79.0 49.0h0M71.9 50.0h0M76.2 50.4h0M77.8 49.6h0M70.2 50.1h0M76.9 50.6h0M73.2 49.0h0M71.0 51.0h0M77.3 50.8h0M72.5 50.7h0M72.0 48.8h0M73.8 49.6h0M74.1 49.3h0M115.0 49.9h0M94.0 63.3h0M105.5 63.1h0M102.1 61.3h0M103.4 62.4h0M100.9 60.6h0M104.8 61.0h0M93.0 61.8h0M108.2 64.5h0M107.5 62.1h0M94.7 61.9h0M97.9 61.5h0M100.4 61.5h0M90.5 63.0h0M100.6 62.5h0M102.3 61.0h0M93.4 62.6h0M96.2 61.7h0M90.6 59.9h0M91.5 62.3h0M105.1 60.5h0M93.5 61.1h0M106.0 62.1h0M77.5 73.6h0M70.2 73.4h0M72.9 73.7h0M69.9 73.3h0M77.3 72.8h0M80.2 73.3h0M79.9 73.0h0M72.2 74.0h0M72.4 72.9h0M79.7 74.3h0M71.5 73.4h0M98.6 86.8h0M100.5 85.4h0M94.1 85.0h0M96.4 86.3h0M99.6 85.6h0M103.9 85.7h0M102.0 85.9h0M96.9 86.4h0M110.0 85.2h0M109.4 85.5h0M110.3 85.4h0M107.2 85.2h0M115.7 85.0h0M113.0 86.9h0M115.6 85.1h0M105.5 86.6h0M106.3 86.4h0M115.3 86.2h0M106.9 84.7h0M113.5 86.3h0M105.4 85.7h0M106.0 86.0h0M110.5 86.9h0M110.8 86.2h0M112.2 85.0h0M117.1 84.8h0M110.2 85.3h0M104.2 86.2h0M110.4 85.1h0M116.6 84.0h0M114.6 85.6h0M109.3 85.6h0M109.5 85.5h0M69.1 97.5h0M69.5 97.7h0M86.3 96.6h0M92.9 97.9h0M86.2 97.7h0M100.8 99.2h0M88.5 96.9h0M95.1 97.5h0M93.7 96.4h0M97.5 98.4h0M91.4 97.7h0M85.6 96.4h0M86.1 98.6h0M92.4 97.4h0M89.0 99.1h0M94.6 99.3h0M85.6 98.0h0M100.3 96.5h0M90.4 96.8h0M94.2 96.8h0M96.5 95.7h0M91.7 99.9h0M98.4 97.5h0M90.4 96.2h0M99.3 98.2h0M92.5 96.3h0M99.3 97.4h0M88.8 99.4h0M99.2 98.2h0M96.2 95.9h0M88.5 96.4h0M93.7 98.1h0M91.0 97.8h0M92.0 97.3h0M95.5 97.8h0M92.5 97.6h0M90.1 98.6h0M87.2 100.0h0M100.4 98.7h0M95.0 98.4h0M97.5 96.6h0M87.0 97.5h0M99.3 96.0h0M84.8 97.7h0M92.7 97.0h0M100.1 98.5h0M88.4 97.6h0M88.8 99.9h0M97.7 98.6h0M90.2 96.6h0M83.8 98.8h0M83.6 98.4h0M92.0 97.0h0M99.8 98.9h0M86.7 97.4h0M88.3 99.8h0M86.5 96.4h0M98.1 96.8h0M102.5 98.3h0M108.9 98.1h0M106.7 97.6h0M102.7 97.8h0M102.0 97.4h0M107.5 97.0h0M108.8 99.1h0M107.4 98.3h0M109.4 98.4h0M105.0 98.0h0M103.8 97.8h0M107.5 109.7h0M91.2 110.2h0M101.8 109.0h0M107.3 109.5h0M96.6 109.9h0M90.5 109.1h0M101.4 110.4h0M95.5 109.3h0M108.0 109.4h0M93.4 109.5h0M105.1 109.9h0M108.2 109.6h0M98.8 109.3h0M97.8 109.9h0M90.5 111.3h0M100.6 109.6h0M92.8 107.5h0M99.8 109.5h0M95.0 109.3h0M109.5 109.9h0M96.3 110.0h0M99.1 109.7h0M111.9 109.6h0M106.7 109.5h0M95.3 109.0h0M102.0 109.5h0M110.5 110.3h0M97.8 108.5h0M103.3 111.1h0M90.5 108.7h0M90.9 110.1h0M72.0 121.4h0M80.8 120.8h0M84.3 119.6h0M88.4 120.5h0M87.8 121.7h0M81.3 121.6h0M80.9 120.8h0M78.6 120.9h0M78.9 121.3h0M79.0 120.6h0M82.3 121.6h0M89.9 120.6h0M78.9 119.7h0M81.4 122.8h0M81.1 122.1h0M79.8 122.1h0M79.7 121.5h0M81.5 122.8h0M79.8 120.7h0M81.1 122.7h0M81.0 123.3h0M95.6 122.1h0M90.7 121.2h0M89.5 121.0h0M93.5 121.1h0M97.3 121.6h0M99.2 120.3h0M88.4 121.1h0M94.3 121.3h0M94.5 121.6h0M88.9 120.4h0M95.5 121.5h0M81.2 130.8h0M92.0 132.0h0M88.2 132.5h0M82.6 132.5h0M78.9 134.6h0M81.7 131.2h0M95.6 134.0h0M85.0 133.5h0M79.7 131.3h0M75.6 135.9h0M76.7 133.6h0M77.8 135.2h0M71.6 132.2h0M77.9 133.0h0M84.6 132.5h0M88.1 132.1h0M86.4 134.9h0M80.4 130.6h0M80.8 134.2h0M90.5 132.7h0M90.0 132.2h0M93.4 130.5h0M75.8 132.4h0M86.5 132.4h0M81.4 132.9h0M85.7 135.3h0M77.9 133.4h0M76.3 134.4h0M85.2 133.7h0M73.4 133.7h0M74.3 133.2h0M83.5 132.8h0M92.0 132.7h0M94.5 133.5h0M94.6 134.2h0M85.0 133.7h0M92.6 131.9h0M78.2 134.6h0M90.5 132.9h0M91.6 134.3h0M93.8 134.1h0M82.7 132.0h0M90.3 131.7h0M92.8 131.8h0M74.9 132.1h0M77.7 134.6h0M76.5 135.0h0M96.4 133.5h0M97.2 134.6h0M82.7 134.7h0M88.3 131.1h0M97.7 135.1h0M72.9 133.2h0M72.7 132.8h0M79.2 132.9h0M74.8 129.6h0M80.3 134.9h0M84.4 133.6h0M81.5 132.6h0M93.7 135.4h0M79.1 132.1h0M91.8 134.4h0M97.5 132.0h0M86.0 134.6h0M104.0 133.4h0M72.9 144.9h0M74.0 145.9h0M78.9 144.6h0M73.6 145.1h0M73.0 145.6h0M76.0 145.6h0M72.1 144.8h0M75.0 145.3h0M77.0 145.6h0M80.2 145.2h0M75.0 145.3h0M81.2 145.1h0M76.0 145.6h0M75.8 145.2h0M98.3 145.4h0M95.9 145.1h0M96.7 145.7h0M98.5 144.8h0M95.6 145.6h0M97.5 145.3h0" stroke="#f5a124" stroke-width="1.6" stroke-linecap="round" stroke-opacity="0.9"/>
<path d="M100.1 39.9h0M99.2 38.3h0M98.0 38.2h0M98.9 37.0h0M122.4 37.9h0M129.7 37.9h0M131.9 37.6h0M138.5 37.9h0M58.2 74.3h0M91.6 133.8h0M76.4 133.9h0M94.5 133.4h0M76.6 134.6h0M81.1 134.7h0M77.2 133.5h0M87.8 133.3h0M84.6 134.1h0M82.0 133.3h0M75.4 133.7h0M93.6 133.2h0M78.0 133.8h0M84.6 134.1h0M93.1 133.4h0M84.7 131.7h0M82.7 134.3h0M75.3 131.9h0M87.7 132.9h0M80.1 135.3h0M95.9 132.6h0M66.0 145.3h0" stroke="#dd7a1c" stroke-width="1.6" stroke-linecap="round" stroke-opacity="0.9"/>
<path d="M78.4 25.5h0M78.2 26.5h0M80.8 25.9h0M79.0 26.5h0M79.2 25.1h0M78.7 25.9h0M78.9 25.7h0M80.2 26.6h0M107.8 37.9h0M100.5 51.2h0M100.7 50.1h0M101.4 49.3h0M101.3 49.5h0M84.4 134.2h0M79.3 132.0h0M76.5 133.6h0M77.4 133.8h0M82.8 133.4h0M85.8 132.5h0M76.2 134.0h0M76.2 135.8h0M86.0 134.0h0M90.0 131.8h0M83.6 134.0h0M90.6 131.6h0M94.7 135.3h0M83.6 134.8h0" stroke="#1f2796" stroke-width="1.6" stroke-linecap="round" stroke-opacity="0.9"/>
<rect x="56.6" y="20.7" width="97.7" height="131.5" fill="none" stroke="#7a7a7a" stroke-width="0.9"/>
<path d="M56.6 26h-1.6M56.6 37.9h-1.6M56.6 49.9h-1.6M56.6 61.8h-1.6M56.6 73.7h-1.6M56.6 85.7h-1.6M56.6 97.6h-1.6M56.6 109.5h-1.6M56.6 121.4h-1.6M56.6 133.4h-1.6M56.6 145.3h-1.6" stroke="#7a7a7a" stroke-width="0.6"/>
<text x="55.2" y="25.3" font-size="6.1" text-anchor="end" font-weight="bold" fill="#1a1a1a">GDP_PA</text>
<text x="55.2" y="29.8" font-size="4.4" text-anchor="end" font-weight="bold" fill="#333">(13.13%)</text>
<text x="55.2" y="37.2" font-size="6.1" text-anchor="end" font-weight="bold" fill="#1a1a1a">TEMP</text>
<text x="55.2" y="41.7" font-size="4.4" text-anchor="end" font-weight="bold" fill="#333">(10.73%)</text>
<text x="55.2" y="49.2" font-size="6.1" text-anchor="end" font-weight="bold" fill="#1a1a1a">Edu</text>
<text x="55.2" y="53.7" font-size="4.4" text-anchor="end" font-weight="bold" fill="#333">(10.51%)</text>
<text x="55.2" y="61.1" font-size="6.1" text-anchor="end" font-weight="bold" fill="#1a1a1a">NTL_PA</text>
<text x="55.2" y="65.6" font-size="4.4" text-anchor="end" font-weight="bold" fill="#333">(10.02%)</text>
<text x="55.2" y="73" font-size="6.1" text-anchor="end" font-weight="bold" fill="#1a1a1a">HIE</text>
<text x="55.2" y="77.5" font-size="4.4" text-anchor="end" font-weight="bold" fill="#333">(9.37%)</text>
<text x="55.2" y="85" font-size="6.1" text-anchor="end" font-weight="bold" fill="#1a1a1a">PRCP</text>
<text x="55.2" y="89.5" font-size="4.4" text-anchor="end" font-weight="bold" fill="#333">(8.98%)</text>
<text x="55.2" y="96.9" font-size="6.1" text-anchor="end" font-weight="bold" fill="#1a1a1a">Urban_R</text>
<text x="55.2" y="101.4" font-size="4.4" text-anchor="end" font-weight="bold" fill="#333">(8.62%)</text>
<text x="55.2" y="108.8" font-size="6.1" text-anchor="end" font-weight="bold" fill="#1a1a1a">DEM</text>
<text x="55.2" y="113.3" font-size="4.4" text-anchor="end" font-weight="bold" fill="#333">(6.79%)</text>
<text x="55.2" y="120.7" font-size="6.1" text-anchor="end" font-weight="bold" fill="#1a1a1a">Water_Dis</text>
<text x="55.2" y="125.2" font-size="4.4" text-anchor="end" font-weight="bold" fill="#333">(6.41%)</text>
<text x="55.2" y="132.7" font-size="6.1" text-anchor="end" font-weight="bold" fill="#1a1a1a">HIE_D</text>
<text x="55.2" y="137.2" font-size="4.4" text-anchor="end" font-weight="bold" fill="#333">(5.62%)</text>
<text x="55.2" y="144.6" font-size="6.1" text-anchor="end" font-weight="bold" fill="#1a1a1a">Rx5day</text>
<text x="55.2" y="149.1" font-size="4.4" text-anchor="end" font-weight="bold" fill="#333">(5.53%)</text>
<text x="66.5" y="159.4" font-size="6" text-anchor="middle" font-weight="bold" fill="#1a1a1a">-0.25</text>
<text x="86.2" y="159.4" font-size="6" text-anchor="middle" font-weight="bold" fill="#1a1a1a">0.00</text>
<text x="105.9" y="159.4" font-size="6" text-anchor="middle" font-weight="bold" fill="#1a1a1a">0.25</text>
<text x="125.6" y="159.4" font-size="6" text-anchor="middle" font-weight="bold" fill="#1a1a1a">0.50</text>
<text x="145.3" y="159.4" font-size="6" text-anchor="middle" font-weight="bold" fill="#1a1a1a">0.75</text>
<text x="105.5" y="168.2" font-size="8.8" text-anchor="middle" font-weight="bold" fill="#111">Effect on Mig_R (%)</text>
<text x="20" y="86.2" font-size="8.8" text-anchor="middle" font-weight="bold" fill="#111" transform="rotate(-90 20 86.2)">Features importance</text>
<defs><linearGradient id="cbar" x1="0" y1="0" x2="0" y2="1"><stop offset="0" stop-color="#b5602a"/><stop offset="0.3" stop-color="#f49a1e"/><stop offset="0.5" stop-color="#e2e2ee"/><stop offset="0.72" stop-color="#4a72dc"/><stop offset="1" stop-color="#0d0a6e"/></linearGradient></defs>
<rect x="143.6" y="59.7" width="3" height="85.3" fill="url(#cbar)"/>
<text x="141.6" y="62.3" font-size="6.1" text-anchor="end" font-weight="bold" fill="#1a1a1a">High</text>
<text x="141.6" y="104.8" font-size="6.1" text-anchor="end" font-weight="bold" fill="#1a1a1a">Middle</text>
<text x="141.6" y="147.2" font-size="6.1" text-anchor="end" font-weight="bold" fill="#1a1a1a">Low</text>
<text x="152.6" y="102.8" font-size="6.0" text-anchor="middle" font-weight="bold" fill="#1a1a1a" transform="rotate(-90 152.6 102.8)">Feature value</text>
<path d="M0 171H685" stroke="#b4b4b4" stroke-width="2"/>
<path d="M171.5 0V170M513.5 0V170" stroke="#6e6e6e" stroke-width="1"/>
<path d="M171.5 172V513M341.5 172V513M513.5 172V513M0 341.5H685" stroke="#f6f6f6" stroke-width="1"/>
<rect x="0.5" y="0.5" width="684" height="512" fill="none" stroke="#c4c4c4" stroke-width="1"/>
<text x="164.6" y="14.4" font-size="14.6" text-anchor="end" font-weight="bold" fill="#000">a</text>
<text x="507" y="14.3" font-size="14.6" text-anchor="end" font-weight="bold" fill="#000">b. Exposure</text>
<text x="678.3" y="14.3" font-size="14.6" text-anchor="end" font-weight="bold" fill="#000">c. Hazard</text>
<text x="677.3" y="185.4" font-size="14.6" text-anchor="end" font-weight="bold" fill="#000">d. Vulnerability</text>
</svg>
</body></html>
